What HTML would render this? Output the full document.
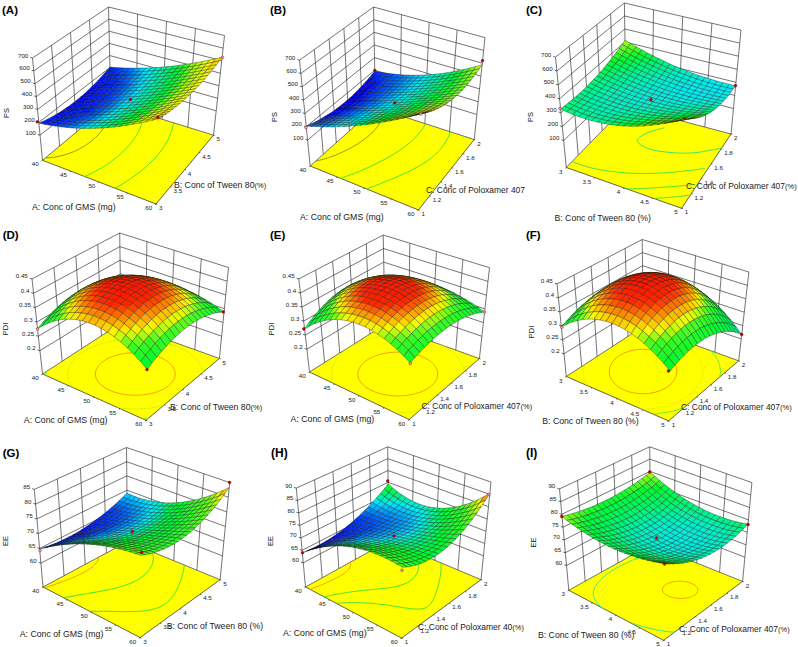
<!DOCTYPE html>
<html><head><meta charset="utf-8"><title>Figure</title>
<style>html,body{margin:0;padding:0;background:#fff}svg{display:block;font-family:"Liberation Sans", sans-serif}</style>
</head><body>
<svg width="798" height="647" viewBox="0 0 798 647">
<rect width="798" height="647" fill="#fff"/>
<g id="pA"><polygon points="42.5,160.3 156.0,204.0 213.5,135.2 110.8,103.3" fill="#ffff00"/>
<path d="M42.5,160.3L32.5,58.0M59.6,146.1L51.5,45.2M76.7,131.8L70.5,32.5M93.7,117.5L89.5,19.8M110.8,103.3L108.5,7.0M136.5,111.3L137.5,14.2M162.2,119.2L166.5,21.3M187.8,127.2L195.5,28.5M213.5,135.2L224.5,35.6M42.5,160.3L110.8,103.3M110.8,103.3L213.5,135.2M40.0,135.2L110.2,79.7M110.2,79.7L216.2,110.8M38.8,122.4L109.9,67.6M109.9,67.6L217.6,98.3M37.5,109.5L109.7,55.5M109.7,55.5L219.0,85.7M36.3,96.6L109.4,43.4M109.4,43.4L220.3,73.2M35.0,83.7L109.1,31.2M109.1,31.2L221.7,60.7M33.8,70.9L108.8,19.1M108.8,19.1L223.1,48.1M32.5,58.0L108.5,7.0M108.5,7.0L224.5,35.6" stroke="#3a3a3a" stroke-width="0.7" fill="none"/>
<path d="M42.5,160.3L156.0,204.0L213.5,135.2M42.5,160.3L41.5,161.1M70.9,171.2L69.9,172.1M99.2,182.2L98.3,183.0M127.6,193.1L126.6,193.9M156.0,204.0L155.0,204.8M156.0,204.0L157.2,204.4M170.4,186.8L171.6,187.2M184.8,169.6L186.0,170.0M199.1,152.4L200.4,152.8M213.5,135.2L214.7,135.6M40.0,135.2L37.8,134.5M38.8,122.4L36.6,121.7M37.5,109.5L35.3,108.8M36.3,96.6L34.1,95.9M35.0,83.7L32.8,83.0M33.8,70.9L31.6,70.2M32.5,58.0L30.3,57.3" stroke="#222" stroke-width="0.7" fill="none"/>
<path d="M46.3,157.8L49.5,157.7 49.6,157.7 52.9,157.3 53.5,157.3 56.5,156.8 57.0,156.7 60.2,156.0 60.3,156.0 63.1,155.3 64.5,154.9 65.9,154.5 68.5,153.6 69.2,153.4 71.0,152.7 73.3,151.8 74.5,151.2 75.5,150.8 77.6,149.8 79.6,148.7 81.1,147.9 81.6,147.7 83.4,146.6 85.2,145.5 86.9,144.4 88.5,143.3 90.1,142.1 91.6,140.9 93.0,139.8 94.2,138.7 94.4,138.6 94.8,138.2 95.7,137.4 97.0,136.2 98.1,134.9 99.3,133.7 100.3,132.4 101.4,131.2 102.3,129.9 103.2,128.6 103.9,127.5 104.0,127.3 104.8,126.0 105.5,124.7 106.1,123.4 106.3,122.9 106.6,122.0 107.1,120.6 107.5,119.3 107.5,119.3 107.8,117.9 108.1,116.4 108.1,116.4 108.2,115.0 108.2,113.9 108.2,113.5 108.1,112.0 108.1,111.7 107.9,110.5 107.7,109.7 107.5,108.9 107.1,107.9 106.9,107.3 106.4,106.2" stroke="#55552a" stroke-width="0.6" fill="none" stroke-linecap="round"/>
<path d="M143.0,113.1L143.1,114.1 143.1,114.6 143.0,116.0 143.0,116.7 142.9,117.4 142.7,118.8 142.6,119.7 142.5,120.2 142.2,121.6 141.9,123.0 141.8,123.0 141.4,124.3 141.0,125.7 140.6,126.9 140.5,127.1 140.0,128.4 139.4,129.8 138.7,131.1 138.4,131.7 138.0,132.4 137.3,133.8 136.6,135.1 135.7,136.4 134.9,137.7 134.5,138.3 134.0,139.0 133.1,140.3 132.1,141.6 131.1,142.9 130.0,144.2 128.9,145.5 127.8,146.8 126.6,148.1 125.4,149.3 124.1,150.6 122.8,151.9 121.4,153.1 120.0,154.4 118.6,155.6 117.1,156.9 115.6,158.1 114.0,159.3 112.4,160.5 110.8,161.8 110.2,162.2 109.1,163.0 107.3,164.2 105.5,165.4 103.7,166.5 101.8,167.7 101.1,168.1 99.8,168.9 97.8,170.0 95.8,171.2 93.9,172.1 93.7,172.3 91.5,173.4 89.2,174.5 87.7,175.2 86.9,175.6 84.5,176.6" stroke="#30e040" stroke-width="0.9" fill="none" stroke-linecap="round"/>
<path d="M173.6,122.8L173.3,124.2 173.2,124.7 173.0,125.6 172.7,126.9 172.3,128.3 172.3,128.5 171.9,129.7 171.5,131.1 171.0,132.4 170.8,133.0 170.5,133.8 170.0,135.2 169.4,136.5 168.8,137.9 168.6,138.4 168.2,139.3 167.5,140.6 166.7,142.0 166.0,143.3 165.2,144.7 164.5,145.7 164.4,146.0 163.5,147.4 162.6,148.7 161.6,150.0 160.6,151.4 159.6,152.7 158.5,154.0 157.4,155.3 156.3,156.6 155.1,158.0 153.9,159.3 152.6,160.6 151.3,161.9 150.0,163.2 148.6,164.5 147.2,165.8 145.7,167.0 144.2,168.3 142.7,169.6 141.1,170.9 140.5,171.4 139.5,172.2 137.9,173.4 136.2,174.7 134.5,175.9 132.7,177.2 130.9,178.4 130.6,178.7 129.1,179.7 127.2,180.9 125.3,182.2 123.4,183.4 122.5,184.0 121.4,184.6 119.4,185.9 117.3,187.1 115.2,188.3" stroke="#30e040" stroke-width="0.9" fill="none" stroke-linecap="round"/>
<g stroke="#101010" stroke-width="0.33" stroke-linejoin="round"><path d="M106.7,70.7L111.7,71.1L114.8,67.4L109.8,67.0Z" fill="#0025f7"/><path d="M111.7,71.1L116.8,71.3L119.8,67.7L114.8,67.4Z" fill="#0035f7"/><path d="M103.6,74.3L108.6,74.6L111.7,71.1L106.7,70.7Z" fill="#0020f6"/><path d="M108.6,74.6L113.7,74.9L116.8,71.3L111.7,71.1Z" fill="#0025f7"/><path d="M116.8,71.3L121.9,71.5L124.9,68.0L119.8,67.7Z" fill="#0047f8"/><path d="M100.4,77.8L105.5,78.1L108.6,74.6L103.6,74.3Z" fill="#001bf6"/><path d="M97.3,81.2L102.3,81.5L105.5,78.1L100.4,77.8Z" fill="#0017f6"/><path d="M105.5,78.1L110.5,78.3L113.7,74.9L108.6,74.6Z" fill="#0021f6"/><path d="M113.7,74.9L118.8,75.0L121.9,71.5L116.8,71.3Z" fill="#0038f7"/><path d="M121.9,71.5L127.0,71.7L130.1,68.1L124.9,68.0Z" fill="#005bf9"/><path d="M127.0,71.7L132.2,71.7L135.3,68.2L130.1,68.1Z" fill="#007bfa"/><path d="M94.0,84.5L99.1,84.8L102.3,81.5L97.3,81.2Z" fill="#0014f6"/><path d="M102.3,81.5L107.4,81.7L110.5,78.3L105.5,78.1Z" fill="#001df6"/><path d="M110.5,78.3L115.7,78.5L118.8,75.0L113.7,74.9Z" fill="#002af7"/><path d="M118.8,75.0L124.0,75.1L127.0,71.7L121.9,71.5Z" fill="#004cf8"/><path d="M90.7,87.8L95.8,88.0L99.1,84.8L94.0,84.5Z" fill="#0011f6"/><path d="M107.4,81.7L112.5,81.8L115.7,78.5L110.5,78.3Z" fill="#0023f6"/><path d="M124.0,75.1L129.2,75.1L132.2,71.7L127.0,71.7Z" fill="#0063f9"/><path d="M132.2,71.7L137.5,71.6L140.5,68.1L135.3,68.2Z" fill="#00a0fc"/><path d="M99.1,84.8L104.2,85.0L107.4,81.7L102.3,81.5Z" fill="#001af6"/><path d="M115.7,78.5L120.8,78.5L124.0,75.1L118.8,75.0Z" fill="#003ef8"/><path d="M95.8,88.0L100.9,88.2L104.2,85.0L99.1,84.8Z" fill="#0017f6"/><path d="M87.4,90.9L92.5,91.2L95.8,88.0L90.7,87.8Z" fill="#000ff6"/><path d="M104.2,85.0L109.3,85.1L112.5,81.8L107.4,81.7Z" fill="#0020f6"/><path d="M112.5,81.8L117.7,81.9L120.8,78.5L115.7,78.5Z" fill="#0033f7"/><path d="M120.8,78.5L126.1,78.5L129.2,75.1L124.0,75.1Z" fill="#0054f9"/><path d="M129.2,75.1L134.5,75.1L137.5,71.6L132.2,71.7Z" fill="#0089fb"/><path d="M137.5,71.6L142.9,71.5L145.9,68.0L140.5,68.1Z" fill="#00c7fd"/><path d="M92.5,91.2L97.6,91.3L100.9,88.2L95.8,88.0Z" fill="#0015f6"/><path d="M100.9,88.2L106.1,88.3L109.3,85.1L104.2,85.0Z" fill="#001df6"/><path d="M117.7,81.9L122.9,81.8L126.1,78.5L120.8,78.5Z" fill="#0049f8"/><path d="M142.9,71.5L148.3,71.3L151.3,67.8L145.9,68.0Z" fill="#00ebfb"/><path d="M84.1,94.0L89.1,94.2L92.5,91.2L87.4,90.9Z" fill="#000df6"/><path d="M109.3,85.1L114.5,85.1L117.7,81.9L112.5,81.8Z" fill="#0028f7"/><path d="M126.1,78.5L131.4,78.4L134.5,75.1L129.2,75.1Z" fill="#0075fa"/><path d="M134.5,75.1L139.8,74.9L142.9,71.5L137.5,71.6Z" fill="#00b1fd"/><path d="M80.6,96.9L85.7,97.2L89.1,94.2L84.1,94.0Z" fill="#000bf5"/><path d="M89.1,94.2L94.3,94.4L97.6,91.3L92.5,91.2Z" fill="#0013f6"/><path d="M97.6,91.3L102.8,91.5L106.1,88.3L100.9,88.2Z" fill="#001bf6"/><path d="M106.1,88.3L111.3,88.4L114.5,85.1L109.3,85.1Z" fill="#0024f7"/><path d="M114.5,85.1L119.8,85.1L122.9,81.8L117.7,81.9Z" fill="#003ff8"/><path d="M122.9,81.8L128.3,81.8L131.4,78.4L126.1,78.5Z" fill="#0063f9"/><path d="M139.8,74.9L145.2,74.7L148.3,71.3L142.9,71.5Z" fill="#00dbfe"/><path d="M148.3,71.3L153.7,70.9L156.7,67.5L151.3,67.8Z" fill="#00eedb"/><path d="M131.4,78.4L136.7,78.3L139.8,74.9L134.5,75.1Z" fill="#009dfc"/><path d="M111.3,88.4L116.6,88.3L119.8,85.1L114.5,85.1Z" fill="#0037f7"/><path d="M153.7,70.9L159.3,70.5L162.2,67.1L156.7,67.5Z" fill="#00f0b9"/><path d="M77.2,99.8L82.3,100.1L85.7,97.2L80.6,96.9Z" fill="#000bf5"/><path d="M85.7,97.2L90.9,97.4L94.3,94.4L89.1,94.2Z" fill="#0012f6"/><path d="M94.3,94.4L99.5,94.5L102.8,91.5L97.6,91.3Z" fill="#0019f6"/><path d="M102.8,91.5L108.0,91.5L111.3,88.4L106.1,88.3Z" fill="#0022f6"/><path d="M119.8,85.1L125.1,85.0L128.3,81.8L122.9,81.8Z" fill="#0057f9"/><path d="M128.3,81.8L133.6,81.6L136.7,78.3L131.4,78.4Z" fill="#008cfb"/><path d="M136.7,78.3L142.2,78.0L145.2,74.7L139.8,74.9Z" fill="#00c8fd"/><path d="M145.2,74.7L150.7,74.3L153.7,70.9L148.3,71.3Z" fill="#00edea"/><path d="M90.9,97.4L96.1,97.6L99.5,94.5L94.3,94.4Z" fill="#0018f6"/><path d="M108.0,91.5L113.3,91.5L116.6,88.3L111.3,88.4Z" fill="#0030f7"/><path d="M116.6,88.3L121.9,88.2L125.1,85.0L119.8,85.1Z" fill="#004ff8"/><path d="M133.6,81.6L139.1,81.3L142.2,78.0L136.7,78.3Z" fill="#00b7fd"/><path d="M150.7,74.3L156.3,73.9L159.3,70.5L153.7,70.9Z" fill="#00efc8"/><path d="M159.3,70.5L164.9,70.0L167.8,66.6L162.2,67.1Z" fill="#00f396"/><path d="M82.3,100.1L87.4,100.3L90.9,97.4L85.7,97.2Z" fill="#0011f6"/><path d="M73.7,102.6L78.8,102.9L82.3,100.1L77.2,99.8Z" fill="#000bf5"/><path d="M99.5,94.5L104.7,94.6L108.0,91.5L102.8,91.5Z" fill="#0020f6"/><path d="M125.1,85.0L130.5,84.9L133.6,81.6L128.3,81.8Z" fill="#007dfa"/><path d="M142.2,78.0L147.7,77.7L150.7,74.3L145.2,74.7Z" fill="#00ebf8"/><path d="M70.1,105.2L75.2,105.6L78.8,102.9L73.7,102.6Z" fill="#000bf5"/><path d="M87.4,100.3L92.7,100.5L96.1,97.6L90.9,97.4Z" fill="#0017f6"/><path d="M96.1,97.6L101.3,97.6L104.7,94.6L99.5,94.5Z" fill="#001ff6"/><path d="M104.7,94.6L110.0,94.6L113.3,91.5L108.0,91.5Z" fill="#002af7"/><path d="M113.3,91.5L118.7,91.4L121.9,88.2L116.6,88.3Z" fill="#0048f8"/><path d="M121.9,88.2L127.3,88.1L130.5,84.9L125.1,85.0Z" fill="#006ffa"/><path d="M130.5,84.9L136.0,84.6L139.1,81.3L133.6,81.6Z" fill="#00a8fc"/><path d="M139.1,81.3L144.6,81.0L147.7,77.7L142.2,78.0Z" fill="#00e4ff"/><path d="M147.7,77.7L153.2,77.3L156.3,73.9L150.7,74.3Z" fill="#00eed6"/><path d="M156.3,73.9L161.9,73.4L164.9,70.0L159.3,70.5Z" fill="#00f2a4"/><path d="M164.9,70.0L170.6,69.4L173.5,66.0L167.8,66.6Z" fill="#00f572"/><path d="M78.8,102.9L84.0,103.2L87.4,100.3L82.3,100.1Z" fill="#0011f6"/><path d="M101.3,97.6L106.7,97.7L110.0,94.6L104.7,94.6Z" fill="#0026f7"/><path d="M127.3,88.1L132.8,87.8L136.0,84.6L130.5,84.9Z" fill="#009bfc"/><path d="M144.6,81.0L150.2,80.6L153.2,77.3L147.7,77.7Z" fill="#00ede2"/><path d="M170.6,69.4L176.4,68.7L179.3,65.2L173.5,66.0Z" fill="#00f84e"/><path d="M75.2,105.6L80.4,105.9L84.0,103.2L78.8,102.9Z" fill="#0011f6"/><path d="M66.4,107.8L71.6,108.3L75.2,105.6L70.1,105.2Z" fill="#000cf6"/><path d="M84.0,103.2L89.2,103.4L92.7,100.5L87.4,100.3Z" fill="#0017f6"/><path d="M92.7,100.5L97.9,100.6L101.3,97.6L96.1,97.6Z" fill="#001ef6"/><path d="M110.0,94.6L115.4,94.5L118.7,91.4L113.3,91.5Z" fill="#0043f8"/><path d="M118.7,91.4L124.1,91.3L127.3,88.1L121.9,88.2Z" fill="#0065f9"/><path d="M136.0,84.6L141.5,84.3L144.6,81.0L139.1,81.3Z" fill="#00d5fe"/><path d="M153.2,77.3L158.9,76.8L161.9,73.4L156.3,73.9Z" fill="#00f1b2"/><path d="M161.9,73.4L167.6,72.9L170.6,69.4L164.9,70.0Z" fill="#00f47f"/><path d="M62.7,110.3L67.9,110.8L71.6,108.3L66.4,107.8Z" fill="#000df6"/><path d="M80.4,105.9L85.7,106.2L89.2,103.4L84.0,103.2Z" fill="#0017f6"/><path d="M97.9,100.6L103.3,100.6L106.7,97.7L101.3,97.6Z" fill="#0025f7"/><path d="M106.7,97.7L112.0,97.6L115.4,94.5L110.0,94.6Z" fill="#003ff8"/><path d="M124.1,91.3L129.6,91.0L132.8,87.8L127.3,88.1Z" fill="#0091fb"/><path d="M132.8,87.8L138.3,87.5L141.5,84.3L136.0,84.6Z" fill="#00c9fe"/><path d="M141.5,84.3L147.1,83.9L150.2,80.6L144.6,81.0Z" fill="#00ecec"/><path d="M150.2,80.6L155.8,80.2L158.9,76.8L153.2,77.3Z" fill="#00f0bd"/><path d="M167.6,72.9L173.4,72.2L176.4,68.7L170.6,69.4Z" fill="#00f75b"/><path d="M176.4,68.7L182.2,67.9L185.1,64.4L179.3,65.2Z" fill="#0cfa30"/><path d="M71.6,108.3L76.8,108.6L80.4,105.9L75.2,105.6Z" fill="#0012f6"/><path d="M89.2,103.4L94.5,103.5L97.9,100.6L92.7,100.5Z" fill="#001ef6"/><path d="M115.4,94.5L120.8,94.4L124.1,91.3L118.7,91.4Z" fill="#005df9"/><path d="M158.9,76.8L164.6,76.2L167.6,72.9L161.9,73.4Z" fill="#00f38c"/><path d="M138.3,87.5L143.9,87.2L147.1,83.9L141.5,84.3Z" fill="#00ecf5"/><path d="M67.9,110.8L73.1,111.2L76.8,108.6L71.6,108.3Z" fill="#0013f6"/><path d="M59.0,112.7L64.2,113.3L67.9,110.8L62.7,110.3Z" fill="#000ff6"/><path d="M76.8,108.6L82.1,108.9L85.7,106.2L80.4,105.9Z" fill="#0018f6"/><path d="M85.7,106.2L91.0,106.4L94.5,103.5L89.2,103.4Z" fill="#001ef6"/><path d="M103.3,100.6L108.7,100.6L112.0,97.6L106.7,97.7Z" fill="#003cf8"/><path d="M112.0,97.6L117.5,97.5L120.8,94.4L115.4,94.5Z" fill="#0059f9"/><path d="M120.8,94.4L126.3,94.2L129.6,91.0L124.1,91.3Z" fill="#0088fb"/><path d="M129.6,91.0L135.1,90.7L138.3,87.5L132.8,87.8Z" fill="#00befd"/><path d="M147.1,83.9L152.8,83.5L155.8,80.2L150.2,80.6Z" fill="#00efc8"/><path d="M155.8,80.2L161.6,79.6L164.6,76.2L158.9,76.8Z" fill="#00f398"/><path d="M164.6,76.2L170.4,75.6L173.4,72.2L167.6,72.9Z" fill="#00f667"/><path d="M173.4,72.2L179.3,71.4L182.2,67.9L176.4,68.7Z" fill="#00fa36"/><path d="M182.2,67.9L188.2,67.0L191.0,63.5L185.1,64.4Z" fill="#42fb25"/><path d="M94.5,103.5L99.8,103.6L103.3,100.6L97.9,100.6Z" fill="#0025f7"/><path d="M73.1,111.2L78.4,111.6L82.1,108.9L76.8,108.6Z" fill="#0019f6"/><path d="M117.5,97.5L123.0,97.3L126.3,94.2L120.8,94.4Z" fill="#0082fb"/><path d="M135.1,90.7L140.8,90.4L143.9,87.2L138.3,87.5Z" fill="#00ebfd"/><path d="M143.9,87.2L149.6,86.7L152.8,83.5L147.1,83.9Z" fill="#00eed1"/><path d="M161.6,79.6L167.4,79.0L170.4,75.6L164.6,76.2Z" fill="#00f572"/><path d="M188.2,67.0L194.2,66.0L197.1,62.4L191.0,63.5Z" fill="#91fb15"/><path d="M91.0,106.4L96.3,106.5L99.8,103.6L94.5,103.5Z" fill="#0025f7"/><path d="M55.1,115.0L60.4,115.7L64.2,113.3L59.0,112.7Z" fill="#0012f6"/><path d="M64.2,113.3L69.4,113.8L73.1,111.2L67.9,110.8Z" fill="#0015f6"/><path d="M82.1,108.9L87.4,109.1L91.0,106.4L85.7,106.2Z" fill="#001ef6"/><path d="M99.8,103.6L105.3,103.6L108.7,100.6L103.3,100.6Z" fill="#003bf8"/><path d="M108.7,100.6L114.1,100.5L117.5,97.5L112.0,97.6Z" fill="#0056f9"/><path d="M126.3,94.2L131.9,93.9L135.1,90.7L129.6,91.0Z" fill="#00b6fd"/><path d="M152.8,83.5L158.5,82.9L161.6,79.6L155.8,80.2Z" fill="#00f2a2"/><path d="M170.4,75.6L176.3,74.8L179.3,71.4L173.4,72.2Z" fill="#00f942"/><path d="M179.3,71.4L185.2,70.5L188.2,67.0L182.2,67.9Z" fill="#2cfa29"/><path d="M78.4,111.6L83.8,111.9L87.4,109.1L82.1,108.9Z" fill="#001ff6"/><path d="M51.2,117.2L56.5,117.9L60.4,115.7L55.1,115.0Z" fill="#0015f6"/><path d="M69.4,113.8L74.7,114.2L78.4,111.6L73.1,111.2Z" fill="#001bf6"/><path d="M96.3,106.5L101.8,106.5L105.3,103.6L99.8,103.6Z" fill="#003bf8"/><path d="M114.1,100.5L119.7,100.3L123.0,97.3L117.5,97.5Z" fill="#007dfa"/><path d="M123.0,97.3L128.6,97.0L131.9,93.9L126.3,94.2Z" fill="#00b0fc"/><path d="M131.9,93.9L137.5,93.5L140.8,90.4L135.1,90.7Z" fill="#00e6ff"/><path d="M140.8,90.4L146.5,89.9L149.6,86.7L143.9,87.2Z" fill="#00eed8"/><path d="M149.6,86.7L155.4,86.2L158.5,82.9L152.8,83.5Z" fill="#00f1ab"/><path d="M158.5,82.9L164.4,82.3L167.4,79.0L161.6,79.6Z" fill="#00f57c"/><path d="M167.4,79.0L173.3,78.2L176.3,74.8L170.4,75.6Z" fill="#00f84d"/><path d="M185.2,70.5L191.3,69.6L194.2,66.0L188.2,67.0Z" fill="#76fb1b"/><path d="M194.2,66.0L200.3,64.9L203.2,61.3L197.1,62.4Z" fill="#befc0c"/><path d="M60.4,115.7L65.6,116.2L69.4,113.8L64.2,113.3Z" fill="#0017f6"/><path d="M87.4,109.1L92.8,109.3L96.3,106.5L91.0,106.4Z" fill="#0025f7"/><path d="M105.3,103.6L110.7,103.5L114.1,100.5L108.7,100.6Z" fill="#0055f9"/><path d="M176.3,74.8L182.3,74.0L185.2,70.5L179.3,71.4Z" fill="#1cfa2c"/><path d="M128.6,97.0L134.3,96.7L137.5,93.5L131.9,93.9Z" fill="#00e0ff"/><path d="M155.4,86.2L161.3,85.6L164.4,82.3L158.5,82.9Z" fill="#00f484"/><path d="M200.3,64.9L206.5,63.7L209.4,60.0L203.2,61.3Z" fill="#e3fc05"/><path d="M83.8,111.9L89.2,112.0L92.8,109.3L87.4,109.1Z" fill="#0027f7"/><path d="M47.2,119.3L52.5,120.1L56.5,117.9L51.2,117.2Z" fill="#0019f6"/><path d="M56.5,117.9L61.8,118.6L65.6,116.2L60.4,115.7Z" fill="#001af6"/><path d="M65.6,116.2L71.0,116.7L74.7,114.2L69.4,113.8Z" fill="#001df6"/><path d="M74.7,114.2L80.1,114.5L83.8,111.9L78.4,111.6Z" fill="#0021f6"/><path d="M92.8,109.3L98.2,109.3L101.8,106.5L96.3,106.5Z" fill="#003df8"/><path d="M101.8,106.5L107.3,106.4L110.7,103.5L105.3,103.6Z" fill="#0055f9"/><path d="M110.7,103.5L116.3,103.3L119.7,100.3L114.1,100.5Z" fill="#007bfa"/><path d="M119.7,100.3L125.3,100.1L128.6,97.0L123.0,97.3Z" fill="#00abfc"/><path d="M137.5,93.5L143.3,93.1L146.5,89.9L140.8,90.4Z" fill="#00edde"/><path d="M146.5,89.9L152.3,89.4L155.4,86.2L149.6,86.7Z" fill="#00f1b2"/><path d="M164.4,82.3L170.3,81.6L173.3,78.2L167.4,79.0Z" fill="#00f756"/><path d="M173.3,78.2L179.3,77.4L182.3,74.0L176.3,74.8Z" fill="#0ffa2f"/><path d="M182.3,74.0L188.3,73.1L191.3,69.6L185.2,70.5Z" fill="#5dfb1f"/><path d="M191.3,69.6L197.4,68.5L200.3,64.9L194.2,66.0Z" fill="#b2fb0f"/><path d="M89.2,112.0L94.7,112.1L98.2,109.3L92.8,109.3Z" fill="#003ff8"/><path d="M107.3,106.4L112.9,106.3L116.3,103.3L110.7,103.5Z" fill="#007bfa"/><path d="M125.3,100.1L131.0,99.7L134.3,96.7L128.6,97.0Z" fill="#00dbfe"/><path d="M134.3,96.7L140.0,96.2L143.3,93.1L137.5,93.5Z" fill="#00ede3"/><path d="M152.3,89.4L158.1,88.8L161.3,85.6L155.4,86.2Z" fill="#00f38b"/><path d="M161.3,85.6L167.2,84.9L170.3,81.6L164.4,82.3Z" fill="#00f75e"/><path d="M179.3,77.4L185.4,76.5L188.3,73.1L182.3,74.0Z" fill="#48fb24"/><path d="M197.4,68.5L203.7,67.3L206.5,63.7L200.3,64.9Z" fill="#d6fc08"/><path d="M206.5,63.7L212.9,62.4L215.7,58.6L209.4,60.0Z" fill="#fcf000"/><path d="M61.8,118.6L67.1,119.2L71.0,116.7L65.6,116.2Z" fill="#0020f6"/><path d="M80.1,114.5L85.5,114.8L89.2,112.0L83.8,111.9Z" fill="#002cf7"/><path d="M43.2,121.3L48.5,122.2L52.5,120.1L47.2,119.3Z" fill="#001df6"/><path d="M52.5,120.1L57.8,120.9L61.8,118.6L56.5,117.9Z" fill="#001ef6"/><path d="M71.0,116.7L76.4,117.1L80.1,114.5L74.7,114.2Z" fill="#0023f6"/><path d="M98.2,109.3L103.8,109.3L107.3,106.4L101.8,106.5Z" fill="#0056f9"/><path d="M116.3,103.3L121.9,103.1L125.3,100.1L119.7,100.3Z" fill="#00a9fc"/><path d="M143.3,93.1L149.1,92.6L152.3,89.4L146.5,89.9Z" fill="#00f0b8"/><path d="M170.3,81.6L176.3,80.8L179.3,77.4L173.3,78.2Z" fill="#03fa31"/><path d="M188.3,73.1L194.5,72.0L197.4,68.5L191.3,69.6Z" fill="#a7fb11"/><path d="M39.0,123.1L44.4,124.3L48.5,122.2L43.2,121.3Z" fill="#0022f6"/><path d="M48.5,122.2L53.8,123.1L57.8,120.9L52.5,120.1Z" fill="#0022f6"/><path d="M57.8,120.9L63.2,121.6L67.1,119.2L61.8,118.6Z" fill="#0023f6"/><path d="M67.1,119.2L72.5,119.6L76.4,117.1L71.0,116.7Z" fill="#0025f7"/><path d="M76.4,117.1L81.8,117.4L85.5,114.8L80.1,114.5Z" fill="#0032f7"/><path d="M85.5,114.8L91.0,114.9L94.7,112.1L89.2,112.0Z" fill="#0044f8"/><path d="M94.7,112.1L100.2,112.2L103.8,109.3L98.2,109.3Z" fill="#0058f9"/><path d="M103.8,109.3L109.4,109.2L112.9,106.3L107.3,106.4Z" fill="#007dfa"/><path d="M112.9,106.3L118.5,106.1L121.9,103.1L116.3,103.3Z" fill="#00a9fc"/><path d="M121.9,103.1L127.6,102.8L131.0,99.7L125.3,100.1Z" fill="#00d9fe"/><path d="M131.0,99.7L136.7,99.3L140.0,96.2L134.3,96.7Z" fill="#00ede6"/><path d="M140.0,96.2L145.9,95.7L149.1,92.6L143.3,93.1Z" fill="#00f0bc"/><path d="M149.1,92.6L155.0,92.0L158.1,88.8L152.3,89.4Z" fill="#00f391"/><path d="M158.1,88.8L164.1,88.1L167.2,84.9L161.3,85.6Z" fill="#00f665"/><path d="M167.2,84.9L173.2,84.1L176.3,80.8L170.3,81.6Z" fill="#00fa37"/><path d="M176.3,80.8L182.4,79.9L185.4,76.5L179.3,77.4Z" fill="#36fa27"/><path d="M185.4,76.5L191.6,75.5L194.5,72.0L188.3,73.1Z" fill="#98fb14"/><path d="M194.5,72.0L200.8,70.9L203.7,67.3L197.4,68.5Z" fill="#cbfc0a"/><path d="M203.7,67.3L210.0,66.1L212.9,62.4L206.5,63.7Z" fill="#fcfc00"/><path d="M212.9,62.4L219.3,60.9L222.1,57.1L215.7,58.6Z" fill="#fdcf00"/><path d="M100.2,112.2L105.8,112.1L109.4,109.2L103.8,109.3Z" fill="#0080fa"/><path d="M118.5,106.1L124.2,105.8L127.6,102.8L121.9,103.1Z" fill="#00d9fe"/><path d="M145.9,95.7L151.8,95.2L155.0,92.0L149.1,92.6Z" fill="#00f395"/><path d="M173.2,84.1L179.4,83.2L182.4,79.9L176.3,80.8Z" fill="#2bfa2a"/><path d="M191.6,75.5L197.8,74.4L200.8,70.9L194.5,72.0Z" fill="#c1fc0c"/><path d="M53.8,123.1L59.3,123.9L63.2,121.6L57.8,120.9Z" fill="#0028f7"/><path d="M72.5,119.6L78.0,120.0L81.8,117.4L76.4,117.1Z" fill="#003af7"/><path d="M44.4,124.3L49.8,125.2L53.8,123.1L48.5,122.2Z" fill="#0027f7"/><path d="M63.2,121.6L68.7,122.1L72.5,119.6L67.1,119.2Z" fill="#002ef7"/><path d="M81.8,117.4L87.3,117.6L91.0,114.9L85.5,114.8Z" fill="#0049f8"/><path d="M91.0,114.9L96.6,115.0L100.2,112.2L94.7,112.1Z" fill="#005cf9"/><path d="M109.4,109.2L115.0,109.0L118.5,106.1L112.9,106.3Z" fill="#00abfc"/><path d="M127.6,102.8L133.4,102.4L136.7,99.3L131.0,99.7Z" fill="#00ede7"/><path d="M136.7,99.3L142.6,98.8L145.9,95.7L140.0,96.2Z" fill="#00f0bf"/><path d="M155.0,92.0L161.0,91.3L164.1,88.1L158.1,88.8Z" fill="#00f66a"/><path d="M164.1,88.1L170.1,87.4L173.2,84.1L167.2,84.9Z" fill="#00f93e"/><path d="M182.4,79.9L188.6,78.9L191.6,75.5L185.4,76.5Z" fill="#85fb18"/><path d="M200.8,70.9L207.1,69.7L210.0,66.1L203.7,67.3Z" fill="#f0fc02"/><path d="M210.0,66.1L216.5,64.7L219.3,60.9L212.9,62.4Z" fill="#fcda00"/><path d="M96.6,115.0L102.2,114.9L105.8,112.1L100.2,112.2Z" fill="#0086fb"/><path d="M105.8,112.1L111.5,111.9L115.0,109.0L109.4,109.2Z" fill="#00aefc"/><path d="M115.0,109.0L120.8,108.7L124.2,105.8L118.5,106.1Z" fill="#00dafe"/><path d="M124.2,105.8L130.0,105.4L133.4,102.4L127.6,102.8Z" fill="#00ede7"/><path d="M142.6,98.8L148.5,98.3L151.8,95.2L145.9,95.7Z" fill="#00f398"/><path d="M151.8,95.2L157.8,94.5L161.0,91.3L155.0,92.0Z" fill="#00f66e"/><path d="M170.1,87.4L176.3,86.5L179.4,83.2L173.2,84.1Z" fill="#22fa2b"/><path d="M179.4,83.2L185.6,82.3L188.6,78.9L182.4,79.9Z" fill="#75fb1b"/><path d="M188.6,78.9L194.9,77.9L197.8,74.4L191.6,75.5Z" fill="#b9fb0d"/><path d="M197.8,74.4L204.2,73.2L207.1,69.7L200.8,70.9Z" fill="#e6fc04"/><path d="M49.8,125.2L55.2,126.1L59.3,123.9L53.8,123.1Z" fill="#0036f7"/><path d="M59.3,123.9L64.7,124.5L68.7,122.1L63.2,121.6Z" fill="#0039f7"/><path d="M68.7,122.1L74.2,122.5L78.0,120.0L72.5,119.6Z" fill="#0042f8"/><path d="M78.0,120.0L83.6,120.3L87.3,117.6L81.8,117.4Z" fill="#0050f8"/><path d="M87.3,117.6L92.9,117.7L96.6,115.0L91.0,114.9Z" fill="#0064f9"/><path d="M133.4,102.4L139.3,101.9L142.6,98.8L136.7,99.3Z" fill="#00f0c1"/><path d="M161.0,91.3L167.0,90.6L170.1,87.4L164.1,88.1Z" fill="#00f943"/><path d="M207.1,69.7L213.6,68.3L216.5,64.7L210.0,66.1Z" fill="#fce300"/><path d="M111.5,111.9L117.3,111.7L120.8,108.7L115.0,109.0Z" fill="#00defe"/><path d="M185.6,82.3L191.9,81.2L194.9,77.9L188.6,78.9Z" fill="#b2fb0f"/><path d="M64.7,124.5L70.2,125.0L74.2,122.5L68.7,122.1Z" fill="#004df8"/><path d="M92.9,117.7L98.6,117.7L102.2,114.9L96.6,115.0Z" fill="#008ffb"/><path d="M55.2,126.1L60.7,126.8L64.7,124.5L59.3,123.9Z" fill="#0046f8"/><path d="M74.2,122.5L79.7,122.8L83.6,120.3L78.0,120.0Z" fill="#0058f9"/><path d="M102.2,114.9L107.9,114.8L111.5,111.9L105.8,112.1Z" fill="#00b4fd"/><path d="M120.8,108.7L126.6,108.4L130.0,105.4L124.2,105.8Z" fill="#00ede6"/><path d="M130.0,105.4L135.9,104.9L139.3,101.9L133.4,102.4Z" fill="#00f0c1"/><path d="M139.3,101.9L145.2,101.3L148.5,98.3L142.6,98.8Z" fill="#00f299"/><path d="M148.5,98.3L154.5,97.6L157.8,94.5L151.8,95.2Z" fill="#00f570"/><path d="M157.8,94.5L163.9,93.7L167.0,90.6L161.0,91.3Z" fill="#00f847"/><path d="M167.0,90.6L173.2,89.7L176.3,86.5L170.1,87.4Z" fill="#1cfa2c"/><path d="M176.3,86.5L182.5,85.6L185.6,82.3L179.4,83.2Z" fill="#69fb1d"/><path d="M194.9,77.9L201.3,76.7L204.2,73.2L197.8,74.4Z" fill="#defc06"/><path d="M204.2,73.2L210.7,71.9L213.6,68.3L207.1,69.7Z" fill="#fcec00"/><path d="M83.6,120.3L89.2,120.4L92.9,117.7L87.3,117.6Z" fill="#006efa"/><path d="M107.9,114.8L113.7,114.5L117.3,111.7L111.5,111.9Z" fill="#00e4ff"/><path d="M117.3,111.7L123.1,111.3L126.6,108.4L120.8,108.7Z" fill="#00ede3"/><path d="M135.9,104.9L141.9,104.4L145.2,101.3L139.3,101.9Z" fill="#00f299"/><path d="M163.9,93.7L170.0,92.9L173.2,89.7L167.0,90.6Z" fill="#18fa2d"/><path d="M182.5,85.6L188.9,84.6L191.9,81.2L185.6,82.3Z" fill="#acfb10"/><path d="M191.9,81.2L198.3,80.1L201.3,76.7L194.9,77.9Z" fill="#d7fc07"/><path d="M89.2,120.4L94.8,120.4L98.6,117.7L92.9,117.7Z" fill="#0099fb"/><path d="M60.7,126.8L66.2,127.4L70.2,125.0L64.7,124.5Z" fill="#0059f9"/><path d="M70.2,125.0L75.8,125.4L79.7,122.8L74.2,122.5Z" fill="#0064f9"/><path d="M98.6,117.7L104.3,117.6L107.9,114.8L102.2,114.9Z" fill="#00bcfd"/><path d="M79.7,122.8L85.3,123.0L89.2,120.4L83.6,120.3Z" fill="#007bfa"/><path d="M126.6,108.4L132.5,107.9L135.9,104.9L130.0,105.4Z" fill="#00f0c0"/><path d="M145.2,101.3L151.3,100.7L154.5,97.6L148.5,98.3Z" fill="#00f572"/><path d="M154.5,97.6L160.6,96.9L163.9,93.7L157.8,94.5Z" fill="#00f849"/><path d="M173.2,89.7L179.4,88.8L182.5,85.6L176.3,86.5Z" fill="#5ffb1f"/><path d="M201.3,76.7L207.8,75.4L210.7,71.9L204.2,73.2Z" fill="#fcf500"/><path d="M104.3,117.6L110.1,117.4L113.7,114.5L107.9,114.8Z" fill="#00ebff"/><path d="M66.2,127.4L71.9,127.9L75.8,125.4L70.2,125.0Z" fill="#0077fa"/><path d="M85.3,123.0L91.0,123.1L94.8,120.4L89.2,120.4Z" fill="#00a5fc"/><path d="M94.8,120.4L100.6,120.4L104.3,117.6L98.6,117.7Z" fill="#00c6fd"/><path d="M113.7,114.5L119.6,114.2L123.1,111.3L117.3,111.7Z" fill="#00eddf"/><path d="M123.1,111.3L129.0,110.8L132.5,107.9L126.6,108.4Z" fill="#00f0bd"/><path d="M132.5,107.9L138.5,107.4L141.9,104.4L135.9,104.9Z" fill="#00f398"/><path d="M141.9,104.4L147.9,103.7L151.3,100.7L145.2,101.3Z" fill="#00f571"/><path d="M160.6,96.9L166.8,96.0L170.0,92.9L163.9,93.7Z" fill="#15fa2e"/><path d="M170.0,92.9L176.3,92.0L179.4,88.8L173.2,89.7Z" fill="#58fb20"/><path d="M179.4,88.8L185.8,87.8L188.9,84.6L182.5,85.6Z" fill="#a8fb11"/><path d="M188.9,84.6L195.3,83.4L198.3,80.1L191.9,81.2Z" fill="#d1fc09"/><path d="M198.3,80.1L204.8,78.9L207.8,75.4L201.3,76.7Z" fill="#fcfc00"/><path d="M75.8,125.4L81.5,125.6L85.3,123.0L79.7,122.8Z" fill="#008afb"/><path d="M151.3,100.7L157.4,99.9L160.6,96.9L154.5,97.6Z" fill="#00f84a"/><path d="M100.6,120.4L106.4,120.2L110.1,117.4L104.3,117.6Z" fill="#00ecf8"/><path d="M129.0,110.8L135.0,110.3L138.5,107.4L132.5,107.9Z" fill="#00f395"/><path d="M176.3,92.0L182.7,91.0L185.8,87.8L179.4,88.8Z" fill="#a5fb11"/><path d="M81.5,125.6L87.2,125.8L91.0,123.1L85.3,123.0Z" fill="#00b3fd"/><path d="M71.9,127.9L77.5,128.2L81.5,125.6L75.8,125.4Z" fill="#009cfc"/><path d="M91.0,123.1L96.8,123.1L100.6,120.4L94.8,120.4Z" fill="#00d1fe"/><path d="M110.1,117.4L116.0,117.0L119.6,114.2L113.7,114.5Z" fill="#00eeda"/><path d="M119.6,114.2L125.5,113.7L129.0,110.8L123.1,111.3Z" fill="#00f0b8"/><path d="M138.5,107.4L144.6,106.7L147.9,103.7L141.9,104.4Z" fill="#00f570"/><path d="M147.9,103.7L154.1,103.0L157.4,99.9L151.3,100.7Z" fill="#00f84a"/><path d="M157.4,99.9L163.6,99.1L166.8,96.0L160.6,96.9Z" fill="#14fa2e"/><path d="M166.8,96.0L173.1,95.1L176.3,92.0L170.0,92.9Z" fill="#55fb21"/><path d="M185.8,87.8L192.3,86.7L195.3,83.4L188.9,84.6Z" fill="#cdfc09"/><path d="M195.3,83.4L201.8,82.2L204.8,78.9L198.3,80.1Z" fill="#f7fc01"/><path d="M77.5,128.2L83.3,128.4L87.2,125.8L81.5,125.6Z" fill="#00c4fd"/><path d="M96.8,123.1L102.7,122.9L106.4,120.2L100.6,120.4Z" fill="#00ecef"/><path d="M106.4,120.2L112.3,119.9L116.0,117.0L110.1,117.4Z" fill="#00eed3"/><path d="M125.5,113.7L131.5,113.2L135.0,110.3L129.0,110.8Z" fill="#00f390"/><path d="M135.0,110.3L141.1,109.6L144.6,106.7L138.5,107.4Z" fill="#00f66d"/><path d="M154.1,103.0L160.3,102.1L163.6,99.1L157.4,99.9Z" fill="#15fa2e"/><path d="M173.1,95.1L179.6,94.1L182.7,91.0L176.3,92.0Z" fill="#a4fb11"/><path d="M182.7,91.0L189.2,89.9L192.3,86.7L185.8,87.8Z" fill="#cafc0a"/><path d="M87.2,125.8L93.0,125.8L96.8,123.1L91.0,123.1Z" fill="#00dffe"/><path d="M116.0,117.0L121.9,116.6L125.5,113.7L119.6,114.2Z" fill="#00f1b3"/><path d="M144.6,106.7L150.7,106.0L154.1,103.0L147.9,103.7Z" fill="#00f848"/><path d="M163.6,99.1L169.9,98.2L173.1,95.1L166.8,96.0Z" fill="#54fb21"/><path d="M192.3,86.7L198.8,85.5L201.8,82.2L195.3,83.4Z" fill="#f3fc02"/><path d="M93.0,125.8L98.8,125.6L102.7,122.9L96.8,123.1Z" fill="#00ede5"/><path d="M83.3,128.4L89.1,128.4L93.0,125.8L87.2,125.8Z" fill="#00ebfc"/><path d="M102.7,122.9L108.6,122.6L112.3,119.9L106.4,120.2Z" fill="#00efca"/><path d="M112.3,119.9L118.3,119.4L121.9,116.6L116.0,117.0Z" fill="#00f1ac"/><path d="M121.9,116.6L128.0,116.1L131.5,113.2L125.5,113.7Z" fill="#00f48a"/><path d="M131.5,113.2L137.7,112.5L141.1,109.6L135.0,110.3Z" fill="#00f668"/><path d="M141.1,109.6L147.3,108.9L150.7,106.0L144.6,106.7Z" fill="#00f944"/><path d="M150.7,106.0L157.0,105.1L160.3,102.1L154.1,103.0Z" fill="#18fa2d"/><path d="M160.3,102.1L166.7,101.2L169.9,98.2L163.6,99.1Z" fill="#56fb21"/><path d="M169.9,98.2L176.4,97.2L179.6,94.1L173.1,95.1Z" fill="#a4fb11"/><path d="M179.6,94.1L186.1,93.0L189.2,89.9L182.7,91.0Z" fill="#c9fc0a"/><path d="M189.2,89.9L195.8,88.7L198.8,85.5L192.3,86.7Z" fill="#f0fc02"/><path d="M89.1,128.4L95.0,128.3L98.8,125.6L93.0,125.8Z" fill="#00eed9"/><path d="M118.3,119.4L124.4,118.9L128.0,116.1L121.9,116.6Z" fill="#00f483"/><path d="M147.3,108.9L153.6,108.0L157.0,105.1L150.7,106.0Z" fill="#1dfa2c"/><path d="M166.7,101.2L173.2,100.2L176.4,97.2L169.9,98.2Z" fill="#a5fb11"/><path d="M98.8,125.6L104.8,125.4L108.6,122.6L102.7,122.9Z" fill="#00f0c0"/><path d="M108.6,122.6L114.6,122.2L118.3,119.4L112.3,119.9Z" fill="#00f2a3"/><path d="M128.0,116.1L134.1,115.4L137.7,112.5L131.5,113.2Z" fill="#00f662"/><path d="M137.7,112.5L143.9,111.8L147.3,108.9L141.1,109.6Z" fill="#00f93f"/><path d="M157.0,105.1L163.4,104.2L166.7,101.2L160.3,102.1Z" fill="#5cfb20"/><path d="M176.4,97.2L182.9,96.1L186.1,93.0L179.6,94.1Z" fill="#c9fc0a"/><path d="M186.1,93.0L192.7,91.8L195.8,88.7L189.2,89.9Z" fill="#effc03"/><path d="M95.0,128.3L100.9,128.1L104.8,125.4L98.8,125.6Z" fill="#00f0b5"/><path d="M104.8,125.4L110.8,125.0L114.6,122.2L108.6,122.6Z" fill="#00f299"/><path d="M114.6,122.2L120.7,121.7L124.4,118.9L118.3,119.4Z" fill="#00f57a"/><path d="M124.4,118.9L130.5,118.2L134.1,115.4L128.0,116.1Z" fill="#00f75b"/><path d="M143.9,111.8L150.2,110.9L153.6,108.0L147.3,108.9Z" fill="#23fa2b"/><path d="M153.6,108.0L160.1,107.1L163.4,104.2L157.0,105.1Z" fill="#64fb1e"/><path d="M163.4,104.2L169.9,103.1L173.2,100.2L166.7,101.2Z" fill="#a8fb11"/><path d="M173.2,100.2L179.7,99.0L182.9,96.1L176.4,97.2Z" fill="#cbfc0a"/><path d="M134.1,115.4L140.4,114.6L143.9,111.8L137.7,112.5Z" fill="#00f939"/><path d="M182.9,96.1L189.6,94.8L192.7,91.8L186.1,93.0Z" fill="#f0fc02"/><path d="M160.1,107.1L166.6,106.0L169.9,103.1L163.4,104.2Z" fill="#acfb10"/><path d="M100.9,128.1L107.0,127.7L110.8,125.0L104.8,125.4Z" fill="#00f38d"/><path d="M110.8,125.0L117.0,124.4L120.7,121.7L114.6,122.2Z" fill="#00f571"/><path d="M120.7,121.7L126.9,121.0L130.5,118.2L124.4,118.9Z" fill="#00f852"/><path d="M130.5,118.2L136.8,117.4L140.4,114.6L134.1,115.4Z" fill="#01fa32"/><path d="M140.4,114.6L146.7,113.7L150.2,110.9L143.9,111.8Z" fill="#2cfa29"/><path d="M150.2,110.9L156.7,109.9L160.1,107.1L153.6,108.0Z" fill="#6ffb1c"/><path d="M169.9,103.1L176.5,101.9L179.7,99.0L173.2,100.2Z" fill="#cefc09"/><path d="M179.7,99.0L186.4,97.8L189.6,94.8L182.9,96.1Z" fill="#f2fc02"/><path d="M107.0,127.7L113.2,127.1L117.0,124.4L110.8,125.0Z" fill="#00f666"/><path d="M136.8,117.4L143.2,116.5L146.7,113.7L140.4,114.6Z" fill="#38fa27"/><path d="M156.7,109.9L163.2,108.8L166.6,106.0L160.1,107.1Z" fill="#b2fb0f"/><path d="M166.6,106.0L173.2,104.8L176.5,101.9L169.9,103.1Z" fill="#d3fc08"/><path d="M117.0,124.4L123.2,123.7L126.9,121.0L120.7,121.7Z" fill="#00f848"/><path d="M126.9,121.0L133.2,120.1L136.8,117.4L130.5,118.2Z" fill="#0cfa30"/><path d="M146.7,113.7L153.2,112.7L156.7,109.9L150.2,110.9Z" fill="#7efb19"/><path d="M176.5,101.9L183.2,100.7L186.4,97.8L179.7,99.0Z" fill="#f6fc01"/><path d="M113.2,127.1L119.4,126.4L123.2,123.7L117.0,124.4Z" fill="#00f93d"/><path d="M133.2,120.1L139.6,119.2L143.2,116.5L136.8,117.4Z" fill="#4bfb23"/><path d="M143.2,116.5L149.7,115.4L153.2,112.7L146.7,113.7Z" fill="#8ffb16"/><path d="M153.2,112.7L159.8,111.5L163.2,108.8L156.7,109.9Z" fill="#b8fb0d"/><path d="M163.2,108.8L169.9,107.5L173.2,104.8L166.6,106.0Z" fill="#d9fc07"/><path d="M173.2,104.8L179.9,103.5L183.2,100.7L176.5,101.9Z" fill="#fbfc00"/><path d="M123.2,123.7L129.5,122.8L133.2,120.1L126.9,121.0Z" fill="#19fa2d"/><path d="M129.5,122.8L135.9,121.8L139.6,119.2L133.2,120.1Z" fill="#61fb1f"/><path d="M149.7,115.4L156.3,114.2L159.8,111.5L153.2,112.7Z" fill="#c1fc0c"/><path d="M119.4,126.4L125.8,125.5L129.5,122.8L123.2,123.7Z" fill="#28fa2a"/><path d="M139.6,119.2L146.1,118.1L149.7,115.4L143.2,116.5Z" fill="#a2fb12"/><path d="M159.8,111.5L166.5,110.2L169.9,107.5L163.2,108.8Z" fill="#e1fc05"/><path d="M169.9,107.5L176.6,106.2L179.9,103.5L173.2,104.8Z" fill="#fcf700"/><path d="M125.8,125.5L132.2,124.4L135.9,121.8L129.5,122.8Z" fill="#79fb1a"/><path d="M135.9,121.8L142.5,120.6L146.1,118.1L139.6,119.2Z" fill="#acfb10"/><path d="M146.1,118.1L152.8,116.8L156.3,114.2L149.7,115.4Z" fill="#cafc0a"/><path d="M156.3,114.2L163.0,112.8L166.5,110.2L159.8,111.5Z" fill="#eafc04"/><path d="M166.5,110.2L173.3,108.8L176.6,106.2L169.9,107.5Z" fill="#fcee00"/><path d="M132.2,124.4L138.8,123.2L142.5,120.6L135.9,121.8Z" fill="#b8fb0d"/><path d="M142.5,120.6L149.2,119.3L152.8,116.8L146.1,118.1Z" fill="#d6fc08"/><path d="M152.8,116.8L159.5,115.4L163.0,112.8L156.3,114.2Z" fill="#f4fc02"/><path d="M163.0,112.8L169.9,111.3L173.3,108.8L166.5,110.2Z" fill="#fce500"/><path d="M138.8,123.2L145.5,121.8L149.2,119.3L142.5,120.6Z" fill="#e2fc05"/><path d="M149.2,119.3L156.0,117.8L159.5,115.4L152.8,116.8Z" fill="#fcf800"/><path d="M159.5,115.4L166.4,113.8L169.9,111.3L163.0,112.8Z" fill="#fcdc00"/><path d="M145.5,121.8L152.3,120.2L156.0,117.8L149.2,119.3Z" fill="#fceb00"/><path d="M156.0,117.8L162.9,116.1L166.4,113.8L159.5,115.4Z" fill="#fdd200"/><path d="M152.3,120.2L159.3,118.4L162.9,116.1L156.0,117.8Z" fill="#fdc600"/></g>
<circle cx="37.2" cy="121.8" r="1.4" fill="#c00000" stroke="#700" stroke-width="0.4"/>
<circle cx="130.3" cy="99.5" r="1.4" fill="#c00000" stroke="#700" stroke-width="0.4"/>
<circle cx="157.8" cy="117.5" r="1.4" fill="#c00000" stroke="#700" stroke-width="0.4"/>
<circle cx="222.5" cy="57.5" r="1.4" fill="#f0a0a0" stroke="#700" stroke-width="0.4"/>
<text x="38.6" y="166.4" text-anchor="end" font-size="6.2" fill="#222">40</text>
<text x="67.0" y="177.3" text-anchor="end" font-size="6.2" fill="#222">45</text>
<text x="95.3" y="188.2" text-anchor="end" font-size="6.2" fill="#222">50</text>
<text x="123.7" y="199.2" text-anchor="end" font-size="6.2" fill="#222">55</text>
<text x="152.1" y="210.1" text-anchor="end" font-size="6.2" fill="#222">60</text>
<text x="159.1" y="210.1" text-anchor="start" font-size="6.2" fill="#222">3</text>
<text x="173.5" y="192.9" text-anchor="start" font-size="6.2" fill="#222">3.5</text>
<text x="187.8" y="175.7" text-anchor="start" font-size="6.2" fill="#222">4</text>
<text x="202.2" y="158.5" text-anchor="start" font-size="6.2" fill="#222">4.5</text>
<text x="216.6" y="141.3" text-anchor="start" font-size="6.2" fill="#222">5</text>
<text x="35.8" y="134.7" text-anchor="end" font-size="6.2" fill="#222">100</text>
<text x="34.6" y="121.9" text-anchor="end" font-size="6.2" fill="#222">200</text>
<text x="33.3" y="109.0" text-anchor="end" font-size="6.2" fill="#222">300</text>
<text x="32.1" y="96.1" text-anchor="end" font-size="6.2" fill="#222">400</text>
<text x="30.8" y="83.2" text-anchor="end" font-size="6.2" fill="#222">500</text>
<text x="29.6" y="70.4" text-anchor="end" font-size="6.2" fill="#222">600</text>
<text x="28.3" y="57.5" text-anchor="end" font-size="6.2" fill="#222">700</text>
<text x="2.0" y="14.0" font-size="11.5" font-weight="bold" fill="#000">(A)</text>
<text x="0.0" y="0.0" font-size="7.5" transform="translate(8.5,113) rotate(-90)" text-anchor="middle" fill="#111">PS</text>
<text x="32.0" y="210.0" font-size="8.75"  fill="#1a1a1a">A: Conc of GMS (mg)</text>
<text x="174.0" y="187.5" font-size="8.7"  fill="#1a1a1a">B: Conc of Tween 80<tspan font-size="7.5" dy="0.3">(%)</tspan></text></g>
<g id="pB"><polygon points="310.2,166.0 418.4,210.0 474.2,139.5 375.5,107.6" fill="#ffff00"/>
<path d="M310.2,166.0L299.5,60.2M323.3,154.3L314.3,49.6M336.3,142.6L329.1,38.9M349.4,131.0L343.9,28.3M362.4,119.3L358.7,17.6M375.5,107.6L373.5,7.0M400.2,115.6L401.4,14.7M424.9,123.5L429.2,22.3M449.5,131.5L457.1,30.0M474.2,139.5L485.0,37.6M310.2,166.0L375.5,107.6M375.5,107.6L474.2,139.5M307.6,140.1L375.0,83.0M375.0,83.0L476.8,114.5M306.2,126.8L374.8,70.3M374.8,70.3L478.2,101.7M304.9,113.5L374.5,57.6M374.5,57.6L479.6,88.9M303.5,100.1L374.3,45.0M374.3,45.0L480.9,76.1M302.2,86.8L374.0,32.3M374.0,32.3L482.3,63.2M300.8,73.5L373.8,19.7M373.8,19.7L483.6,50.4M299.5,60.2L373.5,7.0M373.5,7.0L485.0,37.6" stroke="#3a3a3a" stroke-width="0.7" fill="none"/>
<path d="M310.2,166.0L418.4,210.0L474.2,139.5M310.2,166.0L309.2,166.9M337.2,177.0L336.3,177.9M364.3,188.0L363.3,188.9M391.3,199.0L390.4,199.9M418.4,210.0L417.4,210.9M418.4,210.0L419.6,210.4M429.6,195.9L430.8,196.3M440.7,181.8L442.0,182.2M451.9,167.7L453.1,168.1M463.0,153.6L464.3,154.0M474.2,139.5L475.4,139.9M307.6,140.1L305.4,139.4M306.2,126.8L304.0,126.1M304.9,113.5L302.7,112.8M303.5,100.1L301.3,99.4M302.2,86.8L300.0,86.1M300.8,73.5L298.6,72.8M299.5,60.2L297.3,59.5" stroke="#222" stroke-width="0.7" fill="none"/>
<path d="M316.3,161.1L319.1,160.4 320.2,160.1 321.9,159.7 324.2,159.0 324.7,158.9 327.4,158.0 328.5,157.7 329.9,157.2 332.4,156.3 333.0,156.0 334.8,155.4 337.1,154.4 337.9,154.1 339.3,153.5 341.5,152.5 343.2,151.7 343.6,151.5 345.7,150.5 347.7,149.5 349.0,148.8 349.7,148.5 351.6,147.5 353.4,146.4 355.2,145.3 355.8,145.0 357.0,144.3 358.7,143.2 360.3,142.1 361.9,141.0 363.5,139.9 365.0,138.8 365.0,138.8 366.4,137.6 367.9,136.5 369.2,135.4 370.5,134.2 371.8,133.0 373.0,131.8 374.1,130.6 375.2,129.4 376.2,128.2 377.1,127.0 377.2,127.0 378.1,125.7 378.9,124.5 379.6,123.2 380.3,121.9 380.5,121.3 380.8,120.5 381.2,119.1 381.5,117.9 381.5,117.7 381.6,116.3 381.6,115.3 381.5,114.8 381.2,113.3 381.2,113.2 380.5,111.5 380.5,111.5 379.6,110.0 379.2,109.6 378.4,108.7 377.2,107.5 377.0,107.4" stroke="#55552a" stroke-width="0.6" fill="none" stroke-linecap="round"/>
<path d="M340.2,178.4L342.0,177.8 342.9,177.5 345.5,176.6 346.5,176.3 348.1,175.7 350.7,174.7 351.1,174.6 353.2,173.8 355.7,172.8 355.8,172.8 358.1,171.8 360.5,170.8 360.6,170.8 362.8,169.8 365.1,168.9 365.6,168.6 367.4,167.8 369.6,166.8 370.7,166.3 371.8,165.8 373.9,164.8 376.0,163.8 376.1,163.8 378.1,162.7 380.2,161.7 381.4,161.0 382.2,160.7 384.2,159.6 386.1,158.5 387.2,157.9 388.0,157.5 389.9,156.4 391.7,155.3 393.5,154.3 393.5,154.3 395.3,153.2 397.0,152.1 398.7,151.0 400.3,149.9 400.5,149.7 401.9,148.8 403.5,147.7 405.0,146.5 406.4,145.4 407.9,144.3 409.3,143.1 410.5,142.1 410.6,141.9 411.9,140.8 413.1,139.6 414.4,138.4 415.5,137.2 416.6,136.1 417.7,134.9 418.8,133.6 419.7,132.4 420.7,131.2 421.1,130.7 421.6,130.0 422.5,128.8 423.3,127.5 424.1,126.3 424.8,125.0 425.5,123.8" stroke="#30e040" stroke-width="0.9" fill="none" stroke-linecap="round"/>
<path d="M366.6,188.9L366.7,188.9 369.2,188.0 371.3,187.2 371.8,187.0 374.4,186.0 375.9,185.4 376.9,185.0 379.5,184.0 380.5,183.6 382.0,183.0 384.4,182.0 385.1,181.8 386.9,181.1 389.3,180.1 389.8,179.9 391.7,179.1 394.1,178.1 394.5,177.9 396.4,177.1 398.7,176.1 399.2,175.8 401.0,175.0 403.2,174.0 404.0,173.7 405.5,173.0 407.6,172.0 409.0,171.3 409.8,170.9 411.9,169.9 413.9,168.9 414.1,168.7 415.9,167.8 417.9,166.7 419.6,165.8 419.8,165.6 421.6,164.6 423.4,163.5 425.2,162.3 425.7,162.0 426.9,161.2 428.5,160.1 430.1,158.9 431.6,157.8 433.0,156.6 433.6,156.1 434.4,155.4 435.7,154.2 437.0,152.9 438.2,151.7 439.4,150.5 440.5,149.2 441.5,147.9 442.5,146.7 443.4,145.4 444.3,144.1 445.1,142.8 445.4,142.4 445.9,141.5 446.7,140.1 447.4,138.8 448.0,137.5 448.7,136.2 449.3,134.8 449.3,134.7 449.8,133.5 450.4,132.1" stroke="#30e040" stroke-width="0.9" fill="none" stroke-linecap="round"/>
<g stroke="#101010" stroke-width="0.33" stroke-linejoin="round"><path d="M371.8,74.7L376.6,75.5L379.6,72.0L374.8,71.0Z" fill="#0029f7"/><path d="M376.6,75.5L381.5,76.3L384.4,72.8L379.6,72.0Z" fill="#0034f7"/><path d="M368.8,78.3L373.6,79.0L376.6,75.5L371.8,74.7Z" fill="#0017f6"/><path d="M373.6,79.0L378.5,79.6L381.5,76.3L376.6,75.5Z" fill="#0025f7"/><path d="M381.5,76.3L386.4,76.9L389.4,73.5L384.4,72.8Z" fill="#0042f8"/><path d="M365.7,81.8L370.6,82.4L373.6,79.0L368.8,78.3Z" fill="#0007f5"/><path d="M362.6,85.3L367.5,85.7L370.6,82.4L365.7,81.8Z" fill="#0000f5"/><path d="M370.6,82.4L375.5,82.9L378.5,79.6L373.6,79.0Z" fill="#0018f6"/><path d="M378.5,79.6L383.4,80.1L386.4,76.9L381.5,76.3Z" fill="#0035f7"/><path d="M386.4,76.9L391.4,77.4L394.3,74.1L389.4,73.5Z" fill="#0052f9"/><path d="M391.4,77.4L396.4,77.8L399.3,74.6L394.3,74.1Z" fill="#0065f9"/><path d="M359.5,88.6L364.4,88.9L367.5,85.7L362.6,85.3Z" fill="#0000f5"/><path d="M367.5,85.7L372.4,86.1L375.5,82.9L370.6,82.4Z" fill="#000df6"/><path d="M375.5,82.9L380.4,83.3L383.4,80.1L378.5,79.6Z" fill="#002af7"/><path d="M383.4,80.1L388.4,80.5L391.4,77.4L386.4,76.9Z" fill="#0048f8"/><path d="M356.3,91.8L361.2,92.1L364.4,88.9L359.5,88.6Z" fill="#0000f5"/><path d="M372.4,86.1L377.3,86.4L380.4,83.3L375.5,82.9Z" fill="#0021f6"/><path d="M388.4,80.5L393.4,80.9L396.4,77.8L391.4,77.4Z" fill="#005cf9"/><path d="M396.4,77.8L401.4,78.0L404.3,74.9L399.3,74.6Z" fill="#0079fa"/><path d="M364.4,88.9L369.3,89.2L372.4,86.1L367.5,85.7Z" fill="#0004f5"/><path d="M380.4,83.3L385.4,83.6L388.4,80.5L383.4,80.1Z" fill="#003ef8"/><path d="M361.2,92.1L366.1,92.3L369.3,89.2L364.4,88.9Z" fill="#0000f5"/><path d="M353.1,94.9L358.0,95.1L361.2,92.1L356.3,91.8Z" fill="#0000f5"/><path d="M369.3,89.2L374.2,89.5L377.3,86.4L372.4,86.1Z" fill="#001af6"/><path d="M377.3,86.4L382.3,86.7L385.4,83.6L380.4,83.3Z" fill="#0037f7"/><path d="M385.4,83.6L390.4,83.9L393.4,80.9L388.4,80.5Z" fill="#0054f9"/><path d="M393.4,80.9L398.5,81.1L401.4,78.0L396.4,77.8Z" fill="#0071fa"/><path d="M401.4,78.0L406.5,78.2L409.4,75.1L404.3,74.9Z" fill="#0090fb"/><path d="M358.0,95.1L362.9,95.3L366.1,92.3L361.2,92.1Z" fill="#0000f5"/><path d="M366.1,92.3L371.1,92.5L374.2,89.5L369.3,89.2Z" fill="#0014f6"/><path d="M382.3,86.7L387.4,86.9L390.4,83.9L385.4,83.6Z" fill="#004ef8"/><path d="M406.5,78.2L411.7,78.2L414.6,75.2L409.4,75.1Z" fill="#00a8fc"/><path d="M349.8,97.9L354.7,98.1L358.0,95.1L353.1,94.9Z" fill="#0000f5"/><path d="M374.2,89.5L379.3,89.7L382.3,86.7L377.3,86.4Z" fill="#0031f7"/><path d="M390.4,83.9L395.5,84.1L398.5,81.1L393.4,80.9Z" fill="#006bfa"/><path d="M398.5,81.1L403.6,81.2L406.5,78.2L401.4,78.0Z" fill="#0089fb"/><path d="M346.5,100.8L351.5,100.9L354.7,98.1L349.8,97.9Z" fill="#0000f5"/><path d="M354.7,98.1L359.7,98.2L362.9,95.3L358.0,95.1Z" fill="#0000f5"/><path d="M362.9,95.3L367.9,95.4L371.1,92.5L366.1,92.3Z" fill="#0011f6"/><path d="M371.1,92.5L376.1,92.6L379.3,89.7L374.2,89.5Z" fill="#002df7"/><path d="M379.3,89.7L384.3,89.8L387.4,86.9L382.3,86.7Z" fill="#004af8"/><path d="M387.4,86.9L392.5,87.0L395.5,84.1L390.4,83.9Z" fill="#0066f9"/><path d="M403.6,81.2L408.8,81.2L411.7,78.2L406.5,78.2Z" fill="#00a3fc"/><path d="M411.7,78.2L416.9,78.1L419.8,75.1L414.6,75.2Z" fill="#00c3fd"/><path d="M395.5,84.1L400.7,84.1L403.6,81.2L398.5,81.1Z" fill="#0084fb"/><path d="M376.1,92.6L381.2,92.7L384.3,89.8L379.3,89.7Z" fill="#0047f8"/><path d="M416.9,78.1L422.2,77.9L425.1,74.9L419.8,75.1Z" fill="#00e0ff"/><path d="M343.2,103.6L348.1,103.7L351.5,100.9L346.5,100.8Z" fill="#0000f5"/><path d="M351.5,100.9L356.4,101.0L359.7,98.2L354.7,98.1Z" fill="#0000f5"/><path d="M359.7,98.2L364.7,98.2L367.9,95.4L362.9,95.3Z" fill="#000ff6"/><path d="M367.9,95.4L373.0,95.5L376.1,92.6L371.1,92.5Z" fill="#002bf7"/><path d="M384.3,89.8L389.4,89.9L392.5,87.0L387.4,86.9Z" fill="#0063f9"/><path d="M392.5,87.0L397.7,87.0L400.7,84.1L395.5,84.1Z" fill="#0080fa"/><path d="M400.7,84.1L405.9,84.1L408.8,81.2L403.6,81.2Z" fill="#009efc"/><path d="M408.8,81.2L414.1,81.1L416.9,78.1L411.7,78.2Z" fill="#00befd"/><path d="M356.4,101.0L361.4,101.0L364.7,98.2L359.7,98.2Z" fill="#0010f6"/><path d="M373.0,95.5L378.1,95.5L381.2,92.7L376.1,92.6Z" fill="#0046f8"/><path d="M381.2,92.7L386.4,92.7L389.4,89.9L384.3,89.8Z" fill="#0062f9"/><path d="M397.7,87.0L402.9,87.0L405.9,84.1L400.7,84.1Z" fill="#009cfc"/><path d="M414.1,81.1L419.4,80.9L422.2,77.9L416.9,78.1Z" fill="#00dbfe"/><path d="M422.2,77.9L427.6,77.6L430.4,74.6L425.1,74.9Z" fill="#00eced"/><path d="M348.1,103.7L353.1,103.7L356.4,101.0L351.5,100.9Z" fill="#0000f5"/><path d="M339.8,106.3L344.7,106.4L348.1,103.7L343.2,103.6Z" fill="#0000f5"/><path d="M364.7,98.2L369.8,98.3L373.0,95.5L367.9,95.4Z" fill="#002af7"/><path d="M389.4,89.9L394.6,89.9L397.7,87.0L392.5,87.0Z" fill="#007efa"/><path d="M405.9,84.1L411.1,84.0L414.1,81.1L408.8,81.2Z" fill="#00bafd"/><path d="M336.3,108.9L341.3,109.0L344.7,106.4L339.8,106.3Z" fill="#0000f5"/><path d="M353.1,103.7L358.1,103.7L361.4,101.0L356.4,101.0Z" fill="#0012f6"/><path d="M361.4,101.0L366.5,101.0L369.8,98.3L364.7,98.2Z" fill="#002cf7"/><path d="M369.8,98.3L374.9,98.3L378.1,95.5L373.0,95.5Z" fill="#0046f8"/><path d="M378.1,95.5L383.2,95.5L386.4,92.7L381.2,92.7Z" fill="#0062f9"/><path d="M386.4,92.7L391.6,92.7L394.6,89.9L389.4,89.9Z" fill="#007dfa"/><path d="M394.6,89.9L399.9,89.8L402.9,87.0L397.7,87.0Z" fill="#009afc"/><path d="M402.9,87.0L408.2,86.9L411.1,84.0L405.9,84.1Z" fill="#00b8fd"/><path d="M411.1,84.0L416.5,83.8L419.4,80.9L414.1,81.1Z" fill="#00d8fe"/><path d="M419.4,80.9L424.7,80.6L427.6,77.6L422.2,77.9Z" fill="#00ecf2"/><path d="M427.6,77.6L433.0,77.2L435.8,74.1L430.4,74.6Z" fill="#00eed1"/><path d="M344.7,106.4L349.7,106.4L353.1,103.7L348.1,103.7Z" fill="#0000f5"/><path d="M366.5,101.0L371.6,101.0L374.9,98.3L369.8,98.3Z" fill="#0049f8"/><path d="M391.6,92.7L396.8,92.6L399.9,89.8L394.6,89.9Z" fill="#009afc"/><path d="M408.2,86.9L413.5,86.7L416.5,83.8L411.1,84.0Z" fill="#00d6fe"/><path d="M433.0,77.2L438.5,76.6L441.3,73.5L435.8,74.1Z" fill="#00f1b2"/><path d="M341.3,109.0L346.3,109.0L349.7,106.4L344.7,106.4Z" fill="#0000f5"/><path d="M332.8,111.4L337.7,111.5L341.3,109.0L336.3,108.9Z" fill="#0000f5"/><path d="M349.7,106.4L354.7,106.4L358.1,103.7L353.1,103.7Z" fill="#0016f6"/><path d="M358.1,103.7L363.2,103.7L366.5,101.0L361.4,101.0Z" fill="#002ff7"/><path d="M374.9,98.3L380.0,98.2L383.2,95.5L378.1,95.5Z" fill="#0063f9"/><path d="M383.2,95.5L388.4,95.4L391.6,92.7L386.4,92.7Z" fill="#007efa"/><path d="M399.9,89.8L405.2,89.7L408.2,86.9L402.9,87.0Z" fill="#00b7fd"/><path d="M416.5,83.8L421.8,83.5L424.7,80.6L419.4,80.9Z" fill="#00ecf4"/><path d="M424.7,80.6L430.2,80.2L433.0,77.2L427.6,77.6Z" fill="#00eed5"/><path d="M329.2,113.8L334.2,113.9L337.7,111.5L332.8,111.4Z" fill="#0000f5"/><path d="M346.3,109.0L351.3,108.9L354.7,106.4L349.7,106.4Z" fill="#001cf6"/><path d="M363.2,103.7L368.3,103.6L371.6,101.0L366.5,101.0Z" fill="#004cf8"/><path d="M371.6,101.0L376.8,100.9L380.0,98.2L374.9,98.3Z" fill="#0066f9"/><path d="M388.4,95.4L393.7,95.3L396.8,92.6L391.6,92.7Z" fill="#009cfc"/><path d="M396.8,92.6L402.1,92.4L405.2,89.7L399.9,89.8Z" fill="#00b8fd"/><path d="M405.2,89.7L410.5,89.5L413.5,86.7L408.2,86.9Z" fill="#00d6fe"/><path d="M413.5,86.7L418.9,86.4L421.8,83.5L416.5,83.8Z" fill="#00ecf6"/><path d="M430.2,80.2L435.7,79.7L438.5,76.6L433.0,77.2Z" fill="#00f0b6"/><path d="M438.5,76.6L444.1,75.9L446.9,72.7L441.3,73.5Z" fill="#00f391"/><path d="M337.7,111.5L342.8,111.5L346.3,109.0L341.3,109.0Z" fill="#0005f5"/><path d="M354.7,106.4L359.8,106.3L363.2,103.7L358.1,103.7Z" fill="#0033f7"/><path d="M380.0,98.2L385.3,98.1L388.4,95.4L383.2,95.5Z" fill="#0080fa"/><path d="M421.8,83.5L427.3,83.2L430.2,80.2L424.7,80.6Z" fill="#00eed8"/><path d="M402.1,92.4L407.5,92.2L410.5,89.5L405.2,89.7Z" fill="#00d7fe"/><path d="M334.2,113.9L339.2,113.9L342.8,111.5L337.7,111.5Z" fill="#000ff6"/><path d="M325.5,116.1L330.5,116.2L334.2,113.9L329.2,113.8Z" fill="#0000f5"/><path d="M342.8,111.5L347.8,111.4L351.3,108.9L346.3,109.0Z" fill="#0023f7"/><path d="M351.3,108.9L356.4,108.9L359.8,106.3L354.7,106.4Z" fill="#003af7"/><path d="M368.3,103.6L373.6,103.5L376.8,100.9L371.6,101.0Z" fill="#006bfa"/><path d="M376.8,100.9L382.1,100.8L385.3,98.1L380.0,98.2Z" fill="#0084fb"/><path d="M385.3,98.1L390.6,98.0L393.7,95.3L388.4,95.4Z" fill="#009ffc"/><path d="M393.7,95.3L399.1,95.2L402.1,92.4L396.8,92.6Z" fill="#00bafd"/><path d="M410.5,89.5L416.0,89.2L418.9,86.4L413.5,86.7Z" fill="#00ecf6"/><path d="M418.9,86.4L424.4,86.1L427.3,83.2L421.8,83.5Z" fill="#00eed9"/><path d="M427.3,83.2L432.8,82.7L435.7,79.7L430.2,80.2Z" fill="#00f0ba"/><path d="M435.7,79.7L441.3,79.0L444.1,75.9L438.5,76.6Z" fill="#00f396"/><path d="M444.1,75.9L449.7,75.1L452.5,71.8L446.9,72.7Z" fill="#00f66e"/><path d="M359.8,106.3L365.0,106.2L368.3,103.6L363.2,103.7Z" fill="#0052f8"/><path d="M339.2,113.9L344.3,113.8L347.8,111.4L342.8,111.5Z" fill="#002df7"/><path d="M382.1,100.8L387.4,100.6L390.6,98.0L385.3,98.1Z" fill="#00a3fc"/><path d="M399.1,95.2L404.5,95.0L407.5,92.2L402.1,92.4Z" fill="#00d9fe"/><path d="M407.5,92.2L413.0,92.0L416.0,89.2L410.5,89.5Z" fill="#00ecf5"/><path d="M424.4,86.1L430.0,85.6L432.8,82.7L427.3,83.2Z" fill="#00f0bc"/><path d="M449.7,75.1L455.5,74.1L458.2,70.7L452.5,71.8Z" fill="#00f84a"/><path d="M356.4,108.9L361.6,108.8L365.0,106.2L359.8,106.3Z" fill="#0059f9"/><path d="M321.8,118.3L326.8,118.4L330.5,116.2L325.5,116.1Z" fill="#000af5"/><path d="M330.5,116.2L335.6,116.2L339.2,113.9L334.2,113.9Z" fill="#001af6"/><path d="M347.8,111.4L353.0,111.3L356.4,108.9L351.3,108.9Z" fill="#0042f8"/><path d="M365.0,106.2L370.2,106.1L373.6,103.5L368.3,103.6Z" fill="#0071fa"/><path d="M373.6,103.5L378.8,103.4L382.1,100.8L376.8,100.9Z" fill="#0089fb"/><path d="M390.6,98.0L395.9,97.8L399.1,95.2L393.7,95.3Z" fill="#00bdfd"/><path d="M416.0,89.2L421.5,88.9L424.4,86.1L418.9,86.4Z" fill="#00eeda"/><path d="M432.8,82.7L438.4,82.1L441.3,79.0L435.7,79.7Z" fill="#00f29a"/><path d="M441.3,79.0L447.0,78.3L449.7,75.1L444.1,75.9Z" fill="#00f575"/><path d="M344.3,113.8L349.5,113.8L353.0,111.3L347.8,111.4Z" fill="#004cf8"/><path d="M318.0,120.4L323.1,120.6L326.8,118.4L321.8,118.3Z" fill="#001af6"/><path d="M335.6,116.2L340.7,116.2L344.3,113.8L339.2,113.9Z" fill="#0039f7"/><path d="M361.6,108.8L366.9,108.6L370.2,106.1L365.0,106.2Z" fill="#0078fa"/><path d="M378.8,103.4L384.2,103.2L387.4,100.6L382.1,100.8Z" fill="#00a9fc"/><path d="M387.4,100.6L392.8,100.4L395.9,97.8L390.6,98.0Z" fill="#00c2fd"/><path d="M395.9,97.8L401.4,97.6L404.5,95.0L399.1,95.2Z" fill="#00ddfe"/><path d="M404.5,95.0L409.9,94.7L413.0,92.0L407.5,92.2Z" fill="#00ecf3"/><path d="M413.0,92.0L418.5,91.7L421.5,88.9L416.0,89.2Z" fill="#00eed8"/><path d="M421.5,88.9L427.0,88.5L430.0,85.6L424.4,86.1Z" fill="#00f0bc"/><path d="M430.0,85.6L435.6,85.1L438.4,82.1L432.8,82.7Z" fill="#00f29d"/><path d="M447.0,78.3L452.7,77.4L455.5,74.1L449.7,75.1Z" fill="#00f852"/><path d="M455.5,74.1L461.3,73.0L464.1,69.4L458.2,70.7Z" fill="#11fa2f"/><path d="M326.8,118.4L331.9,118.5L335.6,116.2L330.5,116.2Z" fill="#0028f7"/><path d="M353.0,111.3L358.2,111.2L361.6,108.8L356.4,108.9Z" fill="#0061f9"/><path d="M370.2,106.1L375.5,105.9L378.8,103.4L373.6,103.5Z" fill="#0090fb"/><path d="M438.4,82.1L444.1,81.4L447.0,78.3L441.3,79.0Z" fill="#00f57a"/><path d="M392.8,100.4L398.2,100.2L401.4,97.6L395.9,97.8Z" fill="#00e2ff"/><path d="M418.5,91.7L424.1,91.3L427.0,88.5L421.5,88.9Z" fill="#00f0bb"/><path d="M461.3,73.0L467.2,71.7L470.0,68.0L464.1,69.4Z" fill="#43fb25"/><path d="M349.5,113.8L354.7,113.6L358.2,111.2L353.0,111.3Z" fill="#006cfa"/><path d="M314.1,122.4L319.2,122.6L323.1,120.6L318.0,120.4Z" fill="#002df7"/><path d="M323.1,120.6L328.1,120.6L331.9,118.5L326.8,118.4Z" fill="#0037f7"/><path d="M331.9,118.5L337.0,118.5L340.7,116.2L335.6,116.2Z" fill="#0046f8"/><path d="M340.7,116.2L345.9,116.1L349.5,113.8L344.3,113.8Z" fill="#0058f9"/><path d="M358.2,111.2L363.4,111.1L366.9,108.6L361.6,108.8Z" fill="#0081fb"/><path d="M366.9,108.6L372.2,108.4L375.5,105.9L370.2,106.1Z" fill="#0098fb"/><path d="M375.5,105.9L380.9,105.7L384.2,103.2L378.8,103.4Z" fill="#00b0fc"/><path d="M384.2,103.2L389.6,103.0L392.8,100.4L387.4,100.6Z" fill="#00c9fe"/><path d="M401.4,97.6L406.8,97.3L409.9,94.7L404.5,95.0Z" fill="#00ecef"/><path d="M409.9,94.7L415.5,94.4L418.5,91.7L413.0,92.0Z" fill="#00eed6"/><path d="M427.0,88.5L432.7,88.0L435.6,85.1L430.0,85.6Z" fill="#00f29e"/><path d="M435.6,85.1L441.3,84.5L444.1,81.4L438.4,82.1Z" fill="#00f57d"/><path d="M444.1,81.4L449.9,80.7L452.7,77.4L447.0,78.3Z" fill="#00f757"/><path d="M452.7,77.4L458.5,76.4L461.3,73.0L455.5,74.1Z" fill="#06fa31"/><path d="M354.7,113.6L359.9,113.5L363.4,111.1L358.2,111.2Z" fill="#008cfb"/><path d="M372.2,108.4L377.5,108.2L380.9,105.7L375.5,105.9Z" fill="#00b9fd"/><path d="M389.6,103.0L395.0,102.8L398.2,100.2L392.8,100.4Z" fill="#00e9ff"/><path d="M398.2,100.2L403.7,99.9L406.8,97.3L401.4,97.6Z" fill="#00edea"/><path d="M415.5,94.4L421.1,94.0L424.1,91.3L418.5,91.7Z" fill="#00f0b9"/><path d="M424.1,91.3L429.7,90.8L432.7,88.0L427.0,88.5Z" fill="#00f29d"/><path d="M441.3,84.5L447.1,83.8L449.9,80.7L444.1,81.4Z" fill="#00f75b"/><path d="M458.5,76.4L464.5,75.3L467.2,71.7L461.3,73.0Z" fill="#36fa27"/><path d="M467.2,71.7L473.3,70.3L476.0,66.4L470.0,68.0Z" fill="#76fb1b"/><path d="M328.1,120.6L333.3,120.7L337.0,118.5L331.9,118.5Z" fill="#0055f9"/><path d="M345.9,116.1L351.1,116.0L354.7,113.6L349.5,113.8Z" fill="#0078fa"/><path d="M310.2,124.2L315.3,124.5L319.2,122.6L314.1,122.4Z" fill="#0041f8"/><path d="M319.2,122.6L324.3,122.7L328.1,120.6L323.1,120.6Z" fill="#0049f8"/><path d="M337.0,118.5L342.2,118.4L345.9,116.1L340.7,116.2Z" fill="#0065f9"/><path d="M363.4,111.1L368.8,110.9L372.2,108.4L366.9,108.6Z" fill="#00a2fc"/><path d="M380.9,105.7L386.3,105.5L389.6,103.0L384.2,103.2Z" fill="#00d0fe"/><path d="M406.8,97.3L412.4,97.0L415.5,94.4L409.9,94.7Z" fill="#00eed2"/><path d="M432.7,88.0L438.4,87.4L441.3,84.5L435.6,85.1Z" fill="#00f47e"/><path d="M449.9,80.7L455.7,79.8L458.5,76.4L452.7,77.4Z" fill="#00fa34"/><path d="M306.1,126.0L311.3,126.4L315.3,124.5L310.2,124.2Z" fill="#0058f9"/><path d="M315.3,124.5L320.4,124.7L324.3,122.7L319.2,122.6Z" fill="#005df9"/><path d="M324.3,122.7L329.5,122.8L333.3,120.7L328.1,120.6Z" fill="#0067f9"/><path d="M333.3,120.7L338.5,120.6L342.2,118.4L337.0,118.5Z" fill="#0074fa"/><path d="M342.2,118.4L347.5,118.3L351.1,116.0L345.9,116.1Z" fill="#0085fb"/><path d="M351.1,116.0L356.4,115.8L359.9,113.5L354.7,113.6Z" fill="#0098fb"/><path d="M359.9,113.5L365.3,113.3L368.8,110.9L363.4,111.1Z" fill="#00adfc"/><path d="M368.8,110.9L374.2,110.7L377.5,108.2L372.2,108.4Z" fill="#00c3fd"/><path d="M377.5,108.2L383.0,108.0L386.3,105.5L380.9,105.7Z" fill="#00dafe"/><path d="M386.3,105.5L391.8,105.3L395.0,102.8L389.6,103.0Z" fill="#00ebf9"/><path d="M395.0,102.8L400.6,102.5L403.7,99.9L398.2,100.2Z" fill="#00ede4"/><path d="M403.7,99.9L409.3,99.6L412.4,97.0L406.8,97.3Z" fill="#00efcd"/><path d="M412.4,97.0L418.0,96.7L421.1,94.0L415.5,94.4Z" fill="#00f0b5"/><path d="M421.1,94.0L426.8,93.6L429.7,90.8L424.1,91.3Z" fill="#00f29a"/><path d="M429.7,90.8L435.5,90.3L438.4,87.4L432.7,88.0Z" fill="#00f47e"/><path d="M438.4,87.4L444.2,86.8L447.1,83.8L441.3,84.5Z" fill="#00f75d"/><path d="M447.1,83.8L452.9,83.0L455.7,79.8L449.9,80.7Z" fill="#00f939"/><path d="M455.7,79.8L461.7,78.8L464.5,75.3L458.5,76.4Z" fill="#2bfa29"/><path d="M464.5,75.3L470.5,74.1L473.3,70.3L467.2,71.7Z" fill="#67fb1e"/><path d="M473.3,70.3L479.4,68.8L482.1,64.7L476.0,66.4Z" fill="#acfb10"/><path d="M365.3,113.3L370.7,113.1L374.2,110.7L368.8,110.9Z" fill="#00cefe"/><path d="M383.0,108.0L388.5,107.7L391.8,105.3L386.3,105.5Z" fill="#00ecf1"/><path d="M409.3,99.6L415.0,99.3L418.0,96.7L412.4,97.0Z" fill="#00f1af"/><path d="M435.5,90.3L441.3,89.8L444.2,86.8L438.4,87.4Z" fill="#00f75e"/><path d="M452.9,83.0L458.9,82.1L461.7,78.8L455.7,79.8Z" fill="#23fa2b"/><path d="M320.4,124.7L325.6,124.9L329.5,122.8L324.3,122.7Z" fill="#007afa"/><path d="M338.5,120.6L343.8,120.5L347.5,118.3L342.2,118.4Z" fill="#0094fb"/><path d="M311.3,126.4L316.4,126.6L320.4,124.7L315.3,124.5Z" fill="#0073fa"/><path d="M329.5,122.8L334.7,122.8L338.5,120.6L333.3,120.7Z" fill="#0085fb"/><path d="M347.5,118.3L352.8,118.1L356.4,115.8L351.1,116.0Z" fill="#00a6fc"/><path d="M356.4,115.8L361.8,115.6L365.3,113.3L359.9,113.5Z" fill="#00b9fd"/><path d="M374.2,110.7L379.6,110.4L383.0,108.0L377.5,108.2Z" fill="#00e4ff"/><path d="M391.8,105.3L397.3,105.0L400.6,102.5L395.0,102.8Z" fill="#00eedc"/><path d="M400.6,102.5L406.2,102.2L409.3,99.6L403.7,99.9Z" fill="#00efc6"/><path d="M418.0,96.7L423.7,96.3L426.8,93.6L421.1,94.0Z" fill="#00f397"/><path d="M426.8,93.6L432.5,93.1L435.5,90.3L429.7,90.8Z" fill="#00f57c"/><path d="M444.2,86.8L450.1,86.1L452.9,83.0L447.1,83.8Z" fill="#00f93c"/><path d="M461.7,78.8L467.7,77.7L470.5,74.1L464.5,75.3Z" fill="#5afb20"/><path d="M470.5,74.1L476.6,72.7L479.4,68.8L473.3,70.3Z" fill="#9afb13"/><path d="M361.8,115.6L367.2,115.4L370.7,113.1L365.3,113.3Z" fill="#00dbfe"/><path d="M370.7,113.1L376.2,112.8L379.6,110.4L374.2,110.7Z" fill="#00ebfa"/><path d="M379.6,110.4L385.1,110.1L388.5,107.7L383.0,108.0Z" fill="#00ede7"/><path d="M388.5,107.7L394.1,107.4L397.3,105.0L391.8,105.3Z" fill="#00eed3"/><path d="M406.2,102.2L411.8,101.8L415.0,99.3L409.3,99.6Z" fill="#00f1a8"/><path d="M415.0,99.3L420.7,98.9L423.7,96.3L418.0,96.7Z" fill="#00f391"/><path d="M432.5,93.1L438.4,92.6L441.3,89.8L435.5,90.3Z" fill="#00f75c"/><path d="M441.3,89.8L447.2,89.1L450.1,86.1L444.2,86.8Z" fill="#00f93d"/><path d="M450.1,86.1L456.0,85.3L458.9,82.1L452.9,83.0Z" fill="#1ffa2c"/><path d="M458.9,82.1L464.9,81.2L467.7,77.7L461.7,78.8Z" fill="#51fb22"/><path d="M316.4,126.6L321.7,126.8L325.6,124.9L320.4,124.7Z" fill="#008ffb"/><path d="M325.6,124.9L330.9,124.9L334.7,122.8L329.5,122.8Z" fill="#0098fb"/><path d="M334.7,122.8L340.0,122.7L343.8,120.5L338.5,120.6Z" fill="#00a5fc"/><path d="M343.8,120.5L349.1,120.4L352.8,118.1L347.5,118.3Z" fill="#00b5fd"/><path d="M352.8,118.1L358.2,117.9L361.8,115.6L356.4,115.8Z" fill="#00c7fd"/><path d="M397.3,105.0L403.0,104.6L406.2,102.2L400.6,102.5Z" fill="#00f0be"/><path d="M423.7,96.3L429.5,95.8L432.5,93.1L426.8,93.6Z" fill="#00f578"/><path d="M467.7,77.7L473.8,76.5L476.6,72.7L470.5,74.1Z" fill="#8bfb16"/><path d="M376.2,112.8L381.7,112.4L385.1,110.1L379.6,110.4Z" fill="#00eedc"/><path d="M447.2,89.1L453.2,88.4L456.0,85.3L450.1,86.1Z" fill="#1cfa2c"/><path d="M330.9,124.9L336.2,124.8L340.0,122.7L334.7,122.8Z" fill="#00b8fd"/><path d="M358.2,117.9L363.6,117.7L367.2,115.4L361.8,115.6Z" fill="#00eaff"/><path d="M321.7,126.8L326.9,126.9L330.9,124.9L325.6,124.9Z" fill="#00acfc"/><path d="M340.0,122.7L345.4,122.6L349.1,120.4L343.8,120.5Z" fill="#00c6fd"/><path d="M367.2,115.4L372.7,115.1L376.2,112.8L370.7,113.1Z" fill="#00ecef"/><path d="M385.1,110.1L390.7,109.8L394.1,107.4L388.5,107.7Z" fill="#00efc9"/><path d="M394.1,107.4L399.7,107.0L403.0,104.6L397.3,105.0Z" fill="#00f0b5"/><path d="M403.0,104.6L408.7,104.3L411.8,101.8L406.2,102.2Z" fill="#00f2a0"/><path d="M411.8,101.8L417.6,101.4L420.7,98.9L415.0,99.3Z" fill="#00f48a"/><path d="M420.7,98.9L426.5,98.4L429.5,95.8L423.7,96.3Z" fill="#00f572"/><path d="M429.5,95.8L435.4,95.3L438.4,92.6L432.5,93.1Z" fill="#00f758"/><path d="M438.4,92.6L444.3,92.0L447.2,89.1L441.3,89.8Z" fill="#00f93c"/><path d="M456.0,85.3L462.1,84.5L464.9,81.2L458.9,82.1Z" fill="#4afb23"/><path d="M464.9,81.2L471.0,80.1L473.8,76.5L467.7,77.7Z" fill="#80fb19"/><path d="M349.1,120.4L354.5,120.2L358.2,117.9L352.8,118.1Z" fill="#00d7fe"/><path d="M372.7,115.1L378.3,114.7L381.7,112.4L376.2,112.8Z" fill="#00eed0"/><path d="M381.7,112.4L387.4,112.1L390.7,109.8L385.1,110.1Z" fill="#00f0be"/><path d="M399.7,107.0L405.5,106.6L408.7,104.3L403.0,104.6Z" fill="#00f396"/><path d="M426.5,98.4L432.4,97.9L435.4,95.3L429.5,95.8Z" fill="#00f853"/><path d="M444.3,92.0L450.3,91.3L453.2,88.4L447.2,89.1Z" fill="#1dfa2c"/><path d="M453.2,88.4L459.2,87.6L462.1,84.5L456.0,85.3Z" fill="#47fb24"/><path d="M354.5,120.2L360.0,119.9L363.6,117.7L358.2,117.9Z" fill="#00ecf2"/><path d="M326.9,126.9L332.3,126.9L336.2,124.8L330.9,124.9Z" fill="#00ccfe"/><path d="M336.2,124.8L341.6,124.7L345.4,122.6L340.0,122.7Z" fill="#00d8fe"/><path d="M363.6,117.7L369.2,117.3L372.7,115.1L367.2,115.4Z" fill="#00ede2"/><path d="M345.4,122.6L350.8,122.4L354.5,120.2L349.1,120.4Z" fill="#00e8ff"/><path d="M390.7,109.8L396.4,109.4L399.7,107.0L394.1,107.4Z" fill="#00f1aa"/><path d="M408.7,104.3L414.5,103.8L417.6,101.4L411.8,101.8Z" fill="#00f481"/><path d="M417.6,101.4L423.4,101.0L426.5,98.4L420.7,98.9Z" fill="#00f66b"/><path d="M435.4,95.3L441.3,94.8L444.3,92.0L438.4,92.6Z" fill="#00fa38"/><path d="M462.1,84.5L468.2,83.5L471.0,80.1L464.9,81.2Z" fill="#77fb1a"/><path d="M369.2,117.3L374.8,117.0L378.3,114.7L372.7,115.1Z" fill="#00efc3"/><path d="M332.3,126.9L337.7,126.8L341.6,124.7L336.2,124.8Z" fill="#00ebfe"/><path d="M350.8,122.4L356.3,122.1L360.0,119.9L354.5,120.2Z" fill="#00ede3"/><path d="M360.0,119.9L365.6,119.5L369.2,117.3L363.6,117.7Z" fill="#00eed4"/><path d="M378.3,114.7L383.9,114.3L387.4,112.1L381.7,112.4Z" fill="#00f1b1"/><path d="M387.4,112.1L393.1,111.7L396.4,109.4L390.7,109.8Z" fill="#00f29e"/><path d="M396.4,109.4L402.2,108.9L405.5,106.6L399.7,107.0Z" fill="#00f38b"/><path d="M405.5,106.6L411.3,106.2L414.5,103.8L408.7,104.3Z" fill="#00f577"/><path d="M423.4,101.0L429.3,100.5L432.4,97.9L426.5,98.4Z" fill="#00f84c"/><path d="M432.4,97.9L438.4,97.4L441.3,94.8L435.4,95.3Z" fill="#00fa33"/><path d="M441.3,94.8L447.4,94.2L450.3,91.3L444.3,92.0Z" fill="#20fa2c"/><path d="M450.3,91.3L456.4,90.6L459.2,87.6L453.2,88.4Z" fill="#47fb24"/><path d="M459.2,87.6L465.4,86.8L468.2,83.5L462.1,84.5Z" fill="#73fb1b"/><path d="M341.6,124.7L347.0,124.5L350.8,122.4L345.4,122.6Z" fill="#00ecf2"/><path d="M414.5,103.8L420.3,103.4L423.4,101.0L417.6,101.4Z" fill="#00f662"/><path d="M365.6,119.5L371.2,119.1L374.8,117.0L369.2,117.3Z" fill="#00f1b4"/><path d="M393.1,111.7L398.9,111.2L402.2,108.9L396.4,109.4Z" fill="#00f47f"/><path d="M438.4,97.4L444.4,96.8L447.4,94.2L441.3,94.8Z" fill="#26fa2a"/><path d="M347.0,124.5L352.6,124.2L356.3,122.1L350.8,122.4Z" fill="#00eed3"/><path d="M337.7,126.8L343.2,126.6L347.0,124.5L341.6,124.7Z" fill="#00ede0"/><path d="M356.3,122.1L361.9,121.7L365.6,119.5L360.0,119.9Z" fill="#00efc4"/><path d="M374.8,117.0L380.4,116.5L383.9,114.3L378.3,114.7Z" fill="#00f2a3"/><path d="M383.9,114.3L389.7,113.9L393.1,111.7L387.4,112.1Z" fill="#00f391"/><path d="M402.2,108.9L408.0,108.5L411.3,106.2L405.5,106.6Z" fill="#00f66c"/><path d="M411.3,106.2L417.2,105.7L420.3,103.4L414.5,103.8Z" fill="#00f758"/><path d="M420.3,103.4L426.3,102.9L429.3,100.5L423.4,101.0Z" fill="#00f943"/><path d="M429.3,100.5L435.3,99.9L438.4,97.4L432.4,97.9Z" fill="#08fa30"/><path d="M447.4,94.2L453.5,93.5L456.4,90.6L450.3,91.3Z" fill="#49fb23"/><path d="M456.4,90.6L462.6,89.9L465.4,86.8L459.2,87.6Z" fill="#71fb1c"/><path d="M343.2,126.6L348.7,126.3L352.6,124.2L347.0,124.5Z" fill="#00efc2"/><path d="M361.9,121.7L367.5,121.2L371.2,119.1L365.6,119.5Z" fill="#00f2a4"/><path d="M371.2,119.1L376.9,118.6L380.4,116.5L374.8,117.0Z" fill="#00f393"/><path d="M389.7,113.9L395.5,113.4L398.9,111.2L393.1,111.7Z" fill="#00f570"/><path d="M398.9,111.2L404.7,110.7L408.0,108.5L402.2,108.9Z" fill="#00f75e"/><path d="M417.2,105.7L423.1,105.2L426.3,102.9L420.3,103.4Z" fill="#00fa38"/><path d="M435.3,99.9L441.4,99.4L444.4,96.8L438.4,97.4Z" fill="#2ffa29"/><path d="M444.4,96.8L450.6,96.2L453.5,93.5L447.4,94.2Z" fill="#4ffb22"/><path d="M352.6,124.2L358.1,123.8L361.9,121.7L356.3,122.1Z" fill="#00f1b3"/><path d="M380.4,116.5L386.2,116.0L389.7,113.9L383.9,114.3Z" fill="#00f482"/><path d="M408.0,108.5L413.9,108.0L417.2,105.7L411.3,106.2Z" fill="#00f84b"/><path d="M426.3,102.9L432.3,102.4L435.3,99.9L429.3,100.5Z" fill="#13fa2e"/><path d="M453.5,93.5L459.7,92.8L462.6,89.9L456.4,90.6Z" fill="#73fb1b"/><path d="M358.1,123.8L363.8,123.3L367.5,121.2L361.9,121.7Z" fill="#00f393"/><path d="M348.7,126.3L354.3,125.8L358.1,123.8L352.6,124.2Z" fill="#00f2a1"/><path d="M367.5,121.2L373.3,120.7L376.9,118.6L371.2,119.1Z" fill="#00f483"/><path d="M376.9,118.6L382.7,118.1L386.2,116.0L380.4,116.5Z" fill="#00f572"/><path d="M386.2,116.0L392.0,115.4L395.5,113.4L389.7,113.9Z" fill="#00f761"/><path d="M395.5,113.4L401.4,112.8L404.7,110.7L398.9,111.2Z" fill="#00f84f"/><path d="M404.7,110.7L410.7,110.1L413.9,108.0L408.0,108.5Z" fill="#00f93d"/><path d="M413.9,108.0L419.9,107.4L423.1,105.2L417.2,105.7Z" fill="#09fa30"/><path d="M423.1,105.2L429.2,104.6L432.3,102.4L426.3,102.9Z" fill="#21fa2b"/><path d="M432.3,102.4L438.4,101.8L441.4,99.4L435.3,99.9Z" fill="#3bfa26"/><path d="M441.4,99.4L447.6,98.8L450.6,96.2L444.4,96.8Z" fill="#58fb21"/><path d="M450.6,96.2L456.8,95.5L459.7,92.8L453.5,93.5Z" fill="#78fb1a"/><path d="M354.3,125.8L360.0,125.3L363.8,123.3L358.1,123.8Z" fill="#00f480"/><path d="M382.7,118.1L388.5,117.5L392.0,115.4L386.2,116.0Z" fill="#00f850"/><path d="M410.7,110.1L416.7,109.5L419.9,107.4L413.9,108.0Z" fill="#1bfa2d"/><path d="M429.2,104.6L435.3,104.0L438.4,101.8L432.3,102.4Z" fill="#4afb23"/><path d="M363.8,123.3L369.6,122.7L373.3,120.7L367.5,121.2Z" fill="#00f571"/><path d="M373.3,120.7L379.1,120.1L382.7,118.1L376.9,118.6Z" fill="#00f760"/><path d="M392.0,115.4L398.0,114.8L401.4,112.8L395.5,113.4Z" fill="#00f93f"/><path d="M401.4,112.8L407.4,112.2L410.7,110.1L404.7,110.7Z" fill="#05fa31"/><path d="M419.9,107.4L426.0,106.8L429.2,104.6L423.1,105.2Z" fill="#31fa28"/><path d="M438.4,101.8L444.6,101.1L447.6,98.8L441.4,99.4Z" fill="#64fb1e"/><path d="M447.6,98.8L453.9,98.1L456.8,95.5L450.6,96.2Z" fill="#81fb18"/><path d="M360.0,125.3L365.8,124.7L369.6,122.7L363.8,123.3Z" fill="#00f75d"/><path d="M369.6,122.7L375.4,122.0L379.1,120.1L373.3,120.7Z" fill="#00f84e"/><path d="M379.1,120.1L385.0,119.4L388.5,117.5L382.7,118.1Z" fill="#00f93d"/><path d="M388.5,117.5L394.5,116.8L398.0,114.8L392.0,115.4Z" fill="#06fa31"/><path d="M407.4,112.2L413.4,111.5L416.7,109.5L410.7,110.1Z" fill="#2ffa29"/><path d="M416.7,109.5L422.8,108.8L426.0,106.8L419.9,107.4Z" fill="#44fb24"/><path d="M426.0,106.8L432.2,106.2L435.3,104.0L429.2,104.6Z" fill="#5bfb20"/><path d="M435.3,104.0L441.6,103.4L444.6,101.1L438.4,101.8Z" fill="#73fb1b"/><path d="M398.0,114.8L404.0,114.1L407.4,112.2L401.4,112.8Z" fill="#1afa2d"/><path d="M444.6,101.1L450.9,100.5L453.9,98.1L447.6,98.8Z" fill="#8dfb16"/><path d="M422.8,108.8L429.1,108.1L432.2,106.2L426.0,106.8Z" fill="#6ffb1c"/><path d="M365.8,124.7L371.7,123.9L375.4,122.0L369.6,122.7Z" fill="#00f939"/><path d="M375.4,122.0L381.3,121.3L385.0,119.4L379.1,120.1Z" fill="#0afa30"/><path d="M385.0,119.4L390.9,118.6L394.5,116.8L388.5,117.5Z" fill="#1efa2c"/><path d="M394.5,116.8L400.5,116.0L404.0,114.1L398.0,114.8Z" fill="#32fa28"/><path d="M404.0,114.1L410.1,113.4L413.4,111.5L407.4,112.2Z" fill="#46fb24"/><path d="M413.4,111.5L419.6,110.8L422.8,108.8L416.7,109.5Z" fill="#5afb20"/><path d="M432.2,106.2L438.5,105.5L441.6,103.4L435.3,104.0Z" fill="#85fb18"/><path d="M441.6,103.4L447.9,102.7L450.9,100.5L444.6,101.1Z" fill="#9cfb13"/><path d="M371.7,123.9L377.6,123.0L381.3,121.3L375.4,122.0Z" fill="#25fa2b"/><path d="M400.5,116.0L406.7,115.1L410.1,113.4L404.0,114.1Z" fill="#5ffb1f"/><path d="M419.6,110.8L425.8,110.0L429.1,108.1L422.8,108.8Z" fill="#85fb18"/><path d="M429.1,108.1L435.4,107.4L438.5,105.5L432.2,106.2Z" fill="#9afb14"/><path d="M381.3,121.3L387.3,120.4L390.9,118.6L385.0,119.4Z" fill="#38fa27"/><path d="M390.9,118.6L397.0,117.7L400.5,116.0L394.5,116.8Z" fill="#4bfb23"/><path d="M410.1,113.4L416.3,112.5L419.6,110.8L413.4,111.5Z" fill="#72fb1b"/><path d="M438.5,105.5L444.9,104.7L447.9,102.7L441.6,103.4Z" fill="#affb0f"/><path d="M377.6,123.0L383.7,122.0L387.3,120.4L381.3,121.3Z" fill="#54fb21"/><path d="M397.0,117.7L403.2,116.8L406.7,115.1L400.5,116.0Z" fill="#7afb1a"/><path d="M406.7,115.1L412.9,114.2L416.3,112.5L410.1,113.4Z" fill="#8cfb16"/><path d="M416.3,112.5L422.6,111.6L425.8,110.0L419.6,110.8Z" fill="#9ffb12"/><path d="M425.8,110.0L432.2,109.1L435.4,107.4L429.1,108.1Z" fill="#b2fb0f"/><path d="M435.4,107.4L441.8,106.5L444.9,104.7L438.5,105.5Z" fill="#c5fc0b"/><path d="M387.3,120.4L393.4,119.4L397.0,117.7L390.9,118.6Z" fill="#67fb1e"/><path d="M393.4,119.4L399.7,118.3L403.2,116.8L397.0,117.7Z" fill="#97fb14"/><path d="M412.9,114.2L419.2,113.2L422.6,111.6L416.3,112.5Z" fill="#bbfb0d"/><path d="M383.7,122.0L389.8,120.9L393.4,119.4L387.3,120.4Z" fill="#85fb18"/><path d="M403.2,116.8L409.5,115.7L412.9,114.2L406.7,115.1Z" fill="#aafb10"/><path d="M422.6,111.6L429.0,110.7L432.2,109.1L425.8,110.0Z" fill="#cdfc09"/><path d="M432.2,109.1L438.7,108.2L441.8,106.5L435.4,107.4Z" fill="#dffc06"/><path d="M389.8,120.9L396.0,119.7L399.7,118.3L393.4,119.4Z" fill="#b7fb0e"/><path d="M399.7,118.3L406.0,117.1L409.5,115.7L403.2,116.8Z" fill="#c9fc0a"/><path d="M409.5,115.7L415.9,114.5L419.2,113.2L412.9,114.2Z" fill="#dafc07"/><path d="M419.2,113.2L425.7,112.1L429.0,110.7L422.6,111.6Z" fill="#ebfc03"/><path d="M429.0,110.7L435.5,109.6L438.7,108.2L432.2,109.1Z" fill="#fbfc00"/><path d="M396.0,119.7L402.4,118.3L406.0,117.1L399.7,118.3Z" fill="#ebfc03"/><path d="M406.0,117.1L412.4,115.7L415.9,114.5L409.5,115.7Z" fill="#fcfc00"/><path d="M415.9,114.5L422.3,113.3L425.7,112.1L419.2,113.2Z" fill="#fced00"/><path d="M425.7,112.1L432.2,110.9L435.5,109.6L429.0,110.7Z" fill="#fcde00"/><path d="M402.4,118.3L408.9,116.8L412.4,115.7L406.0,117.1Z" fill="#fcd900"/><path d="M412.4,115.7L418.9,114.3L422.3,113.3L415.9,114.5Z" fill="#fdca00"/><path d="M422.3,113.3L429.0,111.9L432.2,110.9L425.7,112.1Z" fill="#fdbc00"/><path d="M408.9,116.8L415.5,115.1L418.9,114.3L412.4,115.7Z" fill="#fda400"/><path d="M418.9,114.3L425.6,112.7L429.0,111.9L422.3,113.3Z" fill="#fd9600"/><path d="M415.5,115.1L422.2,113.3L425.6,112.7L418.9,114.3Z" fill="#fe6e00"/></g>
<circle cx="306.0" cy="127.5" r="1.4" fill="#f0a0a0" stroke="#700" stroke-width="0.4"/>
<circle cx="374.8" cy="70.5" r="1.4" fill="#c00000" stroke="#700" stroke-width="0.4"/>
<circle cx="394.8" cy="102.8" r="1.4" fill="#c00000" stroke="#700" stroke-width="0.4"/>
<circle cx="420.8" cy="114.0" r="1.4" fill="#f0a0a0" stroke="#700" stroke-width="0.4"/>
<circle cx="482.5" cy="60.7" r="1.4" fill="#c00000" stroke="#700" stroke-width="0.4"/>
<text x="306.3" y="172.1" text-anchor="end" font-size="6.2" fill="#222">40</text>
<text x="333.4" y="183.1" text-anchor="end" font-size="6.2" fill="#222">45</text>
<text x="360.4" y="194.1" text-anchor="end" font-size="6.2" fill="#222">50</text>
<text x="387.4" y="205.1" text-anchor="end" font-size="6.2" fill="#222">55</text>
<text x="414.5" y="216.1" text-anchor="end" font-size="6.2" fill="#222">60</text>
<text x="421.5" y="216.1" text-anchor="start" font-size="6.2" fill="#222">1</text>
<text x="432.7" y="202.0" text-anchor="start" font-size="6.2" fill="#222">1.2</text>
<text x="443.8" y="187.9" text-anchor="start" font-size="6.2" fill="#222">1.4</text>
<text x="455.0" y="173.8" text-anchor="start" font-size="6.2" fill="#222">1.6</text>
<text x="466.1" y="159.7" text-anchor="start" font-size="6.2" fill="#222">1.8</text>
<text x="477.3" y="145.6" text-anchor="start" font-size="6.2" fill="#222">2</text>
<text x="303.4" y="139.6" text-anchor="end" font-size="6.2" fill="#222">100</text>
<text x="302.0" y="126.3" text-anchor="end" font-size="6.2" fill="#222">200</text>
<text x="300.7" y="113.0" text-anchor="end" font-size="6.2" fill="#222">300</text>
<text x="299.3" y="99.6" text-anchor="end" font-size="6.2" fill="#222">400</text>
<text x="298.0" y="86.3" text-anchor="end" font-size="6.2" fill="#222">500</text>
<text x="296.6" y="73.0" text-anchor="end" font-size="6.2" fill="#222">600</text>
<text x="295.3" y="59.7" text-anchor="end" font-size="6.2" fill="#222">700</text>
<text x="270.0" y="14.0" font-size="11.5" font-weight="bold" fill="#000">(B)</text>
<text x="0.0" y="0.0" font-size="7.5" transform="translate(277,117) rotate(-90)" text-anchor="middle" fill="#111">PS</text>
<text x="300.0" y="219.5" font-size="8.75"  fill="#1a1a1a">A: Conc of GMS (mg)</text>
<text x="426.0" y="192.7" font-size="8.45"  fill="#1a1a1a">C: Conc of Poloxamer 407</text></g>
<g id="pC"><polygon points="566.3,167.5 681.6,208.3 731.0,134.0 626.0,106.2" fill="#ffff00"/>
<path d="M566.3,167.5L555.5,57.1M578.2,155.2L569.3,46.3M590.2,143.0L583.1,35.5M602.1,130.7L596.8,24.6M614.1,118.5L610.6,13.8M626.0,106.2L624.4,3.0M652.2,113.2L653.5,9.8M678.5,120.1L682.7,16.5M704.8,127.0L711.9,23.2M731.0,134.0L741.0,30.0M566.3,167.5L626.0,106.2M626.0,106.2L731.0,134.0M563.7,140.5L625.6,80.9M625.6,80.9L733.5,108.5M562.3,126.6L625.4,67.9M625.4,67.9L734.7,95.4M560.9,112.7L625.2,54.9M625.2,54.9L736.0,82.3M559.6,98.8L625.0,42.0M625.0,42.0L737.2,69.3M558.2,84.9L624.8,29.0M624.8,29.0L738.5,56.2M556.9,71.0L624.6,16.0M624.6,16.0L739.7,43.1M555.5,57.1L624.4,3.0M624.4,3.0L741.0,30.0" stroke="#3a3a3a" stroke-width="0.7" fill="none"/>
<path d="M566.3,167.5L681.6,208.3L731.0,134.0M566.3,167.5L565.4,168.4M595.1,177.7L594.2,178.6M624.0,187.9L623.0,188.8M652.8,198.1L651.9,199.0M681.6,208.3L680.7,209.2M681.6,208.3L682.9,208.6M691.5,193.4L692.7,193.8M701.4,178.6L702.6,178.9M711.2,163.7L712.5,164.1M721.1,148.9L722.4,149.2M731.0,134.0L732.3,134.3M563.7,140.5L561.5,139.8M562.3,126.6L560.1,125.9M560.9,112.7L558.7,112.0M559.6,98.8L557.4,98.1M558.2,84.9L556.0,84.2M556.9,71.0L554.7,70.3M555.5,57.1L553.3,56.4" stroke="#222" stroke-width="0.7" fill="none"/>
<path d="M663.8,127.9C660.8,128.8 650.2,131.2 645.8,133.5C641.4,135.8 636.6,138.8 637.4,141.4C638.1,144.0 644.4,147.4 650.3,149.3C656.2,151.2 665.4,152.1 672.9,152.7C680.4,153.3 687.3,153.4 695.4,152.7C703.5,151.9 717.1,148.9 721.4,148.2" fill="none" stroke="#30e070" stroke-width="0.9" stroke-linecap="round"/>
<path d="M572.4,161.8C576.0,162.9 584.7,166.6 593.9,168.5C603.1,170.4 616.4,172.2 627.7,173.0C639.0,173.8 651.8,173.4 661.6,173.0C671.4,172.6 679.2,171.6 686.4,170.8C693.5,170.1 701.5,168.9 704.5,168.5" fill="none" stroke="#40e040" stroke-width="0.9" stroke-linecap="round"/>
<path d="M626.8,188.9C630.7,188.8 642.4,188.5 650.0,188.1C657.6,187.7 665.1,187.2 672.6,186.6C680.1,186.0 691.4,184.8 695.2,184.4" fill="none" stroke="#40e040" stroke-width="0.9" stroke-linecap="round"/>
<path d="M656.1,198.3C658.9,198.1 667.1,197.6 672.6,197.1C678.1,196.6 686.4,195.6 689.2,195.3" fill="none" stroke="#40e040" stroke-width="0.9" stroke-linecap="round"/>
<g stroke="#101010" stroke-width="0.33" stroke-linejoin="round"><path d="M622.1,44.3L627.7,47.6L630.6,43.4L625.1,40.0Z" fill="#8bfb16"/><path d="M619.1,48.5L624.7,51.7L627.7,47.6L622.1,44.3Z" fill="#68fb1d"/><path d="M627.7,47.6L633.3,50.8L636.2,46.7L630.6,43.4Z" fill="#60fb1f"/><path d="M616.1,52.6L621.7,55.7L624.7,51.7L619.1,48.5Z" fill="#48fb24"/><path d="M624.7,51.7L630.3,54.8L633.3,50.8L627.7,47.6Z" fill="#3ffb25"/><path d="M633.3,50.8L638.9,53.8L641.8,49.8L636.2,46.7Z" fill="#37fa27"/><path d="M613.0,56.7L618.6,59.7L621.7,55.7L616.1,52.6Z" fill="#2bfa2a"/><path d="M630.3,54.8L636.0,57.8L638.9,53.8L633.3,50.8Z" fill="#19fa2d"/><path d="M621.7,55.7L627.3,58.8L630.3,54.8L624.7,51.7Z" fill="#21fa2b"/><path d="M638.9,53.8L644.5,56.8L647.4,52.9L641.8,49.8Z" fill="#11fa2f"/><path d="M609.9,60.6L615.5,63.7L618.6,59.7L613.0,56.7Z" fill="#10fa2f"/><path d="M618.6,59.7L624.3,62.7L627.3,58.8L621.7,55.7Z" fill="#06fa31"/><path d="M627.3,58.8L633.0,61.7L636.0,57.8L630.3,54.8Z" fill="#00fa34"/><path d="M636.0,57.8L641.6,60.7L644.5,56.8L638.9,53.8Z" fill="#00f93b"/><path d="M644.5,56.8L650.2,59.7L653.0,55.8L647.4,52.9Z" fill="#00f941"/><path d="M606.7,64.6L612.4,67.5L615.5,63.7L609.9,60.6Z" fill="#00fa39"/><path d="M624.3,62.7L630.0,65.6L633.0,61.7L627.3,58.8Z" fill="#00f849"/><path d="M641.6,60.7L647.3,63.5L650.2,59.7L644.5,56.8Z" fill="#00f756"/><path d="M615.5,63.7L621.2,66.6L624.3,62.7L618.6,59.7Z" fill="#00f941"/><path d="M633.0,61.7L638.7,64.5L641.6,60.7L636.0,57.8Z" fill="#00f84f"/><path d="M650.2,59.7L655.9,62.4L658.7,58.6L653.0,55.8Z" fill="#00f75c"/><path d="M603.5,68.4L609.2,71.3L612.4,67.5L606.7,64.6Z" fill="#00f84a"/><path d="M612.4,67.5L618.1,70.4L621.2,66.6L615.5,63.7Z" fill="#00f853"/><path d="M621.2,66.6L627.0,69.4L630.0,65.6L624.3,62.7Z" fill="#00f75b"/><path d="M630.0,65.6L635.7,68.3L638.7,64.5L633.0,61.7Z" fill="#00f662"/><path d="M638.7,64.5L644.4,67.3L647.3,63.5L641.6,60.7Z" fill="#00f669"/><path d="M647.3,63.5L653.0,66.2L655.9,62.4L650.2,59.7Z" fill="#00f66f"/><path d="M655.9,62.4L661.6,65.1L664.4,61.3L658.7,58.6Z" fill="#00f574"/><path d="M600.2,72.2L606.0,75.0L609.2,71.3L603.5,68.4Z" fill="#00f759"/><path d="M618.1,70.4L623.9,73.1L627.0,69.4L621.2,66.6Z" fill="#00f66b"/><path d="M635.7,68.3L641.5,71.0L644.4,67.3L638.7,64.5Z" fill="#00f57a"/><path d="M653.0,66.2L658.8,68.8L661.6,65.1L655.9,62.4Z" fill="#00f485"/><path d="M609.2,71.3L615.0,74.1L618.1,70.4L612.4,67.5Z" fill="#00f663"/><path d="M627.0,69.4L632.7,72.1L635.7,68.3L630.0,65.6Z" fill="#00f573"/><path d="M644.4,67.3L650.2,69.9L653.0,66.2L647.3,63.5Z" fill="#00f480"/><path d="M661.6,65.1L667.3,67.7L670.1,64.0L664.4,61.3Z" fill="#00f48a"/><path d="M596.9,75.9L602.7,78.7L606.0,75.0L600.2,72.2Z" fill="#00f667"/><path d="M606.0,75.0L611.8,77.8L615.0,74.1L609.2,71.3Z" fill="#00f571"/><path d="M615.0,74.1L620.8,76.8L623.9,73.1L618.1,70.4Z" fill="#00f57a"/><path d="M623.9,73.1L629.7,75.8L632.7,72.1L627.0,69.4Z" fill="#00f482"/><path d="M632.7,72.1L638.5,74.7L641.5,71.0L635.7,68.3Z" fill="#00f489"/><path d="M641.5,71.0L647.3,73.6L650.2,69.9L644.4,67.3Z" fill="#00f38f"/><path d="M650.2,69.9L655.9,72.5L658.8,68.8L653.0,66.2Z" fill="#00f395"/><path d="M658.8,68.8L664.6,71.3L667.3,67.7L661.6,65.1Z" fill="#00f29a"/><path d="M667.3,67.7L673.1,70.1L675.8,66.5L670.1,64.0Z" fill="#00f29e"/><path d="M593.5,79.5L599.4,82.3L602.7,78.7L596.9,75.9Z" fill="#00f572"/><path d="M611.8,77.8L617.6,80.4L620.8,76.8L615.0,74.1Z" fill="#00f486"/><path d="M629.7,75.8L635.5,78.3L638.5,74.7L632.7,72.1Z" fill="#00f396"/><path d="M647.3,73.6L653.1,76.1L655.9,72.5L650.2,69.9Z" fill="#00f2a2"/><path d="M664.6,71.3L670.4,73.7L673.1,70.1L667.3,67.7Z" fill="#00f1ac"/><path d="M602.7,78.7L608.5,81.4L611.8,77.8L606.0,75.0Z" fill="#00f57d"/><path d="M620.8,76.8L626.6,79.4L629.7,75.8L623.9,73.1Z" fill="#00f38e"/><path d="M638.5,74.7L644.3,77.2L647.3,73.6L641.5,71.0Z" fill="#00f29c"/><path d="M655.9,72.5L661.8,74.9L664.6,71.3L658.8,68.8Z" fill="#00f1a8"/><path d="M673.1,70.1L678.9,72.5L681.6,68.9L675.8,66.5Z" fill="#00f1b0"/><path d="M590.1,83.1L596.0,85.8L599.4,82.3L593.5,79.5Z" fill="#00f57a"/><path d="M599.4,82.3L605.2,85.0L608.5,81.4L602.7,78.7Z" fill="#00f486"/><path d="M608.5,81.4L614.4,84.0L617.6,80.4L611.8,77.8Z" fill="#00f391"/><path d="M617.6,80.4L623.4,83.0L626.6,79.4L620.8,76.8Z" fill="#00f299"/><path d="M626.6,79.4L632.4,81.9L635.5,78.3L629.7,75.8Z" fill="#00f2a1"/><path d="M635.5,78.3L641.3,80.8L644.3,77.2L638.5,74.7Z" fill="#00f1a8"/><path d="M644.3,77.2L650.2,79.6L653.1,76.1L647.3,73.6Z" fill="#00f1ae"/><path d="M653.1,76.1L658.9,78.5L661.8,74.9L655.9,72.5Z" fill="#00f0b4"/><path d="M661.8,74.9L667.6,77.3L670.4,73.7L664.6,71.3Z" fill="#00f0b9"/><path d="M670.4,73.7L676.2,76.0L678.9,72.5L673.1,70.1Z" fill="#00f0bd"/><path d="M678.9,72.5L684.8,74.8L687.4,71.2L681.6,68.9Z" fill="#00f0bf"/><path d="M586.6,86.6L592.5,89.3L596.0,85.8L590.1,83.1Z" fill="#00f481"/><path d="M605.2,85.0L611.1,87.5L614.4,84.0L608.5,81.4Z" fill="#00f299"/><path d="M623.4,83.0L629.3,85.4L632.4,81.9L626.6,79.4Z" fill="#00f1aa"/><path d="M641.3,80.8L647.2,83.1L650.2,79.6L644.3,77.2Z" fill="#00f0b8"/><path d="M658.9,78.5L664.8,80.7L667.6,77.3L661.8,74.9Z" fill="#00efc3"/><path d="M676.2,76.0L682.1,78.3L684.8,74.8L678.9,72.5Z" fill="#00efcb"/><path d="M596.0,85.8L601.8,88.5L605.2,85.0L599.4,82.3Z" fill="#00f38e"/><path d="M614.4,84.0L620.2,86.5L623.4,83.0L617.6,80.4Z" fill="#00f2a2"/><path d="M632.4,81.9L638.3,84.3L641.3,80.8L635.5,78.3Z" fill="#00f1b1"/><path d="M650.2,79.6L656.0,81.9L658.9,78.5L653.1,76.1Z" fill="#00f0be"/><path d="M667.6,77.3L673.5,79.5L676.2,76.0L670.4,73.7Z" fill="#00efc8"/><path d="M684.8,74.8L690.6,76.9L693.2,73.4L687.4,71.2Z" fill="#00efcd"/><path d="M583.1,90.0L589.0,92.7L592.5,89.3L586.6,86.6Z" fill="#00f485"/><path d="M592.5,89.3L598.4,91.9L601.8,88.5L596.0,85.8Z" fill="#00f394"/><path d="M601.8,88.5L607.8,91.0L611.1,87.5L605.2,85.0Z" fill="#00f2a0"/><path d="M611.1,87.5L617.0,89.9L620.2,86.5L614.4,84.0Z" fill="#00f1a9"/><path d="M620.2,86.5L626.1,88.8L629.3,85.4L623.4,83.0Z" fill="#00f1b2"/><path d="M629.3,85.4L635.2,87.7L638.3,84.3L632.4,81.9Z" fill="#00f0b9"/><path d="M638.3,84.3L644.2,86.5L647.2,83.1L641.3,80.8Z" fill="#00f0c0"/><path d="M647.2,83.1L653.1,85.4L656.0,81.9L650.2,79.6Z" fill="#00efc6"/><path d="M656.0,81.9L661.9,84.2L664.8,80.7L658.9,78.5Z" fill="#00efcc"/><path d="M664.8,80.7L670.7,82.9L673.5,79.5L667.6,77.3Z" fill="#00eed1"/><path d="M673.5,79.5L679.4,81.7L682.1,78.3L676.2,76.0Z" fill="#00eed5"/><path d="M682.1,78.3L688.0,80.4L690.6,76.9L684.8,74.8Z" fill="#00eed7"/><path d="M690.6,76.9L696.6,79.0L699.1,75.5L693.2,73.4Z" fill="#00eed8"/><path d="M579.5,93.3L585.4,96.1L589.0,92.7L583.1,90.0Z" fill="#00f488"/><path d="M598.4,91.9L604.4,94.4L607.8,91.0L601.8,88.5Z" fill="#00f2a4"/><path d="M617.0,89.9L622.9,92.3L626.1,88.8L620.2,86.5Z" fill="#00f0b7"/><path d="M635.2,87.7L641.1,89.9L644.2,86.5L638.3,84.3Z" fill="#00efc6"/><path d="M653.1,85.4L659.0,87.5L661.9,84.2L656.0,81.9Z" fill="#00eed2"/><path d="M670.7,82.9L676.6,85.0L679.4,81.7L673.5,79.5Z" fill="#00eedc"/><path d="M688.0,80.4L694.0,82.4L696.6,79.0L690.6,76.9Z" fill="#00ede1"/><path d="M589.0,92.7L595.0,95.3L598.4,91.9L592.5,89.3Z" fill="#00f397"/><path d="M607.8,91.0L613.7,93.4L617.0,89.9L611.1,87.5Z" fill="#00f1ae"/><path d="M626.1,88.8L632.1,91.1L635.2,87.7L629.3,85.4Z" fill="#00f0bf"/><path d="M644.2,86.5L650.1,88.7L653.1,85.4L647.2,83.1Z" fill="#00efcc"/><path d="M661.9,84.2L667.9,86.3L670.7,82.9L664.8,80.7Z" fill="#00eed7"/><path d="M679.4,81.7L685.3,83.7L688.0,80.4L682.1,78.3Z" fill="#00eddf"/><path d="M696.6,79.0L702.5,80.9L705.1,77.4L699.1,75.5Z" fill="#00ede1"/><path d="M585.4,96.1L591.4,98.6L595.0,95.3L589.0,92.7Z" fill="#00f299"/><path d="M604.4,94.4L610.3,96.7L613.7,93.4L607.8,91.0Z" fill="#00f1b2"/><path d="M575.8,96.6L581.8,99.3L585.4,96.1L579.5,93.3Z" fill="#00f488"/><path d="M622.9,92.3L628.9,94.5L632.1,91.1L626.1,88.8Z" fill="#00efc3"/><path d="M632.1,91.1L638.1,93.3L641.1,89.9L635.2,87.7Z" fill="#00efca"/><path d="M641.1,89.9L647.1,92.0L650.1,88.7L644.2,86.5Z" fill="#00eed0"/><path d="M650.1,88.7L656.1,90.8L659.0,87.5L653.1,85.4Z" fill="#00eed6"/><path d="M659.0,87.5L665.0,89.6L667.9,86.3L661.9,84.2Z" fill="#00eedc"/><path d="M667.9,86.3L673.9,88.3L676.6,85.0L670.7,82.9Z" fill="#00ede1"/><path d="M676.6,85.0L682.6,87.0L685.3,83.7L679.4,81.7Z" fill="#00ede5"/><path d="M685.3,83.7L691.3,85.7L694.0,82.4L688.0,80.4Z" fill="#00ede8"/><path d="M694.0,82.4L700.0,84.3L702.5,80.9L696.6,79.0Z" fill="#00ede9"/><path d="M702.5,80.9L708.5,82.8L711.0,79.3L705.1,77.4Z" fill="#00ede8"/><path d="M595.0,95.3L600.9,97.7L604.4,94.4L598.4,91.9Z" fill="#00f1a7"/><path d="M613.7,93.4L619.7,95.6L622.9,92.3L617.0,89.9Z" fill="#00f0bb"/><path d="M628.9,94.5L634.9,96.5L638.1,93.3L632.1,91.1Z" fill="#00efcc"/><path d="M647.1,92.0L653.1,94.0L656.1,90.8L650.1,88.7Z" fill="#00eed9"/><path d="M665.0,89.6L671.1,91.5L673.9,88.3L667.9,86.3Z" fill="#00ede4"/><path d="M682.6,87.0L688.7,89.0L691.3,85.7L685.3,83.7Z" fill="#00ecec"/><path d="M700.0,84.3L706.0,86.1L708.5,82.8L702.5,80.9Z" fill="#00ecef"/><path d="M591.4,98.6L597.4,101.0L600.9,97.7L595.0,95.3Z" fill="#00f1a7"/><path d="M610.3,96.7L616.3,98.9L619.7,95.6L613.7,93.4Z" fill="#00f0bd"/><path d="M572.1,99.8L578.1,102.5L581.8,99.3L575.8,96.6Z" fill="#00f485"/><path d="M581.8,99.3L587.8,101.9L591.4,98.6L585.4,96.1Z" fill="#00f398"/><path d="M600.9,97.7L606.9,100.0L610.3,96.7L604.4,94.4Z" fill="#00f1b3"/><path d="M619.7,95.6L625.7,97.7L628.9,94.5L622.9,92.3Z" fill="#00efc5"/><path d="M638.1,93.3L644.1,95.3L647.1,92.0L641.1,89.9Z" fill="#00eed3"/><path d="M656.1,90.8L662.1,92.8L665.0,89.6L659.0,87.5Z" fill="#00edde"/><path d="M673.9,88.3L679.9,90.3L682.6,87.0L676.6,85.0Z" fill="#00ede9"/><path d="M691.3,85.7L697.4,87.6L700.0,84.3L694.0,82.4Z" fill="#00ecef"/><path d="M708.5,82.8L714.6,84.5L717.1,81.1L711.0,79.3Z" fill="#00eced"/><path d="M597.4,101.0L603.5,103.3L606.9,100.0L600.9,97.7Z" fill="#00f1b2"/><path d="M568.2,102.9L574.3,105.7L578.1,102.5L572.1,99.8Z" fill="#00f481"/><path d="M578.1,102.5L584.1,105.1L587.8,101.9L581.8,99.3Z" fill="#00f396"/><path d="M587.8,101.9L593.9,104.3L597.4,101.0L591.4,98.6Z" fill="#00f2a6"/><path d="M616.3,98.9L622.4,101.0L625.7,97.7L619.7,95.6Z" fill="#00efc5"/><path d="M625.7,97.7L631.7,99.7L634.9,96.5L628.9,94.5Z" fill="#00efcc"/><path d="M634.9,96.5L641.0,98.5L644.1,95.3L638.1,93.3Z" fill="#00eed3"/><path d="M644.1,95.3L650.1,97.2L653.1,94.0L647.1,92.0Z" fill="#00eed9"/><path d="M653.1,94.0L659.2,95.9L662.1,92.8L656.1,90.8Z" fill="#00eddf"/><path d="M662.1,92.8L668.2,94.7L671.1,91.5L665.0,89.6Z" fill="#00ede4"/><path d="M671.1,91.5L677.1,93.4L679.9,90.3L673.9,88.3Z" fill="#00edea"/><path d="M679.9,90.3L686.0,92.1L688.7,89.0L682.6,87.0Z" fill="#00ecee"/><path d="M688.7,89.0L694.8,90.8L697.4,87.6L691.3,85.7Z" fill="#00ecf2"/><path d="M697.4,87.6L703.5,89.4L706.0,86.1L700.0,84.3Z" fill="#00ecf3"/><path d="M706.0,86.1L712.1,87.8L714.6,84.5L708.5,82.8Z" fill="#00ecf3"/><path d="M714.6,84.5L720.7,86.2L723.1,82.7L717.1,81.1Z" fill="#00ecef"/><path d="M606.9,100.0L613.0,102.2L616.3,98.9L610.3,96.7Z" fill="#00f0bc"/><path d="M622.4,101.0L628.5,102.9L631.7,99.7L625.7,97.7Z" fill="#00efcb"/><path d="M641.0,98.5L647.1,100.3L650.1,97.2L644.1,95.3Z" fill="#00eed7"/><path d="M659.2,95.9L665.3,97.7L668.2,94.7L662.1,92.8Z" fill="#00ede3"/><path d="M677.1,93.4L683.3,95.2L686.0,92.1L679.9,90.3Z" fill="#00eced"/><path d="M694.8,90.8L700.9,92.5L703.5,89.4L697.4,87.6Z" fill="#00ecf5"/><path d="M712.1,87.8L718.3,89.5L720.7,86.2L714.6,84.5Z" fill="#00ecf5"/><path d="M603.5,103.3L609.5,105.4L613.0,102.2L606.9,100.0Z" fill="#00f0ba"/><path d="M564.3,106.0L570.4,108.8L574.3,105.7L568.2,102.9Z" fill="#00f57b"/><path d="M574.3,105.7L580.4,108.2L584.1,105.1L578.1,102.5Z" fill="#00f391"/><path d="M584.1,105.1L590.2,107.5L593.9,104.3L587.8,101.9Z" fill="#00f2a2"/><path d="M593.9,104.3L599.9,106.5L603.5,103.3L597.4,101.0Z" fill="#00f1b0"/><path d="M613.0,102.2L619.0,104.2L622.4,101.0L616.3,98.9Z" fill="#00efc3"/><path d="M631.7,99.7L637.8,101.6L641.0,98.5L634.9,96.5Z" fill="#00eed1"/><path d="M650.1,97.2L656.2,99.0L659.2,95.9L653.1,94.0Z" fill="#00eddd"/><path d="M668.2,94.7L674.3,96.4L677.1,93.4L671.1,91.5Z" fill="#00ede8"/><path d="M686.0,92.1L692.1,93.8L694.8,90.8L688.7,89.0Z" fill="#00ecf2"/><path d="M703.5,89.4L709.6,91.0L712.1,87.8L706.0,86.1Z" fill="#00ecf6"/><path d="M720.7,86.2L726.9,87.7L729.3,84.3L723.1,82.7Z" fill="#00ecf0"/><path d="M560.4,109.0L566.5,111.8L570.4,108.8L564.3,106.0Z" fill="#00f572"/><path d="M570.4,108.8L576.6,111.3L580.4,108.2L574.3,105.7Z" fill="#00f48a"/><path d="M580.4,108.2L586.5,110.6L590.2,107.5L584.1,105.1Z" fill="#00f29d"/><path d="M590.2,107.5L596.3,109.6L599.9,106.5L593.9,104.3Z" fill="#00f1ab"/><path d="M599.9,106.5L606.0,108.5L609.5,105.4L603.5,103.3Z" fill="#00f0b6"/><path d="M609.5,105.4L615.6,107.3L619.0,104.2L613.0,102.2Z" fill="#00f0bf"/><path d="M619.0,104.2L625.2,106.0L628.5,102.9L622.4,101.0Z" fill="#00efc7"/><path d="M628.5,102.9L634.6,104.7L637.8,101.6L631.7,99.7Z" fill="#00efcd"/><path d="M637.8,101.6L643.9,103.4L647.1,100.3L641.0,98.5Z" fill="#00eed4"/><path d="M647.1,100.3L653.2,102.0L656.2,99.0L650.1,97.2Z" fill="#00eed9"/><path d="M656.2,99.0L662.4,100.7L665.3,97.7L659.2,95.9Z" fill="#00eddf"/><path d="M665.3,97.7L671.5,99.4L674.3,96.4L668.2,94.7Z" fill="#00ede5"/><path d="M674.3,96.4L680.5,98.1L683.3,95.2L677.1,93.4Z" fill="#00edea"/><path d="M683.3,95.2L689.4,96.8L692.1,93.8L686.0,92.1Z" fill="#00ecef"/><path d="M692.1,93.8L698.3,95.5L700.9,92.5L694.8,90.8Z" fill="#00ecf3"/><path d="M700.9,92.5L707.1,94.1L709.6,91.0L703.5,89.4Z" fill="#00ecf6"/><path d="M709.6,91.0L715.8,92.6L718.3,89.5L712.1,87.8Z" fill="#00ecf7"/><path d="M718.3,89.5L724.5,91.0L726.9,87.7L720.7,86.2Z" fill="#00ecf4"/><path d="M726.9,87.7L733.1,89.1L735.5,85.7L729.3,84.3Z" fill="#00ecee"/><path d="M615.6,107.3L621.8,109.1L625.2,106.0L619.0,104.2Z" fill="#00f0c1"/><path d="M634.6,104.7L640.8,106.3L643.9,103.4L637.8,101.6Z" fill="#00efce"/><path d="M653.2,102.0L659.4,103.6L662.4,100.7L656.2,99.0Z" fill="#00eed9"/><path d="M671.5,99.4L677.7,101.0L680.5,98.1L674.3,96.4Z" fill="#00ede4"/><path d="M689.4,96.8L695.7,98.4L698.3,95.5L692.1,93.8Z" fill="#00ecef"/><path d="M707.1,94.1L713.4,95.6L715.8,92.6L709.6,91.0Z" fill="#00ecf5"/><path d="M724.5,91.0L730.8,92.4L733.1,89.1L726.9,87.7Z" fill="#00ecf1"/><path d="M566.5,111.8L572.7,114.4L576.6,111.3L570.4,108.8Z" fill="#00f481"/><path d="M576.6,111.3L582.7,113.7L586.5,110.6L580.4,108.2Z" fill="#00f395"/><path d="M586.5,110.6L592.7,112.7L596.3,109.6L590.2,107.5Z" fill="#00f2a4"/><path d="M596.3,109.6L602.5,111.6L606.0,108.5L599.9,106.5Z" fill="#00f1b0"/><path d="M606.0,108.5L612.2,110.4L615.6,107.3L609.5,105.4Z" fill="#00f0ba"/><path d="M625.2,106.0L631.3,107.7L634.6,104.7L628.5,102.9Z" fill="#00efc8"/><path d="M643.9,103.4L650.1,105.0L653.2,102.0L647.1,100.3Z" fill="#00eed3"/><path d="M662.4,100.7L668.6,102.3L671.5,99.4L665.3,97.7Z" fill="#00eddf"/><path d="M680.5,98.1L686.7,99.7L689.4,96.8L683.3,95.2Z" fill="#00edea"/><path d="M698.3,95.5L704.6,97.0L707.1,94.1L700.9,92.5Z" fill="#00ecf3"/><path d="M715.8,92.6L722.1,94.1L724.5,91.0L718.3,89.5Z" fill="#00ecf5"/><path d="M612.2,110.4L618.4,112.1L621.8,109.1L615.6,107.3Z" fill="#00f0ba"/><path d="M572.7,114.4L578.9,116.7L582.7,113.7L576.6,111.3Z" fill="#00f38c"/><path d="M582.7,113.7L588.9,115.8L592.7,112.7L586.5,110.6Z" fill="#00f29c"/><path d="M592.7,112.7L598.8,114.7L602.5,111.6L596.3,109.6Z" fill="#00f1a9"/><path d="M621.8,109.1L628.0,110.7L631.3,107.7L625.2,106.0Z" fill="#00f0c0"/><path d="M631.3,107.7L637.5,109.3L640.8,106.3L634.6,104.7Z" fill="#00efc6"/><path d="M640.8,106.3L647.0,107.8L650.1,105.0L643.9,103.4Z" fill="#00efcb"/><path d="M650.1,105.0L656.4,106.5L659.4,103.6L653.2,102.0Z" fill="#00eed1"/><path d="M659.4,103.6L665.6,105.1L668.6,102.3L662.4,100.7Z" fill="#00eed6"/><path d="M668.6,102.3L674.8,103.8L677.7,101.0L671.5,99.4Z" fill="#00eedc"/><path d="M677.7,101.0L684.0,102.4L686.7,99.7L680.5,98.1Z" fill="#00ede2"/><path d="M686.7,99.7L693.0,101.1L695.7,98.4L689.4,96.8Z" fill="#00ede8"/><path d="M695.7,98.4L702.0,99.8L704.6,97.0L698.3,95.5Z" fill="#00eced"/><path d="M704.6,97.0L710.8,98.5L713.4,95.6L707.1,94.1Z" fill="#00ecf0"/><path d="M713.4,95.6L719.7,97.0L722.1,94.1L715.8,92.6Z" fill="#00ecf2"/><path d="M722.1,94.1L728.4,95.5L730.8,92.4L724.5,91.0Z" fill="#00ecf1"/><path d="M602.5,111.6L608.7,113.4L612.2,110.4L606.0,108.5Z" fill="#00f1b2"/><path d="M628.0,110.7L634.3,112.1L637.5,109.3L631.3,107.7Z" fill="#00f0bc"/><path d="M647.0,107.8L653.3,109.2L656.4,106.5L650.1,105.0Z" fill="#00efc6"/><path d="M665.6,105.1L672.0,106.4L674.8,103.8L668.6,102.3Z" fill="#00eed1"/><path d="M684.0,102.4L690.3,103.8L693.0,101.1L686.7,99.7Z" fill="#00eddd"/><path d="M702.0,99.8L708.3,101.2L710.8,98.5L704.6,97.0Z" fill="#00ede8"/><path d="M719.7,97.0L726.0,98.3L728.4,95.5L722.1,94.1Z" fill="#00eced"/><path d="M608.7,113.4L614.9,115.0L618.4,112.1L612.2,110.4Z" fill="#00f1b1"/><path d="M578.9,116.7L585.1,118.8L588.9,115.8L582.7,113.7Z" fill="#00f392"/><path d="M588.9,115.8L595.1,117.7L598.8,114.7L592.7,112.7Z" fill="#00f29f"/><path d="M598.8,114.7L605.1,116.4L608.7,113.4L602.5,111.6Z" fill="#00f1a9"/><path d="M618.4,112.1L624.6,113.6L628.0,110.7L621.8,109.1Z" fill="#00f0b7"/><path d="M637.5,109.3L643.8,110.6L647.0,107.8L640.8,106.3Z" fill="#00f0c1"/><path d="M656.4,106.5L662.7,107.8L665.6,105.1L659.4,103.6Z" fill="#00efcc"/><path d="M674.8,103.8L681.2,105.1L684.0,102.4L677.7,101.0Z" fill="#00eed7"/><path d="M693.0,101.1L699.3,102.5L702.0,99.8L695.7,98.4Z" fill="#00ede3"/><path d="M710.8,98.5L717.2,99.8L719.7,97.0L713.4,95.6Z" fill="#00ecec"/><path d="M605.1,116.4L611.3,117.9L614.9,115.0L608.7,113.4Z" fill="#00f2a5"/><path d="M624.6,113.6L630.9,114.9L634.3,112.1L628.0,110.7Z" fill="#00f1b1"/><path d="M585.1,118.8L591.4,120.6L595.1,117.7L588.9,115.8Z" fill="#00f393"/><path d="M634.3,112.1L640.6,113.4L643.8,110.6L637.5,109.3Z" fill="#00f0b5"/><path d="M643.8,110.6L650.1,111.9L653.3,109.2L647.0,107.8Z" fill="#00f0ba"/><path d="M653.3,109.2L659.6,110.4L662.7,107.8L656.4,106.5Z" fill="#00f0bf"/><path d="M662.7,107.8L669.0,109.0L672.0,106.4L665.6,105.1Z" fill="#00efc4"/><path d="M672.0,106.4L678.3,107.7L681.2,105.1L674.8,103.8Z" fill="#00efca"/><path d="M681.2,105.1L687.5,106.3L690.3,103.8L684.0,102.4Z" fill="#00eed0"/><path d="M690.3,103.8L696.7,105.1L699.3,102.5L693.0,101.1Z" fill="#00eed7"/><path d="M699.3,102.5L705.7,103.8L708.3,101.2L702.0,99.8Z" fill="#00eedd"/><path d="M708.3,101.2L714.7,102.4L717.2,99.8L710.8,98.5Z" fill="#00ede2"/><path d="M717.2,99.8L723.6,101.1L726.0,98.3L719.7,97.0Z" fill="#00ede5"/><path d="M595.1,117.7L601.4,119.3L605.1,116.4L598.8,114.7Z" fill="#00f29e"/><path d="M614.9,115.0L621.2,116.4L624.6,113.6L618.4,112.1Z" fill="#00f1ab"/><path d="M601.4,119.3L607.7,120.7L611.3,117.9L605.1,116.4Z" fill="#00f398"/><path d="M621.2,116.4L627.5,117.6L630.9,114.9L624.6,113.6Z" fill="#00f2a3"/><path d="M640.6,113.4L646.9,114.5L650.1,111.9L643.8,110.6Z" fill="#00f1ab"/><path d="M659.6,110.4L666.0,111.5L669.0,109.0L662.7,107.8Z" fill="#00f0b4"/><path d="M678.3,107.7L684.8,108.8L687.5,106.3L681.2,105.1Z" fill="#00f0c0"/><path d="M696.7,105.1L703.1,106.2L705.7,103.8L699.3,102.5Z" fill="#00efce"/><path d="M714.7,102.4L721.2,103.6L723.6,101.1L717.2,99.8Z" fill="#00eed9"/><path d="M591.4,120.6L597.6,122.2L601.4,119.3L595.1,117.7Z" fill="#00f390"/><path d="M611.3,117.9L617.6,119.2L621.2,116.4L614.9,115.0Z" fill="#00f29e"/><path d="M630.9,114.9L637.3,116.0L640.6,113.4L634.3,112.1Z" fill="#00f1a7"/><path d="M650.1,111.9L656.5,113.0L659.6,110.4L653.3,109.2Z" fill="#00f1af"/><path d="M669.0,109.0L675.4,110.1L678.3,107.7L672.0,106.4Z" fill="#00f0ba"/><path d="M687.5,106.3L694.0,107.5L696.7,105.1L690.3,103.8Z" fill="#00efc7"/><path d="M705.7,103.8L712.2,104.9L714.7,102.4L708.3,101.2Z" fill="#00eed4"/><path d="M597.6,122.2L604.0,123.5L607.7,120.7L601.4,119.3Z" fill="#00f489"/><path d="M607.7,120.7L614.0,121.9L617.6,119.2L611.3,117.9Z" fill="#00f38f"/><path d="M617.6,119.2L624.0,120.3L627.5,117.6L621.2,116.4Z" fill="#00f393"/><path d="M627.5,117.6L633.9,118.6L637.3,116.0L630.9,114.9Z" fill="#00f396"/><path d="M637.3,116.0L643.7,117.0L646.9,114.5L640.6,113.4Z" fill="#00f29a"/><path d="M646.9,114.5L653.4,115.4L656.5,113.0L650.1,111.9Z" fill="#00f29e"/><path d="M656.5,113.0L663.0,113.9L666.0,111.5L659.6,110.4Z" fill="#00f2a2"/><path d="M666.0,111.5L672.5,112.4L675.4,110.1L669.0,109.0Z" fill="#00f1a7"/><path d="M675.4,110.1L681.9,111.0L684.8,108.8L678.3,107.7Z" fill="#00f1ae"/><path d="M684.8,108.8L691.3,109.7L694.0,107.5L687.5,106.3Z" fill="#00f0b4"/><path d="M694.0,107.5L700.5,108.5L703.1,106.2L696.7,105.1Z" fill="#00f0bb"/><path d="M703.1,106.2L709.7,107.2L712.2,104.9L705.7,103.8Z" fill="#00efc3"/><path d="M712.2,104.9L718.8,105.9L721.2,103.6L714.7,102.4Z" fill="#00efc9"/><path d="M614.0,121.9L620.5,122.9L624.0,120.3L617.6,119.2Z" fill="#00f481"/><path d="M633.9,118.6L640.3,119.4L643.7,117.0L637.3,116.0Z" fill="#00f487"/><path d="M653.4,115.4L659.9,116.2L663.0,113.9L656.5,113.0Z" fill="#00f38d"/><path d="M672.5,112.4L679.0,113.2L681.9,111.0L675.4,110.1Z" fill="#00f398"/><path d="M691.3,109.7L697.8,110.6L700.5,108.5L694.0,107.5Z" fill="#00f2a6"/><path d="M709.7,107.2L716.3,108.1L718.8,105.9L712.2,104.9Z" fill="#00f0b5"/><path d="M604.0,123.5L610.4,124.6L614.0,121.9L607.7,120.7Z" fill="#00f47d"/><path d="M624.0,120.3L630.4,121.1L633.9,118.6L627.5,117.6Z" fill="#00f484"/><path d="M643.7,117.0L650.1,117.8L653.4,115.4L646.9,114.5Z" fill="#00f48a"/><path d="M663.0,113.9L669.5,114.6L672.5,112.4L666.0,111.5Z" fill="#00f392"/><path d="M681.9,111.0L688.5,111.9L691.3,109.7L684.8,108.8Z" fill="#00f29e"/><path d="M700.5,108.5L707.1,109.3L709.7,107.2L703.1,106.2Z" fill="#00f1ae"/><path d="M610.4,124.6L616.8,125.4L620.5,122.9L614.0,121.9Z" fill="#00f66d"/><path d="M620.5,122.9L626.9,123.6L630.4,121.1L624.0,120.3Z" fill="#00f66f"/><path d="M630.4,121.1L636.9,121.8L640.3,119.4L633.9,118.6Z" fill="#00f571"/><path d="M640.3,119.4L646.9,120.0L650.1,117.8L643.7,117.0Z" fill="#00f573"/><path d="M650.1,117.8L656.7,118.3L659.9,116.2L653.4,115.4Z" fill="#00f576"/><path d="M659.9,116.2L666.4,116.7L669.5,114.6L663.0,113.9Z" fill="#00f57a"/><path d="M669.5,114.6L676.1,115.3L679.0,113.2L672.5,112.4Z" fill="#00f47f"/><path d="M679.0,113.2L685.6,113.8L688.5,111.9L681.9,111.0Z" fill="#00f486"/><path d="M688.5,111.9L695.1,112.5L697.8,110.6L691.3,109.7Z" fill="#00f38d"/><path d="M697.8,110.6L704.5,111.3L707.1,109.3L700.5,108.5Z" fill="#00f395"/><path d="M707.1,109.3L713.8,110.1L716.3,108.1L709.7,107.2Z" fill="#00f29e"/><path d="M626.9,123.6L633.5,124.0L636.9,121.8L630.4,121.1Z" fill="#00f759"/><path d="M646.9,120.0L653.5,120.4L656.7,118.3L650.1,117.8Z" fill="#00f75c"/><path d="M666.4,116.7L673.1,117.2L676.1,115.3L669.5,114.6Z" fill="#00f664"/><path d="M685.6,113.8L692.3,114.3L695.1,112.5L688.5,111.9Z" fill="#00f571"/><path d="M704.5,111.3L711.2,111.9L713.8,110.1L707.1,109.3Z" fill="#00f482"/><path d="M616.8,125.4L623.3,125.9L626.9,123.6L620.5,122.9Z" fill="#00f759"/><path d="M636.9,121.8L643.5,122.2L646.9,120.0L640.3,119.4Z" fill="#00f75b"/><path d="M656.7,118.3L663.3,118.7L666.4,116.7L659.9,116.2Z" fill="#00f75f"/><path d="M676.1,115.3L682.8,115.7L685.6,113.8L679.0,113.2Z" fill="#00f66a"/><path d="M695.1,112.5L701.8,113.1L704.5,111.3L697.8,110.6Z" fill="#00f579"/><path d="M623.3,125.9L629.9,126.2L633.5,124.0L626.9,123.6Z" fill="#00f940"/><path d="M633.5,124.0L640.1,124.3L643.5,122.2L636.9,121.8Z" fill="#00f940"/><path d="M643.5,122.2L650.2,122.4L653.5,120.4L646.9,120.0Z" fill="#00f940"/><path d="M653.5,120.4L660.1,120.6L663.3,118.7L656.7,118.3Z" fill="#00f942"/><path d="M663.3,118.7L670.0,118.9L673.1,117.2L666.4,116.7Z" fill="#00f945"/><path d="M673.1,117.2L679.8,117.4L682.8,115.7L676.1,115.3Z" fill="#00f84a"/><path d="M682.8,115.7L689.5,116.0L692.3,114.3L685.6,113.8Z" fill="#00f851"/><path d="M692.3,114.3L699.1,114.7L701.8,113.1L695.1,112.5Z" fill="#00f759"/><path d="M701.8,113.1L708.6,113.5L711.2,111.9L704.5,111.3Z" fill="#00f662"/><path d="M640.1,124.3L646.8,124.2L650.2,122.4L643.5,122.2Z" fill="#14fa2e"/><path d="M660.1,120.6L666.9,120.6L670.0,118.9L663.3,118.7Z" fill="#11fa2f"/><path d="M679.8,117.4L686.7,117.4L689.5,116.0L682.8,115.7Z" fill="#05fa31"/><path d="M699.1,114.7L706.0,114.8L708.6,113.5L701.8,113.1Z" fill="#00f93f"/><path d="M629.9,126.2L636.6,126.2L640.1,124.3L633.5,124.0Z" fill="#14fa2e"/><path d="M650.2,122.4L656.9,122.3L660.1,120.6L653.5,120.4Z" fill="#14fa2e"/><path d="M670.0,118.9L676.8,118.9L679.8,117.4L673.1,117.2Z" fill="#0cfa30"/><path d="M689.5,116.0L696.4,116.1L699.1,114.7L692.3,114.3Z" fill="#00fa35"/><path d="M636.6,126.2L643.3,126.0L646.8,124.2L640.1,124.3Z" fill="#3dfa26"/><path d="M646.8,124.2L653.6,123.9L656.9,122.3L650.2,122.4Z" fill="#3efa26"/><path d="M656.9,122.3L663.7,122.0L666.9,120.6L660.1,120.6Z" fill="#3dfa26"/><path d="M666.9,120.6L673.8,120.3L676.8,118.9L670.0,118.9Z" fill="#3afa26"/><path d="M676.8,118.9L683.7,118.7L686.7,117.4L679.8,117.4Z" fill="#34fa28"/><path d="M686.7,117.4L693.6,117.3L696.4,116.1L689.5,116.0Z" fill="#2cfa29"/><path d="M696.4,116.1L703.3,116.0L706.0,114.8L699.1,114.7Z" fill="#21fa2b"/><path d="M653.6,123.9L660.5,123.4L663.7,122.0L656.9,122.3Z" fill="#6dfb1c"/><path d="M673.8,120.3L680.8,119.8L683.7,118.7L676.8,118.9Z" fill="#68fb1d"/><path d="M693.6,117.3L700.6,117.0L703.3,116.0L696.4,116.1Z" fill="#56fb21"/><path d="M643.3,126.0L650.2,125.4L653.6,123.9L646.8,124.2Z" fill="#6cfb1d"/><path d="M663.7,122.0L670.7,121.5L673.8,120.3L666.9,120.6Z" fill="#6cfb1d"/><path d="M683.7,118.7L690.8,118.3L693.6,117.3L686.7,117.4Z" fill="#60fb1f"/><path d="M650.2,125.4L657.2,124.6L660.5,123.4L653.6,123.9Z" fill="#8dfb16"/><path d="M660.5,123.4L667.5,122.6L670.7,121.5L663.7,122.0Z" fill="#8dfb16"/><path d="M670.7,121.5L677.7,120.8L680.8,119.8L673.8,120.3Z" fill="#8dfb16"/><path d="M680.8,119.8L687.9,119.1L690.8,118.3L683.7,118.7Z" fill="#8dfb16"/><path d="M690.8,118.3L697.9,117.7L700.6,117.0L693.6,117.3Z" fill="#8dfb16"/><path d="M667.5,122.6L674.6,121.5L677.7,120.8L670.7,121.5Z" fill="#8dfb16"/><path d="M687.9,119.1L695.1,118.2L697.9,117.7L690.8,118.3Z" fill="#8dfb16"/><path d="M657.2,124.6L664.2,123.5L667.5,122.6L660.5,123.4Z" fill="#8dfb16"/><path d="M677.7,120.8L684.9,119.7L687.9,119.1L680.8,119.8Z" fill="#8dfb16"/><path d="M664.2,123.5L671.4,122.0L674.6,121.5L667.5,122.6Z" fill="#8dfb16"/><path d="M674.6,121.5L681.9,120.1L684.9,119.7L677.7,120.8Z" fill="#8dfb16"/><path d="M684.9,119.7L692.2,118.4L695.1,118.2L687.9,119.1Z" fill="#8dfb16"/><path d="M681.9,120.1L689.2,118.5L692.2,118.4L684.9,119.7Z" fill="#8dfb16"/><path d="M671.4,122.0L678.8,120.3L681.9,120.1L674.6,121.5Z" fill="#8dfb16"/><path d="M678.8,120.3L686.2,118.2L689.2,118.5L681.9,120.1Z" fill="#8dfb16"/></g>
<circle cx="560.0" cy="108.5" r="1.4" fill="#f0a0a0" stroke="#700" stroke-width="0.4"/>
<circle cx="651.0" cy="99.7" r="1.4" fill="#c00000" stroke="#700" stroke-width="0.4"/>
<circle cx="684.6" cy="118.3" r="1.4" fill="#c00000" stroke="#700" stroke-width="0.4"/>
<circle cx="735.5" cy="85.7" r="1.4" fill="#c00000" stroke="#700" stroke-width="0.4"/>
<text x="562.4" y="173.6" text-anchor="end" font-size="6.2" fill="#222">3</text>
<text x="591.2" y="183.8" text-anchor="end" font-size="6.2" fill="#222">3.5</text>
<text x="620.1" y="194.0" text-anchor="end" font-size="6.2" fill="#222">4</text>
<text x="648.9" y="204.2" text-anchor="end" font-size="6.2" fill="#222">4.5</text>
<text x="677.7" y="214.4" text-anchor="end" font-size="6.2" fill="#222">5</text>
<text x="684.7" y="214.4" text-anchor="start" font-size="6.2" fill="#222">1</text>
<text x="694.6" y="199.5" text-anchor="start" font-size="6.2" fill="#222">1.2</text>
<text x="704.5" y="184.7" text-anchor="start" font-size="6.2" fill="#222">1.4</text>
<text x="714.3" y="169.8" text-anchor="start" font-size="6.2" fill="#222">1.6</text>
<text x="724.2" y="155.0" text-anchor="start" font-size="6.2" fill="#222">1.8</text>
<text x="734.1" y="140.1" text-anchor="start" font-size="6.2" fill="#222">2</text>
<text x="559.5" y="140.0" text-anchor="end" font-size="6.2" fill="#222">100</text>
<text x="558.1" y="126.1" text-anchor="end" font-size="6.2" fill="#222">200</text>
<text x="556.7" y="112.2" text-anchor="end" font-size="6.2" fill="#222">300</text>
<text x="555.4" y="98.3" text-anchor="end" font-size="6.2" fill="#222">400</text>
<text x="554.0" y="84.4" text-anchor="end" font-size="6.2" fill="#222">500</text>
<text x="552.7" y="70.5" text-anchor="end" font-size="6.2" fill="#222">600</text>
<text x="551.3" y="56.6" text-anchor="end" font-size="6.2" fill="#222">700</text>
<text x="526.0" y="14.0" font-size="11.5" font-weight="bold" fill="#000">(C)</text>
<text x="0.0" y="0.0" font-size="7.5" transform="translate(533,117) rotate(-90)" text-anchor="middle" fill="#111">PS</text>
<text x="554.5" y="220.5" font-size="8.7"  fill="#1a1a1a">B: Conc of Tween 80 (%)</text>
<text x="686.0" y="189.0" font-size="8.45"  fill="#1a1a1a">C: Conc of Poloxamer 407<tspan font-size="7.5" dy="0.3">(%)</tspan></text></g>
<g id="pD"><polygon points="42.5,374.0 146.0,420.3 219.4,358.5 121.0,323.1" fill="#ffff00"/>
<path d="M42.5,374.0L32.0,278.9M62.1,361.3L53.9,267.4M81.8,348.6L75.8,255.9M101.4,335.8L97.8,244.5M121.0,323.1L119.7,233.0M145.6,332.0L146.9,241.6M170.2,340.8L174.1,250.2M194.8,349.6L201.3,258.9M219.4,358.5L228.5,267.5M42.5,374.0L121.0,323.1M121.0,323.1L219.4,358.5M39.9,350.7L120.7,301.0M120.7,301.0L221.6,336.2M38.3,336.3L120.5,287.4M120.5,287.4L223.0,322.5M36.8,322.0L120.3,273.8M120.3,273.8L224.4,308.7M35.2,307.6L120.1,260.2M120.1,260.2L225.8,295.0M33.6,293.3L119.9,246.6M119.9,246.6L227.1,281.2M32.0,278.9L119.7,233.0M119.7,233.0L228.5,267.5" stroke="#3a3a3a" stroke-width="0.7" fill="none"/>
<path d="M42.5,374.0L146.0,420.3L219.4,358.5M42.5,374.0L41.4,374.7M68.4,385.6L67.3,386.3M94.2,397.1L93.2,397.9M120.1,408.7L119.0,409.4M146.0,420.3L144.9,421.0M146.0,420.3L147.2,420.7M164.3,404.9L165.6,405.3M182.7,389.4L183.9,389.8M201.1,373.9L202.3,374.4M219.4,358.5L220.6,358.9M39.9,350.7L37.7,350.0M38.3,336.3L36.1,335.6M36.8,322.0L34.6,321.3M35.2,307.6L33.0,306.9M33.6,293.3L31.4,292.6M32.0,278.9L29.8,278.2" stroke="#222" stroke-width="0.7" fill="none"/>
<clipPath id="cfD"><polygon points="42.5,374.0 146.0,420.3 219.4,358.5 121.0,323.1"/></clipPath>
<ellipse cx="135.3" cy="374" rx="40" ry="21.3" fill="none" stroke="#f39a00" stroke-width="0.9" clip-path="url(#cfD)"/>
<ellipse cx="135.3" cy="374" rx="67.7" ry="35" fill="none" stroke="#c8f000" stroke-width="0.7" clip-path="url(#cfD)"/>
<ellipse cx="135.3" cy="374" rx="89" ry="45" fill="none" stroke="#70f030" stroke-width="0.9" clip-path="url(#cfD)"/>
<g stroke="#101010" stroke-width="0.33" stroke-linejoin="round"><path d="M116.4,282.5L121.7,281.2L125.9,282.1L120.6,283.2Z" fill="#00f759"/><path d="M112.1,282.3L117.5,280.5L121.7,281.2L116.4,282.5Z" fill="#00f946"/><path d="M121.7,281.2L127.1,280.1L131.2,281.4L125.9,282.1Z" fill="#00f847"/><path d="M107.8,282.3L113.2,280.3L117.5,280.5L112.1,282.3Z" fill="#00fa35"/><path d="M117.5,280.5L122.9,279.2L127.1,280.1L121.7,281.2Z" fill="#00fa32"/><path d="M127.1,280.1L132.6,279.4L136.7,280.9L131.2,281.4Z" fill="#00fa37"/><path d="M132.6,279.4L138.1,279.0L142.2,280.8L136.7,280.9Z" fill="#08fa30"/><path d="M103.4,282.7L108.8,280.4L113.2,280.3L107.8,282.3Z" fill="#0afa30"/><path d="M113.2,280.3L118.6,278.6L122.9,279.2L117.5,280.5Z" fill="#11fa2f"/><path d="M122.9,279.2L128.4,278.2L132.6,279.4L127.1,280.1Z" fill="#10fa2f"/><path d="M99.0,283.5L104.3,280.9L108.8,280.4L103.4,282.7Z" fill="#16fa2e"/><path d="M128.4,278.2L134.0,277.6L138.1,279.0L132.6,279.4Z" fill="#1efa2c"/><path d="M138.1,279.0L143.7,278.9L147.8,280.9L142.2,280.8Z" fill="#13fa2e"/><path d="M108.8,280.4L114.2,278.5L118.6,278.6L113.2,280.3Z" fill="#20fa2c"/><path d="M118.6,278.6L124.1,277.4L128.4,278.2L122.9,279.2Z" fill="#22fa2b"/><path d="M94.5,284.6L99.8,281.8L104.3,280.9L99.0,283.5Z" fill="#1ffa2c"/><path d="M104.3,280.9L109.8,278.8L114.2,278.5L108.8,280.4Z" fill="#2cfa29"/><path d="M124.1,277.4L129.7,276.6L134.0,277.6L128.4,278.2Z" fill="#32fa28"/><path d="M134.0,277.6L139.6,277.4L143.7,278.9L138.1,279.0Z" fill="#2afa2a"/><path d="M143.7,278.9L149.4,279.3L153.4,281.4L147.8,280.9Z" fill="#1cfa2c"/><path d="M114.2,278.5L119.7,277.0L124.1,277.4L118.6,278.6Z" fill="#32fa28"/><path d="M109.8,278.8L115.3,277.1L119.7,277.0L114.2,278.5Z" fill="#51fb22"/><path d="M149.4,279.3L155.2,279.9L159.1,282.2L153.4,281.4Z" fill="#24fa2b"/><path d="M89.9,286.2L95.2,283.1L99.8,281.8L94.5,284.6Z" fill="#27fa2a"/><path d="M99.8,281.8L105.2,279.5L109.8,278.8L104.3,280.9Z" fill="#37fa27"/><path d="M119.7,277.0L125.4,276.0L129.7,276.6L124.1,277.4Z" fill="#5ffb1f"/><path d="M129.7,276.6L135.4,276.2L139.6,277.4L134.0,277.6Z" fill="#48fb24"/><path d="M139.6,277.4L145.3,277.5L149.4,279.3L143.7,278.9Z" fill="#34fa28"/><path d="M105.2,279.5L110.8,277.6L115.3,277.1L109.8,278.8Z" fill="#90fb15"/><path d="M115.3,277.1L121.0,275.9L125.4,276.0L119.7,277.0Z" fill="#affb0f"/><path d="M145.3,277.5L151.1,278.1L155.2,279.9L149.4,279.3Z" fill="#3cfa26"/><path d="M155.2,279.9L161.0,281.0L164.9,283.2L159.1,282.2Z" fill="#29fa2a"/><path d="M85.3,288.1L90.6,284.8L95.2,283.1L89.9,286.2Z" fill="#2cfa29"/><path d="M95.2,283.1L100.7,280.6L105.2,279.5L99.8,281.8Z" fill="#4cfb23"/><path d="M125.4,276.0L131.1,275.5L135.4,276.2L129.7,276.6Z" fill="#aafb10"/><path d="M135.4,276.2L141.2,276.3L145.3,277.5L139.6,277.4Z" fill="#82fb18"/><path d="M80.6,290.3L85.9,287.0L90.6,284.8L85.3,288.1Z" fill="#2ffa29"/><path d="M110.8,277.6L116.5,276.3L121.0,275.9L115.3,277.1Z" fill="#f3fc02"/><path d="M121.0,275.9L126.7,275.3L131.1,275.5L125.4,276.0Z" fill="#fcfa00"/><path d="M141.2,276.3L147.0,276.8L151.1,278.1L145.3,277.5Z" fill="#affb0f"/><path d="M151.1,278.1L157.0,279.2L161.0,281.0L155.2,279.9Z" fill="#59fb20"/><path d="M161.0,281.0L166.8,282.4L170.7,284.7L164.9,283.2Z" fill="#2dfa29"/><path d="M90.6,284.8L96.0,282.2L100.7,280.6L95.2,283.1Z" fill="#6efb1c"/><path d="M100.7,280.6L106.2,278.6L110.8,277.6L105.2,279.5Z" fill="#c3fc0b"/><path d="M131.1,275.5L136.9,275.5L141.2,276.3L135.4,276.2Z" fill="#e7fc04"/><path d="M85.9,287.0L91.3,284.2L96.0,282.2L90.6,284.8Z" fill="#85fb18"/><path d="M75.9,293.0L81.2,289.5L85.9,287.0L80.6,290.3Z" fill="#31fa28"/><path d="M106.2,278.6L111.9,277.1L116.5,276.3L110.8,277.6Z" fill="#fcdf00"/><path d="M116.5,276.3L122.2,275.5L126.7,275.3L121.0,275.9Z" fill="#fdcd00"/><path d="M126.7,275.3L132.5,275.1L136.9,275.5L131.1,275.5Z" fill="#fdd100"/><path d="M136.9,275.5L142.7,275.9L147.0,276.8L141.2,276.3Z" fill="#fcea00"/><path d="M147.0,276.8L152.9,277.8L157.0,279.2L151.1,278.1Z" fill="#d1fc09"/><path d="M157.0,279.2L162.8,280.6L166.8,282.4L161.0,281.0Z" fill="#6efb1c"/><path d="M166.8,282.4L172.7,284.2L176.5,286.4L170.7,284.7Z" fill="#2ffa29"/><path d="M96.0,282.2L101.6,280.0L106.2,278.6L100.7,280.6Z" fill="#e9fc04"/><path d="M132.5,275.1L138.4,275.5L142.7,275.9L136.9,275.5Z" fill="#fdb100"/><path d="M172.7,284.2L178.6,286.4L182.3,288.4L176.5,286.4Z" fill="#2ffa29"/><path d="M81.2,289.5L86.6,286.6L91.3,284.2L85.9,287.0Z" fill="#90fb15"/><path d="M91.3,284.2L96.9,281.9L101.6,280.0L96.0,282.2Z" fill="#fcf700"/><path d="M71.2,296.1L76.4,292.6L81.2,289.5L75.9,293.0Z" fill="#30fa28"/><path d="M101.6,280.0L107.3,278.5L111.9,277.1L106.2,278.6Z" fill="#fdc500"/><path d="M111.9,277.1L117.7,276.3L122.2,275.5L116.5,276.3Z" fill="#fda800"/><path d="M122.2,275.5L128.1,275.3L132.5,275.1L126.7,275.3Z" fill="#fda200"/><path d="M142.7,275.9L148.7,276.9L152.9,277.8L147.0,276.8Z" fill="#fcd400"/><path d="M152.9,277.8L158.8,279.2L162.8,280.6L157.0,279.2Z" fill="#e6fc04"/><path d="M162.8,280.6L168.8,282.4L172.7,284.2L166.8,282.4Z" fill="#78fb1a"/><path d="M96.9,281.9L102.6,280.3L107.3,278.5L101.6,280.0Z" fill="#fdb200"/><path d="M128.1,275.3L134.0,275.7L138.4,275.5L132.5,275.1Z" fill="#fe8100"/><path d="M138.4,275.5L144.4,276.5L148.7,276.9L142.7,275.9Z" fill="#fd9a00"/><path d="M168.8,282.4L174.7,284.7L178.6,286.4L172.7,284.2Z" fill="#77fb1a"/><path d="M178.6,286.4L184.5,288.9L188.2,290.8L182.3,288.4Z" fill="#2dfa29"/><path d="M76.4,292.6L81.8,289.6L86.6,286.6L81.2,289.5Z" fill="#8ffb16"/><path d="M86.6,286.6L92.1,284.3L96.9,281.9L91.3,284.2Z" fill="#fcef00"/><path d="M66.4,299.6L71.6,296.0L76.4,292.6L71.2,296.1Z" fill="#2dfa29"/><path d="M107.3,278.5L113.0,277.5L117.7,276.3L111.9,277.1Z" fill="#fd8c00"/><path d="M117.7,276.3L123.5,276.0L128.1,275.3L122.2,275.5Z" fill="#fe7b00"/><path d="M148.7,276.9L154.6,278.3L158.8,279.2L152.9,277.8Z" fill="#fdc700"/><path d="M158.8,279.2L164.8,281.1L168.8,282.4L162.8,280.6Z" fill="#effc02"/><path d="M61.6,303.5L66.8,299.9L71.6,296.0L66.4,299.6Z" fill="#29fa2a"/><path d="M92.1,284.3L97.8,282.6L102.6,280.3L96.9,281.9Z" fill="#fda800"/><path d="M102.6,280.3L108.3,279.3L113.0,277.5L107.3,278.5Z" fill="#fe7700"/><path d="M123.5,276.0L129.5,276.3L134.0,275.7L128.1,275.3Z" fill="#fe5700"/><path d="M134.0,275.7L140.0,276.6L144.4,276.5L138.4,275.5Z" fill="#fe6700"/><path d="M144.4,276.5L150.4,278.0L154.6,278.3L148.7,276.9Z" fill="#fd8c00"/><path d="M164.8,281.1L170.8,283.5L174.7,284.7L168.8,282.4Z" fill="#ecfc03"/><path d="M174.7,284.7L180.7,287.4L184.5,288.9L178.6,286.4Z" fill="#6afb1d"/><path d="M184.5,288.9L190.5,291.9L194.2,293.5L188.2,290.8Z" fill="#2afa2a"/><path d="M71.6,296.0L77.0,293.0L81.8,289.6L76.4,292.6Z" fill="#83fb18"/><path d="M81.8,289.6L87.3,287.2L92.1,284.3L86.6,286.6Z" fill="#fcee00"/><path d="M113.0,277.5L118.9,277.2L123.5,276.0L117.7,276.3Z" fill="#fe5c00"/><path d="M154.6,278.3L160.6,280.3L164.8,281.1L158.8,279.2Z" fill="#fdc100"/><path d="M66.8,299.9L72.1,296.9L77.0,293.0L71.6,296.0Z" fill="#6bfb1d"/><path d="M56.8,307.8L61.9,304.2L66.8,299.9L61.6,303.5Z" fill="#22fa2b"/><path d="M87.3,287.2L93.0,285.5L97.8,282.6L92.1,284.3Z" fill="#fda600"/><path d="M97.8,282.6L103.6,281.5L108.3,279.3L102.6,280.3Z" fill="#fe6b00"/><path d="M108.3,279.3L114.2,278.9L118.9,277.2L113.0,277.5Z" fill="#fe4500"/><path d="M118.9,277.2L124.9,277.4L129.5,276.3L123.5,276.0Z" fill="#fe3600"/><path d="M129.5,276.3L135.5,277.2L140.0,276.6L134.0,275.7Z" fill="#fe3c00"/><path d="M140.0,276.6L146.0,278.1L150.4,278.0L144.4,276.5Z" fill="#fe5800"/><path d="M150.4,278.0L156.4,280.0L160.6,280.3L154.6,278.3Z" fill="#fd8700"/><path d="M160.6,280.3L166.7,282.8L170.8,283.5L164.8,281.1Z" fill="#fdc400"/><path d="M170.8,283.5L176.8,286.4L180.7,287.4L174.7,284.7Z" fill="#ddfc06"/><path d="M180.7,287.4L186.7,290.6L190.5,291.9L184.5,288.9Z" fill="#53fb22"/><path d="M190.5,291.9L196.5,295.2L200.1,296.6L194.2,293.5Z" fill="#25fa2b"/><path d="M77.0,293.0L82.5,290.6L87.3,287.2L81.8,289.6Z" fill="#fcf400"/><path d="M114.2,278.9L120.2,279.1L124.9,277.4L118.9,277.2Z" fill="#ff2500"/><path d="M156.4,280.0L162.5,282.6L166.7,282.8L160.6,280.3Z" fill="#fd8c00"/><path d="M196.5,295.2L202.5,298.9L206.0,299.9L200.1,296.6Z" fill="#1efa2c"/><path d="M61.9,304.2L67.3,301.2L72.1,296.9L66.8,299.9Z" fill="#47fb24"/><path d="M72.1,296.9L77.7,294.5L82.5,290.6L77.0,293.0Z" fill="#f1fc02"/><path d="M51.9,312.5L57.1,309.0L61.9,304.2L56.8,307.8Z" fill="#1afa2d"/><path d="M82.5,290.6L88.2,288.8L93.0,285.5L87.3,287.2Z" fill="#fdac00"/><path d="M93.0,285.5L98.8,284.4L103.6,281.5L97.8,282.6Z" fill="#fe6800"/><path d="M103.6,281.5L109.5,281.1L114.2,278.9L108.3,279.3Z" fill="#fe3800"/><path d="M124.9,277.4L130.9,278.3L135.5,277.2L129.5,276.3Z" fill="#ff2400"/><path d="M135.5,277.2L141.6,278.7L146.0,278.1L140.0,276.6Z" fill="#ff2d00"/><path d="M146.0,278.1L152.1,280.2L156.4,280.0L150.4,278.0Z" fill="#fe5400"/><path d="M166.7,282.8L172.8,285.8L176.8,286.4L170.8,283.5Z" fill="#fdd000"/><path d="M176.8,286.4L182.9,289.7L186.7,290.6L180.7,287.4Z" fill="#c1fc0c"/><path d="M186.7,290.6L192.8,294.2L196.5,295.2L190.5,291.9Z" fill="#3afa26"/><path d="M77.7,294.5L83.3,292.7L88.2,288.8L82.5,290.6Z" fill="#fdba00"/><path d="M109.5,281.1L115.5,281.3L120.2,279.1L114.2,278.9Z" fill="#ff2200"/><path d="M120.2,279.1L126.3,280.0L130.9,278.3L124.9,277.4Z" fill="#ff1f00"/><path d="M152.1,280.2L158.2,282.8L162.5,282.6L156.4,280.0Z" fill="#fe5900"/><path d="M162.5,282.6L168.6,285.7L172.8,285.8L166.7,282.8Z" fill="#fd9900"/><path d="M192.8,294.2L198.8,298.2L202.5,298.9L196.5,295.2Z" fill="#32fa28"/><path d="M202.5,298.9L208.4,302.9L212.0,303.6L206.0,299.9Z" fill="#15fa2e"/><path d="M47.1,317.6L52.2,314.2L57.1,309.0L51.9,312.5Z" fill="#0ffa2f"/><path d="M67.3,301.2L72.8,298.9L77.7,294.5L72.1,296.9Z" fill="#cefc09"/><path d="M57.1,309.0L62.4,306.1L67.3,301.2L61.9,304.2Z" fill="#36fa27"/><path d="M88.2,288.8L94.0,287.7L98.8,284.4L93.0,285.5Z" fill="#fe6d00"/><path d="M98.8,284.4L104.7,283.9L109.5,281.1L103.6,281.5Z" fill="#fe3300"/><path d="M130.9,278.3L137.0,279.9L141.6,278.7L135.5,277.2Z" fill="#ff2100"/><path d="M141.6,278.7L147.7,280.8L152.1,280.2L146.0,278.1Z" fill="#ff2900"/><path d="M172.8,285.8L178.9,289.4L182.9,289.7L176.8,286.4Z" fill="#fce400"/><path d="M182.9,289.7L188.9,293.6L192.8,294.2L186.7,290.6Z" fill="#99fb14"/><path d="M72.8,298.9L78.4,297.1L83.3,292.7L77.7,294.5Z" fill="#fdd000"/><path d="M83.3,292.7L89.1,291.6L94.0,287.7L88.2,288.8Z" fill="#fe7b00"/><path d="M104.7,283.9L110.7,284.1L115.5,281.3L109.5,281.1Z" fill="#ff2100"/><path d="M115.5,281.3L121.6,282.3L126.3,280.0L120.2,279.1Z" fill="#ff1c00"/><path d="M126.3,280.0L132.4,281.6L137.0,279.9L130.9,278.3Z" fill="#ff1b00"/><path d="M147.7,280.8L153.9,283.6L158.2,282.8L152.1,280.2Z" fill="#ff2f00"/><path d="M158.2,282.8L164.4,286.1L168.6,285.7L162.5,282.6Z" fill="#fe6900"/><path d="M168.6,285.7L174.8,289.4L178.9,289.4L172.8,285.8Z" fill="#fdaf00"/><path d="M188.9,293.6L195.0,297.9L198.8,298.2L192.8,294.2Z" fill="#65fb1e"/><path d="M198.8,298.2L204.8,302.6L208.4,302.9L202.5,298.9Z" fill="#27fa2a"/><path d="M208.4,302.9L214.4,307.4L218.0,307.7L212.0,303.6Z" fill="#0afa30"/><path d="M52.2,314.2L57.5,311.4L62.4,306.1L57.1,309.0Z" fill="#2bfa29"/><path d="M42.2,323.1L47.3,319.8L52.2,314.2L47.1,317.6Z" fill="#02fa32"/><path d="M62.4,306.1L67.8,303.7L72.8,298.9L67.3,301.2Z" fill="#9efb13"/><path d="M94.0,287.7L99.9,287.3L104.7,283.9L98.8,284.4Z" fill="#fe3800"/><path d="M137.0,279.9L143.2,282.1L147.7,280.8L141.6,278.7Z" fill="#ff2000"/><path d="M178.9,289.4L185.0,293.4L188.9,293.6L182.9,289.7Z" fill="#f5fc01"/><path d="M37.3,329.0L42.4,325.9L47.3,319.8L42.2,323.1Z" fill="#00f93f"/><path d="M47.3,319.8L52.6,317.1L57.5,311.4L52.2,314.2Z" fill="#1efa2c"/><path d="M57.5,311.4L62.9,309.1L67.8,303.7L62.4,306.1Z" fill="#62fb1e"/><path d="M67.8,303.7L73.5,302.1L78.4,297.1L72.8,298.9Z" fill="#fcee00"/><path d="M78.4,297.1L84.2,296.1L89.1,291.6L83.3,292.7Z" fill="#fd9200"/><path d="M89.1,291.6L95.0,291.2L99.9,287.3L94.0,287.7Z" fill="#fe4600"/><path d="M99.9,287.3L105.9,287.5L110.7,284.1L104.7,283.9Z" fill="#ff2200"/><path d="M110.7,284.1L116.8,285.1L121.6,282.3L115.5,281.3Z" fill="#ff1a00"/><path d="M121.6,282.3L127.8,283.8L132.4,281.6L126.3,280.0Z" fill="#ff1800"/><path d="M132.4,281.6L138.6,283.8L143.2,282.1L137.0,279.9Z" fill="#ff1b00"/><path d="M143.2,282.1L149.4,284.9L153.9,283.6L147.7,280.8Z" fill="#ff2100"/><path d="M153.9,283.6L160.1,287.0L164.4,286.1L158.2,282.8Z" fill="#fe4000"/><path d="M164.4,286.1L170.6,290.0L174.8,289.4L168.6,285.7Z" fill="#fe8200"/><path d="M174.8,289.4L180.9,293.7L185.0,293.4L178.9,289.4Z" fill="#fdce00"/><path d="M185.0,293.4L191.1,298.0L195.0,297.9L188.9,293.6Z" fill="#bafb0d"/><path d="M195.0,297.9L201.0,302.6L204.8,302.6L198.8,298.2Z" fill="#38fa27"/><path d="M204.8,302.6L210.8,307.4L214.4,307.4L208.4,302.9Z" fill="#1bfa2d"/><path d="M214.4,307.4L220.4,312.2L223.9,312.0L218.0,307.7Z" fill="#00fa34"/><path d="M95.0,291.2L101.0,291.4L105.9,287.5L99.9,287.3Z" fill="#ff2500"/><path d="M138.6,283.8L144.9,286.7L149.4,284.9L143.2,282.1Z" fill="#ff1c00"/><path d="M180.9,293.7L187.1,298.5L191.1,298.0L185.0,293.4Z" fill="#fcf700"/><path d="M62.9,309.1L68.5,307.5L73.5,302.1L67.8,303.7Z" fill="#d6fc08"/><path d="M42.4,325.9L47.7,323.4L52.6,317.1L47.3,319.8Z" fill="#0ffa2f"/><path d="M52.6,317.1L58.0,315.0L62.9,309.1L57.5,311.4Z" fill="#36fa27"/><path d="M73.5,302.1L79.2,301.0L84.2,296.1L78.4,297.1Z" fill="#fdb000"/><path d="M84.2,296.1L90.1,295.7L95.0,291.2L89.1,291.6Z" fill="#fe5e00"/><path d="M105.9,287.5L112.0,288.4L116.8,285.1L110.7,284.1Z" fill="#ff1b00"/><path d="M116.8,285.1L123.0,286.7L127.8,283.8L121.6,282.3Z" fill="#ff1700"/><path d="M127.8,283.8L134.0,286.1L138.6,283.8L132.4,281.6Z" fill="#ff1700"/><path d="M149.4,284.9L155.7,288.4L160.1,287.0L153.9,283.6Z" fill="#ff2600"/><path d="M160.1,287.0L166.3,291.0L170.6,290.0L164.4,286.1Z" fill="#fe5c00"/><path d="M170.6,290.0L176.8,294.4L180.9,293.7L174.8,289.4Z" fill="#fda400"/><path d="M191.1,298.0L197.2,303.0L201.0,302.6L195.0,297.9Z" fill="#73fb1b"/><path d="M201.0,302.6L207.1,307.8L210.8,307.4L204.8,302.6Z" fill="#2afa2a"/><path d="M210.8,307.4L216.8,312.7L220.4,312.2L214.4,307.4Z" fill="#0cfa30"/><path d="M90.1,295.7L96.1,295.9L101.0,291.4L95.0,291.2Z" fill="#fe3500"/><path d="M101.0,291.4L107.1,292.4L112.0,288.4L105.9,287.5Z" fill="#ff1f00"/><path d="M134.0,286.1L140.3,289.1L144.9,286.7L138.6,283.8Z" fill="#ff1900"/><path d="M144.9,286.7L151.2,290.3L155.7,288.4L149.4,284.9Z" fill="#ff2100"/><path d="M176.8,294.4L183.0,299.5L187.1,298.5L180.9,293.7Z" fill="#fdd000"/><path d="M187.1,298.5L193.2,303.9L197.2,303.0L191.1,298.0Z" fill="#b6fb0e"/><path d="M58.0,315.0L63.6,313.5L68.5,307.5L62.9,309.1Z" fill="#8cfb16"/><path d="M68.5,307.5L74.3,306.6L79.2,301.0L73.5,302.1Z" fill="#fcd700"/><path d="M47.7,323.4L53.1,321.4L58.0,315.0L52.6,317.1Z" fill="#27fa2a"/><path d="M79.2,301.0L85.1,300.7L90.1,295.7L84.2,296.1Z" fill="#fe7e00"/><path d="M112.0,288.4L118.2,290.1L123.0,286.7L116.8,285.1Z" fill="#ff1800"/><path d="M123.0,286.7L129.3,289.0L134.0,286.1L127.8,283.8Z" fill="#ff1600"/><path d="M155.7,288.4L161.9,292.5L166.3,291.0L160.1,287.0Z" fill="#fe3e00"/><path d="M166.3,291.0L172.5,295.6L176.8,294.4L170.6,290.0Z" fill="#fe8200"/><path d="M197.2,303.0L203.2,308.6L207.1,307.8L201.0,302.6Z" fill="#37fa27"/><path d="M207.1,307.8L213.1,313.5L216.8,312.7L210.8,307.4Z" fill="#19fa2d"/><path d="M53.1,321.4L58.6,320.1L63.6,313.5L58.0,315.0Z" fill="#3bfa26"/><path d="M85.1,300.7L91.1,301.0L96.1,295.9L90.1,295.7Z" fill="#fe5500"/><path d="M96.1,295.9L102.2,296.9L107.1,292.4L101.0,291.4Z" fill="#ff2400"/><path d="M107.1,292.4L113.3,294.1L118.2,290.1L112.0,288.4Z" fill="#ff1b00"/><path d="M129.3,289.0L135.6,292.0L140.3,289.1L134.0,286.1Z" fill="#ff1800"/><path d="M140.3,289.1L146.6,292.8L151.2,290.3L144.9,286.7Z" fill="#ff1e00"/><path d="M151.2,290.3L157.5,294.6L161.9,292.5L155.7,288.4Z" fill="#ff2900"/><path d="M172.5,295.6L178.8,300.9L183.0,299.5L176.8,294.4Z" fill="#fdb100"/><path d="M183.0,299.5L189.1,305.1L193.2,303.9L187.1,298.5Z" fill="#edfc03"/><path d="M193.2,303.9L199.3,309.8L203.2,308.6L197.2,303.0Z" fill="#59fb20"/><path d="M63.6,313.5L69.3,312.7L74.3,306.6L68.5,307.5Z" fill="#ecfc03"/><path d="M74.3,306.6L80.2,306.3L85.1,300.7L79.2,301.0Z" fill="#fda500"/><path d="M118.2,290.1L124.5,292.4L129.3,289.0L123.0,286.7Z" fill="#ff1700"/><path d="M161.9,292.5L168.2,297.3L172.5,295.6L166.3,291.0Z" fill="#fe6700"/><path d="M203.2,308.6L209.2,314.7L213.1,313.5L207.1,307.8Z" fill="#25fa2b"/><path d="M80.2,306.3L86.2,306.7L91.1,301.0L85.1,300.7Z" fill="#fe7f00"/><path d="M58.6,320.1L64.4,319.3L69.3,312.7L63.6,313.5Z" fill="#94fb15"/><path d="M91.1,301.0L97.3,302.0L102.2,296.9L96.1,295.9Z" fill="#fe3900"/><path d="M102.2,296.9L108.4,298.6L113.3,294.1L107.1,292.4Z" fill="#ff2000"/><path d="M113.3,294.1L119.6,296.5L124.5,292.4L118.2,290.1Z" fill="#ff1a00"/><path d="M124.5,292.4L130.8,295.5L135.6,292.0L129.3,289.0Z" fill="#ff1900"/><path d="M135.6,292.0L141.9,295.8L146.6,292.8L140.3,289.1Z" fill="#ff1d00"/><path d="M146.6,292.8L152.9,297.1L157.5,294.6L151.2,290.3Z" fill="#ff2500"/><path d="M157.5,294.6L163.8,299.5L168.2,297.3L161.9,292.5Z" fill="#fe5300"/><path d="M168.2,297.3L174.5,302.8L178.8,300.9L172.5,295.6Z" fill="#fd9900"/><path d="M178.8,300.9L185.0,306.7L189.1,305.1L183.0,299.5Z" fill="#fce900"/><path d="M189.1,305.1L195.3,311.3L199.3,309.8L193.2,303.9Z" fill="#8afb17"/><path d="M199.3,309.8L205.3,316.2L209.2,314.7L203.2,308.6Z" fill="#2efa29"/><path d="M69.3,312.7L75.2,312.5L80.2,306.3L74.3,306.6Z" fill="#fcd500"/><path d="M119.6,296.5L126.0,299.6L130.8,295.5L124.5,292.4Z" fill="#ff1c00"/><path d="M163.8,299.5L170.1,305.1L174.5,302.8L168.2,297.3Z" fill="#fd8900"/><path d="M75.2,312.5L81.2,312.9L86.2,306.7L80.2,306.3Z" fill="#fdaf00"/><path d="M86.2,306.7L92.3,307.7L97.3,302.0L91.1,301.0Z" fill="#fe6300"/><path d="M64.4,319.3L70.2,319.2L75.2,312.5L69.3,312.7Z" fill="#e0fc06"/><path d="M97.3,302.0L103.5,303.8L108.4,298.6L102.2,296.9Z" fill="#ff2900"/><path d="M108.4,298.6L114.7,301.1L119.6,296.5L113.3,294.1Z" fill="#ff1f00"/><path d="M130.8,295.5L137.2,299.3L141.9,295.8L135.6,292.0Z" fill="#ff1e00"/><path d="M141.9,295.8L148.3,300.2L152.9,297.1L146.6,292.8Z" fill="#ff2400"/><path d="M152.9,297.1L159.3,302.2L163.8,299.5L157.5,294.6Z" fill="#fe4900"/><path d="M174.5,302.8L180.7,308.8L185.0,306.7L178.8,300.9Z" fill="#fcd400"/><path d="M185.0,306.7L191.1,313.2L195.3,311.3L189.1,305.1Z" fill="#b1fb0f"/><path d="M195.3,311.3L201.3,318.0L205.3,316.2L199.3,309.8Z" fill="#36fa27"/><path d="M70.2,319.2L76.2,319.7L81.2,312.9L75.2,312.5Z" fill="#fce800"/><path d="M114.7,301.1L121.1,304.2L126.0,299.6L119.6,296.5Z" fill="#ff2100"/><path d="M126.0,299.6L132.4,303.4L137.2,299.3L130.8,295.5Z" fill="#ff2100"/><path d="M159.3,302.2L165.6,307.9L170.1,305.1L163.8,299.5Z" fill="#fe8000"/><path d="M170.1,305.1L176.4,311.4L180.7,308.8L174.5,302.8Z" fill="#fdc700"/><path d="M81.2,312.9L87.3,314.0L92.3,307.7L86.2,306.7Z" fill="#fd9500"/><path d="M92.3,307.7L98.5,309.5L103.5,303.8L97.3,302.0Z" fill="#fe5300"/><path d="M103.5,303.8L109.8,306.2L114.7,301.1L108.4,298.6Z" fill="#ff2700"/><path d="M137.2,299.3L143.6,303.8L148.3,300.2L141.9,295.8Z" fill="#ff2500"/><path d="M148.3,300.2L154.7,305.4L159.3,302.2L152.9,297.1Z" fill="#fe4600"/><path d="M180.7,308.8L186.9,315.5L191.1,313.2L185.0,306.7Z" fill="#ccfc09"/><path d="M191.1,313.2L197.3,320.2L201.3,318.0L195.3,311.3Z" fill="#3cfa26"/><path d="M76.2,319.7L82.3,320.9L87.3,314.0L81.2,312.9Z" fill="#fdce00"/><path d="M109.8,306.2L116.2,309.4L121.1,304.2L114.7,301.1Z" fill="#ff2e00"/><path d="M121.1,304.2L127.5,308.1L132.4,303.4L126.0,299.6Z" fill="#ff2600"/><path d="M132.4,303.4L138.8,308.0L143.6,303.8L137.2,299.3Z" fill="#ff2d00"/><path d="M154.7,305.4L161.0,311.2L165.6,307.9L159.3,302.2Z" fill="#fe7f00"/><path d="M165.6,307.9L171.9,314.3L176.4,311.4L170.1,305.1Z" fill="#fdc000"/><path d="M176.4,311.4L182.6,318.3L186.9,315.5L180.7,308.8Z" fill="#defc06"/><path d="M87.3,314.0L93.5,315.8L98.5,309.5L92.3,307.7Z" fill="#fd8600"/><path d="M98.5,309.5L104.8,312.0L109.8,306.2L103.5,303.8Z" fill="#fe4f00"/><path d="M143.6,303.8L150.0,309.1L154.7,305.4L148.3,300.2Z" fill="#fe4d00"/><path d="M186.9,315.5L193.1,322.8L197.3,320.2L191.1,313.2Z" fill="#4dfb23"/><path d="M104.8,312.0L111.2,315.2L116.2,309.4L109.8,306.2Z" fill="#fe5800"/><path d="M82.3,320.9L88.5,322.7L93.5,315.8L87.3,314.0Z" fill="#fdbf00"/><path d="M116.2,309.4L122.6,313.3L127.5,308.1L121.1,304.2Z" fill="#fe4300"/><path d="M127.5,308.1L134.0,312.7L138.8,308.0L132.4,303.4Z" fill="#fe4500"/><path d="M138.8,308.0L145.3,313.3L150.0,309.1L143.6,303.8Z" fill="#fe5c00"/><path d="M150.0,309.1L156.4,315.0L161.0,311.2L154.7,305.4Z" fill="#fd8700"/><path d="M161.0,311.2L167.4,317.8L171.9,314.3L165.6,307.9Z" fill="#fdc100"/><path d="M171.9,314.3L178.2,321.4L182.6,318.3L176.4,311.4Z" fill="#e5fc05"/><path d="M182.6,318.3L188.8,325.8L193.1,322.8L186.9,315.5Z" fill="#5afb20"/><path d="M93.5,315.8L99.8,318.3L104.8,312.0L98.5,309.5Z" fill="#fe8200"/><path d="M145.3,313.3L151.7,319.3L156.4,315.0L150.0,309.1Z" fill="#fd9500"/><path d="M99.8,318.3L106.2,321.5L111.2,315.2L104.8,312.0Z" fill="#fd8a00"/><path d="M111.2,315.2L117.7,319.1L122.6,313.3L116.2,309.4Z" fill="#fe6d00"/><path d="M88.5,322.7L94.8,325.3L99.8,318.3L93.5,315.8Z" fill="#fdbb00"/><path d="M122.6,313.3L129.1,317.9L134.0,312.7L127.5,308.1Z" fill="#fe6500"/><path d="M134.0,312.7L140.5,318.0L145.3,313.3L138.8,308.0Z" fill="#fe7300"/><path d="M156.4,315.0L162.8,321.6L167.4,317.8L161.0,311.2Z" fill="#fdc900"/><path d="M167.4,317.8L173.7,324.9L178.2,321.4L171.9,314.3Z" fill="#e1fc05"/><path d="M178.2,321.4L184.5,329.1L188.8,325.8L182.6,318.3Z" fill="#5dfb20"/><path d="M94.8,325.3L101.2,328.5L106.2,321.5L99.8,318.3Z" fill="#fdc300"/><path d="M106.2,321.5L112.7,325.4L117.7,319.1L111.2,315.2Z" fill="#fd9d00"/><path d="M140.5,318.0L147.0,324.0L151.7,319.3L145.3,313.3Z" fill="#fdab00"/><path d="M151.7,319.3L158.2,326.0L162.8,321.6L156.4,315.0Z" fill="#fcd800"/><path d="M117.7,319.1L124.2,323.7L129.1,317.9L122.6,313.3Z" fill="#fd8d00"/><path d="M129.1,317.9L135.6,323.3L140.5,318.0L134.0,312.7Z" fill="#fd9200"/><path d="M162.8,321.6L169.2,328.9L173.7,324.9L167.4,317.8Z" fill="#d3fc08"/><path d="M173.7,324.9L180.0,332.8L184.5,329.1L178.2,321.4Z" fill="#56fb21"/><path d="M101.2,328.5L107.7,332.3L112.7,325.4L106.2,321.5Z" fill="#fcd500"/><path d="M112.7,325.4L119.2,330.0L124.2,323.7L117.7,319.1Z" fill="#fdbc00"/><path d="M135.6,323.3L142.1,329.3L147.0,324.0L140.5,318.0Z" fill="#fdc900"/><path d="M147.0,324.0L153.4,330.8L158.2,326.0L151.7,319.3Z" fill="#fcee00"/><path d="M158.2,326.0L164.6,333.3L169.2,328.9L162.8,321.6Z" fill="#bafb0d"/><path d="M124.2,323.7L130.7,329.0L135.6,323.3L129.1,317.9Z" fill="#fdb800"/><path d="M169.2,328.9L175.5,336.9L180.0,332.8L173.7,324.9Z" fill="#45fb24"/><path d="M130.7,329.0L137.3,335.0L142.1,329.3L135.6,323.3Z" fill="#fcee00"/><path d="M107.7,332.3L114.2,336.9L119.2,330.0L112.7,325.4Z" fill="#fcf300"/><path d="M119.2,330.0L125.8,335.3L130.7,329.0L124.2,323.7Z" fill="#fce600"/><path d="M142.1,329.3L148.6,336.0L153.4,330.8L147.0,324.0Z" fill="#e4fc05"/><path d="M153.4,330.8L159.9,338.2L164.6,333.3L158.2,326.0Z" fill="#96fb14"/><path d="M164.6,333.3L171.0,341.4L175.5,336.9L169.2,328.9Z" fill="#39fa27"/><path d="M125.8,335.3L132.3,341.3L137.3,335.0L130.7,329.0Z" fill="#cbfc0a"/><path d="M137.3,335.0L143.8,341.7L148.6,336.0L142.1,329.3Z" fill="#aafb10"/><path d="M114.2,336.9L120.8,342.1L125.8,335.3L119.2,330.0Z" fill="#cafc0a"/><path d="M148.6,336.0L155.1,343.4L159.9,338.2L153.4,330.8Z" fill="#69fb1d"/><path d="M159.9,338.2L166.3,346.2L171.0,341.4L164.6,333.3Z" fill="#33fa28"/><path d="M120.8,342.1L127.4,348.0L132.3,341.3L125.8,335.3Z" fill="#78fb1a"/><path d="M132.3,341.3L138.9,347.9L143.8,341.7L137.3,335.0Z" fill="#65fb1e"/><path d="M143.8,341.7L150.3,349.1L155.1,343.4L148.6,336.0Z" fill="#3afa26"/><path d="M155.1,343.4L161.6,351.5L166.3,346.2L159.9,338.2Z" fill="#2afa2a"/><path d="M127.4,348.0L134.0,354.6L138.9,347.9L132.3,341.3Z" fill="#35fa27"/><path d="M138.9,347.9L145.5,355.2L150.3,349.1L143.8,341.7Z" fill="#2efa29"/><path d="M150.3,349.1L156.9,357.1L161.6,351.5L155.1,343.4Z" fill="#20fa2c"/><path d="M134.0,354.6L140.6,361.7L145.5,355.2L138.9,347.9Z" fill="#20fa2c"/><path d="M145.5,355.2L152.0,363.1L156.9,357.1L150.3,349.1Z" fill="#14fa2e"/><path d="M140.6,361.7L147.2,369.5L152.0,363.1L145.5,355.2Z" fill="#07fa31"/></g>
<circle cx="37.5" cy="329.0" r="1.4" fill="#f0a0a0" stroke="#700" stroke-width="0.4"/>
<circle cx="147.0" cy="369.6" r="1.4" fill="#c00000" stroke="#700" stroke-width="0.4"/>
<circle cx="223.3" cy="312.0" r="1.4" fill="#c00000" stroke="#700" stroke-width="0.4"/>
<text x="38.6" y="380.1" text-anchor="end" font-size="6.2" fill="#222">40</text>
<text x="64.5" y="391.7" text-anchor="end" font-size="6.2" fill="#222">45</text>
<text x="90.3" y="403.2" text-anchor="end" font-size="6.2" fill="#222">50</text>
<text x="116.2" y="414.8" text-anchor="end" font-size="6.2" fill="#222">55</text>
<text x="142.1" y="426.4" text-anchor="end" font-size="6.2" fill="#222">60</text>
<text x="149.1" y="426.4" text-anchor="start" font-size="6.2" fill="#222">3</text>
<text x="167.4" y="411.0" text-anchor="start" font-size="6.2" fill="#222">3.5</text>
<text x="185.8" y="395.5" text-anchor="start" font-size="6.2" fill="#222">4</text>
<text x="204.2" y="380.1" text-anchor="start" font-size="6.2" fill="#222">4.5</text>
<text x="222.5" y="364.6" text-anchor="start" font-size="6.2" fill="#222">5</text>
<text x="35.7" y="350.2" text-anchor="end" font-size="6.2" fill="#222">0.2</text>
<text x="34.1" y="335.8" text-anchor="end" font-size="6.2" fill="#222">0.25</text>
<text x="32.6" y="321.5" text-anchor="end" font-size="6.2" fill="#222">0.3</text>
<text x="31.0" y="307.1" text-anchor="end" font-size="6.2" fill="#222">0.35</text>
<text x="29.4" y="292.8" text-anchor="end" font-size="6.2" fill="#222">0.4</text>
<text x="27.8" y="278.4" text-anchor="end" font-size="6.2" fill="#222">0.45</text>
<text x="2.7" y="239.0" font-size="11.5" font-weight="bold" fill="#000">(D)</text>
<text x="0.0" y="0.0" font-size="7.5" transform="translate(8,329) rotate(-90)" text-anchor="middle" fill="#111">PDI</text>
<text x="23.8" y="423.0" font-size="8.75"  fill="#1a1a1a">A: Conc of GMS (mg)</text>
<text x="170.0" y="409.5" font-size="8.7"  fill="#1a1a1a">B: Conc of Tween 80<tspan font-size="7.5" dy="0.3">(%)</tspan></text></g>
<g id="pE"><polygon points="309.5,372.0 409.1,419.6 479.4,358.6 385.0,324.6" fill="#ffff00"/>
<path d="M309.5,372.0L298.8,278.9M324.6,362.5L315.7,270.1M339.7,353.0L332.6,261.3M354.8,343.6L349.4,252.6M369.9,334.1L366.3,243.8M385.0,324.6L383.2,235.0M408.6,333.1L409.8,243.2M432.2,341.6L436.4,251.3M455.8,350.1L462.9,259.5M479.4,358.6L489.5,267.7M309.5,372.0L385.0,324.6M385.0,324.6L479.4,358.6M306.9,349.2L384.6,302.6M384.6,302.6L481.9,336.3M305.3,335.1L384.3,289.1M384.3,289.1L483.4,322.6M303.6,321.1L384.0,275.6M384.0,275.6L484.9,308.9M302.0,307.0L383.7,262.1M383.7,262.1L486.4,295.2M300.4,293.0L383.5,248.5M383.5,248.5L488.0,281.4M298.8,278.9L383.2,235.0M383.2,235.0L489.5,267.7" stroke="#3a3a3a" stroke-width="0.7" fill="none"/>
<path d="M309.5,372.0L409.1,419.6L479.4,358.6M309.5,372.0L308.4,372.7M334.4,383.9L333.3,384.6M359.3,395.8L358.2,396.5M384.2,407.7L383.1,408.4M409.1,419.6L408.0,420.3M409.1,419.6L410.3,420.0M423.2,407.4L424.4,407.8M437.2,395.2L438.4,395.6M451.3,383.0L452.5,383.4M465.3,370.8L466.6,371.2M479.4,358.6L480.6,359.0M306.9,349.2L304.7,348.5M305.3,335.1L303.1,334.4M303.6,321.1L301.4,320.4M302.0,307.0L299.8,306.3M300.4,293.0L298.2,292.3M298.8,278.9L296.6,278.2" stroke="#222" stroke-width="0.7" fill="none"/>
<clipPath id="cfE"><polygon points="309.5,372.0 409.1,419.6 479.4,358.6 385.0,324.6"/></clipPath>
<ellipse cx="397.8" cy="374" rx="40" ry="22" fill="none" stroke="#f39a00" stroke-width="0.9" clip-path="url(#cfE)"/>
<ellipse cx="397.8" cy="374" rx="66.4" ry="39" fill="none" stroke="#d0f000" stroke-width="0.7" clip-path="url(#cfE)"/>
<ellipse cx="397.8" cy="374" rx="88" ry="46" fill="none" stroke="#70f030" stroke-width="0.9" clip-path="url(#cfE)"/>
<g stroke="#101010" stroke-width="0.33" stroke-linejoin="round"><path d="M380.2,280.7L385.3,279.7L389.3,280.9L384.2,281.6Z" fill="#00f84e"/><path d="M376.1,280.1L381.2,278.8L385.3,279.7L380.2,280.7Z" fill="#00f93e"/><path d="M385.3,279.7L390.4,278.9L394.4,280.4L389.3,280.9Z" fill="#00f942"/><path d="M371.9,279.9L377.0,278.4L381.2,278.8L376.1,280.1Z" fill="#02fa32"/><path d="M381.2,278.8L386.4,277.9L390.4,278.9L385.3,279.7Z" fill="#02fa32"/><path d="M390.4,278.9L395.7,278.5L399.6,280.1L394.4,280.4Z" fill="#00fa37"/><path d="M395.7,278.5L401.0,278.3L404.9,280.2L399.6,280.1Z" fill="#06fa31"/><path d="M367.7,280.2L372.8,278.4L377.0,278.4L371.9,279.9Z" fill="#0ffa2f"/><path d="M377.0,278.4L382.2,277.2L386.4,277.9L381.2,278.8Z" fill="#13fa2e"/><path d="M386.4,277.9L391.7,277.2L395.7,278.5L390.4,278.9Z" fill="#0ffa2f"/><path d="M363.4,280.8L368.5,278.8L372.8,278.4L367.7,280.2Z" fill="#1bfa2d"/><path d="M391.7,277.2L397.0,276.9L401.0,278.3L395.7,278.5Z" fill="#1bfa2d"/><path d="M401.0,278.3L406.4,278.5L410.3,280.5L404.9,280.2Z" fill="#0ffa2f"/><path d="M372.8,278.4L378.0,277.0L382.2,277.2L377.0,278.4Z" fill="#21fa2b"/><path d="M382.2,277.2L387.5,276.4L391.7,277.2L386.4,277.9Z" fill="#21fa2b"/><path d="M359.1,281.8L364.2,279.6L368.5,278.8L363.4,280.8Z" fill="#24fa2b"/><path d="M368.5,278.8L373.8,277.2L378.0,277.0L372.8,278.4Z" fill="#2efa29"/><path d="M387.5,276.4L392.9,276.0L397.0,276.9L391.7,277.2Z" fill="#2efa29"/><path d="M397.0,276.9L402.5,277.0L406.4,278.5L401.0,278.3Z" fill="#25fa2b"/><path d="M406.4,278.5L411.9,279.1L415.7,281.1L410.3,280.5Z" fill="#16fa2e"/><path d="M378.0,277.0L383.3,276.0L387.5,276.4L382.2,277.2Z" fill="#31fa28"/><path d="M373.8,277.2L379.1,276.0L383.3,276.0L378.0,277.0Z" fill="#49fb24"/><path d="M411.9,279.1L417.5,279.9L421.2,282.0L415.7,281.1Z" fill="#1cfa2c"/><path d="M354.7,283.3L359.8,280.9L364.2,279.6L359.1,281.8Z" fill="#2bfa2a"/><path d="M364.2,279.6L369.4,277.9L373.8,277.2L368.5,278.8Z" fill="#38fa27"/><path d="M383.3,276.0L388.8,275.4L392.9,276.0L387.5,276.4Z" fill="#4afb23"/><path d="M392.9,276.0L398.4,275.9L402.5,277.0L397.0,276.9Z" fill="#39fa27"/><path d="M402.5,277.0L408.0,277.5L411.9,279.1L406.4,278.5Z" fill="#2dfa29"/><path d="M369.4,277.9L374.7,276.6L379.1,276.0L373.8,277.2Z" fill="#8ffb16"/><path d="M379.1,276.0L384.5,275.3L388.8,275.4L383.3,276.0Z" fill="#a3fb12"/><path d="M408.0,277.5L413.6,278.3L417.5,279.9L411.9,279.1Z" fill="#33fa28"/><path d="M417.5,279.9L423.1,281.1L426.8,283.2L421.2,282.0Z" fill="#21fa2c"/><path d="M350.2,285.2L355.3,282.6L359.8,280.9L354.7,283.3Z" fill="#2ffa29"/><path d="M359.8,280.9L365.0,279.0L369.4,277.9L364.2,279.6Z" fill="#51fb22"/><path d="M388.8,275.4L394.3,275.3L398.4,275.9L392.9,276.0Z" fill="#92fb15"/><path d="M398.4,275.9L404.0,276.3L408.0,277.5L402.5,277.0Z" fill="#5bfb20"/><path d="M345.8,287.5L350.8,284.9L355.3,282.6L350.2,285.2Z" fill="#32fa28"/><path d="M374.7,276.6L380.2,275.7L384.5,275.3L379.1,276.0Z" fill="#eefc03"/><path d="M384.5,275.3L390.0,275.1L394.3,275.3L388.8,275.4Z" fill="#effc03"/><path d="M404.0,276.3L409.6,277.1L413.6,278.3L408.0,277.5Z" fill="#85fb18"/><path d="M413.6,278.3L419.2,279.5L423.1,281.1L417.5,279.9Z" fill="#38fa27"/><path d="M423.1,281.1L428.7,282.7L432.4,284.7L426.8,283.2Z" fill="#23fa2b"/><path d="M355.3,282.6L360.5,280.6L365.0,279.0L359.8,280.9Z" fill="#74fb1b"/><path d="M365.0,279.0L370.3,277.6L374.7,276.6L369.4,277.9Z" fill="#c5fc0b"/><path d="M394.3,275.3L399.8,275.6L404.0,276.3L398.4,275.9Z" fill="#cbfc0a"/><path d="M350.8,284.9L356.0,282.7L360.5,280.6L355.3,282.6Z" fill="#87fb17"/><path d="M341.2,290.3L346.2,287.5L350.8,284.9L345.8,287.5Z" fill="#32fa28"/><path d="M370.3,277.6L375.8,276.6L380.2,275.7L374.7,276.6Z" fill="#fcde00"/><path d="M380.2,275.7L385.7,275.4L390.0,275.1L384.5,275.3Z" fill="#fdcf00"/><path d="M390.0,275.1L395.6,275.3L399.8,275.6L394.3,275.3Z" fill="#fcdb00"/><path d="M399.8,275.6L405.5,276.3L409.6,277.1L404.0,276.3Z" fill="#f7fc01"/><path d="M409.6,277.1L415.3,278.3L419.2,279.5L413.6,278.3Z" fill="#a1fb12"/><path d="M419.2,279.5L424.9,281.1L428.7,282.7L423.1,281.1Z" fill="#3afa26"/><path d="M428.7,282.7L434.4,284.6L438.1,286.5L432.4,284.7Z" fill="#24fa2b"/><path d="M360.5,280.6L365.8,279.0L370.3,277.6L365.0,279.0Z" fill="#ecfc03"/><path d="M395.6,275.3L401.3,276.0L405.5,276.3L399.8,275.6Z" fill="#fdbc00"/><path d="M434.4,284.6L440.2,286.8L443.8,288.6L438.1,286.5Z" fill="#24fa2b"/><path d="M346.2,287.5L351.4,285.2L356.0,282.7L350.8,284.9Z" fill="#8dfb16"/><path d="M356.0,282.7L361.3,281.0L365.8,279.0L360.5,280.6Z" fill="#fcf600"/><path d="M336.7,293.5L341.7,290.7L346.2,287.5L341.2,290.3Z" fill="#30fa29"/><path d="M365.8,279.0L371.3,278.0L375.8,276.6L370.3,277.6Z" fill="#fdc000"/><path d="M375.8,276.6L381.3,276.2L385.7,275.4L380.2,275.7Z" fill="#fda500"/><path d="M385.7,275.4L391.3,275.5L395.6,275.3L390.0,275.1Z" fill="#fda400"/><path d="M405.5,276.3L411.2,277.5L415.3,278.3L409.6,277.1Z" fill="#fceb00"/><path d="M415.3,278.3L421.0,279.9L424.9,281.1L419.2,279.5Z" fill="#b1fb0f"/><path d="M424.9,281.1L430.7,283.0L434.4,284.6L428.7,282.7Z" fill="#3bfa26"/><path d="M361.3,281.0L366.8,279.9L371.3,278.0L365.8,279.0Z" fill="#fdad00"/><path d="M391.3,275.5L397.1,276.2L401.3,276.0L395.6,275.3Z" fill="#fe8300"/><path d="M401.3,276.0L407.1,277.2L411.2,277.5L405.5,276.3Z" fill="#fda700"/><path d="M430.7,283.0L436.5,285.4L440.2,286.8L434.4,284.6Z" fill="#3afa27"/><path d="M440.2,286.8L446.0,289.4L449.6,291.0L443.8,288.6Z" fill="#21fa2b"/><path d="M341.7,290.7L346.8,288.3L351.4,285.2L346.2,287.5Z" fill="#83fb18"/><path d="M351.4,285.2L356.7,283.5L361.3,281.0L356.0,282.7Z" fill="#fcf000"/><path d="M332.1,297.2L337.1,294.3L341.7,290.7L336.7,293.5Z" fill="#2bfa29"/><path d="M371.3,278.0L376.8,277.5L381.3,276.2L375.8,276.6Z" fill="#fd8500"/><path d="M381.3,276.2L387.0,276.3L391.3,275.5L385.7,275.4Z" fill="#fe7500"/><path d="M411.2,277.5L417.0,279.1L421.0,279.9L415.3,278.3Z" fill="#fce100"/><path d="M421.0,279.9L426.8,281.9L430.7,283.0L424.9,281.1Z" fill="#b4fb0e"/><path d="M327.5,301.4L332.4,298.4L337.1,294.3L332.1,297.2Z" fill="#25fa2b"/><path d="M356.7,283.5L362.2,282.3L366.8,279.9L361.3,281.0Z" fill="#fda400"/><path d="M366.8,279.9L372.3,279.3L376.8,277.5L371.3,278.0Z" fill="#fe6c00"/><path d="M387.0,276.3L392.7,276.9L397.1,276.2L391.3,275.5Z" fill="#fe4c00"/><path d="M397.1,276.2L402.9,277.4L407.1,277.2L401.3,276.0Z" fill="#fe6900"/><path d="M407.1,277.2L412.9,278.9L417.0,279.1L411.2,277.5Z" fill="#fd9c00"/><path d="M426.8,281.9L432.7,284.4L436.5,285.4L430.7,283.0Z" fill="#aafb10"/><path d="M436.5,285.4L442.3,288.2L446.0,289.4L440.2,286.8Z" fill="#37fa27"/><path d="M446.0,289.4L451.8,292.3L455.3,293.7L449.6,291.0Z" fill="#1dfa2c"/><path d="M337.1,294.3L342.2,291.9L346.8,288.3L341.7,290.7Z" fill="#6afb1d"/><path d="M346.8,288.3L352.1,286.5L356.7,283.5L351.4,285.2Z" fill="#fcf500"/><path d="M376.8,277.5L382.5,277.5L387.0,276.3L381.3,276.2Z" fill="#fe4c00"/><path d="M417.0,279.1L422.9,281.3L426.8,281.9L421.0,279.9Z" fill="#fcdf00"/><path d="M332.4,298.4L337.5,295.9L342.2,291.9L337.1,294.3Z" fill="#43fb25"/><path d="M322.9,306.0L327.8,303.0L332.4,298.4L327.5,301.4Z" fill="#1cfa2c"/><path d="M352.1,286.5L357.5,285.2L362.2,282.3L356.7,283.5Z" fill="#fda600"/><path d="M362.2,282.3L367.7,281.6L372.3,279.3L366.8,279.9Z" fill="#fe5f00"/><path d="M372.3,279.3L378.0,279.2L382.5,277.5L376.8,277.5Z" fill="#ff3100"/><path d="M382.5,277.5L388.3,278.1L392.7,276.9L387.0,276.3Z" fill="#ff2600"/><path d="M392.7,276.9L398.5,278.0L402.9,277.4L397.1,276.2Z" fill="#ff3100"/><path d="M402.9,277.4L408.7,279.1L412.9,278.9L407.1,277.2Z" fill="#fe5c00"/><path d="M412.9,278.9L418.8,281.0L422.9,281.3L417.0,279.1Z" fill="#fd9c00"/><path d="M422.9,281.3L428.8,283.8L432.7,284.4L426.8,281.9Z" fill="#fce800"/><path d="M432.7,284.4L438.6,287.3L442.3,288.2L436.5,285.4Z" fill="#93fb15"/><path d="M442.3,288.2L448.2,291.3L451.8,292.3L446.0,289.4Z" fill="#32fa28"/><path d="M451.8,292.3L457.7,295.6L461.1,296.8L455.3,293.7Z" fill="#18fa2d"/><path d="M342.2,291.9L347.4,290.0L352.1,286.5L346.8,288.3Z" fill="#f1fc02"/><path d="M378.0,279.2L383.8,279.8L388.3,278.1L382.5,277.5Z" fill="#ff2200"/><path d="M418.8,281.0L424.7,283.7L428.8,283.8L422.9,281.3Z" fill="#fda500"/><path d="M457.7,295.6L463.5,299.3L467.0,300.1L461.1,296.8Z" fill="#10fa2f"/><path d="M327.8,303.0L332.8,300.5L337.5,295.9L332.4,298.4Z" fill="#35fa27"/><path d="M337.5,295.9L342.8,294.0L347.4,290.0L342.2,291.9Z" fill="#cdfc09"/><path d="M318.3,311.1L323.1,308.1L327.8,303.0L322.9,306.0Z" fill="#11fa2f"/><path d="M347.4,290.0L352.9,288.6L357.5,285.2L352.1,286.5Z" fill="#fdb300"/><path d="M357.5,285.2L363.1,284.5L367.7,281.6L362.2,282.3Z" fill="#fe5f00"/><path d="M367.7,281.6L373.4,281.5L378.0,279.2L372.3,279.3Z" fill="#ff2600"/><path d="M388.3,278.1L394.1,279.2L398.5,278.0L392.7,276.9Z" fill="#ff2200"/><path d="M398.5,278.0L404.4,279.7L408.7,279.1L402.9,277.4Z" fill="#ff2700"/><path d="M408.7,279.1L414.6,281.3L418.8,281.0L412.9,278.9Z" fill="#fe5c00"/><path d="M428.8,283.8L434.7,286.9L438.6,287.3L432.7,284.4Z" fill="#fcfa00"/><path d="M438.6,287.3L444.5,290.7L448.2,291.3L442.3,288.2Z" fill="#6ffb1c"/><path d="M448.2,291.3L454.1,294.9L457.7,295.6L451.8,292.3Z" fill="#2bfa29"/><path d="M342.8,294.0L348.2,292.6L352.9,288.6L347.4,290.0Z" fill="#fdcb00"/><path d="M373.4,281.5L379.2,282.0L383.8,279.8L378.0,279.2Z" fill="#ff2000"/><path d="M383.8,279.8L389.6,280.9L394.1,279.2L388.3,278.1Z" fill="#ff1e00"/><path d="M414.6,281.3L420.6,284.0L424.7,283.7L418.8,281.0Z" fill="#fe6900"/><path d="M424.7,283.7L430.7,286.9L434.7,286.9L428.8,283.8Z" fill="#fdba00"/><path d="M454.1,294.9L460.0,298.8L463.5,299.3L457.7,295.6Z" fill="#23fa2b"/><path d="M463.5,299.3L469.4,303.3L472.8,303.8L467.0,300.1Z" fill="#08fa31"/><path d="M313.6,316.6L318.5,313.7L323.1,308.1L318.3,311.1Z" fill="#04fa31"/><path d="M332.8,300.5L338.1,298.6L342.8,294.0L337.5,295.9Z" fill="#99fb14"/><path d="M323.1,308.1L328.1,305.6L332.8,300.5L327.8,303.0Z" fill="#2afa2a"/><path d="M352.9,288.6L358.4,287.9L363.1,284.5L357.5,285.2Z" fill="#fe6d00"/><path d="M363.1,284.5L368.8,284.3L373.4,281.5L367.7,281.6Z" fill="#ff2600"/><path d="M394.1,279.2L400.0,280.9L404.4,279.7L398.5,278.0Z" fill="#ff2000"/><path d="M404.4,279.7L410.4,282.0L414.6,281.3L408.7,279.1Z" fill="#ff2700"/><path d="M434.7,286.9L440.6,290.4L444.5,290.7L438.6,287.3Z" fill="#d6fc07"/><path d="M444.5,290.7L450.4,294.5L454.1,294.9L448.2,291.3Z" fill="#3efa26"/><path d="M338.1,298.6L343.4,297.2L348.2,292.6L342.8,294.0Z" fill="#fced00"/><path d="M348.2,292.6L353.7,291.8L358.4,287.9L352.9,288.6Z" fill="#fd8600"/><path d="M368.8,284.3L374.6,284.8L379.2,282.0L373.4,281.5Z" fill="#ff2000"/><path d="M379.2,282.0L385.1,283.1L389.6,280.9L383.8,279.8Z" fill="#ff1c00"/><path d="M389.6,280.9L395.6,282.6L400.0,280.9L394.1,279.2Z" fill="#ff1c00"/><path d="M410.4,282.0L416.4,284.8L420.6,284.0L414.6,281.3Z" fill="#ff3100"/><path d="M420.6,284.0L426.6,287.3L430.7,286.9L424.7,283.7Z" fill="#fe8300"/><path d="M430.7,286.9L436.7,290.6L440.6,290.4L434.7,286.9Z" fill="#fcd800"/><path d="M450.4,294.5L456.3,298.7L460.0,298.8L454.1,294.9Z" fill="#33fa28"/><path d="M460.0,298.8L465.9,303.2L469.4,303.3L463.5,299.3Z" fill="#18fa2d"/><path d="M469.4,303.3L475.3,307.7L478.7,307.7L472.8,303.8Z" fill="#00fa35"/><path d="M318.5,313.7L323.5,311.2L328.1,305.6L323.1,308.1Z" fill="#1dfa2c"/><path d="M309.0,322.6L313.8,319.7L318.5,313.7L313.6,316.6Z" fill="#00f93c"/><path d="M328.1,305.6L333.3,303.6L338.1,298.6L332.8,300.5Z" fill="#56fb21"/><path d="M358.4,287.9L364.1,287.7L368.8,284.3L363.1,284.5Z" fill="#ff2c00"/><path d="M400.0,280.9L406.0,283.2L410.4,282.0L404.4,279.7Z" fill="#ff2100"/><path d="M440.6,290.4L446.6,294.5L450.4,294.5L444.5,290.7Z" fill="#a0fb12"/><path d="M304.5,329.0L309.2,326.2L313.8,319.7L309.0,322.6Z" fill="#00f84c"/><path d="M313.8,319.7L318.8,317.3L323.5,311.2L318.5,313.7Z" fill="#0efa2f"/><path d="M323.5,311.2L328.6,309.2L333.3,303.6L328.1,305.6Z" fill="#34fa28"/><path d="M333.3,303.6L338.7,302.2L343.4,297.2L338.1,298.6Z" fill="#d1fc09"/><path d="M343.4,297.2L348.9,296.3L353.7,291.8L348.2,292.6Z" fill="#fda700"/><path d="M353.7,291.8L359.4,291.6L364.1,287.7L358.4,287.9Z" fill="#fe4500"/><path d="M364.1,287.7L369.9,288.1L374.6,284.8L368.8,284.3Z" fill="#ff2100"/><path d="M374.6,284.8L380.5,285.9L385.1,283.1L379.2,282.0Z" fill="#ff1b00"/><path d="M385.1,283.1L391.1,284.8L395.6,282.6L389.6,280.9Z" fill="#ff1a00"/><path d="M395.6,282.6L401.6,284.9L406.0,283.2L400.0,280.9Z" fill="#ff1c00"/><path d="M406.0,283.2L412.1,286.1L416.4,284.8L410.4,282.0Z" fill="#ff2300"/><path d="M416.4,284.8L422.4,288.2L426.6,287.3L420.6,284.0Z" fill="#fe4d00"/><path d="M426.6,287.3L432.7,291.2L436.7,290.6L430.7,286.9Z" fill="#fda300"/><path d="M436.7,290.6L442.7,294.8L446.6,294.5L440.6,290.4Z" fill="#f5fc01"/><path d="M446.6,294.5L452.6,298.9L456.3,298.7L450.4,294.5Z" fill="#5cfb20"/><path d="M456.3,298.7L462.3,303.4L465.9,303.2L460.0,298.8Z" fill="#27fa2a"/><path d="M465.9,303.2L471.8,307.9L475.3,307.7L469.4,303.3Z" fill="#0cfa30"/><path d="M475.3,307.7L481.2,312.4L484.5,312.0L478.7,307.7Z" fill="#00f93f"/><path d="M359.4,291.6L365.2,292.0L369.9,288.1L364.1,287.7Z" fill="#ff2400"/><path d="M401.6,284.9L407.7,287.9L412.1,286.1L406.0,283.2Z" fill="#ff1e00"/><path d="M442.7,294.8L448.7,299.5L452.6,298.9L446.6,294.5Z" fill="#abfb10"/><path d="M328.6,309.2L333.9,307.8L338.7,302.2L333.3,303.6Z" fill="#80fb19"/><path d="M309.2,326.2L314.1,323.8L318.8,317.3L313.8,319.7Z" fill="#00fa36"/><path d="M318.8,317.3L323.9,315.3L328.6,309.2L323.5,311.2Z" fill="#24fa2b"/><path d="M338.7,302.2L344.2,301.4L348.9,296.3L343.4,297.2Z" fill="#fdd200"/><path d="M348.9,296.3L354.6,296.1L359.4,291.6L353.7,291.8Z" fill="#fe6a00"/><path d="M369.9,288.1L375.8,289.2L380.5,285.9L374.6,284.8Z" fill="#ff1c00"/><path d="M380.5,285.9L386.4,287.6L391.1,284.8L385.1,283.1Z" fill="#ff1900"/><path d="M391.1,284.8L397.1,287.2L401.6,284.9L395.6,282.6Z" fill="#ff1a00"/><path d="M412.1,286.1L418.2,289.6L422.4,288.2L416.4,284.8Z" fill="#ff2600"/><path d="M422.4,288.2L428.5,292.2L432.7,291.2L426.6,287.3Z" fill="#fe7600"/><path d="M432.7,291.2L438.7,295.6L442.7,294.8L436.7,290.6Z" fill="#fdcf00"/><path d="M452.6,298.9L458.6,303.9L462.3,303.4L456.3,298.7Z" fill="#34fa28"/><path d="M462.3,303.4L468.2,308.5L471.8,307.9L465.9,303.2Z" fill="#19fa2d"/><path d="M471.8,307.9L477.7,313.1L481.2,312.4L475.3,307.7Z" fill="#00fa34"/><path d="M354.6,296.1L360.4,296.5L365.2,292.0L359.4,291.6Z" fill="#fe3600"/><path d="M365.2,292.0L371.1,293.1L375.8,289.2L369.9,288.1Z" fill="#ff1f00"/><path d="M397.1,287.2L403.2,290.1L407.7,287.9L401.6,284.9Z" fill="#ff1c00"/><path d="M407.7,287.9L413.8,291.4L418.2,289.6L412.1,286.1Z" fill="#ff2200"/><path d="M438.7,295.6L444.8,300.5L448.7,299.5L442.7,294.8Z" fill="#eefc03"/><path d="M448.7,299.5L454.7,304.7L458.6,303.9L452.6,298.9Z" fill="#52fb22"/><path d="M323.9,315.3L329.2,314.0L333.9,307.8L328.6,309.2Z" fill="#38fa27"/><path d="M333.9,307.8L339.4,307.0L344.2,301.4L338.7,302.2Z" fill="#eafc04"/><path d="M314.1,323.8L319.2,322.0L323.9,315.3L318.8,317.3Z" fill="#13fa2e"/><path d="M344.2,301.4L349.8,301.1L354.6,296.1L348.9,296.3Z" fill="#fd9800"/><path d="M375.8,289.2L381.8,290.9L386.4,287.6L380.5,285.9Z" fill="#ff1a00"/><path d="M386.4,287.6L392.5,289.9L397.1,287.2L391.1,284.8Z" fill="#ff1900"/><path d="M418.2,289.6L424.3,293.7L428.5,292.2L422.4,288.2Z" fill="#fe4e00"/><path d="M428.5,292.2L434.6,296.7L438.7,295.6L432.7,291.2Z" fill="#fda600"/><path d="M458.6,303.9L464.5,309.3L468.2,308.5L462.3,303.4Z" fill="#25fa2b"/><path d="M468.2,308.5L474.1,314.0L477.7,313.1L471.8,307.9Z" fill="#09fa30"/><path d="M319.2,322.0L324.4,320.6L329.2,314.0L323.9,315.3Z" fill="#27fa2a"/><path d="M349.8,301.1L355.6,301.5L360.4,296.5L354.6,296.1Z" fill="#fe6600"/><path d="M360.4,296.5L366.3,297.5L371.1,293.1L365.2,292.0Z" fill="#ff2400"/><path d="M371.1,293.1L377.1,294.7L381.8,290.9L375.8,289.2Z" fill="#ff1d00"/><path d="M392.5,289.9L398.6,292.9L403.2,290.1L397.1,287.2Z" fill="#ff1b00"/><path d="M403.2,290.1L409.4,293.7L413.8,291.4L407.7,287.9Z" fill="#ff2000"/><path d="M413.8,291.4L420.0,295.6L424.3,293.7L418.2,289.6Z" fill="#ff3000"/><path d="M434.6,296.7L440.7,301.8L444.8,300.5L438.7,295.6Z" fill="#fcdf00"/><path d="M444.8,300.5L450.8,305.9L454.7,304.7L448.7,299.5Z" fill="#8ffb16"/><path d="M454.7,304.7L460.7,310.4L464.5,309.3L458.6,303.9Z" fill="#2ffa29"/><path d="M329.2,314.0L334.6,313.1L339.4,307.0L333.9,307.8Z" fill="#8bfb16"/><path d="M339.4,307.0L345.0,306.7L349.8,301.1L344.2,301.4Z" fill="#fdcd00"/><path d="M381.8,290.9L387.9,293.2L392.5,289.9L386.4,287.6Z" fill="#ff1a00"/><path d="M424.3,293.7L430.4,298.3L434.6,296.7L428.5,292.2Z" fill="#fd8600"/><path d="M464.5,309.3L470.5,315.1L474.1,314.0L468.2,308.5Z" fill="#14fa2e"/><path d="M345.0,306.7L350.8,307.0L355.6,301.5L349.8,301.1Z" fill="#fd9e00"/><path d="M324.4,320.6L329.9,319.8L334.6,313.1L329.2,314.0Z" fill="#38fa27"/><path d="M355.6,301.5L361.5,302.5L366.3,297.5L360.4,296.5Z" fill="#fe4000"/><path d="M366.3,297.5L372.3,299.1L377.1,294.7L371.1,293.1Z" fill="#ff2100"/><path d="M377.1,294.7L383.2,297.0L387.9,293.2L381.8,290.9Z" fill="#ff1c00"/><path d="M387.9,293.2L394.0,296.2L398.6,292.9L392.5,289.9Z" fill="#ff1b00"/><path d="M398.6,292.9L404.8,296.5L409.4,293.7L403.2,290.1Z" fill="#ff1f00"/><path d="M409.4,293.7L415.5,297.9L420.0,295.6L413.8,291.4Z" fill="#ff2600"/><path d="M420.0,295.6L426.1,300.3L430.4,298.3L424.3,293.7Z" fill="#fe6b00"/><path d="M430.4,298.3L436.6,303.5L440.7,301.8L434.6,296.7Z" fill="#fdc100"/><path d="M440.7,301.8L446.8,307.5L450.8,305.9L444.8,300.5Z" fill="#c2fc0c"/><path d="M450.8,305.9L456.9,311.9L460.7,310.4L454.7,304.7Z" fill="#38fa27"/><path d="M460.7,310.4L466.7,316.6L470.5,315.1L464.5,309.3Z" fill="#1dfa2c"/><path d="M334.6,313.1L340.2,312.8L345.0,306.7L339.4,307.0Z" fill="#e4fc05"/><path d="M383.2,297.0L389.3,300.0L394.0,296.2L387.9,293.2Z" fill="#ff1e00"/><path d="M426.1,300.3L432.3,305.7L436.6,303.5L430.4,298.3Z" fill="#fdac00"/><path d="M340.2,312.8L345.9,313.2L350.8,307.0L345.0,306.7Z" fill="#fcdd00"/><path d="M350.8,307.0L356.6,308.0L361.5,302.5L355.6,301.5Z" fill="#fe7c00"/><path d="M329.9,319.8L335.4,319.5L340.2,312.8L334.6,313.1Z" fill="#77fb1a"/><path d="M361.5,302.5L367.5,304.1L372.3,299.1L366.3,297.5Z" fill="#ff2900"/><path d="M372.3,299.1L378.4,301.4L383.2,297.0L377.1,294.7Z" fill="#ff2000"/><path d="M394.0,296.2L400.2,299.8L404.8,296.5L398.6,292.9Z" fill="#ff1f00"/><path d="M404.8,296.5L411.1,300.8L415.5,297.9L409.4,293.7Z" fill="#ff2500"/><path d="M415.5,297.9L421.8,302.8L426.1,300.3L420.0,295.6Z" fill="#fe5900"/><path d="M436.6,303.5L442.7,309.4L446.8,307.5L440.7,301.8Z" fill="#e9fc04"/><path d="M446.8,307.5L452.9,313.6L456.9,311.9L450.8,305.9Z" fill="#4efb23"/><path d="M456.9,311.9L462.9,318.3L466.7,316.6L460.7,310.4Z" fill="#24fa2b"/><path d="M335.4,319.5L341.1,319.8L345.9,313.2L340.2,312.8Z" fill="#bffc0c"/><path d="M378.4,301.4L384.6,304.3L389.3,300.0L383.2,297.0Z" fill="#ff2200"/><path d="M389.3,300.0L395.6,303.6L400.2,299.8L394.0,296.2Z" fill="#ff2200"/><path d="M421.8,302.8L428.0,308.2L432.3,305.7L426.1,300.3Z" fill="#fd9f00"/><path d="M432.3,305.7L438.5,311.6L442.7,309.4L436.6,303.5Z" fill="#fcf500"/><path d="M345.9,313.2L351.8,314.1L356.6,308.0L350.8,307.0Z" fill="#fdba00"/><path d="M356.6,308.0L362.6,309.6L367.5,304.1L361.5,302.5Z" fill="#fe6300"/><path d="M367.5,304.1L373.6,306.3L378.4,301.4L372.3,299.1Z" fill="#ff2600"/><path d="M400.2,299.8L406.5,304.1L411.1,300.8L404.8,296.5Z" fill="#ff2500"/><path d="M411.1,300.8L417.3,305.7L421.8,302.8L415.5,297.9Z" fill="#fe5300"/><path d="M442.7,309.4L448.8,315.7L452.9,313.6L446.8,307.5Z" fill="#70fb1c"/><path d="M452.9,313.6L458.9,320.3L462.9,318.3L456.9,311.9Z" fill="#2afa2a"/><path d="M341.1,319.8L346.9,320.7L351.8,314.1L345.9,313.2Z" fill="#f4fc02"/><path d="M373.6,306.3L379.8,309.2L384.6,304.3L378.4,301.4Z" fill="#ff2a00"/><path d="M384.6,304.3L390.8,307.9L395.6,303.6L389.3,300.0Z" fill="#ff2500"/><path d="M395.6,303.6L401.8,307.9L406.5,304.1L400.2,299.8Z" fill="#ff2a00"/><path d="M417.3,305.7L423.6,311.2L428.0,308.2L421.8,302.8Z" fill="#fd9a00"/><path d="M428.0,308.2L434.2,314.3L438.5,311.6L432.3,305.7Z" fill="#fcea00"/><path d="M438.5,311.6L444.7,318.2L448.8,315.7L442.7,309.4Z" fill="#89fb17"/><path d="M351.8,314.1L357.8,315.6L362.6,309.6L356.6,308.0Z" fill="#fda300"/><path d="M362.6,309.6L368.7,311.8L373.6,306.3L367.5,304.1Z" fill="#fe5a00"/><path d="M406.5,304.1L412.8,309.0L417.3,305.7L411.1,300.8Z" fill="#fe5700"/><path d="M448.8,315.7L454.9,322.7L458.9,320.3L452.9,313.6Z" fill="#2ffa29"/><path d="M368.7,311.8L374.9,314.6L379.8,309.2L373.6,306.3Z" fill="#fe6000"/><path d="M346.9,320.7L352.9,322.2L357.8,315.6L351.8,314.1Z" fill="#fce900"/><path d="M379.8,309.2L386.0,312.7L390.8,307.9L384.6,304.3Z" fill="#fe4300"/><path d="M390.8,307.9L397.1,312.2L401.8,307.9L395.6,303.6Z" fill="#fe4500"/><path d="M401.8,307.9L408.2,312.8L412.8,309.0L406.5,304.1Z" fill="#fe6500"/><path d="M412.8,309.0L419.1,314.6L423.6,311.2L417.3,305.7Z" fill="#fd9d00"/><path d="M423.6,311.2L429.8,317.3L434.2,314.3L428.0,308.2Z" fill="#fce500"/><path d="M434.2,314.3L440.4,321.0L444.7,318.2L438.5,311.6Z" fill="#98fb14"/><path d="M444.7,318.2L450.8,325.3L454.9,322.7L448.8,315.7Z" fill="#32fa28"/><path d="M357.8,315.6L363.9,317.7L368.7,311.8L362.6,309.6Z" fill="#fd9a00"/><path d="M408.2,312.8L414.5,318.4L419.1,314.6L412.8,309.0Z" fill="#fda800"/><path d="M363.9,317.7L370.1,320.5L374.9,314.6L368.7,311.8Z" fill="#fd9d00"/><path d="M374.9,314.6L381.2,318.1L386.0,312.7L379.8,309.2Z" fill="#fe7600"/><path d="M352.9,322.2L359.0,324.3L363.9,317.7L357.8,315.6Z" fill="#fcdd00"/><path d="M386.0,312.7L392.4,316.9L397.1,312.2L390.8,307.9Z" fill="#fe6a00"/><path d="M397.1,312.2L403.5,317.1L408.2,312.8L401.8,307.9Z" fill="#fe7e00"/><path d="M419.1,314.6L425.4,320.8L429.8,317.3L423.6,311.2Z" fill="#fce900"/><path d="M429.8,317.3L436.1,324.1L440.4,321.0L434.2,314.3Z" fill="#9cfb13"/><path d="M440.4,321.0L446.6,328.2L450.8,325.3L444.7,318.2Z" fill="#34fa28"/><path d="M359.0,324.3L365.2,327.0L370.1,320.5L363.9,317.7Z" fill="#fcde00"/><path d="M370.1,320.5L376.3,323.9L381.2,318.1L374.9,314.6Z" fill="#fdad00"/><path d="M403.5,317.1L409.9,322.6L414.5,318.4L408.2,312.8Z" fill="#fdbc00"/><path d="M414.5,318.4L420.8,324.6L425.4,320.8L419.1,314.6Z" fill="#fcf400"/><path d="M381.2,318.1L387.5,322.2L392.4,316.9L386.0,312.7Z" fill="#fd9700"/><path d="M392.4,316.9L398.7,321.8L403.5,317.1L397.1,312.2Z" fill="#fd9d00"/><path d="M425.4,320.8L431.7,327.6L436.1,324.1L429.8,317.3Z" fill="#97fb14"/><path d="M436.1,324.1L442.3,331.4L446.6,328.2L440.4,321.0Z" fill="#34fa28"/><path d="M365.2,327.0L371.4,330.3L376.3,323.9L370.1,320.5Z" fill="#fceb00"/><path d="M376.3,323.9L382.7,327.9L387.5,322.2L381.2,318.1Z" fill="#fdc900"/><path d="M398.7,321.8L405.1,327.3L409.9,322.6L403.5,317.1Z" fill="#fcd800"/><path d="M409.9,322.6L416.2,328.8L420.8,324.6L414.5,318.4Z" fill="#edfc03"/><path d="M420.8,324.6L427.2,331.4L431.7,327.6L425.4,320.8Z" fill="#88fb17"/><path d="M387.5,322.2L393.9,327.0L398.7,321.8L392.4,316.9Z" fill="#fdc300"/><path d="M431.7,327.6L437.9,335.0L442.3,331.4L436.1,324.1Z" fill="#33fa28"/><path d="M393.9,327.0L400.4,332.4L405.1,327.3L398.7,321.8Z" fill="#fbfc00"/><path d="M371.4,330.3L377.8,334.2L382.7,327.9L376.3,323.9Z" fill="#effc03"/><path d="M382.7,327.9L389.1,332.6L393.9,327.0L387.5,322.2Z" fill="#fcf300"/><path d="M405.1,327.3L411.6,333.4L416.2,328.8L409.9,322.6Z" fill="#c7fc0b"/><path d="M416.2,328.8L422.6,335.6L427.2,331.4L420.8,324.6Z" fill="#6efb1c"/><path d="M427.2,331.4L433.5,338.8L437.9,335.0L431.7,327.6Z" fill="#31fa28"/><path d="M389.1,332.6L395.5,337.9L400.4,332.4L393.9,327.0Z" fill="#bbfb0d"/><path d="M400.4,332.4L406.8,338.4L411.6,333.4L405.1,327.3Z" fill="#96fb14"/><path d="M377.8,334.2L384.2,338.7L389.1,332.6L382.7,327.9Z" fill="#b8fb0e"/><path d="M411.6,333.4L418.0,340.1L422.6,335.6L416.2,328.8Z" fill="#4bfb23"/><path d="M422.6,335.6L429.0,343.0L433.5,338.8L427.2,331.4Z" fill="#2dfa29"/><path d="M384.2,338.7L390.7,343.9L395.5,337.9L389.1,332.6Z" fill="#6efb1c"/><path d="M395.5,337.9L402.0,343.8L406.8,338.4L400.4,332.4Z" fill="#59fb20"/><path d="M406.8,338.4L413.3,345.1L418.0,340.1L411.6,333.4Z" fill="#38fa27"/><path d="M418.0,340.1L424.4,347.5L429.0,343.0L422.6,335.6Z" fill="#28fa2a"/><path d="M390.7,343.9L397.2,349.6L402.0,343.8L395.5,337.9Z" fill="#36fa27"/><path d="M402.0,343.8L408.5,350.3L413.3,345.1L406.8,338.4Z" fill="#2ffa29"/><path d="M413.3,345.1L419.7,352.3L424.4,347.5L418.0,340.1Z" fill="#22fa2b"/><path d="M397.2,349.6L403.7,356.0L408.5,350.3L402.0,343.8Z" fill="#24fa2b"/><path d="M408.5,350.3L415.0,357.5L419.7,352.3L413.3,345.1Z" fill="#1afa2d"/><path d="M403.7,356.0L410.2,362.9L415.0,357.5L408.5,350.3Z" fill="#10fa2f"/></g>
<circle cx="303.8" cy="329.0" r="1.4" fill="#c00000" stroke="#700" stroke-width="0.4"/>
<circle cx="410.3" cy="363.3" r="1.4" fill="#f0a0a0" stroke="#700" stroke-width="0.4"/>
<circle cx="484.5" cy="312.0" r="1.4" fill="#f0a0a0" stroke="#700" stroke-width="0.4"/>
<text x="305.6" y="378.1" text-anchor="end" font-size="6.2" fill="#222">40</text>
<text x="330.5" y="390.0" text-anchor="end" font-size="6.2" fill="#222">45</text>
<text x="355.4" y="401.9" text-anchor="end" font-size="6.2" fill="#222">50</text>
<text x="380.3" y="413.8" text-anchor="end" font-size="6.2" fill="#222">55</text>
<text x="405.2" y="425.7" text-anchor="end" font-size="6.2" fill="#222">60</text>
<text x="412.2" y="425.7" text-anchor="start" font-size="6.2" fill="#222">1</text>
<text x="426.3" y="413.5" text-anchor="start" font-size="6.2" fill="#222">1.2</text>
<text x="440.3" y="401.3" text-anchor="start" font-size="6.2" fill="#222">1.4</text>
<text x="454.4" y="389.1" text-anchor="start" font-size="6.2" fill="#222">1.6</text>
<text x="468.4" y="376.9" text-anchor="start" font-size="6.2" fill="#222">1.8</text>
<text x="482.5" y="364.7" text-anchor="start" font-size="6.2" fill="#222">2</text>
<text x="302.7" y="348.7" text-anchor="end" font-size="6.2" fill="#222">0.2</text>
<text x="301.1" y="334.6" text-anchor="end" font-size="6.2" fill="#222">0.25</text>
<text x="299.4" y="320.6" text-anchor="end" font-size="6.2" fill="#222">0.3</text>
<text x="297.8" y="306.5" text-anchor="end" font-size="6.2" fill="#222">0.35</text>
<text x="296.2" y="292.5" text-anchor="end" font-size="6.2" fill="#222">0.4</text>
<text x="294.6" y="278.4" text-anchor="end" font-size="6.2" fill="#222">0.45</text>
<text x="270.0" y="239.0" font-size="11.5" font-weight="bold" fill="#000">(E)</text>
<text x="0.0" y="0.0" font-size="7.5" transform="translate(274,329) rotate(-90)" text-anchor="middle" fill="#111">PDI</text>
<text x="290.6" y="422.0" font-size="8.75"  fill="#1a1a1a">A: Conc of GMS (mg)</text>
<text x="421.5" y="408.5" font-size="8.45"  fill="#1a1a1a">C: Conc of Poloxamer 407<tspan font-size="7.5" dy="0.3">(%)</tspan></text></g>
<g id="pF"><polygon points="566.3,376.5 668.6,420.9 738.7,360.8 643.4,326.3" fill="#ffff00"/>
<path d="M566.3,376.5L557.0,283.9M581.7,366.5L574.0,275.0M597.1,356.4L591.1,266.1M612.6,346.4L608.1,257.3M628.0,336.3L625.2,248.4M643.4,326.3L642.2,239.5M667.2,334.9L668.9,247.6M691.0,343.6L695.5,255.8M714.9,352.2L722.2,263.9M738.7,360.8L748.9,272.0M566.3,376.5L643.4,326.3M643.4,326.3L738.7,360.8M564.0,353.8L643.1,305.0M643.1,305.0L741.2,339.0M562.6,339.8L642.9,291.9M642.9,291.9L742.7,325.6M561.2,325.8L642.7,278.8M642.7,278.8L744.3,312.2M559.8,311.9L642.6,265.7M642.6,265.7L745.8,298.8M558.4,297.9L642.4,252.6M642.4,252.6L747.4,285.4M557.0,283.9L642.2,239.5M642.2,239.5L748.9,272.0" stroke="#3a3a3a" stroke-width="0.7" fill="none"/>
<path d="M566.3,376.5L668.6,420.9L738.7,360.8M566.3,376.5L565.2,377.2M591.9,387.6L590.8,388.3M617.5,398.7L616.4,399.4M643.0,409.8L641.9,410.5M668.6,420.9L667.5,421.6M668.6,420.9L669.8,421.3M682.6,408.9L683.8,409.3M696.6,396.9L697.9,397.3M710.7,384.8L711.9,385.3M724.7,372.8L725.9,373.3M738.7,360.8L739.9,361.2M564.0,353.8L561.8,353.1M562.6,339.8L560.4,339.1M561.2,325.8L559.0,325.1M559.8,311.9L557.6,311.2M558.4,297.9L556.2,297.2M557.0,283.9L554.8,283.2" stroke="#222" stroke-width="0.7" fill="none"/>
<clipPath id="cfF"><polygon points="566.3,376.5 668.6,420.9 738.7,360.8 643.4,326.3"/></clipPath>
<ellipse cx="643" cy="371.5" rx="33.8" ry="22.3" fill="none" stroke="#f39a00" stroke-width="0.9" clip-path="url(#cfF)"/>
<ellipse cx="643" cy="371.5" rx="60" ry="37.6" fill="none" stroke="#e4f200" stroke-width="0.7" clip-path="url(#cfF)"/>
<ellipse cx="643" cy="371.5" rx="77.7" ry="43" fill="none" stroke="#50f030" stroke-width="0.9" clip-path="url(#cfF)"/>
<g stroke="#101010" stroke-width="0.33" stroke-linejoin="round"><path d="M638.9,285.7L644.1,283.1L648.1,284.6L642.9,286.8Z" fill="#00f849"/><path d="M634.8,285.0L640.0,282.0L644.1,283.1L638.9,285.7Z" fill="#00f93c"/><path d="M644.1,283.1L649.4,281.1L653.4,283.0L648.1,284.6Z" fill="#00f93a"/><path d="M630.6,284.6L635.8,281.3L640.0,282.0L634.8,285.0Z" fill="#03fa31"/><path d="M640.0,282.0L645.3,279.7L649.4,281.1L644.1,283.1Z" fill="#09fa30"/><path d="M649.4,281.1L654.8,279.7L658.7,281.9L653.4,283.0Z" fill="#07fa31"/><path d="M654.8,279.7L660.3,278.9L664.2,281.4L658.7,281.9Z" fill="#15fa2e"/><path d="M626.3,284.6L631.6,281.0L635.8,281.3L630.6,284.6Z" fill="#12fa2e"/><path d="M635.8,281.3L641.2,278.7L645.3,279.7L640.0,282.0Z" fill="#1bfa2d"/><path d="M645.3,279.7L650.7,278.0L654.8,279.7L649.4,281.1Z" fill="#1cfa2c"/><path d="M622.0,285.0L627.2,281.2L631.6,281.0L626.3,284.6Z" fill="#1efa2c"/><path d="M650.7,278.0L656.3,276.9L660.3,278.9L654.8,279.7Z" fill="#2cfa29"/><path d="M660.3,278.9L665.8,278.7L669.7,281.4L664.2,281.4Z" fill="#20fa2c"/><path d="M631.6,281.0L636.9,278.1L641.2,278.7L635.8,281.3Z" fill="#2bfa29"/><path d="M641.2,278.7L646.6,276.7L650.7,278.0L645.3,279.7Z" fill="#30fa29"/><path d="M617.6,285.7L622.8,281.7L627.2,281.2L622.0,285.0Z" fill="#28fa2a"/><path d="M627.2,281.2L632.6,278.0L636.9,278.1L631.6,281.0Z" fill="#39fa27"/><path d="M646.6,276.7L652.1,275.4L656.3,276.9L650.7,278.0Z" fill="#54fb21"/><path d="M656.3,276.9L661.8,276.5L665.8,278.7L660.3,278.9Z" fill="#39fa27"/><path d="M665.8,278.7L671.4,279.1L675.2,282.0L669.7,281.4Z" fill="#28fa2a"/><path d="M636.9,278.1L642.4,275.9L646.6,276.7L641.2,278.7Z" fill="#54fb21"/><path d="M632.6,278.0L638.1,275.6L642.4,275.9L636.9,278.1Z" fill="#a4fb11"/><path d="M671.4,279.1L677.0,280.1L680.8,283.2L675.2,282.0Z" fill="#2efa29"/><path d="M613.1,286.9L618.3,282.7L622.8,281.7L617.6,285.7Z" fill="#31fa28"/><path d="M622.8,281.7L628.2,278.4L632.6,278.0L627.2,281.2Z" fill="#65fb1e"/><path d="M642.4,275.9L647.9,274.4L652.1,275.4L646.6,276.7Z" fill="#b8fb0e"/><path d="M652.1,275.4L657.8,274.7L661.8,276.5L656.3,276.9Z" fill="#9ffb13"/><path d="M661.8,276.5L667.5,276.7L671.4,279.1L665.8,278.7Z" fill="#5afb20"/><path d="M628.2,278.4L633.7,275.7L638.1,275.6L632.6,278.0Z" fill="#e7fc04"/><path d="M638.1,275.6L643.7,273.8L647.9,274.4L642.4,275.9Z" fill="#fcf200"/><path d="M667.5,276.7L673.2,277.6L677.0,280.1L671.4,279.1Z" fill="#7bfb1a"/><path d="M677.0,280.1L682.7,281.8L686.4,284.9L680.8,283.2Z" fill="#30fa29"/><path d="M608.6,288.4L613.8,284.1L618.3,282.7L613.1,286.9Z" fill="#37fa27"/><path d="M618.3,282.7L623.7,279.2L628.2,278.4L622.8,281.7Z" fill="#97fb14"/><path d="M647.9,274.4L653.6,273.5L657.8,274.7L652.1,275.4Z" fill="#fcf500"/><path d="M657.8,274.7L663.5,274.8L667.5,276.7L661.8,276.5Z" fill="#d6fc07"/><path d="M604.0,290.4L609.2,286.0L613.8,284.1L608.6,288.4Z" fill="#3bfa26"/><path d="M633.7,275.7L639.3,273.9L643.7,273.8L638.1,275.6Z" fill="#fdc800"/><path d="M643.7,273.8L649.3,272.9L653.6,273.5L647.9,274.4Z" fill="#fdc000"/><path d="M663.5,274.8L669.2,275.6L673.2,277.6L667.5,276.7Z" fill="#fbfc00"/><path d="M673.2,277.6L678.9,279.2L682.7,281.8L677.0,280.1Z" fill="#8afb17"/><path d="M682.7,281.8L688.4,284.1L692.0,287.3L686.4,284.9Z" fill="#2ffa29"/><path d="M613.8,284.1L619.2,280.5L623.7,279.2L618.3,282.7Z" fill="#bdfb0d"/><path d="M623.7,279.2L629.2,276.4L633.7,275.7L628.2,278.4Z" fill="#fce800"/><path d="M653.6,273.5L659.3,273.4L663.5,274.8L657.8,274.7Z" fill="#fdd200"/><path d="M609.2,286.0L614.6,282.3L619.2,280.5L613.8,284.1Z" fill="#d6fc08"/><path d="M599.4,292.8L604.6,288.4L609.2,286.0L604.0,290.4Z" fill="#42fb25"/><path d="M629.2,276.4L634.8,274.4L639.3,273.9L633.7,275.7Z" fill="#fda600"/><path d="M639.3,273.9L645.0,272.7L649.3,272.9L643.7,273.8Z" fill="#fd9400"/><path d="M649.3,272.9L655.1,272.6L659.3,273.4L653.6,273.5Z" fill="#fd9a00"/><path d="M659.3,273.4L665.1,274.1L669.2,275.6L663.5,274.8Z" fill="#fdba00"/><path d="M669.2,275.6L675.0,277.1L678.9,279.2L673.2,277.6Z" fill="#fcf200"/><path d="M678.9,279.2L684.7,281.4L688.4,284.1L682.7,281.8Z" fill="#87fb17"/><path d="M688.4,284.1L694.1,287.1L697.7,290.2L692.0,287.3Z" fill="#2bfa2a"/><path d="M619.2,280.5L624.7,277.6L629.2,276.4L623.7,279.2Z" fill="#fdd000"/><path d="M655.1,272.6L660.9,273.2L665.1,274.1L659.3,273.4Z" fill="#fe8000"/><path d="M694.1,287.1L699.8,290.7L703.3,293.8L697.7,290.2Z" fill="#24fa2b"/><path d="M604.6,288.4L609.9,284.7L614.6,282.3L609.2,286.0Z" fill="#e3fc05"/><path d="M614.6,282.3L620.1,279.4L624.7,277.6L619.2,280.5Z" fill="#fdc000"/><path d="M594.7,295.6L599.9,291.2L604.6,288.4L599.4,292.8Z" fill="#42fb25"/><path d="M624.7,277.6L630.3,275.5L634.8,274.4L629.2,276.4Z" fill="#fd8c00"/><path d="M634.8,274.4L640.5,273.2L645.0,272.7L639.3,273.9Z" fill="#fe6f00"/><path d="M645.0,272.7L650.8,272.4L655.1,272.6L649.3,272.9Z" fill="#fe6b00"/><path d="M665.1,274.1L671.0,275.5L675.0,277.1L669.2,275.6Z" fill="#fdad00"/><path d="M675.0,277.1L680.8,279.3L684.7,281.4L678.9,279.2Z" fill="#fcf200"/><path d="M684.7,281.4L690.4,284.4L694.1,287.1L688.4,284.1Z" fill="#72fb1b"/><path d="M620.1,279.4L625.7,277.2L630.3,275.5L624.7,277.6Z" fill="#fe7b00"/><path d="M650.8,272.4L656.6,272.9L660.9,273.2L655.1,272.6Z" fill="#fe5000"/><path d="M660.9,273.2L666.8,274.6L671.0,275.5L665.1,274.1Z" fill="#fe7200"/><path d="M690.4,284.4L696.2,288.1L699.8,290.7L694.1,287.1Z" fill="#4bfb23"/><path d="M699.8,290.7L705.5,294.9L708.9,297.9L703.3,293.8Z" fill="#1afa2d"/><path d="M599.9,291.2L605.2,287.5L609.9,284.7L604.6,288.4Z" fill="#e4fc05"/><path d="M609.9,284.7L615.4,281.7L620.1,279.4L614.6,282.3Z" fill="#fdb800"/><path d="M590.0,298.8L595.2,294.5L599.9,291.2L594.7,295.6Z" fill="#3cfa26"/><path d="M630.3,275.5L636.0,274.2L640.5,273.2L634.8,274.4Z" fill="#fe5400"/><path d="M640.5,273.2L646.4,272.8L650.8,272.4L645.0,272.7Z" fill="#fe4500"/><path d="M671.0,275.5L676.8,277.7L680.8,279.3L675.0,277.1Z" fill="#fdad00"/><path d="M680.8,279.3L686.6,282.3L690.4,284.4L684.7,281.4Z" fill="#f9fc01"/><path d="M585.3,302.5L590.4,298.3L595.2,294.5L590.0,298.8Z" fill="#38fa27"/><path d="M615.4,281.7L621.0,279.5L625.7,277.2L620.1,279.4Z" fill="#fe7200"/><path d="M625.7,277.2L631.4,275.9L636.0,274.2L630.3,275.5Z" fill="#fe4100"/><path d="M646.4,272.8L652.3,273.2L656.6,272.9L650.8,272.4Z" fill="#ff2800"/><path d="M656.6,272.9L662.6,274.2L666.8,274.6L660.9,273.2Z" fill="#fe4000"/><path d="M666.8,274.6L672.7,276.7L676.8,277.7L671.0,275.5Z" fill="#fe7100"/><path d="M686.6,282.3L692.5,286.0L696.2,288.1L690.4,284.4Z" fill="#d2fc08"/><path d="M696.2,288.1L701.9,292.4L705.5,294.9L699.8,290.7Z" fill="#35fa28"/><path d="M705.5,294.9L711.2,299.8L714.5,302.6L708.9,297.9Z" fill="#0cfa30"/><path d="M595.2,294.5L600.5,290.9L605.2,287.5L599.9,291.2Z" fill="#d8fc07"/><path d="M605.2,287.5L610.7,284.6L615.4,281.7L609.9,284.7Z" fill="#fdb700"/><path d="M636.0,274.2L641.9,273.8L646.4,272.8L640.5,273.2Z" fill="#ff2900"/><path d="M676.8,277.7L682.7,280.7L686.6,282.3L680.8,279.3Z" fill="#fdb800"/><path d="M590.4,298.3L595.7,294.8L600.5,290.9L595.2,294.5Z" fill="#c1fc0c"/><path d="M580.5,306.5L585.6,302.6L590.4,298.3L585.3,302.5Z" fill="#32fa28"/><path d="M610.7,284.6L616.3,282.4L621.0,279.5L615.4,281.7Z" fill="#fe7100"/><path d="M621.0,279.5L626.8,278.2L631.4,275.9L625.7,277.2Z" fill="#fe3800"/><path d="M631.4,275.9L637.3,275.4L641.9,273.8L636.0,274.2Z" fill="#ff2300"/><path d="M641.9,273.8L647.8,274.1L652.3,273.2L646.4,272.8Z" fill="#ff2100"/><path d="M652.3,273.2L658.2,274.5L662.6,274.2L656.6,272.9Z" fill="#ff2400"/><path d="M662.6,274.2L668.5,276.3L672.7,276.7L666.8,274.6Z" fill="#fe3d00"/><path d="M672.7,276.7L678.7,279.7L682.7,280.7L676.8,277.7Z" fill="#fe7b00"/><path d="M682.7,280.7L688.6,284.5L692.5,286.0L686.6,282.3Z" fill="#fdce00"/><path d="M692.5,286.0L698.3,290.4L701.9,292.4L696.2,288.1Z" fill="#99fb14"/><path d="M701.9,292.4L707.7,297.4L711.2,299.8L705.5,294.9Z" fill="#27fa2a"/><path d="M711.2,299.8L716.8,305.3L720.1,307.9L714.5,302.6Z" fill="#00fa35"/><path d="M600.5,290.9L606.0,288.0L610.7,284.6L605.2,287.5Z" fill="#fdbf00"/><path d="M637.3,275.4L643.2,275.7L647.8,274.1L641.9,273.8Z" fill="#ff1d00"/><path d="M678.7,279.7L684.6,283.5L688.6,284.5L682.7,280.7Z" fill="#fd9200"/><path d="M716.8,305.3L722.3,311.4L725.6,313.8L720.1,307.9Z" fill="#00f943"/><path d="M585.6,302.6L590.9,299.2L595.7,294.8L590.4,298.3Z" fill="#9dfb13"/><path d="M595.7,294.8L601.2,292.0L606.0,288.0L600.5,290.9Z" fill="#fdce00"/><path d="M575.7,311.1L580.8,307.3L585.6,302.6L580.5,306.5Z" fill="#2afa2a"/><path d="M606.0,288.0L611.6,285.9L616.3,282.4L610.7,284.6Z" fill="#fe7900"/><path d="M616.3,282.4L622.1,281.0L626.8,278.2L621.0,279.5Z" fill="#fe3700"/><path d="M626.8,278.2L632.7,277.6L637.3,275.4L631.4,275.9Z" fill="#ff2100"/><path d="M647.8,274.1L653.8,275.3L658.2,274.5L652.3,273.2Z" fill="#ff1e00"/><path d="M658.2,274.5L664.2,276.6L668.5,276.3L662.6,274.2Z" fill="#ff2300"/><path d="M668.5,276.3L674.5,279.3L678.7,279.7L672.7,276.7Z" fill="#fe4700"/><path d="M688.6,284.5L694.5,289.0L698.3,290.4L692.5,286.0Z" fill="#fcf100"/><path d="M698.3,290.4L704.1,295.6L707.7,297.4L701.9,292.4Z" fill="#4cfb23"/><path d="M707.7,297.4L713.3,303.1L716.8,305.3L711.2,299.8Z" fill="#16fa2e"/><path d="M601.2,292.0L606.8,290.0L611.6,285.9L606.0,288.0Z" fill="#fd8900"/><path d="M632.7,277.6L638.6,277.9L643.2,275.7L637.3,275.4Z" fill="#ff1b00"/><path d="M643.2,275.7L649.3,276.9L653.8,275.3L647.8,274.1Z" fill="#ff1a00"/><path d="M674.5,279.3L680.5,283.1L684.6,283.5L678.7,279.7Z" fill="#fe5e00"/><path d="M684.6,283.5L690.6,288.1L694.5,289.0L688.6,284.5Z" fill="#fdb400"/><path d="M713.3,303.1L719.0,309.5L722.3,311.4L716.8,305.3Z" fill="#02fa32"/><path d="M722.3,311.4L727.8,318.1L731.0,320.2L725.6,313.8Z" fill="#00f853"/><path d="M570.9,316.0L576.0,312.6L580.8,307.3L575.7,311.1Z" fill="#20fa2c"/><path d="M590.9,299.2L596.4,296.6L601.2,292.0L595.7,294.8Z" fill="#fce500"/><path d="M580.8,307.3L586.1,304.2L590.9,299.2L585.6,302.6Z" fill="#6dfb1c"/><path d="M611.6,285.9L617.3,284.6L622.1,281.0L616.3,282.4Z" fill="#fe3f00"/><path d="M622.1,281.0L628.0,280.5L632.7,277.6L626.8,278.2Z" fill="#ff2100"/><path d="M653.8,275.3L659.8,277.4L664.2,276.6L658.2,274.5Z" fill="#ff1d00"/><path d="M664.2,276.6L670.3,279.5L674.5,279.3L668.5,276.3Z" fill="#ff2500"/><path d="M694.5,289.0L700.3,294.2L704.1,295.6L698.3,290.4Z" fill="#c1fc0c"/><path d="M704.1,295.6L709.8,301.5L713.3,303.1L707.7,297.4Z" fill="#2efa29"/><path d="M596.4,296.6L602.0,294.7L606.8,290.0L601.2,292.0Z" fill="#fda100"/><path d="M606.8,290.0L612.5,288.7L617.3,284.6L611.6,285.9Z" fill="#fe4f00"/><path d="M628.0,280.5L633.9,280.8L638.6,277.9L632.7,277.6Z" fill="#ff1b00"/><path d="M638.6,277.9L644.7,279.1L649.3,276.9L643.2,275.7Z" fill="#ff1700"/><path d="M649.3,276.9L655.3,278.9L659.8,277.4L653.8,275.3Z" fill="#ff1800"/><path d="M670.3,279.5L676.3,283.3L680.5,283.1L674.5,279.3Z" fill="#fe3300"/><path d="M680.5,283.1L686.5,287.7L690.6,288.1L684.6,283.5Z" fill="#fe8000"/><path d="M690.6,288.1L696.5,293.4L700.3,294.2L694.5,289.0Z" fill="#fce200"/><path d="M709.8,301.5L715.5,308.0L719.0,309.5L713.3,303.1Z" fill="#19fa2d"/><path d="M719.0,309.5L724.5,316.5L727.8,318.1L722.3,311.4Z" fill="#00f941"/><path d="M727.8,318.1L733.3,325.4L736.4,327.1L731.0,320.2Z" fill="#00f577"/><path d="M576.0,312.6L581.3,309.7L586.1,304.2L580.8,307.3Z" fill="#3afa26"/><path d="M566.1,321.4L571.2,318.3L576.0,312.6L570.9,316.0Z" fill="#14fa2e"/><path d="M586.1,304.2L591.5,301.7L596.4,296.6L590.9,299.2Z" fill="#f0fc02"/><path d="M617.3,284.6L623.2,284.0L628.0,280.5L622.1,281.0Z" fill="#ff2300"/><path d="M659.8,277.4L665.9,280.4L670.3,279.5L664.2,276.6Z" fill="#ff1f00"/><path d="M700.3,294.2L706.1,300.3L709.8,301.5L704.1,295.6Z" fill="#60fb1f"/><path d="M561.3,327.3L566.4,324.5L571.2,318.3L566.1,321.4Z" fill="#06fa31"/><path d="M571.2,318.3L576.4,315.7L581.3,309.7L576.0,312.6Z" fill="#2dfa29"/><path d="M581.3,309.7L586.7,307.5L591.5,301.7L586.1,304.2Z" fill="#aefb0f"/><path d="M591.5,301.7L597.1,300.0L602.0,294.7L596.4,296.6Z" fill="#fdc100"/><path d="M602.0,294.7L607.7,293.5L612.5,288.7L606.8,290.0Z" fill="#fe6900"/><path d="M612.5,288.7L618.4,288.2L623.2,284.0L617.3,284.6Z" fill="#ff2600"/><path d="M623.2,284.0L629.2,284.3L633.9,280.8L628.0,280.5Z" fill="#ff1c00"/><path d="M633.9,280.8L640.0,281.9L644.7,279.1L638.6,277.9Z" fill="#ff1700"/><path d="M644.7,279.1L650.8,281.1L655.3,278.9L649.3,276.9Z" fill="#ff1600"/><path d="M655.3,278.9L661.5,281.9L665.9,280.4L659.8,277.4Z" fill="#ff1a00"/><path d="M665.9,280.4L672.0,284.2L676.3,283.3L670.3,279.5Z" fill="#ff2300"/><path d="M676.3,283.3L682.4,288.0L686.5,287.7L680.5,283.1Z" fill="#fe5600"/><path d="M686.5,287.7L692.5,293.2L696.5,293.4L690.6,288.1Z" fill="#fdaf00"/><path d="M696.5,293.4L702.3,299.6L706.1,300.3L700.3,294.2Z" fill="#c4fc0b"/><path d="M706.1,300.3L711.9,307.0L715.5,308.0L709.8,301.5Z" fill="#2efa29"/><path d="M715.5,308.0L721.1,315.3L724.5,316.5L719.0,309.5Z" fill="#01fa32"/><path d="M724.5,316.5L730.0,324.1L733.3,325.4L727.8,318.1Z" fill="#00f755"/><path d="M733.3,325.4L738.6,333.3L741.7,334.6L736.4,327.1Z" fill="#00f1ac"/><path d="M618.4,288.2L624.4,288.6L629.2,284.3L623.2,284.0Z" fill="#ff2000"/><path d="M661.5,281.9L667.6,285.7L672.0,284.2L665.9,280.4Z" fill="#ff1e00"/><path d="M702.3,299.6L708.2,306.5L711.9,307.0L706.1,300.3Z" fill="#4dfb23"/><path d="M586.7,307.5L592.3,305.9L597.1,300.0L591.5,301.7Z" fill="#fcea00"/><path d="M566.4,324.5L571.6,322.3L576.4,315.7L571.2,318.3Z" fill="#1efa2c"/><path d="M576.4,315.7L581.9,313.8L586.7,307.5L581.3,309.7Z" fill="#60fb1f"/><path d="M597.1,300.0L602.9,299.0L607.7,293.5L602.0,294.7Z" fill="#fd8b00"/><path d="M607.7,293.5L613.6,293.1L618.4,288.2L612.5,288.7Z" fill="#fe3c00"/><path d="M629.2,284.3L635.3,285.5L640.0,281.9L633.9,280.8Z" fill="#ff1800"/><path d="M640.0,281.9L646.1,284.0L650.8,281.1L644.7,279.1Z" fill="#ff1500"/><path d="M650.8,281.1L656.9,284.0L661.5,281.9L655.3,278.9Z" fill="#ff1700"/><path d="M672.0,284.2L678.1,288.9L682.4,288.0L676.3,283.3Z" fill="#fe3400"/><path d="M682.4,288.0L688.4,293.5L692.5,293.2L686.5,287.7Z" fill="#fd8500"/><path d="M692.5,293.2L698.4,299.4L702.3,299.6L696.5,293.4Z" fill="#fcea00"/><path d="M711.9,307.0L717.6,314.5L721.1,315.3L715.5,308.0Z" fill="#15fa2e"/><path d="M721.1,315.3L726.7,323.2L730.0,324.1L724.5,316.5Z" fill="#00f946"/><path d="M730.0,324.1L735.4,332.3L738.6,333.3L733.3,325.4Z" fill="#00f483"/><path d="M613.6,293.1L619.6,293.5L624.4,288.6L618.4,288.2Z" fill="#ff2500"/><path d="M624.4,288.6L630.5,289.8L635.3,285.5L629.2,284.3Z" fill="#ff1c00"/><path d="M656.9,284.0L663.1,287.8L667.6,285.7L661.5,281.9Z" fill="#ff1b00"/><path d="M667.6,285.7L673.8,290.4L678.1,288.9L672.0,284.2Z" fill="#ff2500"/><path d="M698.4,299.4L704.3,306.5L708.2,306.5L702.3,299.6Z" fill="#a1fb12"/><path d="M708.2,306.5L713.9,314.2L717.6,314.5L711.9,307.0Z" fill="#26fa2a"/><path d="M581.9,313.8L587.4,312.4L592.3,305.9L586.7,307.5Z" fill="#c7fc0b"/><path d="M592.3,305.9L598.0,305.0L602.9,299.0L597.1,300.0Z" fill="#fdb600"/><path d="M571.6,322.3L577.0,320.7L581.9,313.8L576.4,315.7Z" fill="#32fa28"/><path d="M602.9,299.0L608.7,298.7L613.6,293.1L607.7,293.5Z" fill="#fe6000"/><path d="M635.3,285.5L641.4,287.5L646.1,284.0L640.0,281.9Z" fill="#ff1700"/><path d="M646.1,284.0L652.3,286.9L656.9,284.0L650.8,281.1Z" fill="#ff1700"/><path d="M678.1,288.9L684.2,294.4L688.4,293.5L682.4,288.0Z" fill="#fe6300"/><path d="M688.4,293.5L694.4,299.8L698.4,299.4L692.5,293.2Z" fill="#fdc000"/><path d="M717.6,314.5L723.2,322.7L726.7,323.2L721.1,315.3Z" fill="#00fa38"/><path d="M726.7,323.2L732.1,331.7L735.4,332.3L730.0,324.1Z" fill="#00f75e"/><path d="M577.0,320.7L582.6,319.6L587.4,312.4L581.9,313.8Z" fill="#66fb1e"/><path d="M608.7,298.7L614.7,299.1L619.6,293.5L613.6,293.1Z" fill="#fe4000"/><path d="M619.6,293.5L625.7,294.7L630.5,289.8L624.4,288.6Z" fill="#ff2100"/><path d="M630.5,289.8L636.7,291.8L641.4,287.5L635.3,285.5Z" fill="#ff1a00"/><path d="M652.3,286.9L658.5,290.6L663.1,287.8L656.9,284.0Z" fill="#ff1a00"/><path d="M663.1,287.8L669.3,292.5L673.8,290.4L667.6,285.7Z" fill="#ff2200"/><path d="M673.8,290.4L679.9,295.9L684.2,294.4L678.1,288.9Z" fill="#fe4b00"/><path d="M694.4,299.8L700.4,307.0L704.3,306.5L698.4,299.4Z" fill="#e7fc04"/><path d="M704.3,306.5L710.1,314.3L713.9,314.2L708.2,306.5Z" fill="#35fa27"/><path d="M713.9,314.2L719.6,322.5L723.2,322.7L717.6,314.5Z" fill="#09fa30"/><path d="M587.4,312.4L593.2,311.8L598.0,305.0L592.3,305.9Z" fill="#fce900"/><path d="M598.0,305.0L603.9,304.9L608.7,298.7L602.9,299.0Z" fill="#fd8c00"/><path d="M641.4,287.5L647.6,290.4L652.3,286.9L646.1,284.0Z" fill="#ff1800"/><path d="M684.2,294.4L690.3,300.8L694.4,299.8L688.4,293.5Z" fill="#fd9f00"/><path d="M723.2,322.7L728.7,331.5L732.1,331.7L726.7,323.2Z" fill="#00f84f"/><path d="M603.9,304.9L609.8,305.4L614.7,299.1L608.7,298.7Z" fill="#fe6d00"/><path d="M582.6,319.6L588.3,319.1L593.2,311.8L587.4,312.4Z" fill="#b6fb0e"/><path d="M614.7,299.1L620.8,300.4L625.7,294.7L619.6,293.5Z" fill="#ff2c00"/><path d="M625.7,294.7L631.8,296.7L636.7,291.8L630.5,289.8Z" fill="#ff1f00"/><path d="M636.7,291.8L642.9,294.6L647.6,290.4L641.4,287.5Z" fill="#ff1b00"/><path d="M647.6,290.4L653.9,294.1L658.5,290.6L652.3,286.9Z" fill="#ff1c00"/><path d="M658.5,290.6L664.8,295.3L669.3,292.5L663.1,287.8Z" fill="#ff2100"/><path d="M669.3,292.5L675.5,298.0L679.9,295.9L673.8,290.4Z" fill="#fe3b00"/><path d="M679.9,295.9L686.0,302.3L690.3,300.8L684.2,294.4Z" fill="#fd8600"/><path d="M690.3,300.8L696.3,308.0L700.4,307.0L694.4,299.8Z" fill="#fce700"/><path d="M700.4,307.0L706.2,314.9L710.1,314.3L704.3,306.5Z" fill="#58fb20"/><path d="M710.1,314.3L715.8,322.8L719.6,322.5L713.9,314.2Z" fill="#17fa2d"/><path d="M719.6,322.5L725.1,331.6L728.7,331.5L723.2,322.7Z" fill="#00f944"/><path d="M593.2,311.8L599.0,311.7L603.9,304.9L598.0,305.0Z" fill="#fdc100"/><path d="M642.9,294.6L649.2,298.3L653.9,294.1L647.6,290.4Z" fill="#ff1e00"/><path d="M686.0,302.3L692.1,309.6L696.3,308.0L690.3,300.8Z" fill="#fdce00"/><path d="M599.0,311.7L605.0,312.4L609.8,305.4L603.9,304.9Z" fill="#fda400"/><path d="M609.8,305.4L615.9,306.7L620.8,300.4L614.7,299.1Z" fill="#fe5a00"/><path d="M588.3,319.1L594.1,319.2L599.0,311.7L593.2,311.8Z" fill="#f7fc01"/><path d="M620.8,300.4L627.0,302.4L631.8,296.7L625.7,294.7Z" fill="#ff2600"/><path d="M631.8,296.7L638.1,299.5L642.9,294.6L636.7,291.8Z" fill="#ff2000"/><path d="M653.9,294.1L660.2,298.7L664.8,295.3L658.5,290.6Z" fill="#ff2200"/><path d="M664.8,295.3L671.0,300.8L675.5,298.0L669.3,292.5Z" fill="#fe3500"/><path d="M675.5,298.0L681.7,304.4L686.0,302.3L679.9,295.9Z" fill="#fe7600"/><path d="M696.3,308.0L702.2,316.0L706.2,314.9L700.4,307.0Z" fill="#90fb15"/><path d="M706.2,314.9L712.0,323.6L715.8,322.8L710.1,314.3Z" fill="#24fa2b"/><path d="M715.8,322.8L721.5,332.1L725.1,331.6L719.6,322.5Z" fill="#00f939"/><path d="M594.1,319.2L600.1,320.0L605.0,312.4L599.0,311.7Z" fill="#fce300"/><path d="M638.1,299.5L644.4,303.2L649.2,298.3L642.9,294.6Z" fill="#ff2300"/><path d="M649.2,298.3L655.5,302.9L660.2,298.7L653.9,294.1Z" fill="#ff2400"/><path d="M681.7,304.4L687.8,311.7L692.1,309.6L686.0,302.3Z" fill="#fdbd00"/><path d="M692.1,309.6L698.1,317.6L702.2,316.0L696.3,308.0Z" fill="#bbfb0d"/><path d="M605.0,312.4L611.0,313.7L615.9,306.7L609.8,305.4Z" fill="#fd9100"/><path d="M615.9,306.7L622.1,308.7L627.0,302.4L620.8,300.4Z" fill="#fe5100"/><path d="M627.0,302.4L633.3,305.2L638.1,299.5L631.8,296.7Z" fill="#ff2700"/><path d="M660.2,298.7L666.5,304.2L671.0,300.8L664.8,295.3Z" fill="#fe3800"/><path d="M671.0,300.8L677.3,307.2L681.7,304.4L675.5,298.0Z" fill="#fe6f00"/><path d="M702.2,316.0L708.1,324.8L712.0,323.6L706.2,314.9Z" fill="#2efa29"/><path d="M712.0,323.6L717.7,333.0L721.5,332.1L715.8,322.8Z" fill="#02fa32"/><path d="M600.1,320.0L606.2,321.4L611.0,313.7L605.0,312.4Z" fill="#fdd100"/><path d="M633.3,305.2L639.6,308.8L644.4,303.2L638.1,299.5Z" fill="#fe3600"/><path d="M644.4,303.2L650.7,307.7L655.5,302.9L649.2,298.3Z" fill="#ff3100"/><path d="M655.5,302.9L661.8,308.2L666.5,304.2L660.2,298.7Z" fill="#fe4400"/><path d="M677.3,307.2L683.5,314.4L687.8,311.7L681.7,304.4Z" fill="#fdb500"/><path d="M687.8,311.7L693.9,319.7L698.1,317.6L692.1,309.6Z" fill="#d8fc07"/><path d="M698.1,317.6L704.0,326.4L708.1,324.8L702.2,316.0Z" fill="#36fa27"/><path d="M611.0,313.7L617.2,315.8L622.1,308.7L615.9,306.7Z" fill="#fd8800"/><path d="M622.1,308.7L628.4,311.5L633.3,305.2L627.0,302.4Z" fill="#fe5400"/><path d="M666.5,304.2L672.7,310.5L677.3,307.2L671.0,300.8Z" fill="#fe7000"/><path d="M708.1,324.8L713.8,334.3L717.7,333.0L712.0,323.6Z" fill="#0cfa30"/><path d="M628.4,311.5L634.7,315.0L639.6,308.8L633.3,305.2Z" fill="#fe6200"/><path d="M606.2,321.4L612.3,323.5L617.2,315.8L611.0,313.7Z" fill="#fdc800"/><path d="M639.6,308.8L645.9,313.1L650.7,307.7L644.4,303.2Z" fill="#fe5100"/><path d="M650.7,307.7L657.1,312.9L661.8,308.2L655.5,302.9Z" fill="#fe5900"/><path d="M661.8,308.2L668.1,314.4L672.7,310.5L666.5,304.2Z" fill="#fe7b00"/><path d="M672.7,310.5L679.0,317.6L683.5,314.4L677.3,307.2Z" fill="#fdb500"/><path d="M683.5,314.4L689.6,322.4L693.9,319.7L687.8,311.7Z" fill="#e8fc04"/><path d="M693.9,319.7L699.9,328.5L704.0,326.4L698.1,317.6Z" fill="#3bfa26"/><path d="M704.0,326.4L709.9,336.0L713.8,334.3L708.1,324.8Z" fill="#14fa2e"/><path d="M617.2,315.8L623.5,318.5L628.4,311.5L622.1,308.7Z" fill="#fd8a00"/><path d="M668.1,314.4L674.4,321.5L679.0,317.6L672.7,310.5Z" fill="#fdbd00"/><path d="M623.5,318.5L629.8,321.9L634.7,315.0L628.4,311.5Z" fill="#fd9600"/><path d="M634.7,315.0L641.1,319.3L645.9,313.1L639.6,308.8Z" fill="#fe7b00"/><path d="M612.3,323.5L618.6,326.2L623.5,318.5L617.2,315.8Z" fill="#fdc900"/><path d="M645.9,313.1L652.3,318.3L657.1,312.9L650.7,307.7Z" fill="#fe7800"/><path d="M657.1,312.9L663.5,319.0L668.1,314.4L661.8,308.2Z" fill="#fd8e00"/><path d="M679.0,317.6L685.2,325.5L689.6,322.4L683.5,314.4Z" fill="#ebfc03"/><path d="M689.6,322.4L695.7,331.1L699.9,328.5L693.9,319.7Z" fill="#47fb24"/><path d="M699.9,328.5L705.8,338.1L709.9,336.0L704.0,326.4Z" fill="#19fa2d"/><path d="M618.6,326.2L624.9,329.6L629.8,321.9L623.5,318.5Z" fill="#fcd400"/><path d="M629.8,321.9L636.2,326.1L641.1,319.3L634.7,315.0Z" fill="#fdad00"/><path d="M663.5,319.0L669.8,325.9L674.4,321.5L668.1,314.4Z" fill="#fdce00"/><path d="M674.4,321.5L680.7,329.3L685.2,325.5L679.0,317.6Z" fill="#e1fc05"/><path d="M641.1,319.3L647.5,324.3L652.3,318.3L645.9,313.1Z" fill="#fd9f00"/><path d="M652.3,318.3L658.7,324.2L663.5,319.0L657.1,312.9Z" fill="#fda900"/><path d="M685.2,325.5L691.3,334.2L695.7,331.1L689.6,322.4Z" fill="#4efb23"/><path d="M695.7,331.1L701.6,340.7L705.8,338.1L699.9,328.5Z" fill="#1dfa2c"/><path d="M624.9,329.6L631.3,333.6L636.2,326.1L629.8,321.9Z" fill="#fce900"/><path d="M636.2,326.1L642.6,331.0L647.5,324.3L641.1,319.3Z" fill="#fdcf00"/><path d="M658.7,324.2L665.1,330.9L669.8,325.9L663.5,319.0Z" fill="#fce600"/><path d="M669.8,325.9L676.1,333.5L680.7,329.3L674.4,321.5Z" fill="#cafc0a"/><path d="M680.7,329.3L686.9,337.8L691.3,334.2L685.2,325.5Z" fill="#48fb24"/><path d="M647.5,324.3L653.9,330.1L658.7,324.2L652.3,318.3Z" fill="#fdcd00"/><path d="M691.3,334.2L697.4,343.7L701.6,340.7L695.7,331.1Z" fill="#1ffa2c"/><path d="M653.9,330.1L660.3,336.5L665.1,330.9L658.7,324.2Z" fill="#e9fc04"/><path d="M631.3,333.6L637.7,338.2L642.6,331.0L636.2,326.1Z" fill="#e8fc04"/><path d="M642.6,331.0L649.1,336.5L653.9,330.1L647.5,324.3Z" fill="#fcfa00"/><path d="M665.1,330.9L671.5,338.3L676.1,333.5L669.8,325.9Z" fill="#a6fb11"/><path d="M676.1,333.5L682.4,341.9L686.9,337.8L680.7,329.3Z" fill="#3bfa26"/><path d="M686.9,337.8L693.0,347.1L697.4,343.7L691.3,334.2Z" fill="#1ffa2c"/><path d="M649.1,336.5L655.5,342.7L660.3,336.5L653.9,330.1Z" fill="#a3fb12"/><path d="M660.3,336.5L666.8,343.7L671.5,338.3L665.1,330.9Z" fill="#74fb1b"/><path d="M637.7,338.2L644.2,343.6L649.1,336.5L642.6,331.0Z" fill="#a4fb11"/><path d="M671.5,338.3L677.8,346.5L682.4,341.9L676.1,333.5Z" fill="#36fa27"/><path d="M682.4,341.9L688.6,351.0L693.0,347.1L686.9,337.8Z" fill="#1dfa2c"/><path d="M644.2,343.6L650.7,349.5L655.5,342.7L649.1,336.5Z" fill="#4ffb22"/><path d="M655.5,342.7L662.0,349.6L666.8,343.7L660.3,336.5Z" fill="#3bfa26"/><path d="M666.8,343.7L673.1,351.6L677.8,346.5L671.5,338.3Z" fill="#2efa29"/><path d="M677.8,346.5L684.1,355.3L688.6,351.0L682.4,341.9Z" fill="#18fa2d"/><path d="M650.7,349.5L657.1,356.1L662.0,349.6L655.5,342.7Z" fill="#2dfa29"/><path d="M662.0,349.6L668.4,357.2L673.1,351.6L666.8,343.7Z" fill="#24fa2b"/><path d="M673.1,351.6L679.5,360.1L684.1,355.3L677.8,346.5Z" fill="#12fa2e"/><path d="M657.1,356.1L663.6,363.3L668.4,357.2L662.0,349.6Z" fill="#18fa2d"/><path d="M668.4,357.2L674.8,365.3L679.5,360.1L673.1,351.6Z" fill="#0afa30"/><path d="M663.6,363.3L670.1,371.0L674.8,365.3L668.4,357.2Z" fill="#00fa32"/></g>
<circle cx="561.8" cy="327.3" r="1.4" fill="#f0a0a0" stroke="#700" stroke-width="0.4"/>
<circle cx="668.5" cy="371.0" r="1.4" fill="#c00000" stroke="#700" stroke-width="0.4"/>
<circle cx="741.7" cy="334.5" r="1.4" fill="#c00000" stroke="#700" stroke-width="0.4"/>
<text x="562.4" y="382.6" text-anchor="end" font-size="6.2" fill="#222">3</text>
<text x="588.0" y="393.7" text-anchor="end" font-size="6.2" fill="#222">3.5</text>
<text x="613.6" y="404.8" text-anchor="end" font-size="6.2" fill="#222">4</text>
<text x="639.1" y="415.9" text-anchor="end" font-size="6.2" fill="#222">4.5</text>
<text x="664.7" y="427.0" text-anchor="end" font-size="6.2" fill="#222">5</text>
<text x="671.7" y="427.0" text-anchor="start" font-size="6.2" fill="#222">1</text>
<text x="685.7" y="415.0" text-anchor="start" font-size="6.2" fill="#222">1.2</text>
<text x="699.7" y="403.0" text-anchor="start" font-size="6.2" fill="#222">1.4</text>
<text x="713.8" y="390.9" text-anchor="start" font-size="6.2" fill="#222">1.6</text>
<text x="727.8" y="378.9" text-anchor="start" font-size="6.2" fill="#222">1.8</text>
<text x="741.8" y="366.9" text-anchor="start" font-size="6.2" fill="#222">2</text>
<text x="559.8" y="353.3" text-anchor="end" font-size="6.2" fill="#222">0.2</text>
<text x="558.4" y="339.3" text-anchor="end" font-size="6.2" fill="#222">0.25</text>
<text x="557.0" y="325.3" text-anchor="end" font-size="6.2" fill="#222">0.3</text>
<text x="555.6" y="311.4" text-anchor="end" font-size="6.2" fill="#222">0.35</text>
<text x="554.2" y="297.4" text-anchor="end" font-size="6.2" fill="#222">0.4</text>
<text x="552.8" y="283.4" text-anchor="end" font-size="6.2" fill="#222">0.45</text>
<text x="526.0" y="239.0" font-size="11.5" font-weight="bold" fill="#000">(F)</text>
<text x="0.0" y="0.0" font-size="7.5" transform="translate(534,332) rotate(-90)" text-anchor="middle" fill="#111">PDI</text>
<text x="542.3" y="423.5" font-size="8.7"  fill="#1a1a1a">B: Conc of Tween 80 (%)</text>
<text x="681.0" y="410.0" font-size="8.45"  fill="#1a1a1a">C: Conc of Poloxamer 407<tspan font-size="7.5" dy="0.3">(%)</tspan></text></g>
<g id="pG"><polygon points="43.0,587.0 140.1,637.6 220.1,579.7 127.5,541.7" fill="#ffff00"/>
<path d="M43.0,587.0L34.3,489.4M64.1,575.7L57.3,478.9M85.2,564.4L80.4,468.4M106.4,553.0L103.5,458.0M127.5,541.7L126.5,447.5M150.7,551.2L152.3,456.2M173.8,560.7L178.1,465.0M196.9,570.2L203.9,473.8M220.1,579.7L229.7,482.5M43.0,587.0L127.5,541.7M127.5,541.7L220.1,579.7M40.9,563.1L127.3,518.6M127.3,518.6L222.5,555.9M39.6,548.4L127.1,504.4M127.1,504.4L223.9,541.2M38.2,533.6L127.0,490.2M127.0,490.2L225.4,526.5M36.9,518.9L126.8,475.9M126.8,475.9L226.8,511.9M35.6,504.1L126.7,461.7M126.7,461.7L228.3,497.2M34.3,489.4L126.5,447.5M126.5,447.5L229.7,482.5" stroke="#3a3a3a" stroke-width="0.7" fill="none"/>
<path d="M43.0,587.0L140.1,637.6L220.1,579.7M43.0,587.0L41.9,587.6M67.3,599.6L66.1,600.3M91.5,612.3L90.4,612.9M115.8,625.0L114.7,625.6M140.1,637.6L139.0,638.2M140.1,637.6L141.3,638.1M160.1,623.1L161.3,623.6M180.1,608.7L181.3,609.1M200.1,594.2L201.3,594.7M220.1,579.7L221.3,580.2M40.9,563.1L38.7,562.4M39.6,548.4L37.4,547.7M38.2,533.6L36.0,532.9M36.9,518.9L34.7,518.2M35.6,504.1L33.4,503.4M34.3,489.4L32.1,488.7" stroke="#222" stroke-width="0.7" fill="none"/>
<path d="M43.9,588.2L46.3,587.4 48.6,586.6 50.3,586.0 50.9,585.8 53.2,585.0 55.5,584.2 57.8,583.4 59.0,582.9 60.0,582.6 62.2,581.8 64.4,580.9 66.6,580.1 68.7,579.3 68.8,579.2 70.8,578.4 72.8,577.6 74.9,576.7 76.9,575.8 78.8,574.9 80.7,574.0 82.5,573.1 84.3,572.1 86.1,571.2 87.7,570.2 89.3,569.2 90.8,568.1 92.2,567.1 93.6,565.9 94.8,564.8 95.5,563.9 95.9,563.6 96.8,562.3 97.6,561.0 97.6,561.0 98.1,559.6 98.3,558.8 98.4,558.0 98.4,557.0" stroke="#f39a00" stroke-width="0.9" fill="none" stroke-linecap="round"/>
<path d="M62.8,597.8L63.6,597.7 65.8,597.3 68.5,596.8 68.7,596.8 71.7,596.3 73.3,596.0 74.6,595.7 77.6,595.2 78.1,595.1 80.6,594.7 82.8,594.3 83.5,594.2 86.5,593.7 87.5,593.5 89.4,593.2 92.1,592.7 92.3,592.7 95.2,592.2 96.9,591.9 98.1,591.7 101.0,591.2 101.6,591.1 103.8,590.6 106.5,590.1 106.6,590.1 109.3,589.5 111.6,589.0 112.0,588.9 114.6,588.3 117.0,587.7 117.2,587.7 119.7,587.0 122.1,586.3 123.1,586.0 124.4,585.6 126.7,584.8 128.8,584.0 130.9,583.2 131.0,583.1 132.9,582.3 134.7,581.4 136.5,580.5 138.2,579.5 139.8,578.5 141.3,577.4 142.8,576.4 144.1,575.2 145.1,574.3 145.3,574.1 146.5,572.9 147.6,571.7 148.6,570.5 149.0,569.9 149.5,569.3 150.3,568.0 151.1,566.7 151.1,566.6 151.7,565.3 152.3,564.0 152.3,563.9 152.7,562.5 152.9,561.6 153.0,561.1 153.3,559.6 153.3,559.5 153.3,558.1 153.3,557.5 153.3,556.5 153.2,555.8 153.0,554.8 152.8,554.1 152.4,553.0 152.2,552.6 151.5,551.2 151.4,551.1" stroke="#30e040" stroke-width="0.9" fill="none" stroke-linecap="round"/>
<path d="M89.2,611.3L89.5,611.3 93.0,611.2 93.2,611.2 96.4,611.2 97.4,611.3 99.9,611.3 101.5,611.3 103.3,611.3 105.7,611.3 106.7,611.3 110.0,611.4 110.1,611.4 113.5,611.5 114.2,611.5 116.9,611.5 118.5,611.5 120.3,611.6 122.7,611.6 123.8,611.6 126.8,611.6 127.2,611.6 130.7,611.6 130.8,611.6 134.4,611.5 134.7,611.5 138.1,611.3 138.5,611.3 142.0,611.0 142.0,611.0 145.4,610.7 146.1,610.6 148.5,610.2 150.8,609.8 151.4,609.6 154.1,609.0 156.5,608.2 156.6,608.2 158.8,607.4 160.9,606.4 162.7,605.4 164.5,604.3 166.1,603.2 167.5,602.0 168.9,600.8 170.1,599.5 171.3,598.2 171.3,598.2 172.3,596.8 173.3,595.5 174.3,594.1 174.5,593.7 175.1,592.7 175.9,591.3 176.7,590.0 176.7,589.9 177.4,588.5 178.1,587.0 178.2,586.7 178.7,585.6 179.3,584.1 179.5,583.6 179.9,582.7 180.4,581.2 180.6,580.7 180.9,579.7 181.4,578.3 181.5,578.0 181.8,576.8 182.2,575.3 182.2,575.3 182.6,573.9 182.9,572.8 183.0,572.4 183.3,570.9 183.4,570.4 183.6,569.4 183.8,568.0 183.8,567.9 184.1,566.5 184.2,565.7 184.3,565.0" stroke="#30e040" stroke-width="0.9" fill="none" stroke-linecap="round"/>
<g stroke="#101010" stroke-width="0.33" stroke-linejoin="round"><path d="M122.9,497.0L127.4,498.8L131.4,495.1L126.9,493.1Z" fill="#00c6fd"/><path d="M127.4,498.8L132.0,500.5L135.9,496.8L131.4,495.1Z" fill="#00c4fd"/><path d="M118.9,500.8L123.4,502.5L127.4,498.8L122.9,497.0Z" fill="#009cfc"/><path d="M123.4,502.5L128.0,504.0L132.0,500.5L127.4,498.8Z" fill="#009efc"/><path d="M132.0,500.5L136.6,501.9L140.5,498.4L135.9,496.8Z" fill="#00c8fd"/><path d="M114.9,504.5L119.4,506.0L123.4,502.5L118.9,500.8Z" fill="#0076fa"/><path d="M110.9,508.0L115.4,509.4L119.4,506.0L114.9,504.5Z" fill="#0053f9"/><path d="M119.4,506.0L124.0,507.4L128.0,504.0L123.4,502.5Z" fill="#007bfa"/><path d="M128.0,504.0L132.6,505.3L136.6,501.9L132.0,500.5Z" fill="#00a5fc"/><path d="M136.6,501.9L141.2,503.1L145.2,499.7L140.5,498.4Z" fill="#00d0fe"/><path d="M141.2,503.1L145.9,504.2L149.8,500.8L145.2,499.7Z" fill="#00defe"/><path d="M106.8,511.5L111.3,512.7L115.4,509.4L110.9,508.0Z" fill="#0042f8"/><path d="M115.4,509.4L119.9,510.7L124.0,507.4L119.4,506.0Z" fill="#005cf9"/><path d="M124.0,507.4L128.6,508.6L132.6,505.3L128.0,504.0Z" fill="#0085fb"/><path d="M132.6,505.3L137.2,506.5L141.2,503.1L136.6,501.9Z" fill="#00b0fc"/><path d="M102.7,514.8L107.2,515.9L111.3,512.7L106.8,511.5Z" fill="#0037f7"/><path d="M119.9,510.7L124.5,511.8L128.6,508.6L124.0,507.4Z" fill="#0069f9"/><path d="M137.2,506.5L141.9,507.5L145.9,504.2L141.2,503.1Z" fill="#00c0fd"/><path d="M145.9,504.2L150.6,505.0L154.6,501.6L149.8,500.8Z" fill="#00ebfa"/><path d="M111.3,512.7L115.8,513.9L119.9,510.7L115.4,509.4Z" fill="#0047f8"/><path d="M128.6,508.6L133.2,509.7L137.2,506.5L132.6,505.3Z" fill="#0093fb"/><path d="M107.2,515.9L111.7,516.9L115.8,513.9L111.3,512.7Z" fill="#003ef8"/><path d="M98.5,518.0L103.0,519.0L107.2,515.9L102.7,514.8Z" fill="#002ef7"/><path d="M115.8,513.9L120.4,514.9L124.5,511.8L119.9,510.7Z" fill="#0050f8"/><path d="M124.5,511.8L129.1,512.8L133.2,509.7L128.6,508.6Z" fill="#0079fa"/><path d="M133.2,509.7L137.9,510.7L141.9,507.5L137.2,506.5Z" fill="#00a5fc"/><path d="M141.9,507.5L146.6,508.3L150.6,505.0L145.9,504.2Z" fill="#00d4fe"/><path d="M150.6,505.0L155.4,505.7L159.4,502.3L154.6,501.6Z" fill="#00ede4"/><path d="M103.0,519.0L107.6,519.9L111.7,516.9L107.2,515.9Z" fill="#0036f7"/><path d="M111.7,516.9L116.3,517.8L120.4,514.9L115.8,513.9Z" fill="#0045f8"/><path d="M129.1,512.8L133.8,513.7L137.9,510.7L133.2,509.7Z" fill="#008dfb"/><path d="M155.4,505.7L160.3,506.1L164.2,502.7L159.4,502.3Z" fill="#00f0be"/><path d="M94.4,521.1L98.8,521.9L103.0,519.0L98.5,518.0Z" fill="#0026f7"/><path d="M120.4,514.9L125.1,515.8L129.1,512.8L124.5,511.8Z" fill="#0063f9"/><path d="M137.9,510.7L142.6,511.4L146.6,508.3L141.9,507.5Z" fill="#00bbfd"/><path d="M146.6,508.3L151.4,508.9L155.4,505.7L150.6,505.0Z" fill="#00ebfd"/><path d="M90.1,524.1L94.6,524.8L98.8,521.9L94.4,521.1Z" fill="#001ff6"/><path d="M98.8,521.9L103.3,522.7L107.6,519.9L103.0,519.0Z" fill="#002ff7"/><path d="M107.6,519.9L112.1,520.7L116.3,517.8L111.7,516.9Z" fill="#003ef8"/><path d="M116.3,517.8L120.9,518.7L125.1,515.8L120.4,514.9Z" fill="#0051f8"/><path d="M125.1,515.8L129.7,516.6L133.8,513.7L129.1,512.8Z" fill="#0079fa"/><path d="M133.8,513.7L138.6,514.5L142.6,511.4L137.9,510.7Z" fill="#00a5fc"/><path d="M151.4,508.9L156.3,509.4L160.3,506.1L155.4,505.7Z" fill="#00ede2"/><path d="M160.3,506.1L165.2,506.3L169.1,502.9L164.2,502.7Z" fill="#00f391"/><path d="M142.6,511.4L147.4,512.1L151.4,508.9L146.6,508.3Z" fill="#00d5fe"/><path d="M120.9,518.7L125.6,519.4L129.7,516.6L125.1,515.8Z" fill="#0069f9"/><path d="M165.2,506.3L170.2,506.3L174.1,502.8L169.1,502.9Z" fill="#00f75e"/><path d="M85.8,527.0L90.3,527.5L94.6,524.8L90.1,524.1Z" fill="#001af6"/><path d="M94.6,524.8L99.1,525.4L103.3,522.7L98.8,521.9Z" fill="#002af7"/><path d="M103.3,522.7L107.9,523.4L112.1,520.7L107.6,519.9Z" fill="#0039f7"/><path d="M112.1,520.7L116.8,521.4L120.9,518.7L116.3,517.8Z" fill="#0048f8"/><path d="M129.7,516.6L134.5,517.3L138.6,514.5L133.8,513.7Z" fill="#0092fb"/><path d="M138.6,514.5L143.3,515.1L147.4,512.1L142.6,511.4Z" fill="#00c0fd"/><path d="M147.4,512.1L152.2,512.6L156.3,509.4L151.4,508.9Z" fill="#00ebf8"/><path d="M156.3,509.4L161.2,509.7L165.2,506.3L160.3,506.1Z" fill="#00f0b6"/><path d="M99.1,525.4L103.7,525.9L107.9,523.4L103.3,522.7Z" fill="#0035f7"/><path d="M116.8,521.4L121.4,522.1L125.6,519.4L120.9,518.7Z" fill="#005cf9"/><path d="M125.6,519.4L130.3,520.1L134.5,517.3L129.7,516.6Z" fill="#0084fb"/><path d="M143.3,515.1L148.2,515.6L152.2,512.6L147.4,512.1Z" fill="#00defe"/><path d="M161.2,509.7L166.2,509.8L170.2,506.3L165.2,506.3Z" fill="#00f484"/><path d="M170.2,506.3L175.2,506.1L179.2,502.5L174.1,502.8Z" fill="#00f943"/><path d="M90.3,527.5L94.8,527.9L99.1,525.4L94.6,524.8Z" fill="#0026f7"/><path d="M81.5,529.7L85.9,530.1L90.3,527.5L85.8,527.0Z" fill="#0015f6"/><path d="M107.9,523.4L112.5,524.0L116.8,521.4L112.1,520.7Z" fill="#0043f8"/><path d="M134.5,517.3L139.3,517.9L143.3,515.1L138.6,514.5Z" fill="#00aefc"/><path d="M152.2,512.6L157.2,512.9L161.2,509.7L156.3,509.4Z" fill="#00eed5"/><path d="M77.1,532.4L81.5,532.5L85.9,530.1L81.5,529.7Z" fill="#0012f6"/><path d="M94.8,527.9L99.3,528.4L103.7,525.9L99.1,525.4Z" fill="#0032f7"/><path d="M103.7,525.9L108.3,526.5L112.5,524.0L107.9,523.4Z" fill="#0040f8"/><path d="M112.5,524.0L117.2,524.6L121.4,522.1L116.8,521.4Z" fill="#0053f9"/><path d="M121.4,522.1L126.2,522.7L130.3,520.1L125.6,519.4Z" fill="#0079fa"/><path d="M130.3,520.1L135.1,520.7L139.3,517.9L134.5,517.3Z" fill="#00a1fc"/><path d="M139.3,517.9L144.1,518.4L148.2,515.6L143.3,515.1Z" fill="#00cdfe"/><path d="M148.2,515.6L153.1,515.9L157.2,512.9L152.2,512.6Z" fill="#00eced"/><path d="M157.2,512.9L162.1,513.0L166.2,509.8L161.2,509.7Z" fill="#00f2a4"/><path d="M166.2,509.8L171.2,509.6L175.2,506.1L170.2,506.3Z" fill="#00f84c"/><path d="M175.2,506.1L180.4,505.7L184.4,501.9L179.2,502.5Z" fill="#00fa35"/><path d="M85.9,530.1L90.4,530.4L94.8,527.9L90.3,527.5Z" fill="#0023f6"/><path d="M108.3,526.5L112.9,527.0L117.2,524.6L112.5,524.0Z" fill="#004df8"/><path d="M135.1,520.7L140.0,521.2L144.1,518.4L139.3,517.9Z" fill="#00c1fd"/><path d="M153.1,515.9L158.1,516.1L162.1,513.0L157.2,512.9Z" fill="#00f0bf"/><path d="M180.4,505.7L185.6,505.0L189.6,501.1L184.4,501.9Z" fill="#0ffa2f"/><path d="M81.5,532.5L86.0,532.7L90.4,530.4L85.9,530.1Z" fill="#0021f6"/><path d="M72.7,534.9L77.1,534.9L81.5,532.5L77.1,532.4Z" fill="#0011f6"/><path d="M90.4,530.4L95.0,530.7L99.3,528.4L94.8,527.9Z" fill="#0030f7"/><path d="M99.3,528.4L104.0,528.9L108.3,526.5L103.7,525.9Z" fill="#003ff8"/><path d="M117.2,524.6L121.9,525.2L126.2,522.7L121.4,522.1Z" fill="#0071fa"/><path d="M126.2,522.7L130.9,523.3L135.1,520.7L130.3,520.1Z" fill="#0097fb"/><path d="M144.1,518.4L149.0,518.8L153.1,515.9L148.2,515.6Z" fill="#00ebfb"/><path d="M162.1,513.0L167.2,513.0L171.2,509.6L166.2,509.8Z" fill="#00f66e"/><path d="M171.2,509.6L176.3,509.3L180.4,505.7L175.2,506.1Z" fill="#00f93e"/><path d="M68.2,537.2L72.6,537.1L77.1,534.9L72.7,534.9Z" fill="#0010f6"/><path d="M86.0,532.7L90.6,533.0L95.0,530.7L90.4,530.4Z" fill="#0030f7"/><path d="M104.0,528.9L108.6,529.3L112.9,527.0L108.3,526.5Z" fill="#004bf8"/><path d="M112.9,527.0L117.7,527.6L121.9,525.2L117.2,524.6Z" fill="#006efa"/><path d="M130.9,523.3L135.8,523.7L140.0,521.2L135.1,520.7Z" fill="#00b8fd"/><path d="M140.0,521.2L144.9,521.6L149.0,518.8L144.1,518.4Z" fill="#00e3ff"/><path d="M149.0,518.8L154.0,519.1L158.1,516.1L153.1,515.9Z" fill="#00eed6"/><path d="M158.1,516.1L163.1,516.2L167.2,513.0L162.1,513.0Z" fill="#00f38b"/><path d="M176.3,509.3L181.6,508.8L185.6,505.0L180.4,505.7Z" fill="#03fa31"/><path d="M185.6,505.0L190.9,504.1L194.9,500.0L189.6,501.1Z" fill="#23fa2b"/><path d="M77.1,534.9L81.5,534.9L86.0,532.7L81.5,532.5Z" fill="#0021f6"/><path d="M95.0,530.7L99.6,531.1L104.0,528.9L99.3,528.4Z" fill="#003ef8"/><path d="M121.9,525.2L126.7,525.7L130.9,523.3L126.2,522.7Z" fill="#0091fb"/><path d="M167.2,513.0L172.3,512.8L176.3,509.3L171.2,509.6Z" fill="#00f946"/><path d="M144.9,521.6L149.8,521.9L154.0,519.1L149.0,518.8Z" fill="#00ede6"/><path d="M72.6,537.1L77.0,537.0L81.5,534.9L77.1,534.9Z" fill="#0022f6"/><path d="M63.6,539.5L68.0,539.2L72.6,537.1L68.2,537.2Z" fill="#0011f6"/><path d="M81.5,534.9L86.1,535.0L90.6,533.0L86.0,532.7Z" fill="#0031f7"/><path d="M90.6,533.0L95.2,533.2L99.6,531.1L95.0,530.7Z" fill="#003ff8"/><path d="M108.6,529.3L113.4,529.8L117.7,527.6L112.9,527.0Z" fill="#006dfa"/><path d="M117.7,527.6L122.5,528.0L126.7,525.7L121.9,525.2Z" fill="#008ffb"/><path d="M126.7,525.7L131.6,526.2L135.8,523.7L130.9,523.3Z" fill="#00b2fd"/><path d="M135.8,523.7L140.7,524.2L144.9,521.6L140.0,521.2Z" fill="#00dafe"/><path d="M154.0,519.1L159.0,519.2L163.1,516.2L158.1,516.1Z" fill="#00f2a2"/><path d="M163.1,516.2L168.2,516.1L172.3,512.8L167.2,513.0Z" fill="#00f852"/><path d="M172.3,512.8L177.5,512.4L181.6,508.8L176.3,509.3Z" fill="#00fa38"/><path d="M181.6,508.8L186.9,508.1L190.9,504.1L185.6,505.0Z" fill="#16fa2e"/><path d="M190.9,504.1L196.3,503.0L200.4,498.6L194.9,500.0Z" fill="#39fa27"/><path d="M99.6,531.1L104.3,531.5L108.6,529.3L104.0,528.9Z" fill="#004df8"/><path d="M77.0,537.0L81.5,537.0L86.1,535.0L81.5,534.9Z" fill="#0034f7"/><path d="M122.5,528.0L127.3,528.5L131.6,526.2L126.7,525.7Z" fill="#00b1fd"/><path d="M140.7,524.2L145.7,524.5L149.8,521.9L144.9,521.6Z" fill="#00ecee"/><path d="M149.8,521.9L154.9,522.1L159.0,519.2L154.0,519.1Z" fill="#00f0b4"/><path d="M168.2,516.1L173.4,515.9L177.5,512.4L172.3,512.8Z" fill="#00f93f"/><path d="M196.3,503.0L201.8,501.6L205.9,497.0L200.4,498.6Z" fill="#4ffb22"/><path d="M95.2,533.2L99.8,533.5L104.3,531.5L99.6,531.1Z" fill="#0052f8"/><path d="M59.0,541.7L63.3,541.2L68.0,539.2L63.6,539.5Z" fill="#0014f6"/><path d="M68.0,539.2L72.4,539.0L77.0,537.0L72.6,537.1Z" fill="#0025f7"/><path d="M86.1,535.0L90.7,535.2L95.2,533.2L90.6,533.0Z" fill="#0041f8"/><path d="M104.3,531.5L109.0,531.9L113.4,529.8L108.6,529.3Z" fill="#0071fa"/><path d="M113.4,529.8L118.1,530.2L122.5,528.0L117.7,527.6Z" fill="#0090fb"/><path d="M131.6,526.2L136.5,526.6L140.7,524.2L135.8,523.7Z" fill="#00d5fe"/><path d="M159.0,519.2L164.1,519.2L168.2,516.1L163.1,516.2Z" fill="#00f66b"/><path d="M177.5,512.4L182.8,511.9L186.9,508.1L181.6,508.8Z" fill="#0bfa30"/><path d="M186.9,508.1L192.2,507.2L196.3,503.0L190.9,504.1Z" fill="#2bfa2a"/><path d="M81.5,537.0L86.1,537.0L90.7,535.2L86.1,535.0Z" fill="#0045f8"/><path d="M54.3,543.7L58.6,543.1L63.3,541.2L59.0,541.7Z" fill="#0017f6"/><path d="M72.4,539.0L76.9,538.8L81.5,537.0L77.0,537.0Z" fill="#0038f7"/><path d="M99.8,533.5L104.6,533.8L109.0,531.9L104.3,531.5Z" fill="#0078fa"/><path d="M118.1,530.2L123.0,530.7L127.3,528.5L122.5,528.0Z" fill="#00b3fd"/><path d="M127.3,528.5L132.2,528.9L136.5,526.6L131.6,526.2Z" fill="#00d4fe"/><path d="M136.5,526.6L141.5,527.0L145.7,524.5L140.7,524.2Z" fill="#00ecf3"/><path d="M145.7,524.5L150.7,524.8L154.9,522.1L149.8,521.9Z" fill="#00f0c1"/><path d="M154.9,522.1L160.0,522.2L164.1,519.2L159.0,519.2Z" fill="#00f47f"/><path d="M164.1,519.2L169.3,519.1L173.4,515.9L168.2,516.1Z" fill="#00f945"/><path d="M173.4,515.9L178.7,515.5L182.8,511.9L177.5,512.4Z" fill="#01fa32"/><path d="M192.2,507.2L197.7,506.1L201.8,501.6L196.3,503.0Z" fill="#40fb25"/><path d="M201.8,501.6L207.4,500.0L211.5,495.1L205.9,497.0Z" fill="#68fb1d"/><path d="M63.3,541.2L67.8,540.8L72.4,539.0L68.0,539.2Z" fill="#0028f7"/><path d="M90.7,535.2L95.3,535.4L99.8,533.5L95.2,533.2Z" fill="#005af9"/><path d="M109.0,531.9L113.8,532.3L118.1,530.2L113.4,529.8Z" fill="#0095fb"/><path d="M182.8,511.9L188.2,511.2L192.2,507.2L186.9,508.1Z" fill="#1efa2c"/><path d="M132.2,528.9L137.2,529.3L141.5,527.0L136.5,526.6Z" fill="#00ecf4"/><path d="M160.0,522.2L165.2,522.2L169.3,519.1L164.1,519.2Z" fill="#00f84a"/><path d="M207.4,500.0L213.2,498.1L217.3,492.8L211.5,495.1Z" fill="#92fb15"/><path d="M86.1,537.0L90.8,537.1L95.3,535.4L90.7,535.2Z" fill="#0066f9"/><path d="M49.5,545.6L53.8,544.8L58.6,543.1L54.3,543.7Z" fill="#001cf6"/><path d="M58.6,543.1L63.0,542.5L67.8,540.8L63.3,541.2Z" fill="#002ef7"/><path d="M67.8,540.8L72.3,540.5L76.9,538.8L72.4,539.0Z" fill="#003df8"/><path d="M76.9,538.8L81.5,538.8L86.1,537.0L81.5,537.0Z" fill="#004af8"/><path d="M95.3,535.4L100.1,535.6L104.6,533.8L99.8,533.5Z" fill="#0083fb"/><path d="M104.6,533.8L109.3,534.2L113.8,532.3L109.0,531.9Z" fill="#009efc"/><path d="M113.8,532.3L118.6,532.7L123.0,530.7L118.1,530.2Z" fill="#00bafd"/><path d="M123.0,530.7L127.9,531.1L132.2,528.9L127.3,528.5Z" fill="#00d7fe"/><path d="M141.5,527.0L146.5,527.3L150.7,524.8L145.7,524.5Z" fill="#00efc8"/><path d="M150.7,524.8L155.8,525.0L160.0,522.2L154.9,522.1Z" fill="#00f38e"/><path d="M169.3,519.1L174.6,518.9L178.7,515.5L173.4,515.9Z" fill="#00fa38"/><path d="M178.7,515.5L184.0,515.0L188.2,511.2L182.8,511.9Z" fill="#13fa2e"/><path d="M188.2,511.2L193.6,510.3L197.7,506.1L192.2,507.2Z" fill="#33fa28"/><path d="M197.7,506.1L203.3,504.7L207.4,500.0L201.8,501.6Z" fill="#57fb21"/><path d="M90.8,537.1L95.5,537.3L100.1,535.6L95.3,535.4Z" fill="#0091fb"/><path d="M109.3,534.2L114.2,534.5L118.6,532.7L113.8,532.3Z" fill="#00c4fd"/><path d="M127.9,531.1L132.9,531.5L137.2,529.3L132.2,528.9Z" fill="#00ecf1"/><path d="M137.2,529.3L142.2,529.7L146.5,527.3L141.5,527.0Z" fill="#00efca"/><path d="M155.8,525.0L161.0,525.1L165.2,522.2L160.0,522.2Z" fill="#00f758"/><path d="M165.2,522.2L170.4,522.1L174.6,518.9L169.3,519.1Z" fill="#00f93d"/><path d="M184.0,515.0L189.5,514.3L193.6,510.3L188.2,511.2Z" fill="#27fa2a"/><path d="M203.3,504.7L209.0,503.1L213.2,498.1L207.4,500.0Z" fill="#6ffb1c"/><path d="M213.2,498.1L219.0,496.0L223.2,490.3L217.3,492.8Z" fill="#defc06"/><path d="M63.0,542.5L67.5,542.1L72.3,540.5L67.8,540.8Z" fill="#0043f8"/><path d="M81.5,538.8L86.2,538.7L90.8,537.1L86.1,537.0Z" fill="#0076fa"/><path d="M44.7,547.3L49.0,546.4L53.8,544.8L49.5,545.6Z" fill="#0022f6"/><path d="M53.8,544.8L58.2,544.1L63.0,542.5L58.6,543.1Z" fill="#0034f7"/><path d="M72.3,540.5L76.8,540.3L81.5,538.8L76.9,538.8Z" fill="#0058f9"/><path d="M100.1,535.6L104.9,535.9L109.3,534.2L104.6,533.8Z" fill="#00aafc"/><path d="M118.6,532.7L123.5,533.1L127.9,531.1L123.0,530.7Z" fill="#00defe"/><path d="M146.5,527.3L151.6,527.6L155.8,525.0L150.7,524.8Z" fill="#00f396"/><path d="M174.6,518.9L179.9,518.6L184.0,515.0L178.7,515.5Z" fill="#0afa30"/><path d="M193.6,510.3L199.2,509.2L203.3,504.7L197.7,506.1Z" fill="#48fb24"/><path d="M39.8,549.0L44.1,547.9L49.0,546.4L44.7,547.3Z" fill="#002af7"/><path d="M49.0,546.4L53.4,545.6L58.2,544.1L53.8,544.8Z" fill="#003bf8"/><path d="M58.2,544.1L62.7,543.5L67.5,542.1L63.0,542.5Z" fill="#004bf8"/><path d="M67.5,542.1L72.1,541.8L76.8,540.3L72.3,540.5Z" fill="#006cfa"/><path d="M76.8,540.3L81.5,540.2L86.2,538.7L81.5,538.8Z" fill="#0089fb"/><path d="M86.2,538.7L90.9,538.8L95.5,537.3L90.8,537.1Z" fill="#00a3fc"/><path d="M95.5,537.3L100.3,537.5L104.9,535.9L100.1,535.6Z" fill="#00bbfd"/><path d="M104.9,535.9L109.7,536.2L114.2,534.5L109.3,534.2Z" fill="#00d1fe"/><path d="M114.2,534.5L119.1,534.9L123.5,533.1L118.6,532.7Z" fill="#00e9ff"/><path d="M123.5,533.1L128.5,533.5L132.9,531.5L127.9,531.1Z" fill="#00eceb"/><path d="M132.9,531.5L137.9,531.9L142.2,529.7L137.2,529.3Z" fill="#00efc7"/><path d="M142.2,529.7L147.3,530.0L151.6,527.6L146.5,527.3Z" fill="#00f299"/><path d="M151.6,527.6L156.8,527.8L161.0,525.1L155.8,525.0Z" fill="#00f663"/><path d="M161.0,525.1L166.2,525.2L170.4,522.1L165.2,522.2Z" fill="#00f942"/><path d="M170.4,522.1L175.8,522.0L179.9,518.6L174.6,518.9Z" fill="#02fa32"/><path d="M179.9,518.6L185.3,518.1L189.5,514.3L184.0,515.0Z" fill="#1cfa2c"/><path d="M189.5,514.3L195.0,513.4L199.2,509.2L193.6,510.3Z" fill="#3bfa26"/><path d="M199.2,509.2L204.8,507.9L209.0,503.1L203.3,504.7Z" fill="#5ffb1f"/><path d="M209.0,503.1L214.8,501.3L219.0,496.0L213.2,498.1Z" fill="#a5fb11"/><path d="M219.0,496.0L225.0,493.5L229.2,487.5L223.2,490.3Z" fill="#fdcc00"/><path d="M100.3,537.5L105.2,537.8L109.7,536.2L104.9,535.9Z" fill="#00e3ff"/><path d="M119.1,534.9L124.1,535.4L128.5,533.5L123.5,533.1Z" fill="#00edde"/><path d="M147.3,530.0L152.5,530.4L156.8,527.8L151.6,527.6Z" fill="#00f668"/><path d="M175.8,522.0L181.2,521.7L185.3,518.1L179.9,518.6Z" fill="#13fa2e"/><path d="M195.0,513.4L200.6,512.4L204.8,507.9L199.2,509.2Z" fill="#50fb22"/><path d="M53.4,545.6L57.8,544.8L62.7,543.5L58.2,544.1Z" fill="#0061f9"/><path d="M72.1,541.8L76.7,541.6L81.5,540.2L76.8,540.3Z" fill="#00a0fc"/><path d="M44.1,547.9L48.4,546.9L53.4,545.6L49.0,546.4Z" fill="#0044f8"/><path d="M62.7,543.5L67.3,543.1L72.1,541.8L67.5,542.1Z" fill="#0083fb"/><path d="M81.5,540.2L86.2,540.2L90.9,538.8L86.2,538.7Z" fill="#00b9fd"/><path d="M90.9,538.8L95.7,539.0L100.3,537.5L95.5,537.3Z" fill="#00cefe"/><path d="M109.7,536.2L114.6,536.6L119.1,534.9L114.2,534.5Z" fill="#00ecf4"/><path d="M128.5,533.5L133.6,534.0L137.9,531.9L132.9,531.5Z" fill="#00f0be"/><path d="M137.9,531.9L143.0,532.3L147.3,530.0L142.2,529.7Z" fill="#00f397"/><path d="M156.8,527.8L162.0,528.0L166.2,525.2L161.0,525.1Z" fill="#00f944"/><path d="M166.2,525.2L171.6,525.1L175.8,522.0L170.4,522.1Z" fill="#00fa35"/><path d="M185.3,518.1L190.8,517.5L195.0,513.4L189.5,514.3Z" fill="#2ffa29"/><path d="M204.8,507.9L210.6,506.4L214.8,501.3L209.0,503.1Z" fill="#77fb1a"/><path d="M214.8,501.3L220.7,499.3L225.0,493.5L219.0,496.0Z" fill="#f0fc02"/><path d="M95.7,539.0L100.5,539.2L105.2,537.8L100.3,537.5Z" fill="#00ecf3"/><path d="M105.2,537.8L110.1,538.2L114.6,536.6L109.7,536.2Z" fill="#00ede3"/><path d="M114.6,536.6L119.6,537.1L124.1,535.4L119.1,534.9Z" fill="#00efcb"/><path d="M124.1,535.4L129.1,535.8L133.6,534.0L128.5,533.5Z" fill="#00f1af"/><path d="M143.0,532.3L148.2,532.7L152.5,530.4L147.3,530.0Z" fill="#00f667"/><path d="M152.5,530.4L157.8,530.7L162.0,528.0L156.8,527.8Z" fill="#00f946"/><path d="M171.6,525.1L177.0,525.0L181.2,521.7L175.8,522.0Z" fill="#0cfa30"/><path d="M181.2,521.7L186.7,521.3L190.8,517.5L185.3,518.1Z" fill="#25fa2b"/><path d="M190.8,517.5L196.5,516.7L200.6,512.4L195.0,513.4Z" fill="#43fb25"/><path d="M200.6,512.4L206.4,511.3L210.6,506.4L204.8,507.9Z" fill="#66fb1e"/><path d="M48.4,546.9L52.8,546.0L57.8,544.8L53.4,545.6Z" fill="#007cfa"/><path d="M57.8,544.8L62.3,544.3L67.3,543.1L62.7,543.5Z" fill="#009efc"/><path d="M67.3,543.1L71.9,542.8L76.7,541.6L72.1,541.8Z" fill="#00bafd"/><path d="M76.7,541.6L81.4,541.4L86.2,540.2L81.5,540.2Z" fill="#00d2fe"/><path d="M86.2,540.2L91.0,540.3L95.7,539.0L90.9,538.8Z" fill="#00e6ff"/><path d="M133.6,534.0L138.7,534.4L143.0,532.3L137.9,531.9Z" fill="#00f38f"/><path d="M162.0,528.0L167.3,528.1L171.6,525.1L166.2,525.2Z" fill="#00fa39"/><path d="M210.6,506.4L216.5,504.7L220.7,499.3L214.8,501.3Z" fill="#b7fb0e"/><path d="M110.1,538.2L115.1,538.6L119.6,537.1L114.6,536.6Z" fill="#00f1b2"/><path d="M186.7,521.3L192.2,520.8L196.5,516.7L190.8,517.5Z" fill="#37fa27"/><path d="M62.3,544.3L67.0,543.8L71.9,542.8L67.3,543.1Z" fill="#00d8fe"/><path d="M91.0,540.3L95.8,540.5L100.5,539.2L95.7,539.0Z" fill="#00eed9"/><path d="M52.8,546.0L57.3,545.3L62.3,544.3L57.8,544.8Z" fill="#00bcfd"/><path d="M71.9,542.8L76.6,542.5L81.4,541.4L76.7,541.6Z" fill="#00ebfc"/><path d="M100.5,539.2L105.5,539.5L110.1,538.2L105.2,537.8Z" fill="#00efc6"/><path d="M119.6,537.1L124.7,537.5L129.1,535.8L124.1,535.4Z" fill="#00f29c"/><path d="M129.1,535.8L134.3,536.3L138.7,534.4L133.6,534.0Z" fill="#00f481"/><path d="M138.7,534.4L143.8,534.9L148.2,532.7L143.0,532.3Z" fill="#00f760"/><path d="M148.2,532.7L153.4,533.1L157.8,530.7L152.5,530.4Z" fill="#00f946"/><path d="M157.8,530.7L163.1,530.9L167.3,528.1L162.0,528.0Z" fill="#00f93b"/><path d="M167.3,528.1L172.7,528.2L177.0,525.0L171.6,525.1Z" fill="#07fa31"/><path d="M177.0,525.0L182.4,524.9L186.7,521.3L181.2,521.7Z" fill="#1dfa2c"/><path d="M196.5,516.7L202.2,515.8L206.4,511.3L200.6,512.4Z" fill="#57fb21"/><path d="M206.4,511.3L212.2,509.9L216.5,504.7L210.6,506.4Z" fill="#84fb18"/><path d="M81.4,541.4L86.2,541.4L91.0,540.3L86.2,540.2Z" fill="#00ecec"/><path d="M105.5,539.5L110.5,539.9L115.1,538.6L110.1,538.2Z" fill="#00f394"/><path d="M115.1,538.6L120.1,539.1L124.7,537.5L119.6,537.1Z" fill="#00f482"/><path d="M134.3,536.3L139.4,536.9L143.8,534.9L138.7,534.4Z" fill="#00f853"/><path d="M163.1,530.9L168.5,531.1L172.7,528.2L167.3,528.1Z" fill="#03fa31"/><path d="M182.4,524.9L188.0,524.6L192.2,520.8L186.7,521.3Z" fill="#2efa29"/><path d="M192.2,520.8L197.9,520.2L202.2,515.8L196.5,516.7Z" fill="#4afb23"/><path d="M86.2,541.4L91.1,541.5L95.8,540.5L91.0,540.3Z" fill="#00f1b4"/><path d="M57.3,545.3L61.9,544.7L67.0,543.8L62.3,544.3Z" fill="#00ecf3"/><path d="M67.0,543.8L71.7,543.5L76.6,542.5L71.9,542.8Z" fill="#00eedc"/><path d="M95.8,540.5L100.8,540.7L105.5,539.5L100.5,539.2Z" fill="#00f2a4"/><path d="M76.6,542.5L81.4,542.4L86.2,541.4L81.4,541.4Z" fill="#00efc6"/><path d="M124.7,537.5L129.8,538.1L134.3,536.3L129.1,535.8Z" fill="#00f66e"/><path d="M143.8,534.9L149.1,535.4L153.4,533.1L148.2,532.7Z" fill="#00f945"/><path d="M153.4,533.1L158.8,533.5L163.1,530.9L157.8,530.7Z" fill="#00f93c"/><path d="M172.7,528.2L178.2,528.2L182.4,524.9L177.0,525.0Z" fill="#16fa2e"/><path d="M202.2,515.8L208.0,514.8L212.2,509.9L206.4,511.3Z" fill="#6cfb1d"/><path d="M100.8,540.7L105.8,541.1L110.5,539.9L105.5,539.5Z" fill="#00f571"/><path d="M61.9,544.7L66.6,544.3L71.7,543.5L67.0,543.8Z" fill="#00f1ae"/><path d="M81.4,542.4L86.2,542.5L91.1,541.5L86.2,541.4Z" fill="#00f48a"/><path d="M91.1,541.5L96.0,541.8L100.8,540.7L95.8,540.5Z" fill="#00f57c"/><path d="M110.5,539.9L115.5,540.4L120.1,539.1L115.1,538.6Z" fill="#00f664"/><path d="M120.1,539.1L125.2,539.6L129.8,538.1L124.7,537.5Z" fill="#00f755"/><path d="M129.8,538.1L135.0,538.6L139.4,536.9L134.3,536.3Z" fill="#00f849"/><path d="M139.4,536.9L144.7,537.4L149.1,535.4L143.8,534.9Z" fill="#00f943"/><path d="M158.8,533.5L164.2,533.9L168.5,531.1L163.1,530.9Z" fill="#01fa32"/><path d="M168.5,531.1L173.9,531.3L178.2,528.2L172.7,528.2Z" fill="#11fa2f"/><path d="M178.2,528.2L183.8,528.2L188.0,524.6L182.4,524.9Z" fill="#26fa2b"/><path d="M188.0,524.6L193.7,524.2L197.9,520.2L192.2,520.8Z" fill="#3ffb25"/><path d="M197.9,520.2L203.7,519.4L208.0,514.8L202.2,515.8Z" fill="#5dfb1f"/><path d="M71.7,543.5L76.4,543.3L81.4,542.4L76.6,542.5Z" fill="#00f29a"/><path d="M149.1,535.4L154.4,535.9L158.8,533.5L153.4,533.1Z" fill="#00f93b"/><path d="M96.0,541.8L101.0,542.1L105.8,541.1L100.8,540.7Z" fill="#00f84a"/><path d="M125.2,539.6L130.4,540.2L135.0,538.6L129.8,538.1Z" fill="#00f943"/><path d="M173.9,531.3L179.5,531.5L183.8,528.2L178.2,528.2Z" fill="#20fa2c"/><path d="M76.4,543.3L81.3,543.2L86.2,542.5L81.4,542.4Z" fill="#00f75b"/><path d="M66.6,544.3L71.4,544.0L76.4,543.3L71.7,543.5Z" fill="#00f669"/><path d="M86.2,542.5L91.1,542.6L96.0,541.8L91.1,541.5Z" fill="#00f850"/><path d="M105.8,541.1L110.8,541.6L115.5,540.4L110.5,539.9Z" fill="#00f848"/><path d="M115.5,540.4L120.6,541.0L125.2,539.6L120.1,539.1Z" fill="#00f946"/><path d="M135.0,538.6L140.2,539.3L144.7,537.4L139.4,536.9Z" fill="#00f93f"/><path d="M144.7,537.4L150.0,538.0L154.4,535.9L149.1,535.4Z" fill="#00f939"/><path d="M154.4,535.9L159.8,536.4L164.2,533.9L158.8,533.5Z" fill="#01fa32"/><path d="M164.2,533.9L169.6,534.2L173.9,531.3L168.5,531.1Z" fill="#0efa2f"/><path d="M183.8,528.2L189.4,528.1L193.7,524.2L188.0,524.6Z" fill="#36fa27"/><path d="M193.7,524.2L199.4,523.8L203.7,519.4L197.9,520.2Z" fill="#51fb22"/><path d="M71.4,544.0L76.2,543.8L81.3,543.2L76.4,543.3Z" fill="#00f943"/><path d="M91.1,542.6L96.2,542.9L101.0,542.1L96.0,541.8Z" fill="#00f940"/><path d="M101.0,542.1L106.1,542.6L110.8,541.6L105.8,541.1Z" fill="#00f940"/><path d="M120.6,541.0L125.8,541.6L130.4,540.2L125.2,539.6Z" fill="#00f93d"/><path d="M130.4,540.2L135.7,540.9L140.2,539.3L135.0,538.6Z" fill="#00f93a"/><path d="M150.0,538.0L155.4,538.7L159.8,536.4L154.4,535.9Z" fill="#02fa32"/><path d="M169.6,534.2L175.2,534.6L179.5,531.5L173.9,531.3Z" fill="#1cfa2d"/><path d="M179.5,531.5L185.1,531.6L189.4,528.1L183.8,528.2Z" fill="#2ffa29"/><path d="M81.3,543.2L86.2,543.3L91.1,542.6L86.2,542.5Z" fill="#00f941"/><path d="M110.8,541.6L116.0,542.2L120.6,541.0L115.5,540.4Z" fill="#00f93f"/><path d="M140.2,539.3L145.6,540.0L150.0,538.0L144.7,537.4Z" fill="#00fa36"/><path d="M159.8,536.4L165.3,536.9L169.6,534.2L164.2,533.9Z" fill="#0dfa2f"/><path d="M189.4,528.1L195.1,527.9L199.4,523.8L193.7,524.2Z" fill="#46fb24"/><path d="M86.2,543.3L91.2,543.6L96.2,542.9L91.1,542.6Z" fill="#00fa36"/><path d="M76.2,543.8L81.2,543.9L86.2,543.3L81.3,543.2Z" fill="#00fa36"/><path d="M96.2,542.9L101.2,543.4L106.1,542.6L101.0,542.1Z" fill="#00fa36"/><path d="M106.1,542.6L111.2,543.1L116.0,542.2L110.8,541.6Z" fill="#00fa36"/><path d="M116.0,542.2L121.2,542.8L125.8,541.6L120.6,541.0Z" fill="#00fa35"/><path d="M125.8,541.6L131.1,542.4L135.7,540.9L130.4,540.2Z" fill="#00fa34"/><path d="M135.7,540.9L141.0,541.7L145.6,540.0L140.2,539.3Z" fill="#00fa32"/><path d="M145.6,540.0L151.0,540.7L155.4,538.7L150.0,538.0Z" fill="#06fa31"/><path d="M155.4,538.7L160.9,539.3L165.3,536.9L159.8,536.4Z" fill="#0efa2f"/><path d="M165.3,536.9L170.8,537.4L175.2,534.6L169.6,534.2Z" fill="#19fa2d"/><path d="M175.2,534.6L180.8,534.9L185.1,531.6L179.5,531.5Z" fill="#29fa2a"/><path d="M185.1,531.6L190.8,531.7L195.1,527.9L189.4,528.1Z" fill="#3dfa26"/><path d="M81.2,543.9L86.2,544.0L91.2,543.6L86.2,543.3Z" fill="#0afa30"/><path d="M111.2,543.1L116.4,543.8L121.2,542.8L116.0,542.2Z" fill="#07fa31"/><path d="M141.0,541.7L146.4,542.6L151.0,540.7L145.6,540.0Z" fill="#0bfa30"/><path d="M160.9,539.3L166.4,540.0L170.8,537.4L165.3,536.9Z" fill="#19fa2d"/><path d="M91.2,543.6L96.3,544.0L101.2,543.4L96.2,542.9Z" fill="#09fa30"/><path d="M101.2,543.4L106.4,543.9L111.2,543.1L106.1,542.6Z" fill="#08fa31"/><path d="M121.2,542.8L126.5,543.6L131.1,542.4L125.8,541.6Z" fill="#06fa31"/><path d="M131.1,542.4L136.5,543.2L141.0,541.7L135.7,540.9Z" fill="#08fa30"/><path d="M151.0,540.7L156.4,541.5L160.9,539.3L155.4,538.7Z" fill="#10fa2f"/><path d="M170.8,537.4L176.4,538.0L180.8,534.9L175.2,534.6Z" fill="#26fa2b"/><path d="M180.8,534.9L186.5,535.3L190.8,531.7L185.1,531.6Z" fill="#37fa27"/><path d="M86.2,544.0L91.3,544.4L96.3,544.0L91.2,543.6Z" fill="#18fa2d"/><path d="M96.3,544.0L101.5,544.5L106.4,543.9L101.2,543.4Z" fill="#15fa2e"/><path d="M106.4,543.9L111.6,544.6L116.4,543.8L111.2,543.1Z" fill="#13fa2e"/><path d="M116.4,543.8L121.7,544.7L126.5,543.6L121.2,542.8Z" fill="#11fa2f"/><path d="M136.5,543.2L141.9,544.2L146.4,542.6L141.0,541.7Z" fill="#11fa2f"/><path d="M146.4,542.6L151.9,543.5L156.4,541.5L151.0,540.7Z" fill="#15fa2e"/><path d="M156.4,541.5L162.0,542.4L166.4,540.0L160.9,539.3Z" fill="#1bfa2d"/><path d="M166.4,540.0L172.0,540.8L176.4,538.0L170.8,537.4Z" fill="#24fa2b"/><path d="M126.5,543.6L131.8,544.5L136.5,543.2L131.1,542.4Z" fill="#10fa2f"/><path d="M176.4,538.0L182.1,538.5L186.5,535.3L180.8,534.9Z" fill="#32fa28"/><path d="M151.9,543.5L157.5,544.5L162.0,542.4L156.4,541.5Z" fill="#1efa2c"/><path d="M91.3,544.4L96.5,544.9L101.5,544.5L96.3,544.0Z" fill="#24fa2b"/><path d="M101.5,544.5L106.7,545.2L111.6,544.6L106.4,543.9Z" fill="#21fa2b"/><path d="M111.6,544.6L116.9,545.5L121.7,544.7L116.4,543.8Z" fill="#1dfa2c"/><path d="M121.7,544.7L127.1,545.6L131.8,544.5L126.5,543.6Z" fill="#1bfa2d"/><path d="M131.8,544.5L137.2,545.6L141.9,544.2L136.5,543.2Z" fill="#1afa2d"/><path d="M141.9,544.2L147.4,545.2L151.9,543.5L146.4,542.6Z" fill="#1bfa2d"/><path d="M162.0,542.4L167.6,543.3L172.0,540.8L166.4,540.0Z" fill="#25fa2b"/><path d="M172.0,540.8L177.7,541.6L182.1,538.5L176.4,538.0Z" fill="#2ffa29"/><path d="M96.5,544.9L101.7,545.6L106.7,545.2L101.5,544.5Z" fill="#30fa28"/><path d="M127.1,545.6L132.5,546.7L137.2,545.6L131.8,544.5Z" fill="#24fa2b"/><path d="M147.4,545.2L152.9,546.3L157.5,544.5L151.9,543.5Z" fill="#24fa2b"/><path d="M157.5,544.5L163.1,545.6L167.6,543.3L162.0,542.4Z" fill="#27fa2a"/><path d="M106.7,545.2L112.0,546.1L116.9,545.5L111.6,544.6Z" fill="#2bfa29"/><path d="M116.9,545.5L122.3,546.5L127.1,545.6L121.7,544.7Z" fill="#27fa2a"/><path d="M137.2,545.6L142.7,546.7L147.4,545.2L141.9,544.2Z" fill="#23fa2b"/><path d="M167.6,543.3L173.3,544.3L177.7,541.6L172.0,540.8Z" fill="#2ffa29"/><path d="M101.7,545.6L107.0,546.4L112.0,546.1L106.7,545.2Z" fill="#3bfa26"/><path d="M122.3,546.5L127.8,547.6L132.5,546.7L127.1,545.6Z" fill="#30fa28"/><path d="M132.5,546.7L138.0,547.9L142.7,546.7L137.2,545.6Z" fill="#2cfa29"/><path d="M142.7,546.7L148.3,547.9L152.9,546.3L147.4,545.2Z" fill="#2bfa2a"/><path d="M152.9,546.3L158.5,547.6L163.1,545.6L157.5,544.5Z" fill="#2cfa29"/><path d="M163.1,545.6L168.8,546.7L173.3,544.3L167.6,543.3Z" fill="#30fa28"/><path d="M112.0,546.1L117.4,547.1L122.3,546.5L116.9,545.5Z" fill="#35fa28"/><path d="M117.4,547.1L122.9,548.3L127.8,547.6L122.3,546.5Z" fill="#3dfa26"/><path d="M138.0,547.9L143.6,549.3L148.3,547.9L142.7,546.7Z" fill="#34fa28"/><path d="M107.0,546.4L112.4,547.4L117.4,547.1L112.0,546.1Z" fill="#44fb25"/><path d="M127.8,547.6L133.3,548.9L138.0,547.9L132.5,546.7Z" fill="#38fa27"/><path d="M148.3,547.9L153.9,549.3L158.5,547.6L152.9,546.3Z" fill="#32fa28"/><path d="M158.5,547.6L164.2,548.9L168.8,546.7L163.1,545.6Z" fill="#34fa28"/><path d="M112.4,547.4L117.9,548.7L122.9,548.3L117.4,547.1Z" fill="#4cfb23"/><path d="M122.9,548.3L128.4,549.6L133.3,548.9L127.8,547.6Z" fill="#45fb24"/><path d="M133.3,548.9L138.9,550.3L143.6,549.3L138.0,547.9Z" fill="#3ffa26"/><path d="M143.6,549.3L149.3,550.7L153.9,549.3L148.3,547.9Z" fill="#3afa26"/><path d="M153.9,549.3L159.6,550.8L164.2,548.9L158.5,547.6Z" fill="#39fa27"/><path d="M117.9,548.7L123.5,550.0L128.4,549.6L122.9,548.3Z" fill="#53fb22"/><path d="M128.4,549.6L134.0,551.1L138.9,550.3L133.3,548.9Z" fill="#4bfb23"/><path d="M138.9,550.3L144.5,551.9L149.3,550.7L143.6,549.3Z" fill="#45fb24"/><path d="M149.3,550.7L155.0,552.4L159.6,550.8L153.9,549.3Z" fill="#40fb25"/><path d="M123.5,550.0L129.1,551.6L134.0,551.1L128.4,549.6Z" fill="#59fb20"/><path d="M134.0,551.1L139.7,552.8L144.5,551.9L138.9,550.3Z" fill="#51fb22"/><path d="M144.5,551.9L150.3,553.7L155.0,552.4L149.3,550.7Z" fill="#4afb23"/><path d="M129.1,551.6L134.8,553.4L139.7,552.8L134.0,551.1Z" fill="#5efb1f"/><path d="M139.7,552.8L145.5,554.7L150.3,553.7L144.5,551.9Z" fill="#55fb21"/><path d="M134.8,553.4L140.6,555.3L145.5,554.7L139.7,552.8Z" fill="#63fb1e"/></g>
<circle cx="40.0" cy="550.5" r="1.4" fill="#f0a0a0" stroke="#700" stroke-width="0.4"/>
<circle cx="132.3" cy="531.5" r="1.4" fill="#c00000" stroke="#700" stroke-width="0.4"/>
<circle cx="141.5" cy="552.5" r="1.4" fill="#c00000" stroke="#700" stroke-width="0.4"/>
<circle cx="229.6" cy="482.4" r="1.4" fill="#c00000" stroke="#700" stroke-width="0.4"/>
<text x="39.1" y="593.1" text-anchor="end" font-size="6.2" fill="#222">40</text>
<text x="63.4" y="605.8" text-anchor="end" font-size="6.2" fill="#222">45</text>
<text x="87.6" y="618.4" text-anchor="end" font-size="6.2" fill="#222">50</text>
<text x="111.9" y="631.1" text-anchor="end" font-size="6.2" fill="#222">55</text>
<text x="136.2" y="643.7" text-anchor="end" font-size="6.2" fill="#222">60</text>
<text x="143.2" y="643.7" text-anchor="start" font-size="6.2" fill="#222">3</text>
<text x="163.2" y="629.2" text-anchor="start" font-size="6.2" fill="#222">3.5</text>
<text x="183.2" y="614.8" text-anchor="start" font-size="6.2" fill="#222">4</text>
<text x="203.2" y="600.3" text-anchor="start" font-size="6.2" fill="#222">4.5</text>
<text x="223.2" y="585.8" text-anchor="start" font-size="6.2" fill="#222">5</text>
<text x="36.7" y="562.6" text-anchor="end" font-size="6.2" fill="#222">60</text>
<text x="35.4" y="547.9" text-anchor="end" font-size="6.2" fill="#222">65</text>
<text x="34.0" y="533.1" text-anchor="end" font-size="6.2" fill="#222">70</text>
<text x="32.7" y="518.4" text-anchor="end" font-size="6.2" fill="#222">75</text>
<text x="31.4" y="503.6" text-anchor="end" font-size="6.2" fill="#222">80</text>
<text x="30.1" y="488.9" text-anchor="end" font-size="6.2" fill="#222">85</text>
<text x="2.7" y="457.0" font-size="11.5" font-weight="bold" fill="#000">(G)</text>
<text x="0.0" y="0.0" font-size="7.5" transform="translate(8,541) rotate(-90)" text-anchor="middle" fill="#111">EE</text>
<text x="19.7" y="636.5" font-size="8.75"  fill="#1a1a1a">A: Conc of GMS (mg)</text>
<text x="166.7" y="629.0" font-size="8.7"  fill="#1a1a1a">B: Conc of Tween 80 (%)</text></g>
<g id="pH"><polygon points="305.5,587.0 401.6,638.1 481.0,579.7 388.8,540.9" fill="#ffff00"/>
<path d="M305.5,587.0L296.3,488.1M322.2,577.8L314.6,479.8M338.8,568.6L332.9,471.6M355.5,559.3L351.1,463.3M372.1,550.1L369.4,455.1M388.8,540.9L387.7,446.8M411.9,550.6L413.5,455.6M434.9,560.3L439.4,464.4M457.9,570.0L465.2,473.2M481.0,579.7L491.0,482.0M305.5,587.0L388.8,540.9M388.8,540.9L481.0,579.7M303.2,562.8L388.5,517.8M388.5,517.8L483.4,555.8M302.1,550.3L388.4,506.0M388.4,506.0L484.7,543.5M300.9,537.9L388.3,494.2M388.3,494.2L486.0,531.2M299.8,525.4L388.1,482.3M388.1,482.3L487.2,518.9M298.6,513.0L388.0,470.5M388.0,470.5L488.5,506.6M297.5,500.5L387.8,458.6M387.8,458.6L489.7,494.3M296.3,488.1L387.7,446.8M387.7,446.8L491.0,482.0" stroke="#3a3a3a" stroke-width="0.7" fill="none"/>
<path d="M305.5,587.0L401.6,638.1L481.0,579.7M305.5,587.0L304.4,587.6M329.5,599.8L328.4,600.4M353.6,612.5L352.4,613.2M377.6,625.3L376.4,626.0M401.6,638.1L400.5,638.7M401.6,638.1L402.8,638.6M417.5,626.4L418.7,626.9M433.4,614.7L434.6,615.2M449.2,603.1L450.4,603.6M465.1,591.4L466.3,591.9M481.0,579.7L482.2,580.2M303.2,562.8L301.0,562.1M302.1,550.3L299.9,549.6M300.9,537.9L298.7,537.2M299.8,525.4L297.6,524.7M298.6,513.0L296.4,512.3M297.5,500.5L295.3,499.8M296.3,488.1L294.1,487.4" stroke="#222" stroke-width="0.7" fill="none"/>
<path d="M350.2,562.1L350.5,563.2 350.6,563.7 350.6,564.9 350.5,565.6 350.3,566.5 349.6,567.9 349.6,568.0 348.7,569.3 347.6,570.5 346.4,571.7 346.3,571.7 344.9,572.8 343.4,573.9 341.8,575.0 340.1,576.0 338.4,577.0 336.6,578.0 334.7,578.9 332.8,579.9 330.9,580.8 330.1,581.1 328.9,581.7 326.9,582.6 324.8,583.5 322.7,584.4 320.6,585.3 318.5,586.1 317.6,586.5 316.3,587.0 314.1,587.9 311.9,588.7 309.7,589.6" stroke="#f39a00" stroke-width="0.9" fill="none" stroke-linecap="round"/>
<path d="M373.7,548.7L376.1,549.1 377.6,549.3 378.6,549.4 381.0,549.7 382.6,549.9 383.5,550.0 386.0,550.3 387.6,550.5 388.5,550.7 391.0,551.0 392.7,551.2 393.4,551.3 395.9,551.7 398.2,552.1 398.3,552.1 400.6,552.6 402.8,553.1 405.0,553.6 405.6,553.8 407.0,554.2 408.9,554.9 410.7,555.7 412.4,556.5 413.5,557.2 413.9,557.5 415.2,558.6 416.4,559.8 416.7,560.2 417.3,561.2 417.9,562.3 418.1,562.7 418.5,564.2 418.6,564.4 418.7,565.9 418.8,566.2 418.7,567.6 418.6,568.3 418.5,569.1 418.1,570.6 418.1,570.7 417.6,572.0 416.9,573.4 416.8,573.6 416.1,574.7 415.2,576.0 414.2,577.3 414.1,577.4 413.1,578.5 411.8,579.6 410.4,580.7 408.8,581.7 407.1,582.7 405.2,583.6 403.3,584.4 403.2,584.4 401.0,585.2 398.6,585.9 397.2,586.2 396.0,586.5 393.3,587.0 392.4,587.2 390.5,587.5 388.1,587.8 387.5,587.9 384.4,588.3 384.0,588.3 381.3,588.6 380.0,588.8 378.1,589.0 376.1,589.1 374.9,589.3 372.2,589.5 371.6,589.6 368.4,589.9 368.2,589.9 365.2,590.2 364.3,590.3 362.0,590.6 360.2,590.8 358.9,590.9 356.0,591.3 355.7,591.3 352.7,591.7 351.8,591.8 349.6,592.2 347.4,592.5 346.6,592.6 343.7,593.1 342.8,593.2 340.8,593.6 338.1,594.0 337.8,594.1 335.0,594.6 333.3,595.0 332.1,595.2 329.3,595.8 328.2,596.0 326.5,596.3 323.7,596.9" stroke="#30e040" stroke-width="0.9" fill="none" stroke-linecap="round"/>
<path d="M384.1,542.7L387.0,542.8 387.5,542.8 389.8,542.9 391.2,542.9 392.7,543.0 394.9,543.0M336.0,603.4L336.5,603.3 339.5,603.1 340.4,603.1 343.1,602.9 344.1,602.8 346.7,602.7 347.7,602.7 350.5,602.6 351.3,602.6 354.5,602.6 354.7,602.6 358.1,602.7 358.5,602.7 361.3,602.7 362.8,602.8 364.5,602.9 367.2,603.0 367.7,603.1 370.7,603.3 371.9,603.4 373.7,603.5 376.7,603.8 376.8,603.9 379.6,604.2 382.0,604.5 382.5,604.5 385.4,604.9 387.5,605.2 388.2,605.3 391.0,605.7 393.2,606.1 393.8,606.1 396.6,606.6 399.1,607.0 399.3,607.0 402.2,607.5 404.9,607.9 405.0,607.9 407.8,608.3 410.5,608.7 410.7,608.7 413.8,609.0 415.4,609.1 417.0,609.1 419.5,609.1 420.6,609.0 422.7,608.7 425.2,608.0 426.3,607.4 427.2,607.0 428.7,605.8 429.1,605.4 430.0,604.5 431.1,603.2 432.1,601.7 432.8,600.4 432.9,600.3 433.7,598.8 434.4,597.2 434.5,596.9 435.0,595.7 435.6,594.2 435.7,593.7 436.1,592.6 436.7,591.1 436.8,590.7 437.1,589.5 437.6,588.0 437.6,587.8 438.0,586.4 438.4,585.1 438.4,584.8 438.8,583.3 439.0,582.4 439.2,581.7 439.5,580.2 439.6,579.8 439.8,578.6 440.1,577.3 440.1,577.1 440.4,575.5 440.4,574.9 440.6,574.0 440.8,572.5 440.8,572.4 440.9,570.9 441.0,570.3 441.0,569.3 441.1,568.1 441.1,567.7 441.1,566.1 441.1,566.0 441.1,564.5 441.0,564.0 440.9,562.9" stroke="#30e040" stroke-width="0.9" fill="none" stroke-linecap="round"/>
<g stroke="#101010" stroke-width="0.33" stroke-linejoin="round"><path d="M384.3,488.8L388.8,492.4L392.7,487.9L388.2,483.9Z" fill="#01fa32"/><path d="M388.8,492.4L393.3,495.8L397.2,491.5L392.7,487.9Z" fill="#00f759"/><path d="M380.3,493.5L384.8,496.8L388.8,492.4L384.3,488.8Z" fill="#00f668"/><path d="M384.8,496.8L389.4,499.9L393.3,495.8L388.8,492.4Z" fill="#00f38f"/><path d="M393.3,495.8L397.9,498.9L401.8,494.8L397.2,491.5Z" fill="#00f57c"/><path d="M376.3,498.1L380.9,501.1L384.8,496.8L380.3,493.5Z" fill="#00f1a9"/><path d="M372.3,502.5L376.8,505.2L380.9,501.1L376.3,498.1Z" fill="#00ecf1"/><path d="M380.9,501.1L385.4,503.9L389.4,499.9L384.8,496.8Z" fill="#00eed2"/><path d="M389.4,499.9L393.9,502.8L397.9,498.9L393.3,495.8Z" fill="#00f0b8"/><path d="M397.9,498.9L402.5,501.6L406.4,497.8L401.8,494.8Z" fill="#00f29f"/><path d="M402.5,501.6L407.1,504.0L411.0,500.3L406.4,497.8Z" fill="#00f0bb"/><path d="M368.3,506.7L372.8,509.2L376.8,505.2L372.3,502.5Z" fill="#00bbfd"/><path d="M376.8,505.2L381.4,507.8L385.4,503.9L380.9,501.1Z" fill="#00d8fe"/><path d="M385.4,503.9L390.0,506.5L393.9,502.8L389.4,499.9Z" fill="#00ecf3"/><path d="M393.9,502.8L398.5,505.3L402.5,501.6L397.9,498.9Z" fill="#00eed8"/><path d="M364.3,510.8L368.7,513.0L372.8,509.2L368.3,506.7Z" fill="#008efb"/><path d="M381.4,507.8L386.0,510.1L390.0,506.5L385.4,503.9Z" fill="#00c3fd"/><path d="M398.5,505.3L403.2,507.6L407.1,504.0L402.5,501.6Z" fill="#00eced"/><path d="M407.1,504.0L411.8,506.1L415.7,502.6L411.0,500.3Z" fill="#00efcc"/><path d="M372.8,509.2L377.3,511.5L381.4,507.8L376.8,505.2Z" fill="#00abfc"/><path d="M390.0,506.5L394.6,508.9L398.5,505.3L393.9,502.8Z" fill="#00ddfe"/><path d="M368.7,513.0L373.3,515.0L377.3,511.5L372.8,509.2Z" fill="#0085fb"/><path d="M360.2,514.8L364.6,516.7L368.7,513.0L364.3,510.8Z" fill="#0065f9"/><path d="M377.3,511.5L381.9,513.6L386.0,510.1L381.4,507.8Z" fill="#009ffc"/><path d="M386.0,510.1L390.6,512.3L394.6,508.9L390.0,506.5Z" fill="#00b6fd"/><path d="M394.6,508.9L399.2,511.0L403.2,507.6L398.5,505.3Z" fill="#00cdfe"/><path d="M403.2,507.6L407.9,509.6L411.8,506.1L407.1,504.0Z" fill="#00ebf9"/><path d="M411.8,506.1L416.5,507.9L420.4,504.4L415.7,502.6Z" fill="#00eed2"/><path d="M364.6,516.7L369.2,518.4L373.3,515.0L368.7,513.0Z" fill="#0063f9"/><path d="M373.3,515.0L377.8,516.9L381.9,513.6L377.3,511.5Z" fill="#0080fa"/><path d="M390.6,512.3L395.2,514.2L399.2,511.0L394.6,508.9Z" fill="#00affc"/><path d="M416.5,507.9L421.3,509.4L425.2,505.9L420.4,504.4Z" fill="#00efcd"/><path d="M356.0,518.6L360.5,520.2L364.6,516.7L360.2,514.8Z" fill="#0046f8"/><path d="M381.9,513.6L386.5,515.6L390.6,512.3L386.0,510.1Z" fill="#0098fb"/><path d="M399.2,511.0L403.9,512.9L407.9,509.6L403.2,507.6Z" fill="#00c7fd"/><path d="M407.9,509.6L412.6,511.3L416.5,507.9L411.8,506.1Z" fill="#00ebfc"/><path d="M351.9,522.3L356.3,523.6L360.5,520.2L356.0,518.6Z" fill="#0038f7"/><path d="M360.5,520.2L365.0,521.7L369.2,518.4L364.6,516.7Z" fill="#0049f8"/><path d="M369.2,518.4L373.7,520.1L377.8,516.9L373.3,515.0Z" fill="#0064f9"/><path d="M377.8,516.9L382.4,518.7L386.5,515.6L381.9,513.6Z" fill="#007efa"/><path d="M386.5,515.6L391.2,517.4L395.2,514.2L390.6,512.3Z" fill="#0096fb"/><path d="M395.2,514.2L399.9,516.0L403.9,512.9L399.2,511.0Z" fill="#00aefc"/><path d="M412.6,511.3L417.4,512.7L421.3,509.4L416.5,507.9Z" fill="#00ecf4"/><path d="M421.3,509.4L426.2,510.6L430.0,507.0L425.2,505.9Z" fill="#00f0bc"/><path d="M403.9,512.9L408.6,514.5L412.6,511.3L407.9,509.6Z" fill="#00c8fe"/><path d="M382.4,518.7L387.1,520.4L391.2,517.4L386.5,515.6Z" fill="#0080fa"/><path d="M426.2,510.6L431.1,511.4L435.0,507.8L430.0,507.0Z" fill="#00f2a1"/><path d="M347.6,525.8L352.1,526.8L356.3,523.6L351.9,522.3Z" fill="#002cf7"/><path d="M356.3,523.6L360.8,524.8L365.0,521.7L360.5,520.2Z" fill="#003ef8"/><path d="M365.0,521.7L369.6,523.2L373.7,520.1L369.2,518.4Z" fill="#004cf8"/><path d="M373.7,520.1L378.3,521.7L382.4,518.7L377.8,516.9Z" fill="#0068f9"/><path d="M391.2,517.4L395.9,519.0L399.9,516.0L395.2,514.2Z" fill="#0098fb"/><path d="M399.9,516.0L404.6,517.6L408.6,514.5L403.9,512.9Z" fill="#00b1fd"/><path d="M408.6,514.5L413.4,515.9L417.4,512.7L412.6,511.3Z" fill="#00d0fe"/><path d="M417.4,512.7L422.2,513.9L426.2,510.6L421.3,509.4Z" fill="#00ede3"/><path d="M360.8,524.8L365.3,526.1L369.6,523.2L365.0,521.7Z" fill="#0043f8"/><path d="M378.3,521.7L383.0,523.2L387.1,520.4L382.4,518.7Z" fill="#006efa"/><path d="M387.1,520.4L391.8,521.9L395.9,519.0L391.2,517.4Z" fill="#0086fb"/><path d="M404.6,517.6L409.4,519.0L413.4,515.9L408.6,514.5Z" fill="#00bafd"/><path d="M422.2,513.9L427.1,514.8L431.1,511.4L426.2,510.6Z" fill="#00efc8"/><path d="M431.1,511.4L436.0,511.9L440.0,508.2L435.0,507.8Z" fill="#00f47e"/><path d="M352.1,526.8L356.6,527.8L360.8,524.8L356.3,523.6Z" fill="#0034f7"/><path d="M343.4,529.2L347.8,529.9L352.1,526.8L347.6,525.8Z" fill="#0022f6"/><path d="M369.6,523.2L374.2,524.6L378.3,521.7L373.7,520.1Z" fill="#0055f9"/><path d="M395.9,519.0L400.6,520.5L404.6,517.6L399.9,516.0Z" fill="#009efc"/><path d="M413.4,515.9L418.3,517.1L422.2,513.9L417.4,512.7Z" fill="#00e5ff"/><path d="M339.1,532.4L343.5,532.9L347.8,529.9L343.4,529.2Z" fill="#0019f6"/><path d="M356.6,527.8L361.1,528.8L365.3,526.1L360.8,524.8Z" fill="#003cf8"/><path d="M365.3,526.1L369.9,527.3L374.2,524.6L369.6,523.2Z" fill="#0049f8"/><path d="M374.2,524.6L378.8,525.9L383.0,523.2L378.3,521.7Z" fill="#0061f9"/><path d="M383.0,523.2L387.7,524.6L391.8,521.9L387.1,520.4Z" fill="#0078fa"/><path d="M391.8,521.9L396.5,523.3L400.6,520.5L395.9,519.0Z" fill="#008ffb"/><path d="M400.6,520.5L405.4,521.9L409.4,519.0L404.6,517.6Z" fill="#00a9fc"/><path d="M409.4,519.0L414.3,520.2L418.3,517.1L413.4,515.9Z" fill="#00c9fe"/><path d="M418.3,517.1L423.2,518.0L427.1,514.8L422.2,513.9Z" fill="#00edea"/><path d="M427.1,514.8L432.1,515.4L436.0,511.9L431.1,511.4Z" fill="#00f2a4"/><path d="M436.0,511.9L441.1,512.0L445.0,508.2L440.0,508.2Z" fill="#00f75b"/><path d="M347.8,529.9L352.3,530.7L356.6,527.8L352.1,526.8Z" fill="#002df7"/><path d="M369.9,527.3L374.6,528.5L378.8,525.9L374.2,524.6Z" fill="#0057f9"/><path d="M396.5,523.3L401.3,524.6L405.4,521.9L400.6,520.5Z" fill="#009cfc"/><path d="M414.3,520.2L419.2,521.1L423.2,518.0L418.3,517.1Z" fill="#00e4ff"/><path d="M441.1,512.0L446.3,511.9L450.2,507.8L445.0,508.2Z" fill="#00fa32"/><path d="M343.5,532.9L347.9,533.4L352.3,530.7L347.8,529.9Z" fill="#0027f7"/><path d="M334.7,535.5L339.1,535.7L343.5,532.9L339.1,532.4Z" fill="#0012f6"/><path d="M352.3,530.7L356.8,531.5L361.1,528.8L356.6,527.8Z" fill="#0037f7"/><path d="M361.1,528.8L365.7,529.8L369.9,527.3L365.3,526.1Z" fill="#0045f8"/><path d="M378.8,525.9L383.5,527.2L387.7,524.6L383.0,523.2Z" fill="#006efa"/><path d="M387.7,524.6L392.4,525.9L396.5,523.3L391.8,521.9Z" fill="#0084fb"/><path d="M405.4,521.9L410.2,523.0L414.3,520.2L409.4,519.0Z" fill="#00b8fd"/><path d="M423.2,518.0L428.2,518.7L432.1,515.4L427.1,514.8Z" fill="#00efc7"/><path d="M432.1,515.4L437.2,515.7L441.1,512.0L436.0,511.9Z" fill="#00f57a"/><path d="M330.3,538.4L334.6,538.3L339.1,535.7L334.7,535.5Z" fill="#000df6"/><path d="M347.9,533.4L352.4,533.9L356.8,531.5L352.3,530.7Z" fill="#0034f7"/><path d="M365.7,529.8L370.3,530.9L374.6,528.5L369.9,527.3Z" fill="#0051f8"/><path d="M374.6,528.5L379.3,529.6L383.5,527.2L378.8,525.9Z" fill="#0068f9"/><path d="M392.4,525.9L397.2,527.2L401.3,524.6L396.5,523.3Z" fill="#0093fb"/><path d="M401.3,524.6L406.2,525.8L410.2,523.0L405.4,521.9Z" fill="#00acfc"/><path d="M410.2,523.0L415.2,524.0L419.2,521.1L414.3,520.2Z" fill="#00ccfe"/><path d="M419.2,521.1L424.2,521.9L428.2,518.7L423.2,518.0Z" fill="#00ede4"/><path d="M437.2,515.7L442.3,515.7L446.3,511.9L441.1,512.0Z" fill="#00f853"/><path d="M446.3,511.9L451.5,511.3L455.5,507.0L450.2,507.8Z" fill="#0ffa2f"/><path d="M339.1,535.7L343.5,535.9L347.9,533.4L343.5,532.9Z" fill="#0023f6"/><path d="M356.8,531.5L361.4,532.3L365.7,529.8L361.1,528.8Z" fill="#0042f8"/><path d="M383.5,527.2L388.3,528.4L392.4,525.9L387.7,524.6Z" fill="#007dfa"/><path d="M428.2,518.7L433.2,519.2L437.2,515.7L432.1,515.4Z" fill="#00f29b"/><path d="M406.2,525.8L411.1,526.8L415.2,524.0L410.2,523.0Z" fill="#00c0fd"/><path d="M334.6,538.3L339.0,538.3L343.5,535.9L339.1,535.7Z" fill="#0020f6"/><path d="M325.8,541.2L330.1,540.8L334.6,538.3L330.3,538.4Z" fill="#0009f5"/><path d="M343.5,535.9L348.0,536.3L352.4,533.9L347.9,533.4Z" fill="#0032f7"/><path d="M352.4,533.9L357.0,534.6L361.4,532.3L356.8,531.5Z" fill="#0041f8"/><path d="M370.3,530.9L375.0,531.9L379.3,529.6L374.6,528.5Z" fill="#0065f9"/><path d="M379.3,529.6L384.0,530.7L388.3,528.4L383.5,527.2Z" fill="#007afa"/><path d="M388.3,528.4L393.1,529.6L397.2,527.2L392.4,525.9Z" fill="#008efb"/><path d="M397.2,527.2L402.1,528.3L406.2,525.8L401.3,524.6Z" fill="#00a4fc"/><path d="M415.2,524.0L420.1,524.9L424.2,521.9L419.2,521.1Z" fill="#00ebfa"/><path d="M424.2,521.9L429.2,522.4L433.2,519.2L428.2,518.7Z" fill="#00f0bb"/><path d="M433.2,519.2L438.3,519.3L442.3,515.7L437.2,515.7Z" fill="#00f570"/><path d="M442.3,515.7L447.5,515.4L451.5,511.3L446.3,511.9Z" fill="#04fa31"/><path d="M451.5,511.3L456.9,510.4L460.9,505.8L455.5,507.0Z" fill="#20fa2c"/><path d="M361.4,532.3L366.0,533.1L370.3,530.9L365.7,529.8Z" fill="#004ff8"/><path d="M339.0,538.3L343.5,538.5L348.0,536.3L343.5,535.9Z" fill="#0032f7"/><path d="M384.0,530.7L388.9,531.9L393.1,529.6L388.3,528.4Z" fill="#008dfb"/><path d="M402.1,528.3L407.0,529.4L411.1,526.8L406.2,525.8Z" fill="#00b9fd"/><path d="M411.1,526.8L416.1,527.7L420.1,524.9L415.2,524.0Z" fill="#00ddfe"/><path d="M429.2,522.4L434.3,522.8L438.3,519.3L433.2,519.2Z" fill="#00f48b"/><path d="M456.9,510.4L462.3,509.2L466.4,504.2L460.9,505.8Z" fill="#33fa28"/><path d="M357.0,534.6L361.6,535.2L366.0,533.1L361.4,532.3Z" fill="#0051f8"/><path d="M321.3,543.8L325.5,543.2L330.1,540.8L325.8,541.2Z" fill="#0008f5"/><path d="M330.1,540.8L334.5,540.6L339.0,538.3L334.6,538.3Z" fill="#001ff6"/><path d="M348.0,536.3L352.6,536.7L357.0,534.6L352.4,533.9Z" fill="#0042f8"/><path d="M366.0,533.1L370.7,534.0L375.0,531.9L370.3,530.9Z" fill="#0067f9"/><path d="M375.0,531.9L379.8,532.9L384.0,530.7L379.3,529.6Z" fill="#007bfa"/><path d="M393.1,529.6L397.9,530.7L402.1,528.3L397.2,527.2Z" fill="#00a1fc"/><path d="M420.1,524.9L425.2,525.5L429.2,522.4L424.2,521.9Z" fill="#00eed4"/><path d="M438.3,519.3L443.5,519.3L447.5,515.4L442.3,515.7Z" fill="#00f946"/><path d="M447.5,515.4L452.9,514.8L456.9,510.4L451.5,511.3Z" fill="#13fa2e"/><path d="M343.5,538.5L348.1,538.7L352.6,536.7L348.0,536.3Z" fill="#0044f8"/><path d="M316.7,546.3L320.9,545.4L325.5,543.2L321.3,543.8Z" fill="#0008f5"/><path d="M334.5,540.6L339.0,540.5L343.5,538.5L339.0,538.3Z" fill="#0034f7"/><path d="M361.6,535.2L366.3,536.0L370.7,534.0L366.0,533.1Z" fill="#006dfa"/><path d="M379.8,532.9L384.6,534.0L388.9,531.9L384.0,530.7Z" fill="#0090fb"/><path d="M388.9,531.9L393.7,532.9L397.9,530.7L393.1,529.6Z" fill="#00a2fc"/><path d="M397.9,530.7L402.8,531.8L407.0,529.4L402.1,528.3Z" fill="#00b6fd"/><path d="M407.0,529.4L412.0,530.3L416.1,527.7L411.1,526.8Z" fill="#00d1fe"/><path d="M416.1,527.7L421.1,528.5L425.2,525.5L420.1,524.9Z" fill="#00ede6"/><path d="M425.2,525.5L430.3,526.0L434.3,522.8L429.2,522.4Z" fill="#00f1a7"/><path d="M434.3,522.8L439.5,522.9L443.5,519.3L438.3,519.3Z" fill="#00f662"/><path d="M452.9,514.8L458.3,513.8L462.3,509.2L456.9,510.4Z" fill="#25fa2b"/><path d="M462.3,509.2L467.9,507.5L472.0,502.2L466.4,504.2Z" fill="#5cfb20"/><path d="M325.5,543.2L329.9,542.7L334.5,540.6L330.1,540.8Z" fill="#0020f6"/><path d="M352.6,536.7L357.2,537.2L361.6,535.2L357.0,534.6Z" fill="#0056f9"/><path d="M370.7,534.0L375.5,534.9L379.8,532.9L375.0,531.9Z" fill="#0080fa"/><path d="M443.5,519.3L448.9,518.9L452.9,514.8L447.5,515.4Z" fill="#08fa30"/><path d="M393.7,532.9L398.6,534.0L402.8,531.8L397.9,530.7Z" fill="#00b7fd"/><path d="M421.1,528.5L426.2,529.1L430.3,526.0L425.2,525.5Z" fill="#00f0bd"/><path d="M467.9,507.5L473.6,505.5L477.8,499.7L472.0,502.2Z" fill="#9bfb13"/><path d="M348.1,538.7L352.7,539.0L357.2,537.2L352.6,536.7Z" fill="#0060f9"/><path d="M312.0,548.6L316.2,547.5L320.9,545.4L316.7,546.3Z" fill="#000af5"/><path d="M320.9,545.4L325.2,544.7L329.9,542.7L325.5,543.2Z" fill="#0023f6"/><path d="M329.9,542.7L334.4,542.4L339.0,540.5L334.5,540.6Z" fill="#0037f7"/><path d="M339.0,540.5L343.5,540.5L348.1,538.7L343.5,538.5Z" fill="#0048f8"/><path d="M357.2,537.2L361.9,537.8L366.3,536.0L361.6,535.2Z" fill="#0077fa"/><path d="M366.3,536.0L371.1,536.8L375.5,534.9L370.7,534.0Z" fill="#0088fb"/><path d="M375.5,534.9L380.3,535.9L384.6,534.0L379.8,532.9Z" fill="#0098fb"/><path d="M384.6,534.0L389.5,535.0L393.7,532.9L388.9,531.9Z" fill="#00a6fc"/><path d="M402.8,531.8L407.8,532.8L412.0,530.3L407.0,529.4Z" fill="#00cdfe"/><path d="M412.0,530.3L417.0,531.2L421.1,528.5L416.1,527.7Z" fill="#00ecf2"/><path d="M430.3,526.0L435.5,526.4L439.5,522.9L434.3,522.8Z" fill="#00f579"/><path d="M439.5,522.9L444.8,522.8L448.9,518.9L443.5,519.3Z" fill="#00fa37"/><path d="M448.9,518.9L454.3,518.3L458.3,513.8L452.9,514.8Z" fill="#18fa2d"/><path d="M458.3,513.8L463.8,512.6L467.9,507.5L462.3,509.2Z" fill="#38fa27"/><path d="M352.7,539.0L357.4,539.5L361.9,537.8L357.2,537.2Z" fill="#0084fb"/><path d="M371.1,536.8L375.9,537.7L380.3,535.9L375.5,534.9Z" fill="#00a3fc"/><path d="M389.5,535.0L394.4,536.1L398.6,534.0L393.7,532.9Z" fill="#00bdfd"/><path d="M398.6,534.0L403.6,535.0L407.8,532.8L402.8,531.8Z" fill="#00cefe"/><path d="M417.0,531.2L422.1,531.9L426.2,529.1L421.1,528.5Z" fill="#00efcc"/><path d="M426.2,529.1L431.4,529.6L435.5,526.4L430.3,526.0Z" fill="#00f38e"/><path d="M444.8,522.8L450.2,522.5L454.3,518.3L448.9,518.9Z" fill="#0dfa2f"/><path d="M463.8,512.6L469.5,511.0L473.6,505.5L467.9,507.5Z" fill="#6afb1d"/><path d="M473.6,505.5L479.5,503.0L483.7,496.7L477.8,499.7Z" fill="#e2fc05"/><path d="M325.2,544.7L329.7,544.1L334.4,542.4L329.9,542.7Z" fill="#003df8"/><path d="M343.5,540.5L348.1,540.7L352.7,539.0L348.1,538.7Z" fill="#006efa"/><path d="M307.2,550.8L311.4,549.4L316.2,547.5L312.0,548.6Z" fill="#000df6"/><path d="M316.2,547.5L320.5,546.5L325.2,544.7L320.9,545.4Z" fill="#0027f7"/><path d="M334.4,542.4L338.9,542.2L343.5,540.5L339.0,540.5Z" fill="#0050f8"/><path d="M361.9,537.8L366.6,538.5L371.1,536.8L366.3,536.0Z" fill="#0095fb"/><path d="M380.3,535.9L385.2,536.9L389.5,535.0L384.6,534.0Z" fill="#00affc"/><path d="M407.8,532.8L412.9,533.7L417.0,531.2L412.0,530.3Z" fill="#00ebf8"/><path d="M435.5,526.4L440.8,526.5L444.8,522.8L439.5,522.9Z" fill="#00f852"/><path d="M454.3,518.3L459.8,517.4L463.8,512.6L458.3,513.8Z" fill="#2afa2a"/><path d="M302.4,552.8L306.5,551.2L311.4,549.4L307.2,550.8Z" fill="#0012f6"/><path d="M311.4,549.4L315.7,548.2L320.5,546.5L316.2,547.5Z" fill="#002df7"/><path d="M320.5,546.5L324.9,545.7L329.7,544.1L325.2,544.7Z" fill="#0043f8"/><path d="M329.7,544.1L334.2,543.8L338.9,542.2L334.4,542.4Z" fill="#0061f9"/><path d="M338.9,542.2L343.5,542.2L348.1,540.7L343.5,540.5Z" fill="#007ffa"/><path d="M348.1,540.7L352.8,541.0L357.4,539.5L352.7,539.0Z" fill="#0096fb"/><path d="M357.4,539.5L362.1,540.1L366.6,538.5L361.9,537.8Z" fill="#00a6fc"/><path d="M366.6,538.5L371.5,539.3L375.9,537.7L371.1,536.8Z" fill="#00b3fd"/><path d="M375.9,537.7L380.8,538.6L385.2,536.9L380.3,535.9Z" fill="#00bdfd"/><path d="M385.2,536.9L390.1,537.9L394.4,536.1L389.5,535.0Z" fill="#00c7fd"/><path d="M394.4,536.1L399.4,537.1L403.6,535.0L398.6,534.0Z" fill="#00d7fe"/><path d="M403.6,535.0L408.7,536.0L412.9,533.7L407.8,532.8Z" fill="#00ecf8"/><path d="M412.9,533.7L418.0,534.6L422.1,531.9L417.0,531.2Z" fill="#00eed4"/><path d="M422.1,531.9L427.3,532.6L431.4,529.6L426.2,529.1Z" fill="#00f2a1"/><path d="M431.4,529.6L436.7,529.9L440.8,526.5L435.5,526.4Z" fill="#00f667"/><path d="M440.8,526.5L446.1,526.4L450.2,522.5L444.8,522.8Z" fill="#04fa31"/><path d="M450.2,522.5L455.7,521.9L459.8,517.4L454.3,518.3Z" fill="#1dfa2c"/><path d="M459.8,517.4L465.4,516.2L469.5,511.0L463.8,512.6Z" fill="#3dfa26"/><path d="M469.5,511.0L475.3,509.0L479.5,503.0L473.6,505.5Z" fill="#a8fb11"/><path d="M479.5,503.0L485.5,500.2L489.8,493.3L483.7,496.7Z" fill="#fd9d00"/><path d="M362.1,540.1L367.0,540.8L371.5,539.3L366.6,538.5Z" fill="#00c6fd"/><path d="M380.8,538.6L385.7,539.7L390.1,537.9L385.2,536.9Z" fill="#00d9fe"/><path d="M408.7,536.0L413.8,537.0L418.0,534.6L412.9,533.7Z" fill="#00eed5"/><path d="M436.7,529.9L442.0,530.2L446.1,526.4L440.8,526.5Z" fill="#00f940"/><path d="M455.7,521.9L461.2,521.1L465.4,516.2L459.8,517.4Z" fill="#2efa29"/><path d="M315.7,548.2L320.0,547.2L324.9,545.7L320.5,546.5Z" fill="#004df8"/><path d="M334.2,543.8L338.8,543.6L343.5,542.2L338.9,542.2Z" fill="#0095fb"/><path d="M306.5,551.2L310.8,549.7L315.7,548.2L311.4,549.4Z" fill="#0035f7"/><path d="M324.9,545.7L329.4,545.2L334.2,543.8L329.7,544.1Z" fill="#0076fa"/><path d="M343.5,542.2L348.1,542.4L352.8,541.0L348.1,540.7Z" fill="#00acfc"/><path d="M352.8,541.0L357.6,541.5L362.1,540.1L357.4,539.5Z" fill="#00bbfd"/><path d="M371.5,539.3L376.3,540.2L380.8,538.6L375.9,537.7Z" fill="#00cefe"/><path d="M390.1,537.9L395.1,539.0L399.4,537.1L394.4,536.1Z" fill="#00e7ff"/><path d="M399.4,537.1L404.4,538.2L408.7,536.0L403.6,535.0Z" fill="#00ecf1"/><path d="M418.0,534.6L423.2,535.4L427.3,532.6L422.1,531.9Z" fill="#00f1ad"/><path d="M427.3,532.6L432.6,533.2L436.7,529.9L431.4,529.6Z" fill="#00f578"/><path d="M446.1,526.4L451.6,526.2L455.7,521.9L450.2,522.5Z" fill="#12fa2e"/><path d="M465.4,516.2L471.1,514.7L475.3,509.0L469.5,511.0Z" fill="#75fb1b"/><path d="M475.3,509.0L481.2,506.7L485.5,500.2L479.5,503.0Z" fill="#f5fc01"/><path d="M357.6,541.5L362.4,542.1L367.0,540.8L362.1,540.1Z" fill="#00e6ff"/><path d="M367.0,540.8L371.8,541.6L376.3,540.2L371.5,539.3Z" fill="#00ebfb"/><path d="M376.3,540.2L381.3,541.2L385.7,539.7L380.8,538.6Z" fill="#00ecf5"/><path d="M385.7,539.7L390.7,540.7L395.1,539.0L390.1,537.9Z" fill="#00ecee"/><path d="M404.4,538.2L409.6,539.3L413.8,537.0L408.7,536.0Z" fill="#00eed0"/><path d="M413.8,537.0L419.0,538.0L423.2,535.4L418.0,534.6Z" fill="#00f1b1"/><path d="M432.6,533.2L437.9,533.6L442.0,530.2L436.7,529.9Z" fill="#00f755"/><path d="M442.0,530.2L447.4,530.2L451.6,526.2L446.1,526.4Z" fill="#08fa30"/><path d="M451.6,526.2L457.1,525.8L461.2,521.1L455.7,521.9Z" fill="#21fa2b"/><path d="M461.2,521.1L466.9,520.1L471.1,514.7L465.4,516.2Z" fill="#48fb24"/><path d="M310.8,549.7L315.1,548.5L320.0,547.2L315.7,548.2Z" fill="#0064f9"/><path d="M320.0,547.2L324.5,546.4L329.4,545.2L324.9,545.7Z" fill="#008ffb"/><path d="M329.4,545.2L333.9,544.8L338.8,543.6L334.2,543.8Z" fill="#00aefc"/><path d="M338.8,543.6L343.4,543.6L348.1,542.4L343.5,542.2Z" fill="#00c5fd"/><path d="M348.1,542.4L352.9,542.7L357.6,541.5L352.8,541.0Z" fill="#00d7fe"/><path d="M395.1,539.0L400.2,540.1L404.4,538.2L399.4,537.1Z" fill="#00ede3"/><path d="M423.2,535.4L428.4,536.1L432.6,533.2L427.3,532.6Z" fill="#00f483"/><path d="M471.1,514.7L477.0,512.9L481.2,506.7L475.3,509.0Z" fill="#b2fb0f"/><path d="M371.8,541.6L376.8,542.5L381.3,541.2L376.3,540.2Z" fill="#00eed6"/><path d="M447.4,530.2L453.0,530.1L457.1,525.8L451.6,526.2Z" fill="#16fa2e"/><path d="M324.5,546.4L329.1,545.8L333.9,544.8L329.4,545.2Z" fill="#00ccfe"/><path d="M352.9,542.7L357.7,543.2L362.4,542.1L357.6,541.5Z" fill="#00eddd"/><path d="M315.1,548.5L319.5,547.4L324.5,546.4L320.0,547.2Z" fill="#00abfc"/><path d="M333.9,544.8L338.6,544.6L343.4,543.6L338.8,543.6Z" fill="#00ebfd"/><path d="M362.4,542.1L367.3,542.8L371.8,541.6L367.0,540.8Z" fill="#00eed8"/><path d="M381.3,541.2L386.3,542.3L390.7,540.7L385.7,539.7Z" fill="#00eed4"/><path d="M390.7,540.7L395.8,541.9L400.2,540.1L395.1,539.0Z" fill="#00eecf"/><path d="M400.2,540.1L405.3,541.3L409.6,539.3L404.4,538.2Z" fill="#00efc4"/><path d="M409.6,539.3L414.7,540.3L419.0,538.0L413.8,537.0Z" fill="#00f1af"/><path d="M419.0,538.0L424.2,538.9L428.4,536.1L423.2,535.4Z" fill="#00f38c"/><path d="M428.4,536.1L433.7,536.8L437.9,533.6L432.6,533.2Z" fill="#00f664"/><path d="M437.9,533.6L443.3,534.0L447.4,530.2L442.0,530.2Z" fill="#01fa32"/><path d="M457.1,525.8L462.8,525.1L466.9,520.1L461.2,521.1Z" fill="#32fa28"/><path d="M466.9,520.1L472.7,518.8L477.0,512.9L471.1,514.7Z" fill="#7efb19"/><path d="M343.4,543.6L348.2,543.7L352.9,542.7L348.1,542.4Z" fill="#00ede9"/><path d="M367.3,542.8L372.2,543.7L376.8,542.5L371.8,541.6Z" fill="#00f1b1"/><path d="M376.8,542.5L381.8,543.6L386.3,542.3L381.3,541.2Z" fill="#00f1b4"/><path d="M395.8,541.9L400.9,543.1L405.3,541.3L400.2,540.1Z" fill="#00f1b1"/><path d="M424.2,538.9L429.5,539.8L433.7,536.8L428.4,536.1Z" fill="#00f66e"/><path d="M443.3,534.0L448.8,534.2L453.0,530.1L447.4,530.2Z" fill="#0dfa30"/><path d="M453.0,530.1L458.6,529.9L462.8,525.1L457.1,525.8Z" fill="#24fa2b"/><path d="M348.2,543.7L353.0,544.1L357.7,543.2L352.9,542.7Z" fill="#00f1b2"/><path d="M319.5,547.4L324.1,546.7L329.1,545.8L324.5,546.4Z" fill="#00ecef"/><path d="M329.1,545.8L333.7,545.5L338.6,544.6L333.9,544.8Z" fill="#00eed0"/><path d="M357.7,543.2L362.6,543.8L367.3,542.8L362.4,542.1Z" fill="#00f1af"/><path d="M338.6,544.6L343.3,544.6L348.2,543.7L343.4,543.6Z" fill="#00f0bd"/><path d="M386.3,542.3L391.4,543.5L395.8,541.9L390.7,540.7Z" fill="#00f0b5"/><path d="M405.3,541.3L410.5,542.5L414.7,540.3L409.6,539.3Z" fill="#00f2a5"/><path d="M414.7,540.3L420.0,541.4L424.2,538.9L419.0,538.0Z" fill="#00f38d"/><path d="M433.7,536.8L439.1,537.5L443.3,534.0L437.9,533.6Z" fill="#00f944"/><path d="M462.8,525.1L468.5,524.3L472.7,518.8L466.9,520.1Z" fill="#4ffb22"/><path d="M362.6,543.8L367.6,544.7L372.2,543.7L367.3,542.8Z" fill="#00f486"/><path d="M324.1,546.7L328.7,546.1L333.7,545.5L329.1,545.8Z" fill="#00f29e"/><path d="M343.3,544.6L348.2,544.9L353.0,544.1L348.2,543.7Z" fill="#00f483"/><path d="M353.0,544.1L357.9,544.7L362.6,543.8L357.7,543.2Z" fill="#00f482"/><path d="M372.2,543.7L377.3,544.7L381.8,543.6L376.8,542.5Z" fill="#00f38d"/><path d="M381.8,543.6L386.9,544.8L391.4,543.5L386.3,542.3Z" fill="#00f394"/><path d="M391.4,543.5L396.5,544.7L400.9,543.1L395.8,541.9Z" fill="#00f398"/><path d="M400.9,543.1L406.1,544.4L410.5,542.5L405.3,541.3Z" fill="#00f395"/><path d="M420.0,541.4L425.3,542.5L429.5,539.8L424.2,538.9Z" fill="#00f572"/><path d="M429.5,539.8L434.9,540.7L439.1,537.5L433.7,536.8Z" fill="#00f852"/><path d="M439.1,537.5L444.6,538.0L448.8,534.2L443.3,534.0Z" fill="#05fa31"/><path d="M448.8,534.2L454.4,534.4L458.6,529.9L453.0,530.1Z" fill="#19fa2d"/><path d="M458.6,529.9L464.3,529.5L468.5,524.3L462.8,525.1Z" fill="#34fa28"/><path d="M333.7,545.5L338.4,545.3L343.3,544.6L338.6,544.6Z" fill="#00f48b"/><path d="M410.5,542.5L415.7,543.7L420.0,541.4L414.7,540.3Z" fill="#00f487"/><path d="M357.9,544.7L362.9,545.4L367.6,544.7L362.6,543.8Z" fill="#00f663"/><path d="M386.9,544.8L392.1,546.1L396.5,544.7L391.4,543.5Z" fill="#00f57c"/><path d="M434.9,540.7L440.4,541.5L444.6,538.0L439.1,537.5Z" fill="#00fa34"/><path d="M338.4,545.3L343.3,545.4L348.2,544.9L343.3,544.6Z" fill="#00f75d"/><path d="M328.7,546.1L333.4,545.9L338.4,545.3L333.7,545.5Z" fill="#00f662"/><path d="M348.2,544.9L353.1,545.3L357.9,544.7L353.0,544.1Z" fill="#00f75e"/><path d="M367.6,544.7L372.6,545.7L377.3,544.7L372.2,543.7Z" fill="#00f66b"/><path d="M377.3,544.7L382.4,545.9L386.9,544.8L381.8,543.6Z" fill="#00f574"/><path d="M396.5,544.7L401.7,546.1L406.1,544.4L400.9,543.1Z" fill="#00f47f"/><path d="M406.1,544.4L411.4,545.8L415.7,543.7L410.5,542.5Z" fill="#00f57d"/><path d="M415.7,543.7L421.0,545.0L425.3,542.5L420.0,541.4Z" fill="#00f571"/><path d="M425.3,542.5L430.7,543.6L434.9,540.7L429.5,539.8Z" fill="#00f75a"/><path d="M444.6,538.0L450.2,538.5L454.4,534.4L448.8,534.2Z" fill="#10fa2f"/><path d="M454.4,534.4L460.0,534.4L464.3,529.5L458.6,529.9Z" fill="#26fa2a"/><path d="M333.4,545.9L338.2,545.8L343.3,545.4L338.4,545.3Z" fill="#00fa34"/><path d="M353.1,545.3L358.0,546.0L362.9,545.4L357.9,544.7Z" fill="#00f93d"/><path d="M362.9,545.4L367.9,546.4L372.6,545.7L367.6,544.7Z" fill="#00f848"/><path d="M382.4,545.9L387.5,547.3L392.1,546.1L386.9,544.8Z" fill="#00f761"/><path d="M392.1,546.1L397.3,547.6L401.7,546.1L396.5,544.7Z" fill="#00f66a"/><path d="M411.4,545.8L416.7,547.2L421.0,545.0L415.7,543.7Z" fill="#00f66a"/><path d="M430.7,543.6L436.2,544.8L440.4,541.5L434.9,540.7Z" fill="#00f941"/><path d="M440.4,541.5L445.9,542.3L450.2,538.5L444.6,538.0Z" fill="#08fa30"/><path d="M343.3,545.4L348.2,545.8L353.1,545.3L348.2,544.9Z" fill="#00fa36"/><path d="M372.6,545.7L377.7,546.9L382.4,545.9L377.3,544.7Z" fill="#00f755"/><path d="M401.7,546.1L407.0,547.6L411.4,545.8L406.1,544.4Z" fill="#00f66e"/><path d="M421.0,545.0L426.4,546.3L430.7,543.6L425.3,542.5Z" fill="#00f75c"/><path d="M450.2,538.5L455.8,538.9L460.0,534.4L454.4,534.4Z" fill="#1bfa2d"/><path d="M348.2,545.8L353.1,546.4L358.0,546.0L353.1,545.3Z" fill="#09fa30"/><path d="M338.2,545.8L343.1,546.1L348.2,545.8L343.3,545.4Z" fill="#0cfa30"/><path d="M358.0,546.0L363.1,546.9L367.9,546.4L362.9,545.4Z" fill="#05fa31"/><path d="M367.9,546.4L373.0,547.6L377.7,546.9L372.6,545.7Z" fill="#00fa32"/><path d="M377.7,546.9L382.9,548.3L387.5,547.3L382.4,545.9Z" fill="#00f941"/><path d="M387.5,547.3L392.8,548.8L397.3,547.6L392.1,546.1Z" fill="#00f850"/><path d="M397.3,547.6L402.6,549.2L407.0,547.6L401.7,546.1Z" fill="#00f75a"/><path d="M407.0,547.6L412.4,549.2L416.7,547.2L411.4,545.8Z" fill="#00f75e"/><path d="M416.7,547.2L422.1,548.8L426.4,546.3L421.0,545.0Z" fill="#00f759"/><path d="M426.4,546.3L431.9,547.7L436.2,544.8L430.7,543.6Z" fill="#00f848"/><path d="M436.2,544.8L441.7,545.9L445.9,542.3L440.4,541.5Z" fill="#03fa31"/><path d="M445.9,542.3L451.6,543.1L455.8,538.9L450.2,538.5Z" fill="#12fa2e"/><path d="M343.1,546.1L348.1,546.6L353.1,546.4L348.2,545.8Z" fill="#17fa2d"/><path d="M373.0,547.6L378.2,549.0L382.9,548.3L377.7,546.9Z" fill="#06fa31"/><path d="M402.6,549.2L407.9,550.9L412.4,549.2L407.0,547.6Z" fill="#00f84d"/><path d="M422.1,548.8L427.6,550.4L431.9,547.7L426.4,546.3Z" fill="#00f849"/><path d="M353.1,546.4L358.2,547.2L363.1,546.9L358.0,546.0Z" fill="#12fa2e"/><path d="M363.1,546.9L368.2,548.1L373.0,547.6L367.9,546.4Z" fill="#0cfa30"/><path d="M382.9,548.3L388.2,549.8L392.8,548.8L387.5,547.3Z" fill="#00fa32"/><path d="M392.8,548.8L398.1,550.5L402.6,549.2L397.3,547.6Z" fill="#00f941"/><path d="M412.4,549.2L417.7,550.9L422.1,548.8L416.7,547.2Z" fill="#00f850"/><path d="M431.9,547.7L437.4,549.1L441.7,545.9L436.2,544.8Z" fill="#00fa34"/><path d="M441.7,545.9L447.3,547.0L451.6,543.1L445.9,542.3Z" fill="#0bfa30"/><path d="M348.1,546.6L353.2,547.3L358.2,547.2L353.1,546.4Z" fill="#20fa2c"/><path d="M358.2,547.2L363.4,548.4L368.2,548.1L363.1,546.9Z" fill="#1afa2d"/><path d="M368.2,548.1L373.5,549.5L378.2,549.0L373.0,547.6Z" fill="#12fa2e"/><path d="M378.2,549.0L383.5,550.6L388.2,549.8L382.9,548.3Z" fill="#0bfa30"/><path d="M398.1,550.5L403.4,552.4L407.9,550.9L402.6,549.2Z" fill="#00fa35"/><path d="M407.9,550.9L413.3,552.8L417.7,550.9L412.4,549.2Z" fill="#00f941"/><path d="M417.7,550.9L423.2,552.7L427.6,550.4L422.1,548.8Z" fill="#00f943"/><path d="M427.6,550.4L433.1,552.0L437.4,549.1L431.9,547.7Z" fill="#00f939"/><path d="M388.2,549.8L393.5,551.6L398.1,550.5L392.8,548.8Z" fill="#04fa31"/><path d="M437.4,549.1L443.0,550.6L447.3,547.0L441.7,545.9Z" fill="#05fa31"/><path d="M413.3,552.8L418.8,554.8L423.2,552.7L417.7,550.9Z" fill="#00fa37"/><path d="M353.2,547.3L358.4,548.4L363.4,548.4L358.2,547.2Z" fill="#28fa2a"/><path d="M363.4,548.4L368.6,549.7L373.5,549.5L368.2,548.1Z" fill="#20fa2c"/><path d="M373.5,549.5L378.7,551.1L383.5,550.6L378.2,549.0Z" fill="#17fa2d"/><path d="M383.5,550.6L388.8,552.4L393.5,551.6L388.2,549.8Z" fill="#0ffa2f"/><path d="M393.5,551.6L398.9,553.6L403.4,552.4L398.1,550.5Z" fill="#07fa31"/><path d="M403.4,552.4L408.9,554.4L413.3,552.8L407.9,550.9Z" fill="#02fa32"/><path d="M423.2,552.7L428.7,554.7L433.1,552.0L427.6,550.4Z" fill="#00fa38"/><path d="M433.1,552.0L438.7,553.8L443.0,550.6L437.4,549.1Z" fill="#02fa32"/><path d="M358.4,548.4L363.6,549.7L368.6,549.7L363.4,548.4Z" fill="#2ffa29"/><path d="M388.8,552.4L394.2,554.5L398.9,553.6L393.5,551.6Z" fill="#12fa2f"/><path d="M408.9,554.4L414.3,556.6L418.8,554.8L413.3,552.8Z" fill="#04fa31"/><path d="M418.8,554.8L424.3,557.0L428.7,554.7L423.2,552.7Z" fill="#01fa32"/><path d="M368.6,549.7L373.9,551.4L378.7,551.1L373.5,549.5Z" fill="#25fa2b"/><path d="M378.7,551.1L384.1,553.0L388.8,552.4L383.5,550.6Z" fill="#1bfa2d"/><path d="M398.9,553.6L404.3,555.7L408.9,554.4L403.4,552.4Z" fill="#0afa30"/><path d="M428.7,554.7L434.3,556.7L438.7,553.8L433.1,552.0Z" fill="#01fa32"/><path d="M363.6,549.7L368.9,551.3L373.9,551.4L368.6,549.7Z" fill="#34fa28"/><path d="M384.1,553.0L389.5,555.1L394.2,554.5L388.8,552.4Z" fill="#1dfa2c"/><path d="M394.2,554.5L399.7,556.7L404.3,555.7L398.9,553.6Z" fill="#13fa2e"/><path d="M404.3,555.7L409.8,558.1L414.3,556.6L408.9,554.4Z" fill="#0bfa30"/><path d="M414.3,556.6L419.9,558.9L424.3,557.0L418.8,554.8Z" fill="#05fa31"/><path d="M424.3,557.0L429.9,559.2L434.3,556.7L428.7,554.7Z" fill="#02fa32"/><path d="M373.9,551.4L379.3,553.3L384.1,553.0L378.7,551.1Z" fill="#28fa2a"/><path d="M379.3,553.3L384.7,555.4L389.5,555.1L384.1,553.0Z" fill="#2bfa2a"/><path d="M399.7,556.7L405.2,559.2L409.8,558.1L404.3,555.7Z" fill="#14fa2e"/><path d="M368.9,551.3L374.3,553.3L379.3,553.3L373.9,551.4Z" fill="#37fa27"/><path d="M389.5,555.1L395.0,557.5L399.7,556.7L394.2,554.5Z" fill="#1ffa2c"/><path d="M409.8,558.1L415.4,560.6L419.9,558.9L414.3,556.6Z" fill="#0bfa30"/><path d="M419.9,558.9L425.5,561.5L429.9,559.2L424.3,557.0Z" fill="#05fa31"/><path d="M374.3,553.3L379.8,555.5L384.7,555.4L379.3,553.3Z" fill="#3afa27"/><path d="M384.7,555.4L390.2,557.9L395.0,557.5L389.5,555.1Z" fill="#2cfa29"/><path d="M395.0,557.5L400.5,560.1L405.2,559.2L399.7,556.7Z" fill="#1ffa2c"/><path d="M405.2,559.2L410.8,561.9L415.4,560.6L409.8,558.1Z" fill="#13fa2e"/><path d="M415.4,560.6L421.0,563.4L425.5,561.5L419.9,558.9Z" fill="#0bfa30"/><path d="M379.8,555.5L385.3,558.0L390.2,557.9L384.7,555.4Z" fill="#3afa26"/><path d="M390.2,557.9L395.8,560.6L400.5,560.1L395.0,557.5Z" fill="#2bfa29"/><path d="M400.5,560.1L406.1,562.9L410.8,561.9L405.2,559.2Z" fill="#1dfa2c"/><path d="M410.8,561.9L416.4,564.9L421.0,563.4L415.4,560.6Z" fill="#12fa2e"/><path d="M385.3,558.0L390.9,560.8L395.8,560.6L390.2,557.9Z" fill="#3afa27"/><path d="M395.8,560.6L401.4,563.6L406.1,562.9L400.5,560.1Z" fill="#2afa2a"/><path d="M406.1,562.9L411.8,566.1L416.4,564.9L410.8,561.9Z" fill="#1bfa2d"/><path d="M390.9,560.8L396.6,563.9L401.4,563.6L395.8,560.6Z" fill="#38fa27"/><path d="M401.4,563.6L407.1,566.9L411.8,566.1L406.1,562.9Z" fill="#26fa2a"/><path d="M396.6,563.9L402.3,567.3L407.1,566.9L401.4,563.6Z" fill="#34fa28"/></g>
<circle cx="302.5" cy="552.8" r="1.4" fill="#c00000" stroke="#700" stroke-width="0.4"/>
<circle cx="387.7" cy="481.0" r="1.4" fill="#c00000" stroke="#700" stroke-width="0.4"/>
<circle cx="394.0" cy="536.0" r="1.4" fill="#c00000" stroke="#700" stroke-width="0.4"/>
<circle cx="402.0" cy="570.3" r="1.4" fill="#f0a0a0" stroke="#700" stroke-width="0.4"/>
<circle cx="489.0" cy="494.5" r="1.4" fill="#f0a0a0" stroke="#700" stroke-width="0.4"/>
<text x="301.6" y="593.1" text-anchor="end" font-size="6.2" fill="#222">40</text>
<text x="325.6" y="605.9" text-anchor="end" font-size="6.2" fill="#222">45</text>
<text x="349.7" y="618.6" text-anchor="end" font-size="6.2" fill="#222">50</text>
<text x="373.7" y="631.4" text-anchor="end" font-size="6.2" fill="#222">55</text>
<text x="397.7" y="644.2" text-anchor="end" font-size="6.2" fill="#222">60</text>
<text x="404.7" y="644.2" text-anchor="start" font-size="6.2" fill="#222">1</text>
<text x="420.6" y="632.5" text-anchor="start" font-size="6.2" fill="#222">1.2</text>
<text x="436.5" y="620.8" text-anchor="start" font-size="6.2" fill="#222">1.4</text>
<text x="452.3" y="609.2" text-anchor="start" font-size="6.2" fill="#222">1.6</text>
<text x="468.2" y="597.5" text-anchor="start" font-size="6.2" fill="#222">1.8</text>
<text x="484.1" y="585.8" text-anchor="start" font-size="6.2" fill="#222">2</text>
<text x="299.0" y="562.3" text-anchor="end" font-size="6.2" fill="#222">60</text>
<text x="297.9" y="549.8" text-anchor="end" font-size="6.2" fill="#222">65</text>
<text x="296.7" y="537.4" text-anchor="end" font-size="6.2" fill="#222">70</text>
<text x="295.6" y="524.9" text-anchor="end" font-size="6.2" fill="#222">75</text>
<text x="294.4" y="512.5" text-anchor="end" font-size="6.2" fill="#222">80</text>
<text x="293.3" y="500.0" text-anchor="end" font-size="6.2" fill="#222">85</text>
<text x="292.1" y="487.6" text-anchor="end" font-size="6.2" fill="#222">90</text>
<text x="271.0" y="457.0" font-size="12" font-weight="bold" fill="#000">(H)</text>
<text x="0.0" y="0.0" font-size="7.5" transform="translate(273,541) rotate(-90)" text-anchor="middle" fill="#111">EE</text>
<text x="283.0" y="635.5" font-size="8.75"  fill="#1a1a1a">A: Conc of GMS (mg)</text>
<text x="418.0" y="630.0" font-size="8.45"  fill="#1a1a1a">C: Conc of Poloxamer 40<tspan font-size="7.5" dy="0.3">(%)</tspan></text></g>
<g id="pI"><polygon points="568.8,590.3 663.6,640.3 742.6,581.4 650.8,544.7" fill="#ffff00"/>
<path d="M568.8,590.3L559.5,488.9M585.2,581.2L577.5,480.5M601.6,572.1L595.6,472.1M618.0,562.9L613.6,463.6M634.4,553.8L631.7,455.2M650.8,544.7L649.7,446.8M673.8,553.9L675.2,455.8M696.7,563.0L700.8,464.7M719.6,572.2L726.4,473.7M742.6,581.4L751.9,482.6M568.8,590.3L650.8,544.7M650.8,544.7L742.6,581.4M566.5,565.5L650.5,520.7M650.5,520.7L744.9,557.2M565.4,552.7L650.4,508.4M650.4,508.4L746.0,544.8M564.2,539.9L650.3,496.1M650.3,496.1L747.2,532.3M563.0,527.2L650.1,483.8M650.1,483.8L748.4,519.9M561.8,514.4L650.0,471.4M650.0,471.4L749.6,507.5M560.7,501.7L649.8,459.1M649.8,459.1L750.7,495.0M559.5,488.9L649.7,446.8M649.7,446.8L751.9,482.6" stroke="#3a3a3a" stroke-width="0.7" fill="none"/>
<path d="M568.8,590.3L663.6,640.3L742.6,581.4M568.8,590.3L567.7,590.9M592.5,602.8L591.4,603.4M616.2,615.3L615.1,615.9M639.9,627.8L638.8,628.4M663.6,640.3L662.5,640.9M663.6,640.3L664.8,640.8M679.4,628.5L680.6,629.0M695.2,616.7L696.4,617.2M711.0,605.0L712.2,605.4M726.8,593.2L728.0,593.7M742.6,581.4L743.8,581.9M566.5,565.5L564.3,564.8M565.4,552.7L563.2,552.0M564.2,539.9L562.0,539.2M563.0,527.2L560.8,526.5M561.8,514.4L559.6,513.7M560.7,501.7L558.5,501.0M559.5,488.9L557.3,488.2" stroke="#222" stroke-width="0.7" fill="none"/>
<path d="M663.8,586.4L664.8,585.3 666.3,584.3 668.1,583.3 668.9,583.0 670.2,582.6 672.5,581.9 674.3,581.6 675.3,581.4 678.1,581.2 678.5,581.2 681.2,581.2 682.5,581.3 684.0,581.5 686.5,581.9 688.8,582.4 689.0,582.5 690.9,583.2 692.8,584.0 694.1,584.8 694.5,585.0 696.0,586.2 697.1,587.6 697.3,587.9 697.8,589.4 697.9,589.9 697.7,591.6 697.7,591.7 697.0,593.0 695.8,594.2 694.3,595.3 692.5,596.3 690.4,597.1 689.4,597.4 687.9,597.8 685.1,598.3 684.8,598.3 681.7,598.5 681.2,598.5 678.1,598.4 677.4,598.3 675.3,598.1 672.8,597.6 670.6,597.0 670.4,596.9 668.4,596.1 666.5,595.2 665.9,594.8 664.9,594.1 663.7,592.8 662.9,591.5 662.7,591.3 662.4,589.5 662.4,589.3 662.8,587.9 663.6,586.5 663.8,586.4" stroke="#f39a00" stroke-width="0.9" fill="none" stroke-linecap="round"/>
<path d="M669.2,551.4L666.6,551.6 666.2,551.6 663.3,551.9 663.0,552.0 660.6,552.3 659.0,552.5 658.0,552.7 655.5,553.1 654.7,553.3 653.1,553.6 650.8,554.2 649.9,554.4 648.5,554.8 646.3,555.4 644.2,556.0 644.2,556.0 642.1,556.7 640.0,557.3 638.0,558.1 637.2,558.4 636.1,558.8 634.1,559.5 632.2,560.3 630.4,561.1 628.5,561.9 626.8,562.7 626.7,562.8 624.9,563.6 623.2,564.5 621.4,565.4 619.7,566.3 618.1,567.2 616.4,568.1 614.8,569.1 613.2,570.1 611.6,571.1 610.1,572.1 608.6,573.2 607.1,574.2 606.4,574.7 605.6,575.3 604.2,576.5 602.9,577.6 601.6,578.8 600.3,580.0 599.8,580.5 599.1,581.3 598.0,582.6 596.9,583.9 596.7,584.2 596.0,585.3 595.1,586.8 594.9,587.2 594.4,588.3 593.9,589.8 593.8,590.0 593.4,591.7 593.4,592.0 593.3,593.6 593.3,594.0 593.5,595.6 593.6,595.8 594.0,597.5 594.2,598.0 594.7,599.1 595.5,600.6 595.5,600.7 596.5,602.1 597.6,603.5 598.0,603.9 598.8,604.8 600.1,606.0 601.5,607.3 603.0,608.5 603.1,608.5M631.2,622.8L631.6,623.0 633.9,623.8 636.2,624.6 638.6,625.3 641.0,626.0 642.4,626.5 643.4,626.7 645.9,627.4 648.4,628.1 650.8,628.6 651.0,628.7 653.7,629.2 656.4,629.8 657.9,630.1 659.2,630.3 662.0,630.8 664.1,631.1 664.9,631.2 667.8,631.6 669.7,631.8 670.9,631.9 674.0,632.2" stroke="#20e890" stroke-width="0.9" fill="none" stroke-linecap="round"/>
<g stroke="#101010" stroke-width="0.33" stroke-linejoin="round"><path d="M646.0,475.2L650.9,479.7L655.0,476.3L650.2,471.9Z" fill="#92fb15"/><path d="M641.8,478.4L646.7,483.0L650.9,479.7L646.0,475.2Z" fill="#76fb1a"/><path d="M650.9,479.7L655.7,484.0L659.9,480.5L655.0,476.3Z" fill="#57fb21"/><path d="M637.6,481.4L642.4,486.2L646.7,483.0L641.8,478.4Z" fill="#5efb1f"/><path d="M646.7,483.0L651.5,487.5L655.7,484.0L650.9,479.7Z" fill="#38fa27"/><path d="M655.7,484.0L660.6,488.2L664.7,484.5L659.9,480.5Z" fill="#20fa2c"/><path d="M633.3,484.4L638.1,489.3L642.4,486.2L637.6,481.4Z" fill="#48fb24"/><path d="M651.5,487.5L656.4,491.7L660.6,488.2L655.7,484.0Z" fill="#00fa32"/><path d="M642.4,486.2L647.3,490.8L651.5,487.5L646.7,483.0Z" fill="#1dfa2c"/><path d="M660.6,488.2L665.4,492.1L669.6,488.3L664.7,484.5Z" fill="#00fa37"/><path d="M628.9,487.3L633.8,492.2L638.1,489.3L633.3,484.4Z" fill="#36fa27"/><path d="M638.1,489.3L643.0,493.9L647.3,490.8L642.4,486.2Z" fill="#06fa31"/><path d="M647.3,490.8L652.2,495.1L656.4,491.7L651.5,487.5Z" fill="#00f93b"/><path d="M656.4,491.7L661.3,495.8L665.4,492.1L660.6,488.2Z" fill="#00f942"/><path d="M665.4,492.1L670.3,495.9L674.5,491.9L669.6,488.3Z" fill="#00f946"/><path d="M624.5,490.0L629.4,495.1L633.8,492.2L628.9,487.3Z" fill="#26fa2a"/><path d="M643.0,493.9L647.9,498.4L652.2,495.1L647.3,490.8Z" fill="#00f943"/><path d="M661.3,495.8L666.2,499.6L670.3,495.9L665.4,492.1Z" fill="#00f851"/><path d="M633.8,492.2L638.7,497.0L643.0,493.9L638.1,489.3Z" fill="#00fa36"/><path d="M652.2,495.1L657.1,499.3L661.3,495.8L656.4,491.7Z" fill="#00f84c"/><path d="M670.3,495.9L675.3,499.4L679.4,495.4L674.5,491.9Z" fill="#00f852"/><path d="M620.1,492.7L625.0,497.8L629.4,495.1L624.5,490.0Z" fill="#1afa2d"/><path d="M629.4,495.1L634.3,499.9L638.7,497.0L633.8,492.2Z" fill="#00f93b"/><path d="M638.7,497.0L643.6,501.5L647.9,498.4L643.0,493.9Z" fill="#00f84a"/><path d="M647.9,498.4L652.8,502.6L657.1,499.3L652.2,495.1Z" fill="#00f754"/><path d="M657.1,499.3L662.0,503.2L666.2,499.6L661.3,495.8Z" fill="#00f75b"/><path d="M666.2,499.6L671.1,503.3L675.3,499.4L670.3,495.9Z" fill="#00f75e"/><path d="M675.3,499.4L680.3,502.8L684.4,498.7L679.4,495.4Z" fill="#00f75d"/><path d="M615.6,495.3L620.5,500.4L625.0,497.8L620.1,492.7Z" fill="#11fa2f"/><path d="M634.3,499.9L639.3,504.4L643.6,501.5L638.7,497.0Z" fill="#00f84f"/><path d="M652.8,502.6L657.8,506.6L662.0,503.2L657.1,499.3Z" fill="#00f664"/><path d="M671.1,503.3L676.1,506.7L680.3,502.8L675.3,499.4Z" fill="#00f66a"/><path d="M625.0,497.8L629.9,502.6L634.3,499.9L629.4,495.1Z" fill="#00f93f"/><path d="M643.6,501.5L648.5,505.7L652.8,502.6L647.9,498.4Z" fill="#00f75b"/><path d="M662.0,503.2L666.9,506.9L671.1,503.3L666.2,499.6Z" fill="#00f669"/><path d="M680.3,502.8L685.3,506.0L689.4,501.8L684.4,498.7Z" fill="#00f667"/><path d="M611.0,497.7L616.0,502.8L620.5,500.4L615.6,495.3Z" fill="#0cfa30"/><path d="M620.5,500.4L625.5,505.2L629.9,502.6L625.0,497.8Z" fill="#00f942"/><path d="M629.9,502.6L634.9,507.2L639.3,504.4L634.3,499.9Z" fill="#00f853"/><path d="M639.3,504.4L644.2,508.7L648.5,505.7L643.6,501.5Z" fill="#00f761"/><path d="M648.5,505.7L653.5,509.8L657.8,506.6L652.8,502.6Z" fill="#00f66b"/><path d="M657.8,506.6L662.7,510.4L666.9,506.9L662.0,503.2Z" fill="#00f577"/><path d="M666.9,506.9L671.9,510.4L676.1,506.7L671.1,503.3Z" fill="#00f57c"/><path d="M676.1,506.7L681.1,510.0L685.3,506.0L680.3,502.8Z" fill="#00f57b"/><path d="M685.3,506.0L690.3,509.0L694.4,504.7L689.4,501.8Z" fill="#00f572"/><path d="M606.4,500.1L611.4,505.2L616.0,502.8L611.0,497.7Z" fill="#09fa30"/><path d="M625.5,505.2L630.4,509.8L634.9,507.2L629.9,502.6Z" fill="#00f756"/><path d="M644.2,508.7L649.2,512.8L653.5,509.8L648.5,505.7Z" fill="#00f575"/><path d="M662.7,510.4L667.7,513.9L671.9,510.4L666.9,506.9Z" fill="#00f38d"/><path d="M681.1,510.0L686.2,513.0L690.3,509.0L685.3,506.0Z" fill="#00f48a"/><path d="M616.0,502.8L621.0,507.7L625.5,505.2L620.5,500.4Z" fill="#00f944"/><path d="M634.9,507.2L639.8,511.5L644.2,508.7L639.3,504.4Z" fill="#00f665"/><path d="M653.5,509.8L658.5,513.6L662.7,510.4L657.8,506.6Z" fill="#00f484"/><path d="M671.9,510.4L676.9,513.7L681.1,510.0L676.1,506.7Z" fill="#00f38f"/><path d="M690.3,509.0L695.4,511.8L699.5,507.5L694.4,504.7Z" fill="#00f47e"/><path d="M601.7,502.3L606.7,507.4L611.4,505.2L606.4,500.1Z" fill="#0afa30"/><path d="M611.4,505.2L616.4,510.0L621.0,507.7L616.0,502.8Z" fill="#00f944"/><path d="M621.0,507.7L625.9,512.3L630.4,509.8L625.5,505.2Z" fill="#00f757"/><path d="M630.4,509.8L635.4,514.2L639.8,511.5L634.9,507.2Z" fill="#00f667"/><path d="M639.8,511.5L644.8,515.7L649.2,512.8L644.2,508.7Z" fill="#00f57c"/><path d="M649.2,512.8L654.2,516.7L658.5,513.6L653.5,509.8Z" fill="#00f38e"/><path d="M658.5,513.6L663.5,517.2L667.7,513.9L662.7,510.4Z" fill="#00f29a"/><path d="M667.7,513.9L672.7,517.3L676.9,513.7L671.9,510.4Z" fill="#00f29f"/><path d="M676.9,513.7L682.0,516.8L686.2,513.0L681.1,510.0Z" fill="#00f29e"/><path d="M686.2,513.0L691.3,515.9L695.4,511.8L690.3,509.0Z" fill="#00f396"/><path d="M695.4,511.8L700.5,514.4L704.6,510.1L699.5,507.5Z" fill="#00f488"/><path d="M597.0,504.5L602.0,509.5L606.7,507.4L601.7,502.3Z" fill="#0dfa2f"/><path d="M616.4,510.0L621.4,514.6L625.9,512.3L621.0,507.7Z" fill="#00f757"/><path d="M635.4,514.2L640.4,518.3L644.8,515.7L639.8,511.5Z" fill="#00f481"/><path d="M654.2,516.7L659.2,520.3L663.5,517.2L658.5,513.6Z" fill="#00f2a5"/><path d="M672.7,517.3L677.8,520.4L682.0,516.8L676.9,513.7Z" fill="#00f1af"/><path d="M691.3,515.9L696.4,518.5L700.5,514.4L695.4,511.8Z" fill="#00f2a0"/><path d="M606.7,507.4L611.7,512.2L616.4,510.0L611.4,505.2Z" fill="#00f944"/><path d="M625.9,512.3L630.9,516.7L635.4,514.2L630.4,509.8Z" fill="#00f669"/><path d="M644.8,515.7L649.8,519.6L654.2,516.7L649.2,512.8Z" fill="#00f396"/><path d="M663.5,517.2L668.5,520.6L672.7,517.3L667.7,513.9Z" fill="#00f1ad"/><path d="M682.0,516.8L687.1,519.7L691.3,515.9L686.2,513.0Z" fill="#00f1ab"/><path d="M700.5,514.4L705.7,516.8L709.8,512.5L704.6,510.1Z" fill="#00f38f"/><path d="M592.2,506.5L597.2,511.4L602.0,509.5L597.0,504.5Z" fill="#14fa2e"/><path d="M602.0,509.5L607.0,514.2L611.7,512.2L606.7,507.4Z" fill="#00f942"/><path d="M611.7,512.2L616.8,516.7L621.4,514.6L616.4,510.0Z" fill="#00f756"/><path d="M621.4,514.6L626.4,518.9L630.9,516.7L625.9,512.3Z" fill="#00f669"/><path d="M630.9,516.7L635.9,520.8L640.4,518.3L635.4,514.2Z" fill="#00f483"/><path d="M640.4,518.3L645.4,522.2L649.8,519.6L644.8,515.7Z" fill="#00f29a"/><path d="M649.8,519.6L654.9,523.2L659.2,520.3L654.2,516.7Z" fill="#00f1ac"/><path d="M659.2,520.3L664.2,523.7L668.5,520.6L663.5,517.2Z" fill="#00f0b8"/><path d="M668.5,520.6L673.6,523.8L677.8,520.4L672.7,517.3Z" fill="#00f0bd"/><path d="M677.8,520.4L682.9,523.3L687.1,519.7L682.0,516.8Z" fill="#00f0bc"/><path d="M687.1,519.7L692.3,522.4L696.4,518.5L691.3,515.9Z" fill="#00f0b5"/><path d="M696.4,518.5L701.6,521.0L705.7,516.8L700.5,514.4Z" fill="#00f1a7"/><path d="M705.7,516.8L711.0,519.1L715.1,514.7L709.8,512.5Z" fill="#00f393"/><path d="M587.3,508.5L592.4,513.3L597.2,511.4L592.2,506.5Z" fill="#1efa2c"/><path d="M607.0,514.2L612.1,518.7L616.8,516.7L611.7,512.2Z" fill="#00f854"/><path d="M626.4,518.9L631.4,523.1L635.9,520.8L630.9,516.7Z" fill="#00f482"/><path d="M645.4,522.2L650.5,525.9L654.9,523.2L649.8,519.6Z" fill="#00f1b1"/><path d="M664.2,523.7L669.3,526.9L673.6,523.8L668.5,520.6Z" fill="#00efc7"/><path d="M682.9,523.3L688.1,526.0L692.3,522.4L687.1,519.7Z" fill="#00efc6"/><path d="M701.6,521.0L706.8,523.2L711.0,519.1L705.7,516.8Z" fill="#00f1ab"/><path d="M597.2,511.4L602.3,516.1L607.0,514.2L602.0,509.5Z" fill="#00f93f"/><path d="M616.8,516.7L621.8,521.1L626.4,518.9L621.4,514.6Z" fill="#00f667"/><path d="M635.9,520.8L641.0,524.7L645.4,522.2L640.4,518.3Z" fill="#00f29c"/><path d="M654.9,523.2L659.9,526.6L664.2,523.7L659.2,520.3Z" fill="#00f0bf"/><path d="M673.6,523.8L678.7,526.7L682.9,523.3L677.8,520.4Z" fill="#00efc8"/><path d="M692.3,522.4L697.4,524.9L701.6,521.0L696.4,518.5Z" fill="#00f0bc"/><path d="M711.0,519.1L716.3,521.1L720.4,516.7L715.1,514.7Z" fill="#00f395"/><path d="M592.4,513.3L597.4,517.8L602.3,516.1L597.2,511.4Z" fill="#00f93b"/><path d="M612.1,518.7L617.1,523.0L621.8,521.1L616.8,516.7Z" fill="#00f665"/><path d="M582.4,510.3L587.4,515.0L592.4,513.3L587.3,508.5Z" fill="#2cfa29"/><path d="M631.4,523.1L636.5,527.0L641.0,524.7L635.9,520.8Z" fill="#00f29b"/><path d="M641.0,524.7L646.0,528.4L650.5,525.9L645.4,522.2Z" fill="#00f1b2"/><path d="M650.5,525.9L655.6,529.3L659.9,526.6L654.9,523.2Z" fill="#00efc3"/><path d="M659.9,526.6L665.0,529.8L669.3,526.9L664.2,523.7Z" fill="#00efcc"/><path d="M669.3,526.9L674.4,529.9L678.7,526.7L673.6,523.8Z" fill="#00efcf"/><path d="M678.7,526.7L683.9,529.5L688.1,526.0L682.9,523.3Z" fill="#00efcf"/><path d="M688.1,526.0L693.3,528.5L697.4,524.9L692.3,522.4Z" fill="#00efca"/><path d="M697.4,524.9L702.7,527.1L706.8,523.2L701.6,521.0Z" fill="#00f0c0"/><path d="M706.8,523.2L712.1,525.3L716.3,521.1L711.0,519.1Z" fill="#00f1ac"/><path d="M716.3,521.1L721.6,523.0L725.7,518.6L720.4,516.7Z" fill="#00f393"/><path d="M602.3,516.1L607.3,520.5L612.1,518.7L607.0,514.2Z" fill="#00f851"/><path d="M621.8,521.1L626.8,525.2L631.4,523.1L626.4,518.9Z" fill="#00f47f"/><path d="M636.5,527.0L641.6,530.6L646.0,528.4L641.0,524.7Z" fill="#00f1b1"/><path d="M655.6,529.3L660.7,532.5L665.0,529.8L659.9,526.6Z" fill="#00efce"/><path d="M674.4,529.9L679.6,532.6L683.9,529.5L678.7,526.7Z" fill="#00eed5"/><path d="M693.3,528.5L698.5,530.8L702.7,527.1L697.4,524.9Z" fill="#00efcd"/><path d="M712.1,525.3L717.5,527.1L721.6,523.0L716.3,521.1Z" fill="#00f1ab"/><path d="M597.4,517.8L602.5,522.2L607.3,520.5L602.3,516.1Z" fill="#00f84c"/><path d="M617.1,523.0L622.2,527.0L626.8,525.2L621.8,521.1Z" fill="#00f579"/><path d="M577.3,512.0L582.4,516.5L587.4,515.0L582.4,510.3Z" fill="#3cfa26"/><path d="M587.4,515.0L592.5,519.4L597.4,517.8L592.4,513.3Z" fill="#00fa36"/><path d="M607.3,520.5L612.4,524.8L617.1,523.0L612.1,518.7Z" fill="#00f760"/><path d="M626.8,525.2L631.9,529.0L636.5,527.0L631.4,523.1Z" fill="#00f397"/><path d="M646.0,528.4L651.1,531.8L655.6,529.3L650.5,525.9Z" fill="#00efc5"/><path d="M665.0,529.8L670.2,532.8L674.4,529.9L669.3,526.9Z" fill="#00eed4"/><path d="M683.9,529.5L689.1,532.0L693.3,528.5L688.1,526.0Z" fill="#00eed3"/><path d="M702.7,527.1L708.0,529.2L712.1,525.3L706.8,523.2Z" fill="#00f0c1"/><path d="M721.6,523.0L727.1,524.6L731.2,520.3L725.7,518.6Z" fill="#00f390"/><path d="M602.5,522.2L607.6,526.3L612.4,524.8L607.3,520.5Z" fill="#00f75b"/><path d="M572.2,513.6L577.3,518.0L582.4,516.5L577.3,512.0Z" fill="#50fb22"/><path d="M582.4,516.5L587.5,520.9L592.5,519.4L587.4,515.0Z" fill="#07fa31"/><path d="M592.5,519.4L597.6,523.7L602.5,522.2L597.4,517.8Z" fill="#00f946"/><path d="M622.2,527.0L627.3,530.9L631.9,529.0L626.8,525.2Z" fill="#00f391"/><path d="M631.9,529.0L637.0,532.6L641.6,530.6L636.5,527.0Z" fill="#00f1ac"/><path d="M641.6,530.6L646.7,534.0L651.1,531.8L646.0,528.4Z" fill="#00efc3"/><path d="M651.1,531.8L656.3,535.0L660.7,532.5L655.6,529.3Z" fill="#00efcf"/><path d="M660.7,532.5L665.8,535.5L670.2,532.8L665.0,529.8Z" fill="#00eed6"/><path d="M670.2,532.8L675.3,535.6L679.6,532.6L674.4,529.9Z" fill="#00eeda"/><path d="M679.6,532.6L684.8,535.1L689.1,532.0L683.9,529.5Z" fill="#00eed9"/><path d="M689.1,532.0L694.3,534.2L698.5,530.8L693.3,528.5Z" fill="#00eed5"/><path d="M698.5,530.8L703.9,532.9L708.0,529.2L702.7,527.1Z" fill="#00efcd"/><path d="M708.0,529.2L713.4,531.0L717.5,527.1L712.1,525.3Z" fill="#00f0bf"/><path d="M717.5,527.1L723.0,528.8L727.1,524.6L721.6,523.0Z" fill="#00f1a7"/><path d="M727.1,524.6L732.6,526.1L736.7,521.7L731.2,520.3Z" fill="#00f48a"/><path d="M612.4,524.8L617.5,528.7L622.2,527.0L617.1,523.0Z" fill="#00f571"/><path d="M627.3,530.9L632.4,534.5L637.0,532.6L631.9,529.0Z" fill="#00f2a5"/><path d="M646.7,534.0L651.8,537.2L656.3,535.0L651.1,531.8Z" fill="#00efcd"/><path d="M665.8,535.5L671.0,538.2L675.3,535.6L670.2,532.8Z" fill="#00eedc"/><path d="M684.8,535.1L690.1,537.4L694.3,534.2L689.1,532.0Z" fill="#00eedc"/><path d="M703.9,532.9L709.2,534.7L713.4,531.0L708.0,529.2Z" fill="#00efcc"/><path d="M723.0,528.8L728.5,530.2L732.6,526.1L727.1,524.6Z" fill="#00f2a0"/><path d="M607.6,526.3L612.7,530.2L617.5,528.7L612.4,524.8Z" fill="#00f668"/><path d="M567.0,515.1L572.1,519.3L577.3,518.0L572.2,513.6Z" fill="#66fb1e"/><path d="M577.3,518.0L582.4,522.2L587.5,520.9L582.4,516.5Z" fill="#1ffa2c"/><path d="M587.5,520.9L592.6,525.0L597.6,523.7L592.5,519.4Z" fill="#00f93e"/><path d="M597.6,523.7L602.7,527.7L607.6,526.3L602.5,522.2Z" fill="#00f854"/><path d="M617.5,528.7L622.6,532.5L627.3,530.9L622.2,527.0Z" fill="#00f487"/><path d="M637.0,532.6L642.1,536.0L646.7,534.0L641.6,530.6Z" fill="#00f0be"/><path d="M656.3,535.0L661.4,538.0L665.8,535.5L660.7,532.5Z" fill="#00eed6"/><path d="M675.3,535.6L680.6,538.1L684.8,535.1L679.6,532.6Z" fill="#00edde"/><path d="M694.3,534.2L699.7,536.3L703.9,532.9L698.5,530.8Z" fill="#00eed6"/><path d="M713.4,531.0L718.8,532.6L723.0,528.8L717.5,527.1Z" fill="#00f0ba"/><path d="M732.6,526.1L738.2,527.3L742.2,523.0L736.7,521.7Z" fill="#00f481"/><path d="M561.8,516.5L566.9,520.4L572.1,519.3L567.0,515.1Z" fill="#80fb19"/><path d="M572.1,519.3L577.2,523.3L582.4,522.2L577.3,518.0Z" fill="#3afa26"/><path d="M582.4,522.2L587.5,526.1L592.6,525.0L587.5,520.9Z" fill="#00fa36"/><path d="M592.6,525.0L597.7,528.9L602.7,527.7L597.6,523.7Z" fill="#00f84c"/><path d="M602.7,527.7L607.8,531.5L612.7,530.2L607.6,526.3Z" fill="#00f761"/><path d="M612.7,530.2L617.8,533.9L622.6,532.5L617.5,528.7Z" fill="#00f57b"/><path d="M622.6,532.5L627.7,536.1L632.4,534.5L627.3,530.9Z" fill="#00f29a"/><path d="M632.4,534.5L637.5,537.8L642.1,536.0L637.0,532.6Z" fill="#00f0b5"/><path d="M642.1,536.0L647.3,539.2L651.8,537.2L646.7,534.0Z" fill="#00efca"/><path d="M651.8,537.2L657.0,540.2L661.4,538.0L656.3,535.0Z" fill="#00eed5"/><path d="M661.4,538.0L666.6,540.7L671.0,538.2L665.8,535.5Z" fill="#00eedc"/><path d="M671.0,538.2L676.3,540.7L680.6,538.1L675.3,535.6Z" fill="#00ede0"/><path d="M680.6,538.1L685.9,540.3L690.1,537.4L684.8,535.1Z" fill="#00ede0"/><path d="M690.1,537.4L695.5,539.4L699.7,536.3L694.3,534.2Z" fill="#00eedc"/><path d="M699.7,536.3L705.1,538.1L709.2,534.7L703.9,532.9Z" fill="#00eed4"/><path d="M709.2,534.7L714.7,536.3L718.8,532.6L713.4,531.0Z" fill="#00efc9"/><path d="M718.8,532.6L724.3,534.1L728.5,530.2L723.0,528.8Z" fill="#00f1b3"/><path d="M728.5,530.2L734.1,531.4L738.2,527.3L732.6,526.1Z" fill="#00f396"/><path d="M738.2,527.3L743.8,528.4L747.9,524.2L742.2,523.0Z" fill="#00f575"/><path d="M617.8,533.9L623.0,537.4L627.7,536.1L622.6,532.5Z" fill="#00f38d"/><path d="M637.5,537.8L642.7,541.0L647.3,539.2L642.1,536.0Z" fill="#00efc3"/><path d="M657.0,540.2L662.2,542.9L666.6,540.7L661.4,538.0Z" fill="#00eeda"/><path d="M676.3,540.7L681.6,543.0L685.9,540.3L680.6,538.1Z" fill="#00ede2"/><path d="M695.5,539.4L700.8,541.3L705.1,538.1L699.7,536.3Z" fill="#00eeda"/><path d="M714.7,536.3L720.2,537.7L724.3,534.1L718.8,532.6Z" fill="#00efc2"/><path d="M734.1,531.4L739.7,532.4L743.8,528.4L738.2,527.3Z" fill="#00f48a"/><path d="M566.9,520.4L572.0,524.2L577.2,523.3L572.1,519.3Z" fill="#59fb20"/><path d="M577.2,523.3L582.4,527.1L587.5,526.1L582.4,522.2Z" fill="#13fa2e"/><path d="M587.5,526.1L592.7,529.9L597.7,528.9L592.6,525.0Z" fill="#00f942"/><path d="M597.7,528.9L602.8,532.6L607.8,531.5L602.7,527.7Z" fill="#00f757"/><path d="M607.8,531.5L612.9,535.2L617.8,533.9L612.7,530.2Z" fill="#00f66b"/><path d="M627.7,536.1L632.9,539.4L637.5,537.8L632.4,534.5Z" fill="#00f1aa"/><path d="M647.3,539.2L652.5,542.1L657.0,540.2L651.8,537.2Z" fill="#00eed1"/><path d="M666.6,540.7L671.9,543.2L676.3,540.7L671.0,538.2Z" fill="#00ede0"/><path d="M685.9,540.3L691.2,542.4L695.5,539.4L690.1,537.4Z" fill="#00ede0"/><path d="M705.1,538.1L710.5,539.7L714.7,536.3L709.2,534.7Z" fill="#00eed0"/><path d="M724.3,534.1L729.9,535.2L734.1,531.4L728.5,530.2Z" fill="#00f1a8"/><path d="M612.9,535.2L618.1,538.6L623.0,537.4L617.8,533.9Z" fill="#00f57c"/><path d="M572.0,524.2L577.1,527.9L582.4,527.1L577.2,523.3Z" fill="#36fa27"/><path d="M582.4,527.1L587.5,530.7L592.7,529.9L587.5,526.1Z" fill="#00fa37"/><path d="M592.7,529.9L597.8,533.5L602.8,532.6L597.7,528.9Z" fill="#00f84d"/><path d="M623.0,537.4L628.1,540.7L632.9,539.4L627.7,536.1Z" fill="#00f29c"/><path d="M632.9,539.4L638.1,542.5L642.7,541.0L637.5,537.8Z" fill="#00f0b7"/><path d="M642.7,541.0L647.9,543.9L652.5,542.1L647.3,539.2Z" fill="#00efcb"/><path d="M652.5,542.1L657.7,544.8L662.2,542.9L657.0,540.2Z" fill="#00eed6"/><path d="M662.2,542.9L667.5,545.4L671.9,543.2L666.6,540.7Z" fill="#00eddd"/><path d="M671.9,543.2L677.2,545.5L681.6,543.0L676.3,540.7Z" fill="#00ede1"/><path d="M681.6,543.0L686.9,545.1L691.2,542.4L685.9,540.3Z" fill="#00ede1"/><path d="M691.2,542.4L696.6,544.2L700.8,541.3L695.5,539.4Z" fill="#00eddd"/><path d="M700.8,541.3L706.3,542.8L710.5,539.7L705.1,538.1Z" fill="#00eed6"/><path d="M710.5,539.7L716.0,541.1L720.2,537.7L714.7,536.3Z" fill="#00efcb"/><path d="M720.2,537.7L725.8,538.8L729.9,535.2L724.3,534.1Z" fill="#00f0b7"/><path d="M729.9,535.2L735.6,536.2L739.7,532.4L734.1,531.4Z" fill="#00f29b"/><path d="M602.8,532.6L608.0,536.2L612.9,535.2L607.8,531.5Z" fill="#00f761"/><path d="M628.1,540.7L633.3,543.7L638.1,542.5L632.9,539.4Z" fill="#00f1a7"/><path d="M647.9,543.9L653.2,546.6L657.7,544.8L652.5,542.1Z" fill="#00eecf"/><path d="M667.5,545.4L672.8,547.6L677.2,545.5L671.9,543.2Z" fill="#00edde"/><path d="M686.9,545.1L692.3,546.8L696.6,544.2L691.2,542.4Z" fill="#00eddf"/><path d="M706.3,542.8L711.9,544.2L716.0,541.1L710.5,539.7Z" fill="#00eed0"/><path d="M725.8,538.8L731.5,539.8L735.6,536.2L729.9,535.2Z" fill="#00f1a9"/><path d="M608.0,536.2L613.2,539.5L618.1,538.6L612.9,535.2Z" fill="#00f66a"/><path d="M577.1,527.9L582.2,531.3L587.5,530.7L582.4,527.1Z" fill="#18fa2d"/><path d="M587.5,530.7L592.7,534.2L597.8,533.5L592.7,529.9Z" fill="#00f940"/><path d="M597.8,533.5L603.0,536.9L608.0,536.2L602.8,532.6Z" fill="#00f756"/><path d="M618.1,538.6L623.3,541.8L628.1,540.7L623.0,537.4Z" fill="#00f48a"/><path d="M638.1,542.5L643.3,545.4L647.9,543.9L642.7,541.0Z" fill="#00f0c1"/><path d="M657.7,544.8L663.0,547.3L667.5,545.4L662.2,542.9Z" fill="#00eed9"/><path d="M677.2,545.5L682.6,547.5L686.9,545.1L681.6,543.0Z" fill="#00ede1"/><path d="M696.6,544.2L702.1,545.8L706.3,542.8L700.8,541.3Z" fill="#00eed9"/><path d="M716.0,541.1L721.7,542.2L725.8,538.8L720.2,537.7Z" fill="#00efc2"/><path d="M603.0,536.9L608.2,540.2L613.2,539.5L608.0,536.2Z" fill="#00f75d"/><path d="M623.3,541.8L628.5,544.8L633.3,543.7L628.1,540.7Z" fill="#00f395"/><path d="M582.2,531.3L587.4,534.6L592.7,534.2L587.5,530.7Z" fill="#00fa33"/><path d="M633.3,543.7L638.6,546.6L643.3,545.4L638.1,542.5Z" fill="#00f1b0"/><path d="M643.3,545.4L648.6,548.0L653.2,546.6L647.9,543.9Z" fill="#00efc7"/><path d="M653.2,546.6L658.5,549.0L663.0,547.3L657.7,544.8Z" fill="#00eed2"/><path d="M663.0,547.3L668.4,549.6L672.8,547.6L667.5,545.4Z" fill="#00eeda"/><path d="M672.8,547.6L678.2,549.7L682.6,547.5L677.2,545.5Z" fill="#00edde"/><path d="M682.6,547.5L688.0,549.3L692.3,546.8L686.9,545.1Z" fill="#00edde"/><path d="M692.3,546.8L697.8,548.4L702.1,545.8L696.6,544.2Z" fill="#00eeda"/><path d="M702.1,545.8L707.6,547.1L711.9,544.2L706.3,542.8Z" fill="#00eed3"/><path d="M711.9,544.2L717.5,545.3L721.7,542.2L716.0,541.1Z" fill="#00efc8"/><path d="M721.7,542.2L727.4,543.1L731.5,539.8L725.8,538.8Z" fill="#00f1b3"/><path d="M592.7,534.2L597.8,537.5L603.0,536.9L597.8,533.5Z" fill="#00f849"/><path d="M613.2,539.5L618.4,542.6L623.3,541.8L618.1,538.6Z" fill="#00f575"/><path d="M597.8,537.5L603.1,540.6L608.2,540.2L603.0,536.9Z" fill="#00f84f"/><path d="M618.4,542.6L623.7,545.5L628.5,544.8L623.3,541.8Z" fill="#00f47f"/><path d="M638.6,546.6L643.9,549.2L648.6,548.0L643.3,545.4Z" fill="#00f0b6"/><path d="M658.5,549.0L663.8,551.2L668.4,549.6L663.0,547.3Z" fill="#00eed2"/><path d="M678.2,549.7L683.6,551.4L688.0,549.3L682.6,547.5Z" fill="#00eedb"/><path d="M697.8,548.4L703.4,549.7L707.6,547.1L702.1,545.8Z" fill="#00eed4"/><path d="M717.5,545.3L723.2,546.2L727.4,543.1L721.7,542.2Z" fill="#00f0ba"/><path d="M587.4,534.6L592.6,537.8L597.8,537.5L592.7,534.2Z" fill="#00f93a"/><path d="M608.2,540.2L613.4,543.2L618.4,542.6L613.2,539.5Z" fill="#00f664"/><path d="M628.5,544.8L633.8,547.6L638.6,546.6L633.3,543.7Z" fill="#00f29d"/><path d="M648.6,548.0L653.9,550.4L658.5,549.0L653.2,546.6Z" fill="#00efc9"/><path d="M668.4,549.6L673.8,551.6L678.2,549.7L672.8,547.6Z" fill="#00eed8"/><path d="M688.0,549.3L693.5,550.8L697.8,548.4L692.3,546.8Z" fill="#00eed9"/><path d="M707.6,547.1L713.3,548.2L717.5,545.3L711.9,544.2Z" fill="#00efcb"/><path d="M592.6,537.8L597.8,540.8L603.1,540.6L597.8,537.5Z" fill="#00f93f"/><path d="M603.1,540.6L608.3,543.5L613.4,543.2L608.2,540.2Z" fill="#00f755"/><path d="M613.4,543.2L618.7,546.0L623.7,545.5L618.4,542.6Z" fill="#00f668"/><path d="M623.7,545.5L628.9,548.3L633.8,547.6L628.5,544.8Z" fill="#00f486"/><path d="M633.8,547.6L639.1,550.1L643.9,549.2L638.6,546.6Z" fill="#00f2a2"/><path d="M643.9,549.2L649.2,551.6L653.9,550.4L648.6,548.0Z" fill="#00f0b9"/><path d="M653.9,550.4L659.3,552.6L663.8,551.2L658.5,549.0Z" fill="#00efc9"/><path d="M663.8,551.2L669.3,553.2L673.8,551.6L668.4,549.6Z" fill="#00eed1"/><path d="M673.8,551.6L679.2,553.3L683.6,551.4L678.2,549.7Z" fill="#00eed5"/><path d="M683.6,551.4L689.2,553.0L693.5,550.8L688.0,549.3Z" fill="#00eed6"/><path d="M693.5,550.8L699.1,552.1L703.4,549.7L697.8,548.4Z" fill="#00eed2"/><path d="M703.4,549.7L709.0,550.8L713.3,548.2L707.6,547.1Z" fill="#00efcb"/><path d="M713.3,548.2L719.0,549.0L723.2,546.2L717.5,545.3Z" fill="#00f0be"/><path d="M608.3,543.5L613.6,546.3L618.7,546.0L613.4,543.2Z" fill="#00f758"/><path d="M628.9,548.3L634.3,550.8L639.1,550.1L633.8,547.6Z" fill="#00f48a"/><path d="M649.2,551.6L654.6,553.8L659.3,552.6L653.9,550.4Z" fill="#00f0b9"/><path d="M669.3,553.2L674.7,555.0L679.2,553.3L673.8,551.6Z" fill="#00efcd"/><path d="M689.2,553.0L694.7,554.3L699.1,552.1L693.5,550.8Z" fill="#00efcf"/><path d="M709.0,550.8L714.8,551.6L719.0,549.0L713.3,548.2Z" fill="#00f0be"/><path d="M597.8,540.8L603.1,543.6L608.3,543.5L603.1,540.6Z" fill="#00f944"/><path d="M618.7,546.0L624.0,548.7L628.9,548.3L623.7,545.5Z" fill="#00f66b"/><path d="M639.1,550.1L644.5,552.5L649.2,551.6L643.9,549.2Z" fill="#00f2a4"/><path d="M659.3,552.6L664.7,554.6L669.3,553.2L663.8,551.2Z" fill="#00efc7"/><path d="M679.2,553.3L684.7,554.9L689.2,553.0L683.6,551.4Z" fill="#00eed0"/><path d="M699.1,552.1L704.7,553.2L709.0,550.8L703.4,549.7Z" fill="#00efc9"/><path d="M603.1,543.6L608.4,546.3L613.6,546.3L608.3,543.5Z" fill="#00f847"/><path d="M613.6,546.3L618.9,548.9L624.0,548.7L618.7,546.0Z" fill="#00f75b"/><path d="M624.0,548.7L629.3,551.2L634.3,550.8L628.9,548.3Z" fill="#00f66e"/><path d="M634.3,550.8L639.7,553.1L644.5,552.5L639.1,550.1Z" fill="#00f38b"/><path d="M644.5,552.5L649.9,554.6L654.6,553.8L649.2,551.6Z" fill="#00f2a3"/><path d="M654.6,553.8L660.1,555.7L664.7,554.6L659.3,552.6Z" fill="#00f0b5"/><path d="M664.7,554.6L670.2,556.4L674.7,555.0L669.3,553.2Z" fill="#00efc2"/><path d="M674.7,555.0L680.3,556.5L684.7,554.9L679.2,553.3Z" fill="#00efc8"/><path d="M684.7,554.9L690.3,556.2L694.7,554.3L689.2,553.0Z" fill="#00efc9"/><path d="M694.7,554.3L700.4,555.3L704.7,553.2L699.1,552.1Z" fill="#00efc5"/><path d="M704.7,553.2L710.5,554.0L714.8,551.6L709.0,550.8Z" fill="#00f0ba"/><path d="M618.9,548.9L624.3,551.3L629.3,551.2L624.0,548.7Z" fill="#00f75c"/><path d="M639.7,553.1L645.1,555.2L649.9,554.6L644.5,552.5Z" fill="#00f489"/><path d="M660.1,555.7L665.6,557.5L670.2,556.4L664.7,554.6Z" fill="#00f1af"/><path d="M680.3,556.5L685.9,557.8L690.3,556.2L684.7,554.9Z" fill="#00f0bd"/><path d="M700.4,555.3L706.2,556.1L710.5,554.0L704.7,553.2Z" fill="#00f1b4"/><path d="M608.4,546.3L613.8,548.8L618.9,548.9L613.6,546.3Z" fill="#00f848"/><path d="M629.3,551.2L634.7,553.4L639.7,553.1L634.3,550.8Z" fill="#00f66f"/><path d="M649.9,554.6L655.4,556.6L660.1,555.7L654.6,553.8Z" fill="#00f29f"/><path d="M670.2,556.4L675.8,557.9L680.3,556.5L674.7,555.0Z" fill="#00f0b9"/><path d="M690.3,556.2L696.0,557.2L700.4,555.3L694.7,554.3Z" fill="#00f0bc"/><path d="M613.8,548.8L619.1,551.1L624.3,551.3L618.9,548.9Z" fill="#00f849"/><path d="M624.3,551.3L629.7,553.5L634.7,553.4L629.3,551.2Z" fill="#00f75c"/><path d="M634.7,553.4L640.2,555.5L645.1,555.2L639.7,553.1Z" fill="#00f66c"/><path d="M645.1,555.2L650.6,557.1L655.4,556.6L649.9,554.6Z" fill="#00f485"/><path d="M655.4,556.6L660.9,558.3L665.6,557.5L660.1,555.7Z" fill="#00f398"/><path d="M665.6,557.5L671.2,559.0L675.8,557.9L670.2,556.4Z" fill="#00f2a5"/><path d="M675.8,557.9L681.4,559.2L685.9,557.8L680.3,556.5Z" fill="#00f1ad"/><path d="M685.9,557.8L691.6,558.8L696.0,557.2L690.3,556.2Z" fill="#00f1ae"/><path d="M696.0,557.2L701.8,558.0L706.2,556.1L700.4,555.3Z" fill="#00f1aa"/><path d="M629.7,553.5L635.2,555.5L640.2,555.5L634.7,553.4Z" fill="#00f75a"/><path d="M650.6,557.1L656.1,558.8L660.9,558.3L655.4,556.6Z" fill="#00f47d"/><path d="M671.2,559.0L676.8,560.3L681.4,559.2L675.8,557.9Z" fill="#00f299"/><path d="M691.6,558.8L697.4,559.6L701.8,558.0L696.0,557.2Z" fill="#00f29c"/><path d="M619.1,551.1L624.6,553.2L629.7,553.5L624.3,551.3Z" fill="#00f848"/><path d="M640.2,555.5L645.7,557.4L650.6,557.1L645.1,555.2Z" fill="#00f669"/><path d="M660.9,558.3L666.5,559.8L671.2,559.0L665.6,557.5Z" fill="#00f38e"/><path d="M681.4,559.2L687.1,560.2L691.6,558.8L685.9,557.8Z" fill="#00f29e"/><path d="M624.6,553.2L630.1,555.2L635.2,555.5L629.7,553.5Z" fill="#00f946"/><path d="M635.2,555.5L640.7,557.4L645.7,557.4L640.2,555.5Z" fill="#00f757"/><path d="M645.7,557.4L651.3,559.1L656.1,558.8L650.6,557.1Z" fill="#00f665"/><path d="M656.1,558.8L661.7,560.3L666.5,559.8L660.9,558.3Z" fill="#00f573"/><path d="M666.5,559.8L672.2,561.1L676.8,560.3L671.2,559.0Z" fill="#00f481"/><path d="M676.8,560.3L682.5,561.3L687.1,560.2L681.4,559.2Z" fill="#00f48a"/><path d="M687.1,560.2L692.9,561.0L697.4,559.6L691.6,558.8Z" fill="#00f38b"/><path d="M640.7,557.4L646.3,559.1L651.3,559.1L645.7,557.4Z" fill="#00f852"/><path d="M661.7,560.3L667.4,561.6L672.2,561.1L666.5,559.8Z" fill="#00f669"/><path d="M682.5,561.3L688.4,562.1L692.9,561.0L687.1,560.2Z" fill="#00f577"/><path d="M630.1,555.2L635.7,557.1L640.7,557.4L635.2,555.5Z" fill="#00f942"/><path d="M651.3,559.1L656.9,560.6L661.7,560.3L656.1,558.8Z" fill="#00f75f"/><path d="M672.2,561.1L677.9,562.1L682.5,561.3L676.8,560.3Z" fill="#00f572"/><path d="M635.7,557.1L641.3,558.7L646.3,559.1L640.7,557.4Z" fill="#00f93d"/><path d="M646.3,559.1L652.0,560.6L656.9,560.6L651.3,559.1Z" fill="#00f84c"/><path d="M656.9,560.6L662.6,561.9L667.4,561.6L661.7,560.3Z" fill="#00f758"/><path d="M667.4,561.6L673.2,562.7L677.9,562.1L672.2,561.1Z" fill="#00f760"/><path d="M677.9,562.1L683.8,563.0L688.4,562.1L682.5,561.3Z" fill="#00f665"/><path d="M652.0,560.6L657.7,561.9L662.6,561.9L656.9,560.6Z" fill="#00f945"/><path d="M673.2,562.7L679.1,563.5L683.8,563.0L677.9,562.1Z" fill="#00f756"/><path d="M641.3,558.7L647.0,560.2L652.0,560.6L646.3,559.1Z" fill="#00fa37"/><path d="M662.6,561.9L668.4,563.0L673.2,562.7L667.4,561.6Z" fill="#00f84f"/><path d="M647.0,560.2L652.7,561.5L657.7,561.9L652.0,560.6Z" fill="#07fa31"/><path d="M657.7,561.9L663.6,563.0L668.4,563.0L662.6,561.9Z" fill="#00f93c"/><path d="M668.4,563.0L674.3,563.8L679.1,563.5L673.2,562.7Z" fill="#00f945"/><path d="M663.6,563.0L669.5,563.9L674.3,563.8L668.4,563.0Z" fill="#01fa32"/><path d="M652.7,561.5L658.6,562.6L663.6,563.0L657.7,561.9Z" fill="#24fa2b"/><path d="M658.6,562.6L664.5,563.6L669.5,563.9L663.6,563.0Z" fill="#44fb25"/></g>
<circle cx="561.8" cy="516.5" r="1.4" fill="#c00000" stroke="#700" stroke-width="0.4"/>
<circle cx="649.7" cy="472.0" r="1.4" fill="#c00000" stroke="#700" stroke-width="0.4"/>
<circle cx="656.5" cy="537.8" r="1.4" fill="#c00000" stroke="#700" stroke-width="0.4"/>
<circle cx="664.5" cy="564.0" r="1.4" fill="#c00000" stroke="#700" stroke-width="0.4"/>
<circle cx="748.0" cy="524.5" r="1.4" fill="#c00000" stroke="#700" stroke-width="0.4"/>
<text x="564.9" y="596.4" text-anchor="end" font-size="6.2" fill="#222">3</text>
<text x="588.6" y="608.9" text-anchor="end" font-size="6.2" fill="#222">3.5</text>
<text x="612.3" y="621.4" text-anchor="end" font-size="6.2" fill="#222">4</text>
<text x="636.0" y="633.9" text-anchor="end" font-size="6.2" fill="#222">4.5</text>
<text x="659.7" y="646.4" text-anchor="end" font-size="6.2" fill="#222">5</text>
<text x="666.7" y="646.4" text-anchor="start" font-size="6.2" fill="#222">1</text>
<text x="682.5" y="634.6" text-anchor="start" font-size="6.2" fill="#222">1.2</text>
<text x="698.3" y="622.8" text-anchor="start" font-size="6.2" fill="#222">1.4</text>
<text x="714.1" y="611.1" text-anchor="start" font-size="6.2" fill="#222">1.6</text>
<text x="729.9" y="599.3" text-anchor="start" font-size="6.2" fill="#222">1.8</text>
<text x="745.7" y="587.5" text-anchor="start" font-size="6.2" fill="#222">2</text>
<text x="562.3" y="565.0" text-anchor="end" font-size="6.2" fill="#222">60</text>
<text x="561.2" y="552.2" text-anchor="end" font-size="6.2" fill="#222">65</text>
<text x="560.0" y="539.4" text-anchor="end" font-size="6.2" fill="#222">70</text>
<text x="558.8" y="526.7" text-anchor="end" font-size="6.2" fill="#222">75</text>
<text x="557.6" y="513.9" text-anchor="end" font-size="6.2" fill="#222">80</text>
<text x="556.5" y="501.2" text-anchor="end" font-size="6.2" fill="#222">85</text>
<text x="555.3" y="488.4" text-anchor="end" font-size="6.2" fill="#222">90</text>
<text x="526.0" y="457.0" font-size="12" font-weight="bold" fill="#000">(I)</text>
<text x="0.0" y="0.0" font-size="7.5" transform="translate(536,542.6) rotate(-90)" text-anchor="middle" fill="#111">EE</text>
<text x="538.0" y="638.0" font-size="8.7"  fill="#1a1a1a">B: Conc of Tween 80 (%)</text>
<text x="679.0" y="632.0" font-size="8.45"  fill="#1a1a1a">C: Conc of Poloxamer 407<tspan font-size="7.5" dy="0.3">(%)</tspan></text></g>
</svg>
</body></html>
